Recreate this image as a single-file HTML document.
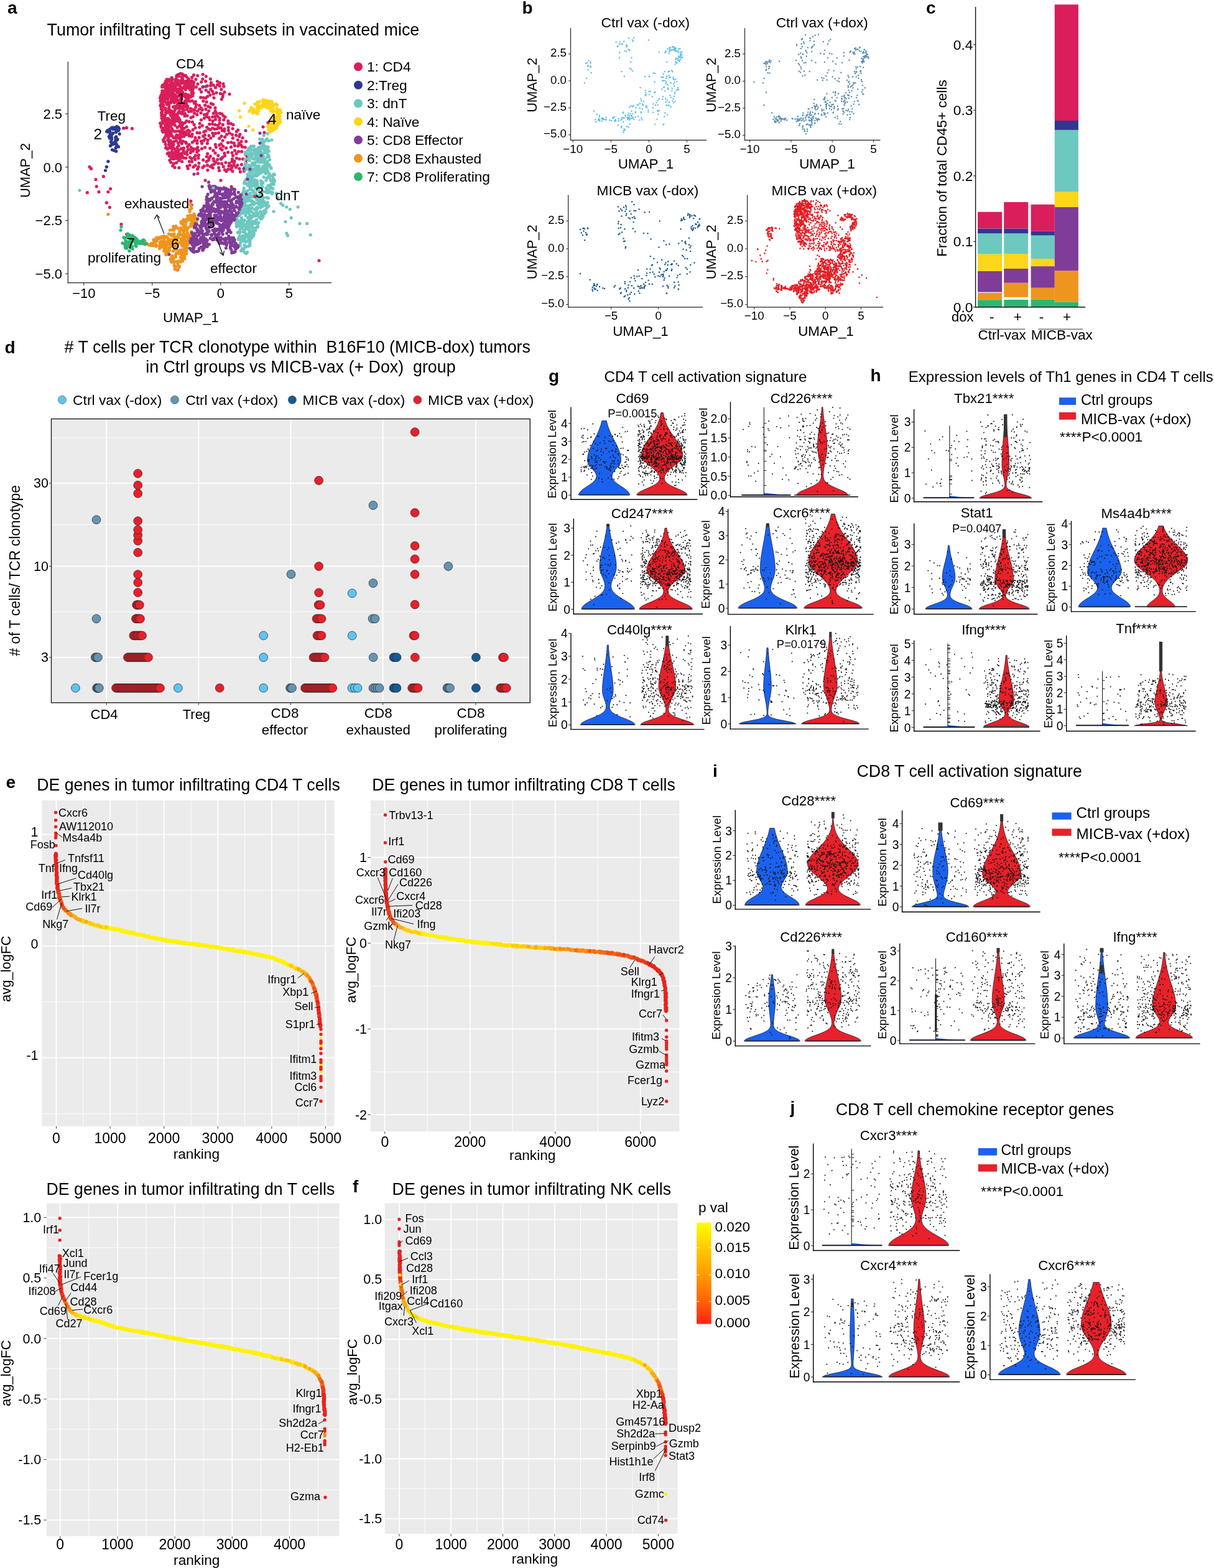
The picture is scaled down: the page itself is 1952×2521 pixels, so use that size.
<!DOCTYPE html><html><head><meta charset="utf-8"><style>html,body{margin:0;padding:0;background:#fff;overflow:hidden;}svg{display:block;}text{font-family:"Liberation Sans",Arial,sans-serif;fill:#000;white-space:pre;}</style></head><body><svg xmlns="http://www.w3.org/2000/svg" width="1952" height="2521" viewBox="0 0 1952 2521"><rect width="100%" height="100%" fill="#fff"/><text x="12" y="22" font-size="28" font-weight="bold">a</text><text x="75.5" y="56.5" font-size="26.9">Tumor infiltrating T cell subsets in vaccinated mice</text><path d="M283.9 121.8h0m1.5-1.1h0m0 1.1h0m1.8-2.2h0m.2 2.9h0m3-4.2h0m2.8.9h0m.4 3.6h0m.9-1h0m2.4-.4h0m1.3-.1h0m13.3-.6h0m6.2.9h0m8.5-2h0m5.1 3.2h0m-63.1 4.9h0m3.8.2h0m.2.1h0m3.9-3.2h0m1.2 2.6h0m4.7 1.4h0m.9-1.7h0m.4-1h0m9-2h0m.2.7h0m.2-1.1h0m.4-.4h0m.7 4h0m6.5-3.5h0m3.1 3.2h0m.1 1.6h0m0-1.4h0m5.2-2.8h0m6.2 3.2h0m10.9-.5h0m12.6-.1h0m-73.3 7h0m1.4-3.4h0m1.6 3.5h0m.7-3.5h0m1.9-1h0m.7 1.1h0m3.1 3.3h0m.6-4.3h0m1.2-.7h0m1 4.5h0m4.2-1.2h0m.1-.5h0m.9.3h0m.1-1.4h0m2 2h0m.2-.8h0m.3 2.2h0m.3-1.2h0m1-3.5h0m3.3 4.7h0m1.4-4.6h0m2 4.5h0m.5-4.9h0m1 3.4h0m.2 1.1h0m2.4-2.3h0m.1 2.7h0m.1.1h0m.5-.4h0m1-3.3h0m3.1 1.3h0m.2-2.6h0m.5 5.5h0m0-4.1h0m.2.1h0m0 1.7h0m1.9 2.7h0m1.7-1.3h0m1.2-2.8h0m.6 1.4h0m0-2.4h0m3.3 2.3h0m12.1-.4h0m6.9-1.3h0m8.9 2.4h0m10.1-2.1h0m3.9 2.4h0m5.4 1.6h0m-98.3 4.5h0m.1.7h0m.6-3h0m.1 2.1h0m1.7 0h0m1-3.5h0m0 2h0m.2.3h0m.1-.3h0m.2-1.7h0m.7 4.6h0m.1-2.4h0m1.6-1.8h0m1.8 2.6h0m.6-3h0m.8 1.7h0m.3.9h0m.4-1.1h0m.1 2.6h0m0-.9h0m.6-2.4h0m.6 1h0m.6-.5h0m1.2-.8h0m.7 3.5h0m.7-4.3h0m.5 4h0m.2-.6h0m2.5-3.4h0m0 2.3h0m.8 1.1h0m.2-2.2h0m.2 3.7h0m.6-2.1h0m1.6.9h0m2.2-2.7h0m.4-1.2h0m.6.9h0m1.1.6h0m3.4 1.9h0m6.7.3h0m1 1.8h0m.4-2.9h0m2.7-2.5h0m.7 3.5h0m1.1-.5h0m.1-2.3h0m0 1.9h0m.1 2.5h0m4.1-.8h0m1.3-1.4h0m1.2.2h0m1.7-.9h0m.2.9h0m0-1.7h0m4.5 3.2h0m2.4-5h0m8.6 4.2h0m6.7-1.2h0m5.3-.6h0m4.7-.7h0m3.3 3.9h0m3.1-4.4h0m3.6 2h0m6.6.6h0m-98.9 7.1h0m2.2.5h0m1.5.3h0m.4-1.3h0m3.1-2.1h0m3.1 2.3h0m0-4.4h0m1.5 4.8h0m1.6.4h0m0-4.6h0m.2.4h0m.4 4.6h0m3-2.4h0m.1.5h0m.7-1h0m.9 1.8h0m2.5-3.8h0m.1-.1h0m.1 3.2h0m1 .3h0m1.8-2h0m.6 1.7h0m2.5.9h0m.5-3.5h0m.4 1.5h0m1.6.1h0m1.1-1.7h0m.5 4.4h0m.5-4.6h0m.6-.3h0m1.1-.8h0m3.7 1.1h0m.1 1.9h0m.8-3h0m4.4.3h0m1-.4h0m1 2h0m.2 1.2h0m1.2-3.1h0m1.6 3.2h0m2.1-1.5h0m10.7.6h0m9.9 1.6h0m7.6-1.5h0m2.8 3.3h0m14.3-3.1h0m-96.5 9.1h0m1.2-3.3h0m1.6.5h0m.7-2.9h0m1.5 5.4h0m1-3h0m.8 3.1h0m1.7-5.5h0m1.4.4h0m0 2.5h0m.3 1.4h0m.6 0h0m1.4.2h0m.1-4.3h0m.9 4h0m3.3.4h0m1-.3h0m.2.9h0m.7-2.8h0m1.1.5h0m5.6-1.4h0m.5-.4h0m.8.5h0m1-1.5h0m1.2 2.4h0m.5-1.8h0m.5 2h0m2.2 2.9h0m.7-3.1h0m.5-1.8h0m1.4.5h0m.9 4h0m.5-.2h0m3.3-1h0m3.8 1.6h0m.2 0h0m5.7-3.6h0m.3-1.3h0m1.3-.6h0m.9 2.5h0m13-1.9h0m11.7.4h0m2.5 4.6h0m5.3-1.8h0m4.8-1.9h0m6.4 1.3h0m4 1.4h0m2.7-3.7h0m7.9 3.2h0m-111.5 6.2h0m.8-2.6h0m.2.2h0m1.5.9h0m.5 2.8h0m1.2-4.7h0m.6-.6h0m.3 4.6h0m.7-.7h0m.7-3.9h0m1.7 3.8h0m.3-3.5h0m.8 2.2h0m.9.1h0m.7 2.5h0m1.7-1.6h0m.1-.8h0m3.2-1.3h0m.5.1h0m2.9-.2h0m.9 3.8h0m1.2.1h0m.3-1.5h0m.1-3.4h0m1.6 3.9h0m1-4.5h0m1 3.7h0m.5 1.5h0m2.3-3.1h0m2.1-2h0m0-.3h0m1.4 1.6h0m1.8 4.1h0m.6-2.5h0m1.2-2.6h0m3.5.3h0m1.3.3h0m.5.1h0m.2 1.1h0m.3 1h0m1.2 2.4h0m2.6.1h0m1.1-2.4h0m1.4-2.5h0m1 2.2h0m.7-.2h0m.9-2.4h0m2.4.3h0m12.8 2.8h0m4.2.3h0m3.7.6h0m3-2.5h0m10.4 2.2h0m14.1-1.5h0m-100.1 6.6h0m.1 0h0m1.1.1h0m.4.8h0m.1-2.5h0m3.4 2.3h0m.5-2.4h0m1.4-.6h0m.1.1h0m2.1 4.7h0m1.7-.1h0m.9-5.2h0m.9 4.7h0m3.8-.7h0m.7-3.9h0m1.4 2.5h0m1 1.4h0m1.4-1.3h0m1.1-2.1h0m.3 4.7h0m1.8-4h0m.3 1.5h0m2.4-1.6h0m.1.3h0m4.5-.5h0m.8 1.7h0m1.3-3.1h0m5.6 3.6h0m.4-.4h0m1.8 1.8h0m1.3-4.1h0m.3 2h0m4.3.6h0m3.7-.5h0m5.2 1.2h0m12.7-.9h0m5.3 1.4h0m24.1-4.3h0m-98.4 10.4h0m.7-2.1h0m2.3-2.3h0m1.3 2.6h0m.4 1.3h0m.4-.3h0m5.3-2.2h0m.7 1.2h0m.6-3.2h0m.9.3h0m.8 1h0m.6 3.5h0m2.7-4.6h0m10.4 3.6h0m.2 1h0m.5-2h0m.4-2.8h0m1.9 3.6h0m2.1-.6h0m5.3 1.1h0m.1-3.2h0m.7 3.4h0m.9.6h0m1.6.1h0m.8-2.3h0m2.3 3h0m10.6-4.7h0m3.1 2.1h0m5.1 1.4h0m9.1-.3h0m9.7-2.9h0m3.2 1.5h0m-83.5 7.5h0m.4-3.4h0m1.1 2.7h0m.7-2.6h0m.7-.7h0m3.8 4.5h0m.5-1.7h0m5.3-.2h0m.1 2h0m6.8-3.9h0m2.2-.8h0m.6 5.3h0m2.1-4.9h0m.2 1.6h0m1.1-.8h0m.8 1.5h0m.5-.8h0m2.7 1.5h0m.8-3h0m1.9.8h0m.3.5h0m.3 1h0m.3.5h0m2-.5h0m.6.1h0m3.7-2.9h0m1.8 4.7h0m.6-1.4h0m5.2.2h0m2.9 1.4h0m5.5-3.4h0m6 2.9h0m2.7-2h0m2 3.1h0m5.7-1h0m3.7-4.5h0m3.3 1.6h0m8 .6h0m-86.5 7.7h0m0 .2h0m1-1.1h0m0 .9h0m.7-3.1h0m5.3 2.5h0m.1 1h0m.5.4h0m1.1-3h0m1.3.7h0m2.1 1.4h0m2.1-3.2h0m1.9 5h0m.2-4.1h0m1.3 1.2h0m3.2-.6h0m6.3 1.8h0m1.2.4h0m.4-2h0m4 3.4h0m.7-3h0m.3 2.9h0m2.4-5.2h0m1.8 5h0m6.2-3.2h0m4.3-.4h0m4.7 3.3h0m0-5.2h0m4.9 1.8h0m5.5 2.7h0m10.2 1.3h0m2.5-4.5h0m7.5 4h0m2.9-4h0m2.2 3.9h0m5.2.1h0m3.3.7h0m-97.1 2.6h0m1.3 2.2h0m.9-.5h0m0-1.3h0m1-.5h0m.2.1h0m2.2-.8h0m9-.8h0m.4 2h0m1.4-.7h0m.8-.9h0m1.9 4.1h0m.7-2h0m.4-2.9h0m.7 1.3h0m0-.6h0m.6 4.2h0m1.9-2.6h0m.3-1.7h0m1.1 1.3h0m.5 0h0m1.2 3.3h0m10.8-2.4h0m4.1-.3h0m9.3 1.4h0m6.4-3.2h0m11.8-.1h0m3.6 3.1h0m3.5 1.6h0m6-.9h0m4.5-.9h0m3.7 0h0m9-1h0m3 2h0m-101.9 1.9h0m1.3 4h0m.3-2.3h0m1.6 1.5h0m1.3-1.5h0m.2 2.1h0m.8-1.4h0m.2-2.9h0m.5 4.3h0m1.3 0h0m1.2-2.5h0m.1 3.3h0m0 .2h0m1.2-4.1h0m.1 1.8h0m.4-1h0m.5-.4h0m2 2.6h0m3.9-.6h0m.1-3.5h0m.8 2.8h0m1 .6h0m.6 1.7h0m.2-5.3h0m.8 2.9h0m.1-.5h0m1.3 1.6h0m2.6.3h0m.5-1.2h0m.6-2h0m2-1h0m1.7 3h0m10.7 2.1h0m7.1-5.6h0m16.4 3.8h0m5-2.9h0m8.9 2.6h0m4.9 2.1h0m4.3-2.7h0m6.4 1.4h0m.2-3.2h0m6.8 2.6h0m7 2h0m-109.2 3.3h0m1.3 2.2h0m2.4-2.5h0m4.3 3.2h0m.9-4.1h0m1.4.7h0m1-.6h0m.4-1.8h0m1.3 1.1h0m.3 3.7h0m.8-4h0m1.7-.8h0m.7.1h0m.3 1.1h0m.7 1.1h0m2.3 2.2h0m.3-4.2h0m1.3 2.8h0m2.3-2.4h0m5.7-.6h0m2.5 2.3h0m2.7-.6h0m1.1 3.3h0m3.8-2.7h0m6.8-1.8h0m5.3.5h0m2.8 4.2h0m9.1-1.8h0m15.6 1.1h0m4.8-.4h0m4.4 1.3h0m7.2-2.3h0m5.1 2.1h0m8.7-2h0m4.3.3h0m3.7 1.8h0m-176.3 5.7h0m4.8-.8h0m8.9 1.3h0m46.5-4.1h0m.4 2.1h0m2.5 1.5h0m4.3-1.4h0m.9-.5h0m1.9-2.6h0m2.5 3.7h0m.3-1.1h0m2.9-1.4h0m2.1 4.1h0m4.6-5.7h0m3.7 3.6h0m3.7-2.6h0m2.9 2.7h0m1.1-3.3h0m3.3 4.6h0m4.1-2.5h0m13.9 1.8h0m6.8-1.1h0m4.5-2.4h0m7.4 2.4h0m9 1.5h0m7.2 1h0m1.5-5.5h0m1.5 3.9h0m3.5.1h0m11.8-.6h0m7 1.9h0m-113.4 2.7h0m.9-1.5h0m.1 4.1h0m3.1-2.6h0m.1 2.8h0m.4-4.1h0m2.5 3.4h0m.5-4.1h0m2.7 1.3h0m3.2 1.5h0m2.2-.3h0m3.3.8h0m1.4.5h0m2.4-.3h0m3.5-.2h0m2.7.2h0m2.7-1.8h0m1.9 2.3h0m4.7.4h0m3.3-2.5h0m2.7 1.9h0m5.1-2.6h0m17.6 3.3h0m3-1.4h0m4.3-3.5h0m3 1.5h0m7-1.1h0m12.1 2.2h0m3.6 1.1h0m0-3.4h0m6.5 2.2h0m13 1.9h0m2.4-2.5h0m-115.9 9.2h0m.1-1h0m.9-1.8h0m2 2.2h0m2.2-4.2h0m.7 4.3h0m1.2.1h0m1.2-3.5h0m2.1 4.5h0m6.2-.3h0m.8-1.4h0m4.3.6h0m1.8-3.6h0m.8.9h0m4.1-.2h0m.7 2.7h0m4-1h0m3.2-1.4h0m1.4 3.3h0m4.5-2.5h0m8.1-2.5h0m4.1.3h0m5.5 5.2h0m2.7-1.7h0m6.5.8h0m5.9-3.8h0m1.4 4.4h0m3.4-4.2h0m4.9-.7h0m4.6 5.2h0m8.5-2.9h0m4.5-2h0m4.4 2.3h0m6.1 1.1h0m6.2-1.3h0m-123.1 8.6h0m2.2-3.3h0m5.9.2h0m8.4 0h0m3.2-.3h0m4.8.5h0m1.4-1.1h0m1 3.2h0m2.3-3.8h0m4-.9h0m12.4 0h0m5.8 2.2h0m6.1-.2h0m9.6 1.9h0m8.9-1h0m14.1.3h0m8.9-2.1h0m12.7 1.6h0m10.2-2.6h0m5.5 2.3h0m-127.1 5.6h0m2 .6h0m4.7-2.7h0m1.9 3.6h0m2.4-2.7h0m4.1 2.5h0m1.8-1h0m3.6-1.4h0m2.9 4h0m2.9-1.6h0m3.2 2.3h0m1.1-3.4h0m.5-.4h0m4.2 1.3h0m1.2 1.9h0m9.7-1.4h0m3.3-2.5h0m4.4-.2h0m.1 4.2h0m6.5-3.2h0m1.1 3.5h0m3-4.6h0m5.8 4.5h0m.7-5.1h0m24 .6h0m8.4 3.3h0m5.2-.5h0m4.5 1.4h0m6.1-5.2h0m2 5.4h0m3.7-3h0m7.7-.1h0m-129.5 4.8h0m1.1 4.7h0m4.3-4h0m1.2 3.9h0m1.5-5.5h0m.1.1h0m.1 2.7h0m2.8-1.5h0m.5 3.5h0m1.2-3.6h0m6 4.5h0m2.3-2.8h0m14.2 1.5h0m2.7-2.9h0m13.6 4.1h0m28.5-4.4h0m1 4.2h0m5.5-3.4h0m2.8-1.7h0m3.1 3.7h0m12.9 1.2h0m5.9-2.1h0m5.3.4h0m4.6-1.6h0m2.2 3.1h0m4.6.6h0m-127.7 1h0m2.8 1.9h0m3.3-2.1h0m3.9 1.6h0m3-.5h0m1.7 1.8h0m5.3.6h0m.5 1.7h0m4.1-3.6h0m3.8-1.2h0m.4 4.5h0m.1-4.5h0m7.2 2h0m4.5 1.6h0m.1-4.6h0m3.3 5.9h0m1.1-3.5h0m4 .2h0m3.6 2.2h0m5.3-2.7h0m5.1-2.1h0m8.2 1.4h0m5.2 3.5h0m11.5-3.1h0m2.6 2.2h0m6.5-3.1h0m14.1 4.3h0m-108.5 4.8h0m1.9-1.5h0m2.8.9h0m.5.3h0m1.9-2.6h0m.2 4.2h0m2.8-2.7h0m3.5-.7h0m1.5-1.5h0m.1 2.7h0m4.1 1.3h0m4-.9h0m4.7.3h0m3.4-3.2h0m.6 5h0m5.1-3.2h0m10.4-.8h0m17 2.4h0m12.4-1h0m14.8.4h0m5.7-1.6h0m6.4.7h0m7.1 1.5h0m3.5-3.5h0m5 .2h0m6.4 4.8h0m-122.8 2.3h0m3.3 2.4h0m.1 1.4h0m3-3.3h0m2.4-.7h0m.7-1.1h0m1.5 4.9h0m1.9-4.2h0m.5 1h0m.2 3.7h0m2.6-3.7h0m.6-1.1h0m1.3 4.5h0m0-.5h0m.6-3.7h0m2.4 1h0m2.2 2.6h0m3.5.1h0m6.5-1.1h0m7.2-.1h0m1.7-2.8h0m4.5 4.1h0m.5-4.8h0m13 2.4h0m4.1 2.1h0m1.8-2.8h0m12.5-.9h0m7 2.7h0m3.8-2.5h0m13-.2h0m5.9 4.1h0m16.9-3h0m-124.5 6.4h0m5.3-2.3h0m1.8-.1h0m7.5 2.8h0m.7-.3h0m4.5 2h0m11.7-.2h0m3.8-4.5h0m.4 4.8h0m5-3.4h0m13.1.7h0m5.5 2.5h0m3.3-2.4h0m7.7-2.1h0m.7 3.3h0m2.9 2.4h0m2.9-4.3h0m6-.6h0m17.2 3.7h0m.6-3.8h0m3.5 3.3h0m8.2-3.6h0m5.5.1h0m5.5 1.3h0m-121.5 4h0m3 5.7h0m1.5-3.5h0m4.4-1.5h0m21.5 3.9h0m8.9.3h0m5.9-3.6h0m8.3 4.7h0m5.3-1.3h0m7.4-.2h0m3.4-1.4h0m6.9-1.3h0m5.4.4h0m6.3-1.9h0m5.1 5.7h0m.6-4.4h0m3.3 3.7h0m4.3-.4h0m.2-3.4h0m5.5 3h0m6.5-.9h0m6.9-2.9h0m-251.3 6.6h0m2.5 2.9h0m134.5-1.9h0m6.8.4h0m13.2-2.4h0m1.2 3.6h0m8.7-2.5h0m6.6 3.4h0m1.7-3.6h0m6.7 1.1h0m12.5-1.4h0m3.9 2.1h0m9.4-.3h0m7.6-1.8h0m7.4 4.4h0m4.2-.2h0m2.1-2.7h0m6.7-.4h0m5.1 2.1h0m-66.8 7.9h0m15.9-5.4h0m18.7.7h0m8.9-1.1h0m2.4 2.3h0m10-.2h0m12.5.9h0m6.1-1.3h0m-226.1 8.8h0m-12.4 4.9h0m176 1.4h0m25 0h0m-199.8 9.8h0m216.8.2h0m-213 8.5h0m14.9 0h0m3.7-5h0m-37.3 6.2h0m31.1 16.2h0m135.4-2.5h0m79.2-1.4h0m-78 7.6h0m-131.6 3.7h0m18.6 27.4h0m8.7 16.1h0m309.3 42.2h0m-227.4 15h0" stroke="#DA1E5C" stroke-width="5.2" stroke-linecap="round" fill="none"/><path d="M179.5 206.4h0m0-1h0m1.7-.2h0m1.9-.2h0m4.5-.8h0m.1-.9h0m2.8 1.6h0m-18.8 6.7h0m1.3-1.7h0m.3 2h0m.1-2.4h0m2.3.3h0m.4 1.8h0m.6-4h0m.2 3.9h0m5.2-3.7h0m4 .3h0m.3 4.3h0m2.1-2.4h0m1.4.1h0m.8-.6h0m.9-2.4h0m-14.6 9.3h0m.8.6h0m.4 1.3h0m1.8-2h0m1.5-2.1h0m10.7 1.1h0m-16.9 4.3h0m1.2.1h0m.1 2.6h0m2.9-1.3h0m.1 3h0m6.1-2.9h0m.3 1.9h0m.8-3.1h0m1.1 4.1h0m1.2-.2h0m-10.7 4.2h0m4.8 1.1h0m1.4.2h0m1.3-3.8h0m.2.7h0m.6 4.7h0m1.3-5.7h0m-10.5 9.2h0m2-2.1h0m2.2-.5h0m3-.7h0m3.3 2.6h0m2.5 2.2h0m-10 4.9h0m2.9 1.1h0m2.8-4.5h0m.6 5.8h0m-12.9 16.4h0m-2.5 8.7h0m-1.9 5.7h0" stroke="#2B3990" stroke-width="5.2" stroke-linecap="round" fill="none"/><path d="M414.1 164h0m.9.8h0m2.4-1.3h0m.4-.3h0m5-2.6h0m.7 2.1h0m.6-2.3h0m2.8 3h0m.7-1.1h0m.9.5h0m.2-1.1h0m1.6 3h0m.3-.7h0m1.6.3h0m1.6-2h0m3.3.8h0m-44.1 2.9h0m16.9 1.1h0m.6.5h0m3.6.6h0m.3-3h0m3.8 5.5h0m4.1-2.2h0m.5.2h0m.4 1.1h0m.2-3.9h0m.5 4.5h0m1.7-2.6h0m.1 2.1h0m1.6.6h0m.5-.6h0m.4-4.6h0m.5-.2h0m.3 1h0m.8 4.4h0m1.6-3.3h0m2.4-1.8h0m.6 3.2h0m3.5-2.1h0m2.1 3.6h0m.4-2.1h0m.3 1h0m3.1-1.6h0m1.8 1.2h0m-41.9 8h0m.1-3.7h0m.3.7h0m.7 2.1h0m2 .7h0m.8-.9h0m5.4 1h0m.6-3.9h0m3.1 1.2h0m4.1-.2h0m5.9-2h0m1.9-.2h0m1.5 1.9h0m.4-2.1h0m1.6 2.8h0m.4-1.8h0m1 .9h0m2.6 2.5h0m1.6.5h0m.4-3.6h0m.8 3.3h0m.3.2h0m5.6-1.8h0m4.9 2.7h0m.7-.4h0m-65.7 1.5h0m16.3 1h0m.5-.7h0m1-1.3h0m3.9 4.7h0m2.5-4.2h0m1.4 2.1h0m1 .5h0m.1.4h0m.5.8h0m1.7-4.1h0m1.6 1.2h0m.9-.4h0m19.3.9h0m3.6.5h0m.1-1.8h0m.5 1.6h0m4.7.2h0m.9-1.7h0m.3 4.4h0m2.1-3.6h0m1.6 4.3h0m2.6-2.1h0m-65.3 7.3h0m27.7-4.9h0m24.5 5.7h0m4.4-1h0m.5.9h0m1.9-2.5h0m.2.2h0m.9.1h0m.5-1.5h0m1.8-1h0m.9 2.7h0m-12 5.3h0m1.5-.3h0m1.4.3h0m1.2 1.9h0m.3 1h0m.2-1.3h0m1.6-.7h0m.8.6h0m.5-2.1h0m.1 2.3h0m.3-2.1h0m1.1 3.2h0m2.4-3.1h0m.9.4h0m-18.1 8.6h0m.4-3.4h0m.2 1.9h0m.4 1.4h0m.8-3h0m.2-1.1h0m3.4-1.2h0m.1 4.1h0m.1-2.9h0m.2 2.1h0m.1-.9h0m.6.6h0m.7-1.2h0m6.4 2.8h0m1-1.4h0m.5.2h0m.4-.3h0m3.4-2h0m-50.9 6.6h0m30.6 0h0m1.5 3.6h0m.6-1.8h0m3.4-1.4h0m.5 3.3h0m1.6-1.4h0m1.3-.8h0m1-2.3h0m3.2 4.2h0m.7-.3h0m.5-3.1h0m1.4-1.2h0m-39.5 7.2h0m25-.4h0m1-1.3h0m1.4 4.8h0m.9-3.1h0m2.9 1.1h0m1-2.9h0m1.2 1.4h0" stroke="#FDD619" stroke-width="5.2" stroke-linecap="round" fill="none"/><path d="M424.1 217.6h0m5.9-2.6h0m-12.4 8.7h0m4.4.1h0m7-.5h0m-10.9 6.7h0m3.8-2.3h0m1.2 2.7h0m.8-.8h0m3.1-3.4h0m5.2.2h0m4.8-1.4h0m-33.9 10.4h0m2.8-.2h0m2.5 0h0m8.5 1.5h0m.5-.2h0m3.4-1.4h0m4.4-.5h0m.7 1.7h0m3.4-.3h0m2 .3h0m-32.9 5.1h0m1.5-3h0m0 3.8h0m1.9-4h0m.1 2.3h0m.7-1.8h0m2.3 2.4h0m3.8-.8h0m.7 1.7h0m1.5-1.7h0m4.2-2.4h0m.6 4.9h0m2.7-2h0m.1.9h0m1.7-3.7h0m4.1 1.7h0m.4-.2h0m.7 3h0m.4.3h0m2.4-5.5h0m1.4.3h0m.1 1.6h0m.1 3.6h0m.8-2.2h0m-36.6 6.8h0m.7-2.6h0m1 1.2h0m.3 1h0m3.5.6h0m3.7-1.4h0m.9 2.6h0m1.9-1.2h0m2.7-2.8h0m2.2.3h0m.1 1.2h0m.5-2.4h0m.5 3.3h0m1.7-3.9h0m.5 1.9h0m1.9 3.6h0m.2-3.4h0m3.4-1.6h0m.6 4.8h0m2.4-1.5h0m3.7-1.6h0m1.2-2h0m3 4.8h0m1.6-5h0m-32.3 5.8h0m.3 4.6h0m1.8-1.5h0m3.7 2.5h0m.1-5.2h0m.4 5.3h0m3.5.2h0m.5-1.4h0m.9-3.6h0m.4 1.4h0m.7-.2h0m2.2 3.1h0m3.3-3.6h0m.2 4.3h0m.5-1.1h0m.5-2.9h0m2 2.3h0m2.7-2h0m5.8 1.6h0m2.4-2.7h0m.8 1.5h0m-38.6 4.2h0m4.9 0h0m2.3 2.2h0m7.4-2.3h0m0-.1h0m4.2 3.9h0m1-2.3h0m.6.2h0m.4 1h0m.2 2h0m1.1 0h0m1.5-3.6h0m2.7 4h0m.7-3.2h0m.2-.4h0m.2 3.2h0m3.2-1.5h0m.5-3.3h0m.3 1.9h0m.4 1.3h0m.1-3h0m1.5 4.6h0m.4-.8h0m2 .2h0m3.9-3.1h0m-40.2 10.2h0m1-2.9h0m.1-1.6h0m.8 1.3h0m4.7 1.7h0m5.3-2.2h0m.2 2.6h0m.6-4.3h0m.7 1h0m2.8 3.3h0m.4-4.1h0m4.2 5h0m2.2.1h0m8.5-5.2h0m.3-.2h0m.8.9h0m.8 1.9h0m1.9 1.6h0m.6-4.5h0m.5.5h0m.3 3.6h0m.1-3.7h0m.2 4.7h0m.7-2.3h0m.5 1.2h0m.5-1.3h0m-37.3 6.8h0m2.2 1.2h0m.6-2.8h0m1.5 2.9h0m.6-3.2h0m2.7.6h0m.4-1.5h0m3.5 3.9h0m3.3-1.2h0m2.7.1h0m.5 0h0m1.8 0h0m3.8.6h0m1.8-.2h0m2.5-3.7h0m1.8 3.7h0m.3-4.1h0m.1 2.1h0m3.8-1.4h0m.6 4h0m4.3-4.8h0m1.1 2.2h0m.8 1.2h0m.5-.3h0m-42 2.8h0m7.2 3.8h0m1.3-2h0m.9 3.2h0m2-.8h0m.6-2h0m4.8-1.7h0m.1 4.8h0m.4-5.1h0m.5 2.4h0m1.5 2.7h0m2.5-2.9h0m1.2-2h0m.4 1h0m.3 4.4h0m.2-2.6h0m.1-.6h0m2.6 1.5h0m.6-4h0m3.1 2.8h0m2.7 3.1h0m.4-2.2h0m.2 1.7h0m.5-4.5h0m.2 2.8h0m.7-.1h0m1.1-2.7h0m.7 2h0m-33 4.3h0m.3 3.6h0m3.1-1.4h0m1.9 0h0m2.4.5h0m3.2-1.7h0m.1.6h0m.4 1h0m.7-.6h0m1.4-2.1h0m1.1.7h0m.4 1.8h0m1.8-2h0m9.5 4.1h0m6.8-.4h0m2-2.7h0m.2-2h0m2.8 3.4h0m2.1-.1h0m1.3-2.2h0m1.1-1h0m1 1.2h0m-46.1 7.4h0m.1.3h0m2.9.2h0m3.2-1h0m.8-2h0m1.8.2h0m1.4-.4h0m0 4.4h0m4-1.1h0m1.5 1.2h0m2 .1h0m6.1.2h0m8.7-.4h0m1-3.5h0m3-1.2h0m3.3 3.3h0m.4 1.7h0m2.3-1h0m1.7-.3h0m0-.3h0m.1-1.4h0m.9 2.2h0m1 1.3h0m-49 3.8h0m1-3.3h0m1.8 3.5h0m1.5.5h0m3-1.2h0m2.2-1.6h0m4-1.4h0m.1 2.1h0m.1-2.2h0m.2 3.4h0m.5 1.7h0m1-.8h0m1.2-4.3h0m.7 3h0m0 1.8h0m1.5-3.7h0m1.9.5h0m.2-.2h0m.1 3h0m.3.5h0m6.1-.5h0m.3-1.9h0m.1-2.3h0m.1 4.9h0m2.1-2.8h0m.3.9h0m12.6 2.2h0m1.9-1.2h0m1.5 1.3h0m1-3.3h0m.4 2.7h0m.1-3.9h0m0-.4h0m-48.1 10.6h0m6-4.1h0m1.7.2h0m.8.1h0m1.2 2.9h0m.3-4h0m.1.5h0m4.1 1.2h0m1.9-1.9h0m2.2 1.5h0m.6 4.2h0m.4-2.9h0m1.2 2.7h0m3.2-2.4h0m5.3 1.2h0m.5-1.6h0m6 2.4h0m3.2-4h0m3.3-.7h0m.2 1.3h0m3.1 3.6h0m-309.7 3.5h0m264.1-.9h0m2.7 3.4h0m2.9-1.5h0m4.1-2.6h0m2.9.3h0m2.3 2.3h0m0 1.3h0m1.2.1h0m5.4-2.6h0m1.8-.8h0m.1-1h0m.3.2h0m7.5 3.3h0m4.2 1.2h0m.4-.7h0m.6-4.9h0m.4 2.8h0m1.9-.5h0m1.7 3.2h0m.8-5.1h0m1-.4h0m1.5 5.6h0m3.2-5.4h0m-50.3 11.7h0m1.5-4.5h0m.1 4h0m.3-4.9h0m5.1 2.4h0m.5 3h0m2.4-1.8h0m3.7-2.6h0m1.5 4.1h0m4.8-1.6h0m.6.5h0m.8-.9h0m1.1 2h0m.1-1.5h0m.5-1.9h0m6.7-1.1h0m.8.8h0m2.2 2.6h0m.4.3h0m7.2-4.2h0m2.7.1h0m5.7-.8h0m.1 2.4h0m.4-1.2h0m.2-.8h0m6.3 1.4h0m-58.6 5.4h0m1.9.6h0m1.2 3.8h0m2.1-2.5h0m3.6-.7h0m3.4 2.1h0m.7-4.2h0m2.2 5.4h0m1.5-4.2h0m3 .5h0m2.1-1.9h0m3.7 1.8h0m1.7 3.9h0m2.1-3.4h0m.8-2.2h0m1.2 1.2h0m1.9 4.5h0m.2 0h0m.7-5.4h0m2.8 5.3h0m.9-3.2h0m5 .2h0m.4-.5h0m2.6 1.2h0m15.6-.5h0m-58.8 4.2h0m1.3 3.6h0m.8-2.2h0m1.2 1.5h0m2.1 1.2h0m0-4.9h0m.4 4.2h0m.5-2.8h0m3.1.4h0m2-.4h0m4.2.9h0m1-.8h0m3 1.7h0m3.6 2h0m3.8-.4h0m1-3.4h0m1.6 4h0m.9-.1h0m.3-3.8h0m1.7 3.2h0m1.2-2.7h0m3 1h0m4.2 2.1h0m1.2-.8h0m-43 4.7h0m2.7-.9h0m1.3 1.6h0m2.6.3h0m.3-2h0m3.5 1.8h0m1.5.1h0m3.3-1.6h0m3.2-1.3h0m1.5-1h0m.7 1.6h0m8 0h0m4.5 2.7h0m2.4-.2h0m.5-1.4h0m1.8-.6h0m2.5-1.5h0m.8 3.2h0m3.6-.1h0m19.7-3.8h0m3.3 2.7h0m5.8 2.8h0m18.4 0h0m-93.9 4.9h0m.4-4h0m2.7 5.1h0m1.5-3.1h0m.7 3.3h0m2.3-.3h0m2.2-2.7h0m3.9-.8h0m.2-1.9h0m2.2 1.5h0m1.8.9h0m2.3-1.4h0m3.8 2.8h0m2.9-2.1h0m.5-1.5h0m1 2.8h0m0-2.1h0m4.9-.5h0m8.6 3.4h0m2.5-3.6h0m.4-.4h0m36.2 3.4h0m-83.8 5.8h0m1.5 1.1h0m1.6 1.5h0m.6-3.9h0m3.2 1.7h0m2-.5h0m4.5-.1h0m2.3-1.9h0m1 2.3h0m1.9-2.8h0m3.6 1.1h0m3.1 2.3h0m4.7-1.7h0m2.6 1.8h0m3.5-3.1h0m3.2 4h0m2-4.4h0m1.4 3.7h0m2.2-2.4h0m12.6-1h0m-60.4 8.3h0m4.6-1.3h0m.3-1.3h0m4.1 4.5h0m6.3-3.6h0m3.5 3.5h0m.3.2h0m1-1h0m2-3.4h0m1 1.9h0m2.2-.5h0m1.4.8h0m4-1.5h0m.1.6h0m3.5-1.1h0m2.3 2.8h0m3.6-2.9h0m.2 4.8h0m.3-2.1h0m.2-3.6h0m.3 1.4h0m2.3 1.6h0m45.1 2.1h0m-88.5 5.3h0m.8-2.1h0m.5-1h0m.2 3.9h0m3.5-1.1h0m3.5 1.4h0m.4-5.2h0m1.7 4.1h0m.3-.6h0m2.2-.7h0m.4-.1h0m4.5 2.3h0m2.9-4h0m1.2 3.3h0m1.1-4.2h0m1.1-.4h0m2.1 5.6h0m1.9-.8h0m.2.5h0m4.2-3.2h0m6.7-1.2h0m2.1-.8h0m37.8 5.4h0m-79.1 1.4h0m.6 2.4h0m3.7-2h0m.7 1h0m.5 2.9h0m.3-2.9h0m3.7 2.6h0m0-2.5h0m1.6-1.8h0m1.6 4.3h0m2.4-.8h0m1.4.8h0m1.1-4.2h0m.2 1.2h0m1.7.6h0m1.2 0h0m.2.9h0m1.6-.7h0m4.4-.1h0m2.5-.3h0m1.3-2.3h0m3.1 2.6h0m1.2-.9h0m.8-1h0m66.2 1.6h0m11.9 0h0m-113.8 4.3h0m.7.7h0m2-1.2h0m.3.4h0m2.8-.3h0m.3 5.2h0m1.8-3.3h0m1.6.7h0m2.5-2.4h0m3 0h0m.6 4.6h0m3.1-3.6h0m1.2 1.7h0m.9-1.1h0m.6-1.2h0m.8 1.3h0m1.3-1.1h0m1.2-.9h0m1.7 3.4h0m.2-1.1h0m3.9 1.1h0m3.1-2.5h0m.3 1.2h0m.8-1.7h0m-32.6 10.2h0m1.7-.8h0m2.3 0h0m4.8-.2h0m.8-3.2h0m1.5 1.2h0m.1-1.1h0m.5.8h0m6.3-1.1h0m.4 4h0m0-4.1h0m1.7 1.2h0m.8 2.9h0m3.5-2.4h0m.4.4h0m3.9-1.2h0m50 4.8h0m-76 5.3h0m.4-5h0m3.6 5.4h0m1-1.7h0m4.5-3.4h0m.3 3.1h0m.2-3.2h0m1 4.7h0m3.8-3.3h0m1.4-1.7h0m1.3 3.1h0m.5 2.1h0m2.4-3.4h0m.2 2.8h0m1.1-1.2h0m.2 0h0m1 .3h0m.3-1.7h0m.6-2.1h0m54 3.6h0m36.7-1h0m-115.9 7.3h0m0-.8h0m.5-1.5h0m1.9-.5h0m.5-.1h0m.7 2.2h0m1.1.9h0m.2 1.5h0m.2-2.8h0m2.7-.4h0m1.3 2.2h0m.2-3.7h0m.4-.9h0m.6 2.6h0m5.7-2.2h0m0 .7h0m2.8 2.4h0m2.7-2.2h0m-18.9 10.3h0m.9-3.3h0m4.9-1.6h0m3.7.6h0m.1.7h0m2.7-2h0m2.7.1h0m.3 5h0m.3-1h0m0 1.4h0m.4-4.2h0m-15.7 6.6h0m6.6-1h0m1.1 2h0m.3 1.1h0m1.8-1h0m.1 0h0m.1.4h0m4.1-.8h0m1.2-1h0m-14.1 8.5h0m1.8-3.4h0m1.1 2h0m.3 1.7h0m.2-.4h0m1.3-3.2h0m1.8 6.4h0m2.1 1.1h0m1.5-1.8h0m101.7 31.7h0" stroke="#6DC8C0" stroke-width="5.2" stroke-linecap="round" fill="none"/><path d="M306 328h0m1 4h0m-1.5 5h0m2.5-2h0m-134.1 9.5h0m131.1-4.5h0m7.1 4.2h0m-10.3 3.2h0m4.1-1.4h0m.9 3.9h0m.6-1.1h0m.2-2.1h0m.2 1h0m.5 1.5h0m.8-2.1h0m.3 2.6h0m.2-2.7h0m2.2 1.7h0m1.7-1.3h0m-22.7 9.4h0m2.1-.4h0m1.5.5h0m.7-1.7h0m0-2h0m4.1.3h0m0 .2h0m.2 3h0m.1-3.5h0m2.3-1.3h0m.3 1.5h0m2.8.3h0m.1-1.7h0m2.5-.7h0m1 5h0m.2.2h0m1-4.3h0m.3-.6h0m2.4 1.1h0m3 0h0m.6 3.6h0m.2-1.5h0m.2-3.3h0m-24.8 7.8h0m.5-1.1h0m.3-.5h0m1.1.6h0m1.9 4.4h0m2.7-1.5h0m.3.1h0m8.8-1.3h0m2.2 3h0m.8-3.7h0m.6-.2h0m.7-1.5h0m1.2 1.2h0m.1 2h0m2.4-3.2h0m-36.4 6.4h0m.4 2.5h0m1.2 1.5h0m2.3-3.6h0m.2-.9h0m2.5 3.2h0m5.1-.1h0m1.3.6h0m3.1-4.1h0m2.4 3.6h0m1 2h0m1.9-2.6h0m1.7 1.5h0m.1-.9h0m3.4-2.5h0m-32.1 5.8h0m.8-.2h0m3.5.1h0m1.6.4h0m9.3.5h0m.5.4h0m4.9-1.8h0m.9 3.4h0m1.6-1.9h0m4.1-1.4h0m.7 4.7h0m.4.2h0m5.6-1.6h0m.3.2h0m.6-.4h0m-47.3 8.1h0m2.7-1.1h0m3.8 1.1h0m4.1-4.5h0m2.8.8h0m1 .6h0m.9 1.4h0m.3-2.4h0m3.1 2.4h0m.7-2.8h0m4.3 4.6h0m1.9.1h0m.3-3.9h0m0 2.8h0m1.6-3.9h0m.3-.7h0m.8-.1h0m2 2.2h0m3.5.9h0m1.2.3h0m.4-2h0m1.1 2.7h0m.1.1h0m1.3-.9h0m.9-1h0m.7 2.2h0m1.9 1h0m2.8-2.3h0m.5 1.9h0m1-3.1h0m-73.8 9.9h0m14-1.3h0m2.9.4h0m1.1-.2h0m.1-3.2h0m3.1-.8h0m1.4 1h0m.3 1h0m2.7-2.9h0m.7 1.4h0m3.2 4.6h0m1.4-4.9h0m.4 1.2h0m1.5-1.3h0m3.3-.3h0m1.2 4.8h0m.8-2.3h0m.7.8h0m.1 1.5h0m4.3-1.3h0m1.7.1h0m2.3.1h0m.6-3.9h0m3.2 4.2h0m1.4-3.1h0m1.6-1.3h0m4 2.7h0m1.5-.6h0m0 2.5h0m1.6-1.2h0m.3-3h0m.1 2.5h0m1.5-1.4h0m.7 2.2h0m.3-1.9h0m.6 3.9h0m3.8 0h0m.4-5.3h0m.9 1.7h0m.7 1.1h0m.8 2.1h0m-74.2 5.4h0m6.9.1h0m6.2-.4h0m3.4-.7h0m.5-.9h0m1.9-1.2h0m1.6-.7h0m.8-.8h0m.3 0h0m.4 0h0m4.9 2.6h0m.7 2.4h0m.5-.1h0m.9-4.1h0m1.7 3.8h0m.1-3.6h0m1.3 3.1h0m.9.3h0m1.9-.1h0m0-2.5h0m.3.7h0m.7-1.3h0m0 0h0m.4 3.4h0m.7.2h0m.3-2.7h0m1.6 3.2h0m.4-3.5h0m2.4.4h0m.1 2.4h0m0-1.3h0m.8 2.2h0m.7-3.6h0m1.7-1.2h0m.2 2.7h0m1.1-1.3h0m.6 1.4h0m6.7-2.6h0m.2 2.3h0m.9.7h0m.5.5h0m4.4-1.5h0m0-1.1h0m2.3 3.6h0m.3-1.6h0m2.5-2.7h0m.4 1.7h0m2-.2h0m.4.1h0m.3-2.1h0m.5 4.1h0m.9.2h0m.3-4.6h0m.4 1.2h0m1.8.1h0m.2 3.7h0m-62.9 1.1h0m2-.6h0m.8.5h0m.8.9h0m3.8.5h0m4.5.8h0m.4-2.4h0m4.8 2.1h0m2.2 0h0m1.1 1.3h0m.8 0h0m3.8-2.6h0m.4.2h0m.9 2.1h0m1.8-1h0m.5.7h0m.2-1.2h0m3.3 3.8h0m2.5-1.2h0m1.5-2.3h0m4 .1h0m.8 2.2h0m.6-.3h0m.8-3.6h0m.1 4.8h0m2.1.1h0m1.4-3.2h0m7.9-1.4h0m.5 1.4h0m1.2-1.5h0m.6 2h0m1 .6h0m.4-2.6h0m.4 4.5h0m.3-4.7h0m3.2-.1h0m0 4.8h0m.2-3.4h0m.6-1.3h0m-44.5 5.9h0m7 3.9h0m.4-4.1h0m.6.9h0m.4-.8h0m3 3h0m.1 1.2h0m1.4-2.5h0m.9 1.7h0m.5 1.3h0m.5-4.9h0m1.2 3.3h0m5.8 1h0m2.4-3.3h0m2.1.8h0m4.6 1.8h0m1.2-.4h0m1.6-.6h0m1.8 1.4h0m.4-1.9h0m4.7-.4h0m.2 1.3h0m2.3 1h0m-33.2 5.3h0m.2-2.9h0m.2-.1h0m.3 3.7h0m3.1-4.1h0m12.1 4.7h0m1-3.1h0m2.1.2h0m2.7.7h0m.6-1.6h0m2.1-.5h0m1.5 5.2h0m.7-2.8h0m.4 2.7h0m1-3h0m.1-1h0m1.5.2h0m2.9-.7h0m.8 1.5h0m-25.7 8.7h0m.3.4h0m1.1-3.1h0m.2.3h0m.1.6h0m1.3-3.6h0m.2 2.2h0m.8 1.4h0m.7 1.3h0m3.7-2.8h0m7.6.3h0m1.8 1.9h0m.2-1.3h0m2.5-.8h0m.3-.9h0m1.1-.8h0m.4.4h0m.2.9h0m.1 3h0m-22.6 2.1h0m1.4 3.3h0m2.1-4.1h0m.4.5h0m1.2 3.7h0m.8.1h0m2.9-1h0m3.3 1h0m.9-1.8h0m1.6.8h0m.8-.3h0m1.4.7h0m2.6-1.5h0m-13.5 7.3h0m.8 1h0m1.6.6h0m3.2-4.9h0m1.2 5h0m1.5-.5h0m-7.3 4.8h0m.6-.7h0m0-.9h0m3 2.9h0m3.4-4.6h0" stroke="#EE951F" stroke-width="5.2" stroke-linecap="round" fill="none"/><path d="M195 364.4h0m-1 5.6h0m11.3 9.2h0m.1-3.3h0m2.6 1.7h0m3.7 1.3h0m1 0h0m.7.1h0m.8 1.7h0m-15.2.8h0m.9 1h0m3.9-.6h0m3.2.1h0m1.6-.1h0m2.1 2.5h0m.1-1.8h0m2.6-1.2h0m3.6.5h0m.9 3.9h0m1.4-2h0m1.4 2.3h0m.7.7h0m9 .2h0m.2-1.3h0m-33.6 5.2h0m3.3 1h0m1.1.1h0m.4-4.9h0m3.2 1.7h0m1.5.4h0m1.5-.9h0m.4 3.2h0m1.5-3.7h0m.3 4.7h0m.6.1h0m.1-1.5h0m.1.7h0m2-3.9h0m4.1 1.3h0m.8 3.5h0m.9-1h0m.5-4.3h0m1 3.8h0m.1-3.9h0m4 4.4h0m1.3-2h0m.3.6h0m.5-2.4h0m.3.8h0m1.7-1.4h0m.6 4.1h0m1.8-4h0m2.3 5.3h0m1.7-1.4h0m-33.7 5.3h0m.2-2.1h0m.3 3.9h0m0-2.4h0m.3-2.7h0m.7 4.7h0m.4.7h0m1.6-1.6h0m.9 0h0m.9-3.1h0m3-.1h0m2.9 2.5h0m5.3-1.9h0m1.3 1.5h0m-15.5 3.2h0m4.4 4.2h0m5.1-3.3h0m0 .1h0" stroke="#2DB573" stroke-width="5.2" stroke-linecap="round" fill="none"/><path d="M355 255h0m37 16h0m10 1h0m-4 16h0m-62.5 4.9h0m-10.5 7.1h0m11.6-1.3h0m.3 3.7h0m4.1-1.7h0m1.5-.9h0m1.7-.1h0m2.1.5h0m1.9 2.6h0m2.1-.4h0m4 .3h0m5.7-.9h0m-21.3 3.7h0m.5 3.3h0m1.4-1.1h0m.9-2.1h0m1.2.7h0m.8 1.3h0m.8-4.3h0m.1 3.8h0m.8 0h0m7.2-.7h0m.8-.7h0m.2 2h0m2.6-4.1h0m2.2.2h0m1.9.1h0m2.3-.4h0m.1 5.2h0m.6-5.4h0m.1.4h0m.4-.5h0m.1 2.5h0m1.5.3h0m1.4-1.1h0m4.2 3.6h0m.2-2.8h0m.9-.9h0m.1-.5h0m1.3-.9h0m3.3 1h0m.2 3.6h0m.6-3.3h0m-43.2 7.7h0m11.8-1.2h0m1.9.4h0m1 .4h0m1.1-1.6h0m2.2.2h0m1.3 1.2h0m3.4.6h0m1.4 1.8h0m.5-2.4h0m3.4 1.2h0m2.2-2.1h0m1.3 4.1h0m1.4-5.4h0m2.2-.1h0m.4 1.7h0m2.6 1h0m0 0h0m4-1.6h0m1.2 1.8h0m5.7-3.1h0m2.9 5.5h0m.9-.2h0m.3-1.2h0m8.7-1.4h0m-63.6 4.6h0m2.3 3.6h0m4.7-.8h0m1.6-.5h0m.2-.6h0m3.8-2.9h0m2.7.4h0m.2 5.1h0m.2-.8h0m.3-2.1h0m1.4-1.3h0m3.9 3.3h0m.2-1.5h0m.7 2.4h0m3.7-2.4h0m3.4-.9h0m.1.3h0m3.5-.6h0m3.1-.3h0m.1-1.9h0m.7.8h0m6.5 3.7h0m3.5-2.4h0m1.4-.6h0m1.2 1.3h0m1.4-1.2h0m1.1 2.9h0m.5.7h0m1.3-3.8h0m2 4h0m-56.3.6h0m.7 5.1h0m1.5-2.4h0m1.8-1h0m1.1-.5h0m1.1-.3h0m5.9 2h0m2.3 1h0m3.2.7h0m.4-3h0m0 .7h0m1.3-.7h0m0 4h0m4.2-1.1h0m2.8-1.3h0m1.8 1.3h0m1.6-1.2h0m3.2.2h0m2.9-2.8h0m3.4 2.7h0m1.6 1.7h0m0-4.8h0m7.2 4.7h0m.3-.8h0m.2-1.8h0m3.1 2.1h0m1.6-4.2h0m.4 3.7h0m1.7-2.2h0m.2-1.7h0m1.7 4.9h0m-60.7 4.9h0m.1.6h0m2.7.3h0m1-1.4h0m1.2-2.4h0m.1 3.2h0m1.7-2.9h0m1 2.3h0m3.7.8h0m1.5-3.8h0m1.1 1.1h0m7.1 1.5h0m1.6 1.3h0m.2-2.9h0m.4 4.2h0m0-4.3h0m.5 4.1h0m1-4.2h0m.8-.4h0m2.7.4h0m1.4-1.4h0m.7 3.5h0m1.2 1.6h0m.5-4.3h0m.3 2.5h0m.7 0h0m.8-.5h0m.5-1h0m.9 2.4h0m.4-2.9h0m.5 4.4h0m.4-5.1h0m.3 1.3h0m4.5.9h0m3.1-2h0m.5 2.5h0m1.6-.8h0m4.6 2.2h0m.6.5h0m5.3-3.5h0m.7 3.5h0m1-.3h0m1.2-3.5h0m-65.5 9.5h0m3.2.5h0m.4-3.3h0m5.3 2.9h0m.2.8h0m.7-2.2h0m2.3-.8h0m.2.3h0m1-2.2h0m2.2 1.6h0m2.4-1.7h0m3 4.7h0m.6-2.8h0m.5 1h0m4.7-.9h0m1.8 1.8h0m3.4-4.3h0m6.7.4h0m0 4.8h0m.5-5.5h0m.6 3.8h0m.9.8h0m.2.3h0m5.4-.3h0m.3-4.7h0m1.4 3.2h0m3.8-2.1h0m1.4.6h0m.2 3.6h0m1.1.5h0m3.3-5.8h0m3.9 3.2h0m.5.5h0m0-2.5h0m-64.7 10.5h0m3.1-2.9h0m4.5-2.2h0m.5 5.1h0m.4.2h0m2-5.1h0m5 1.5h0m.3 1.8h0m1.4 0h0m0-2.9h0m.3-.7h0m.3 3.5h0m.1.8h0m2.5-4.1h0m.8-.3h0m4.6 1h0m3-.7h0m2.8-.1h0m.1 2.8h0m.8-.5h0m1 2.3h0m.2.1h0m.5-4.6h0m.3.9h0m1.5-.6h0m.9 1.5h0m.9.4h0m2.2.1h0m2.4 1.2h0m2.2 1.1h0m.1-3.2h0m1.3 1.8h0m2-2.9h0m4.1 1h0m.3 2.6h0m7.4-.4h0m1 .7h0m.4-1.5h0m1.5-.6h0m-63.5 4.3h0m4 .8h0m1.4-.9h0m1.1-.3h0m.2 4.4h0m1.3-2.7h0m0 2.8h0m.6.6h0m.4-5.7h0m2 1.1h0m.8-.2h0m1.7 4.6h0m1.1-1.7h0m1.3-3.2h0m1 .2h0m1.9.5h0m.2 2.4h0m5.8 2.1h0m.7-4.7h0m2.8-.1h0m.4 0h0m.4 2.2h0m1.4.3h0m2.8 1.6h0m1.9-2.2h0m5.3.9h0m.8-.8h0m.3-2.3h0m.3 2.6h0m1.5 1.6h0m.2.1h0m1.6-1.6h0m.2-.5h0m.3-.3h0m.1-2.2h0m.7 4.4h0m0-.3h0m1.3-1.5h0m1.7-2.4h0m.3 0h0m.3 3.1h0m.5 2.1h0m.7-.3h0m2.4-4h0m.6-1h0m.5-.5h0m1.3 1h0m1 3.7h0m3.7-3.5h0m.3-1.1h0m-62.9 6.9h0m6.1 4.3h0m2.6-4.2h0m.9 3h0m.7-3.3h0m.9 2.3h0m1.3-.6h0m1.1.2h0m5.8 1.2h0m.1-.1h0m1.5-3.6h0m.5 5.4h0m.2-1.1h0m1.1-2h0m.7 2.4h0m2.1-.5h0m.4-3.5h0m.8.7h0m1.6 1.5h0m1 1.8h0m.5-2.5h0m.7 0h0m3.3 0h0m.9-1.5h0m2.3.4h0m1 2.6h0m.4-3h0m1 1.8h0m1 .4h0m2-.7h0m1.6 2.5h0m2.4-4.8h0m1.3 3.2h0m.1-1.1h0m3.2-.5h0m.4 1.1h0m.4-.8h0m.4.3h0m2.2.9h0m1.2-2h0m2.1 1.6h0m1.7-1.2h0m-63.1 7.1h0m1.2 2.1h0m.1-.1h0m1.2-1h0m7.7-.5h0m.6-1h0m1.2-.4h0m.5-1.4h0m.7 4h0m.8 1.2h0m1.3-4.9h0m.5 3.9h0m.6 1h0m.2-1.8h0m.5-.5h0m3-.1h0m1.5-1.9h0m3.7 1.7h0m1.5 1.3h0m6.8-2.8h0m2.2-.1h0m.3.7h0m2.4 1.5h0m3.5 1.4h0m1.8.8h0m1.2-3h0m.8 1.2h0m.2.9h0m3.2 1h0m.8-2.8h0m.2 2.8h0m1.6-4.3h0m.8 3.7h0m.5-5h0m.6 5h0m.9-2h0m.8.1h0m.3-3.1h0m1.7-.1h0m-59.1 8.6h0m.7-2.2h0m2.5 3h0m1.2 1.5h0m4.5-4.9h0m.9 2.8h0m1.1 1.2h0m.9-2.8h0m7.1 2.1h0m.9 1.2h0m4-2.3h0m3.2-2.2h0m6.1 4.8h0m4.1.2h0m3.6 0h0m.4-3.4h0m4.4 2.3h0m0 1.4h0m.9-3.7h0m1.4 1h0m1.4-.6h0m3.8-.3h0m.1 1.6h0m1 2.1h0m.4 0h0m.9-4.6h0m-59.3 10h0m8.1-4h0m1.7 2.9h0m.8-2h0m.7 3.5h0m2 .2h0m1.2-2.3h0m.1.9h0m1.4-.1h0m.9-2.1h0m7.5-1.1h0m.2 3.8h0m1.7-3.2h0m.1 1.4h0m1 .2h0m6-2h0m2.7.3h0m0 3.2h0m3.1-2.9h0m1.4-.7h0m4.7 1h0m3.1 2.4h0m.1-4.4h0m2.1 1h0m7.8.8h0m.1 1.3h0m1.5-2.6h0m.7 1.8h0m1.8 2.3h0m-61.5 2.2h0m.5 1.5h0m.8 2.9h0m.3.4h0m2.2-3.1h0m.5-2.4h0m3.9 3.9h0m2.2-1.2h0m6.3-.6h0m.9 3.2h0m.3-3.9h0m2.8-.7h0m1.3 1.2h0m.5-.3h0m1.8-.1h0m5.7.7h0m.7 1.2h0m3.6-3.1h0m2.6 3.3h0m1.6-1.3h0m1.6 2.9h0m1.9-5.1h0m.6 1.4h0m5.9 0h0m6.5-1.6h0m3.2 4.6h0m-60.6 4h0m3 1.2h0m.4 1.1h0m2.6-2.2h0m.2 2.8h0m.5-3.6h0m1.1-.1h0m1.7 1.7h0m5.2 1.5h0m.4-2.8h0m.1 3.2h0m1.7-4.8h0m.2 1.9h0m1.8 3h0m.1-1.9h0m.1 1.6h0m.5-4.8h0m1.1.3h0m.6 2.6h0m1.9-.3h0m2.8 2.3h0m4.9-3.1h0m3.8 2.1h0m1.6-2.2h0m.1 2h0m4.9-3h0m.5 3.7h0m3.3-1.5h0m2-2.3h0m.3 4.7h0m.8-4.6h0m4 2.5h0m3.5-1.6h0m1 .3h0m.5 1.6h0m.1-1.7h0m3.7-.1h0m1.9.8h0m1.7-1.5h0m1.6.1h0m1.2 2h0m.8-2.3h0m1.7 3.4h0m-71.3 2.5h0m.2 0h0m.5 2.2h0m1.5-3h0m.7 4.8h0m.2-3.1h0m1.9 2.7h0m1.9.8h0m0-3.9h0m1.3.2h0m0 .7h0m.8 2.4h0m1.9-.5h0m.4-.1h0m.3-1.6h0m.1-2.3h0m.4 2.7h0m.5 2.3h0m.3-4.2h0m2.7 2.4h0m.1.1h0m5.1-1.8h0m.3 2.6h0m1.1-4.2h0m1.5 2.4h0m.6 1.8h0m.6-2.2h0m0-1.7h0m.1 2.1h0m1.3.9h0m4.3 2.1h0m15.6-3.3h0m.6.8h0m.7.9h0m3-.3h0m1.3-.4h0m2.4 1.1h0m2.2-3.2h0m2.8 2.4h0m3.9-2.4h0m1.4 2.9h0m2.1.4h0m.5-2.8h0m1.3-1.3h0m2-.4h0m1.8 3.4h0m1.4.9h0m-69.8 2.3h0m1.3 1.5h0m1-1.9h0m.2 4.4h0m3.8-4h0m.2-.2h0m7.2 3.6h0m2.4 1.6h0m1-2.4h0m.1 1.6h0m.4-.1h0m.5-4.2h0m.9 3.9h0m3.1-4.2h0m1.5 3.1h0m2.2-3.2h0m28 5.5h0m.5-5.1h0m.4.3h0m6.1 1.8h0m0 2.8h0m1.8-5.3h0m3.5 2.4h0m2-2.7h0m.1.3h0m.2 4.6h0m.1-1.8h0m.2-1.2h0m2.3 2.5h0m2-2.5h0m.1 2.6h0m-77.6 1.8h0m2.4 2.9h0m.1-.3h0m.8-.1h0m1-2.3h0m.8 5h0m.8-3.2h0m4.4 3h0m2.6-.3h0m1.4-.9h0m.9-3.7h0m5.4 2.8h0m.6-3.1h0m.2 2.8h0m1.4-2.8h0m43.9 1.9h0m1.2 3.6h0m5 0h0m.8-4.6h0m.1.6h0m1.5-1.3h0m-68.6 6h0m61 1.1h0m3.1-.7h0m.9-.3h0" stroke="#7F3C98" stroke-width="5.2" stroke-linecap="round" fill="none"/><path d="M326 140h0" stroke="#7F3C98" stroke-width="5.2" stroke-linecap="round" fill="none"/><path d="M331 139h0" stroke="#7F3C98" stroke-width="5.2" stroke-linecap="round" fill="none"/><path d="M312 280h0" stroke="#7F3C98" stroke-width="5.2" stroke-linecap="round" fill="none"/><path d="M343 302h0" stroke="#6DC8C0" stroke-width="5.2" stroke-linecap="round" fill="none"/><path d="M336 299h0" stroke="#7F3C98" stroke-width="5.2" stroke-linecap="round" fill="none"/><path d="M395 210h0" stroke="#7F3C98" stroke-width="5.2" stroke-linecap="round" fill="none"/><path d="M418 214h0" stroke="#7F3C98" stroke-width="5.2" stroke-linecap="round" fill="none"/><path d="M423 204h0" stroke="#DA1E5C" stroke-width="5.2" stroke-linecap="round" fill="none"/><path d="M431 197h0" stroke="#DA1E5C" stroke-width="5.2" stroke-linecap="round" fill="none"/><path d="M425 213h0" stroke="#DA1E5C" stroke-width="5.2" stroke-linecap="round" fill="none"/><path d="M418 230h0" stroke="#7F3C98" stroke-width="5.2" stroke-linecap="round" fill="none"/><path d="M420 250h0" stroke="#7F3C98" stroke-width="5.2" stroke-linecap="round" fill="none"/><path d="M410 316h0" stroke="#DA1E5C" stroke-width="5.2" stroke-linecap="round" fill="none"/><path d="M318 370h0" stroke="#7F3C98" stroke-width="5.2" stroke-linecap="round" fill="none"/><path d="M272 409h0" stroke="#7F3C98" stroke-width="5.2" stroke-linecap="round" fill="none"/><path d="M109.3 99L109.3 455.2" stroke="#222" stroke-width="1.2" fill="none"/><path d="M108.7 454.6L533 454.6" stroke="#222" stroke-width="1.2" fill="none"/><path d="M105 183L109.3 183" stroke="#222" stroke-width="1" fill="none"/><text x="100" y="190.8" font-size="22" text-anchor="end">2.5</text><path d="M105 268.7L109.3 268.7" stroke="#222" stroke-width="1" fill="none"/><text x="100" y="276.5" font-size="22" text-anchor="end">0.0</text><path d="M105 354.4L109.3 354.4" stroke="#222" stroke-width="1" fill="none"/><text x="100" y="362.2" font-size="22" text-anchor="end">−2.5</text><path d="M105 440.1L109.3 440.1" stroke="#222" stroke-width="1" fill="none"/><text x="100" y="447.9" font-size="22" text-anchor="end">−5.0</text><path d="M134.8 454.6L134.8 459" stroke="#222" stroke-width="1" fill="none"/><text x="134.8" y="479" font-size="22" text-anchor="middle">−10</text><path d="M244.8 454.6L244.8 459" stroke="#222" stroke-width="1" fill="none"/><text x="244.8" y="479" font-size="22" text-anchor="middle">−5</text><path d="M354.8 454.6L354.8 459" stroke="#222" stroke-width="1" fill="none"/><text x="354.8" y="479" font-size="22" text-anchor="middle">0</text><path d="M464.8 454.6L464.8 459" stroke="#222" stroke-width="1" fill="none"/><text x="464.8" y="479" font-size="22" text-anchor="middle">5</text><text x="306.8" y="517.5" font-size="22.4" text-anchor="middle">UMAP_1</text><text x="48" y="274" font-size="22" text-anchor="middle" transform="rotate(-90 48 274)">UMAP_2</text><text x="285" y="167" font-size="24.5">1</text><text x="150.5" y="223.5" font-size="24.5">2</text><text x="410.5" y="317.5" font-size="24.5">3</text><text x="431" y="200" font-size="24.5">4</text><text x="332.5" y="367" font-size="24.5">5</text><text x="275" y="400.5" font-size="24.5">6</text><text x="203.5" y="399.5" font-size="24.5">7</text><text x="283" y="109.5" font-size="22.6">CD4</text><text x="156.5" y="194" font-size="22.6">Treg</text><text x="460" y="191.5" font-size="22.6">naïve</text><text x="442.5" y="321.8" font-size="22.6">dnT</text><text x="200" y="334.5" font-size="22.6">exhausted</text><text x="141" y="422" font-size="22.6">proliferating</text><text x="338" y="438.5" font-size="22.6">effector</text><path d="M263.8 375.6L253 348" stroke="#000" stroke-width="1.2" fill="none"/><path d="M248.2 352.2L252.3 345.6L256.8 350.4" fill="none" stroke="#000" stroke-width="1.2"/><path d="M347.7 381.8L358.3 409" stroke="#000" stroke-width="1.2" fill="none"/><path d="M353.4 405.5L358.9 410.6L360.5 403.2" fill="none" stroke="#000" stroke-width="1.2"/><circle cx="576" cy="107.3" r="7" fill="#DA1E5C"/><text x="590" y="115.3" font-size="22.7">1: CD4</text><circle cx="576" cy="136.8" r="7" fill="#2B3990"/><text x="590" y="144.8" font-size="22.7">2:Treg</text><circle cx="576" cy="166.2" r="7" fill="#6DC8C0"/><text x="590" y="174.2" font-size="22.7">3: dnT</text><circle cx="576" cy="195.6" r="7" fill="#FDD619"/><text x="590" y="203.6" font-size="22.7">4: Naïve</text><circle cx="576" cy="225.1" r="7" fill="#7F3C98"/><text x="590" y="233.1" font-size="22.7">5: CD8 Effector</text><circle cx="576" cy="254.6" r="7" fill="#EE951F"/><text x="590" y="262.6" font-size="22.7">6: CD8 Exhausted</text><circle cx="576" cy="284" r="7" fill="#2DB573"/><text x="590" y="292" font-size="22.7">7: CD8 Proliferating</text><text x="839.5" y="22" font-size="28" font-weight="bold">b</text><path d="M1011.1 61.6h0m8-.8h0m-28.4 6.8h0m5.9.2h0m6.6-1.4h0m13.6-1.9h0m1.2 2.1h0m24.9-2.2h0m-50 10.4h0m.9-.8h0m2.6-3h0m3.2-.6h0m.9.5h0m6.6 1.6h0m1.2 1.2h0m-1.1 1.5h0m3.3 4.5h0m1.2.8h0m.6.4h0m61.3-2.3h0m2.8-1.6h0m.2 2.7h0m1.5-3.2h0m.9 3.7h0m2.4-.1h0m0-5h0m.3 5.4h0m.5-4.8h0m1.4 0h0m.3 4.4h0m.1-2.3h0m.2-1h0m.6 3.8h0m1.3-2.2h0m.7-.9h0m4.3 1.6h0m2.2-.8h0m-97.1 6.4h0m8.1-2.8h0m2.9.8h0m52.7 1.3h0m9.5.7h0m1.1-2.1h0m.5 1h0m4.7 2.7h0m.6-3.3h0m1-1.2h0m8.3.5h0m1.4-.7h0m1 1.2h0m2.3-.2h0m.7 1.6h0m2.8 2.3h0m.7-2.6h0m1.9-.4h0m-100.5 9.2h0m19.6.1h0m75.2-2.2h0m1 2h0m1.6-1.7h0m.6 0h0m.1-2h0m1 3.7h0m.3-5.2h0m.9 1h0m.7 3.3h0m-150.5 5.9h0m140-2.1h0m.3-2h0m2.7 1.4h0m.3-1h0m.8 3.3h0m2.1 1.5h0m.3-2.4h0m.9-.5h0m2.6-2.8h0m-153.9 8.8h0m1.9-1.1h0m5.1.9h0m.2-1.9h0m64.4.1h0m58.1-.1h0m13.2 3.5h0m.9-3.6h0m1.6 2h0m.5-1.1h0m-143 4.6h0m.1 1.8h0m3.5-.5h0m.7 1.5h0m.1-.6h0m62.8 2.6h0m-66.9 2.1h0m53.7 3.1h0m15.6-3.5h0m2 2.3h0m51.6 1.1h0m5.8.3h0m2.1-.7h0m3.7-.9h0m1.2 1.7h0m-130.7 1.7h0m53.1 5.6h0m33.5.3h0m6.2-.4h0m7-5.1h0m2.5.5h0m13.6.7h0m5.2 3.9h0m3.8-1h0m-132.4 4.2h0m101.1-2.5h0m19 .8h0m2.1.1h0m1.2.1h0m5 1.6h0m.7-2.6h0m3.5 1.8h0m2.1-1h0m4.6 2.3h0m.1-1.9h0m1.5 3.7h0m2.4-1h0m-146.6 6h0m112.9-1.2h0m12.4-2.7h0m1.6.5h0m2.8.2h0m.8 4.6h0m1.1-2.6h0m6.8 1h0m.5.2h0m5.9-1h0m3.5-1.3h0m-58.7 10h0m37.7-.2h0m.7-1h0m5.3-3.6h0m.5.3h0m9.7-1.3h0m.8 3.5h0m5.8 2.3h0m-52.3 4.7h0m5.9 1.3h0m2.2 0h0m18.3-3.3h0m5.3 3h0m4.7-2.8h0m0-2.2h0m6.3 4.2h0m.2-3.7h0m6.8 2.9h0m2.3-1.2h0m1.4.4h0m-53.1 5h0m1 2.8h0m5.1.1h0m8.3-3.1h0m.7-1h0m32 .4h0m0 2.2h0m-54.7 8.4h0m7.3-5.5h0m11.2 1.7h0m10.8 3.7h0m6.3-3.7h0m4.1 3.3h0m7.3-4.9h0m1.3 3.1h0m3.7 2h0m1.6-3.6h0m-52.8 6.9h0m4 .9h0m22.2-1.1h0m8-2.6h0m5.2 5h0m2.1-3.1h0m3.4 3h0m5.6-1.9h0m4 .8h0m-71.3 7.5h0m2.5.5h0m1.5-.8h0m6.2-1.8h0m2.2.7h0m2.1-2.9h0m4.1 1.2h0m.7 1.9h0m.1-1.5h0m6 2.3h0m10.4-2.9h0m3.6 1.8h0m1.7-3.9h0m2.2 3.6h0m13.7.6h0m2.8.1h0m1.5-.2h0m7.7-4h0m-71.4 7.3h0m5-1h0m5.4 1.7h0m6.3.5h0m3.9 1.6h0m5.6-3.9h0m1.8 1.7h0m2.5 3.8h0m7.3-3.5h0m28.8-1.6h0m-123.5 6.7h0m46.7 3.4h0m.3-1.3h0m8.7 1.2h0m4.7-3.2h0m1.9 4.4h0m4.3-1.9h0m.3-1.2h0m8.6.3h0m.6 1.1h0m11.1-1.4h0m7.8.9h0m7.2-3.1h0m.6 1.1h0m2.3-.8h0m9.1 3.5h0m-109.3 2.5h0m3.8 3.6h0m.2-2h0m0-.1h0m10.6 3.3h0m13.3-.8h0m17.4-2.8h0m.6 1.3h0m2.6 2h0m1.1-3.4h0m2.3 1.4h0m1.8-3h0m1.6 2h0m.6 1.5h0m2.4 1.9h0m3.5-.7h0m4.3-1h0m32.5-3.5h0m9.6 3.8h0m4.8-3h0m-115.9 7.7h0m4.5.9h0m.8-.7h0m.5.6h0m.4-2.3h0m.1 2.4h0m.1-.6h0m.8 1.9h0m2.9-3.5h0m.5-.3h0m.2 3.9h0m1.3-2.8h0m.3-1.9h0m1.8 1.9h0m2 1h0m1.3-.4h0m5.5 1h0m2.9.6h0m2.2-4.6h0m.6.4h0m.5-.2h0m1.8 5h0m1.4-1.9h0m.7 2h0m4.5-.2h0m0-3.5h0m3.5 2.1h0m1.7-1.6h0m.2-2.2h0m1.3-.1h0m2.2.6h0m5.6 2.2h0m.1-1.9h0m.9 1.1h0m.8-2h0m1.4 3.7h0m.2-2.1h0m.3-.8h0m.4.4h0m2.5 0h0m.9-.3h0m2.6 2h0m9.1.9h0m2.8-3.4h0m1.3 3.1h0m24-.5h0m-98.1 3.7h0m.1.1h0m43.4.3h0m10.8 3.6h0m40.6 0h0m13.2.4h0m.8-.4h0m-73.4 1.2h0m5.2 4.2h0m.2-2.1h0m8.6.3h0m2.8.8h0m-8.1 5.8h0m0 2.9h0m1.1-5.6h0m1.1 1.6h0" stroke="#5FBEEA" stroke-width="2.5" stroke-linecap="round" fill="none"/><text x="966.6" y="44.3" font-size="22.7">Ctrl vax (-dox)</text><path d="M917.5 45.2L917.5 225.8" stroke="#222" stroke-width="1.2" fill="none"/><path d="M917 225.3L1136 225.3" stroke="#222" stroke-width="1.2" fill="none"/><path d="M914 86.7L917.5 86.7" stroke="#222" stroke-width="1" fill="none"/><text x="911" y="91.3" font-size="18.7" text-anchor="end">2.5</text><path d="M914 130.1L917.5 130.1" stroke="#222" stroke-width="1" fill="none"/><text x="911" y="134.7" font-size="18.7" text-anchor="end">0.0</text><path d="M914 173.5L917.5 173.5" stroke="#222" stroke-width="1" fill="none"/><text x="911" y="178.1" font-size="18.7" text-anchor="end">−2.5</text><path d="M914 216.8L917.5 216.8" stroke="#222" stroke-width="1" fill="none"/><text x="911" y="221.4" font-size="18.7" text-anchor="end">−5.0</text><path d="M921.2 225.3L921.2 228.8" stroke="#222" stroke-width="1" fill="none"/><text x="921.2" y="245.8" font-size="18.8" text-anchor="middle">−10</text><path d="M982.3 225.3L982.3 228.8" stroke="#222" stroke-width="1" fill="none"/><text x="982.3" y="245.8" font-size="18.8" text-anchor="middle">−5</text><path d="M1043.4 225.3L1043.4 228.8" stroke="#222" stroke-width="1" fill="none"/><text x="1043.4" y="245.8" font-size="18.8" text-anchor="middle">0</text><path d="M1104.5 225.3L1104.5 228.8" stroke="#222" stroke-width="1" fill="none"/><text x="1104.5" y="245.8" font-size="18.8" text-anchor="middle">5</text><text x="1038.5" y="271.3" font-size="22.4" text-anchor="middle">UMAP_1</text><text x="863" y="136.8" font-size="22" text-anchor="middle" transform="rotate(-90 863 136.8)">UMAP_2</text><path d="M1295.1 55.9h0m15.5.8h0m5.4-1.1h0m-26 6.7h0m.3.1h0m12.1-.9h0m.8.3h0m3.7-2.8h0m-18.1 4.5h0m3.2 3.9h0m10.4-2h0m6.3 1h0m15.1.7h0m8.8-1.2h0m2.6-2.5h0m-54.1 9.8h0m.1-1.8h0m7.5-.9h0m4.2-.6h0m13.9 4.7h0m2.3-2.5h0m21.8-1.3h0m-43.1 7.2h0m2.1-2.9h0m5.7 5.8h0m3.3-4.5h0m5.9.7h0m.7-1.1h0m20.6 4.8h0m48-2.9h0m.4.5h0m1.4-1.2h0m.4 3.1h0m2.2-1h0m1 .3h0m2.5-2.8h0m.7-.6h0m7.1 3.5h0m.2.1h0m-102.7 5.8h0m8.4-3.3h0m1.8 2.4h0m7.7-1.8h0m14.1 3.2h0m14.7 0h0m22.7-1.4h0m9.7-.7h0m.8-.7h0m.5-1.1h0m3.9 2.4h0m.7 1.8h0m.2-.4h0m1.4-2.2h0m.6 2.9h0m7.4-5h0m2.6 1.2h0m2.8 2.3h0m1.1-2.4h0m.8 1.8h0m0 .1h0m2.9-2.8h0m.3 3.6h0m.4-1.6h0m-108.6 3.5h0m3.7 4h0m3.1-4.1h0m0 .3h0m5.8 2.8h0m28.2-3.3h0m12.5 0h0m19.5 2.8h0m31.2 1.2h0m1.5.2h0m.6 1.2h0m.8-2.9h0m.1 3h0m.7-.5h0m.7-1.3h0m.1-2.1h0m1.4-1.3h0m.6 4h0m.3-3.6h0m1.1 3.7h0m-159 6.2h0m.1-1h0m2.6 1.1h0m13.2.6h0m27-1.4h0m8.6-3.5h0m1.5 3.9h0m15 .2h0m25.9-4.5h0m8.1 5.3h0m6.8-5.1h0m19.5 3.5h0m19.7 2.1h0m.4-4.8h0m1.7 3.2h0m.3-1.9h0m1-1.1h0m.7 3.4h0m7.3-3.9h0m-168.1 8.3h0m1.5-.7h0m1.5-.1h0m.1-2h0m.1 4.5h0m1-4.7h0m1.2 3.1h0m.8-2.4h0m2.3-.6h0m1.8 1.3h0m45.2 1.7h0m1.5 2.3h0m7.3-3.4h0m2.9-.4h0m15.8-.1h0m14.5-.9h0m18 3.4h0m10.1-2.3h0m32.4.5h0m.6-1.7h0m2.1-.2h0m-156.9 7.9h0m3.9 2.9h0m.4-3.5h0m.7.8h0m50.3.2h0m.8 2.7h0m88-3h0m.5 3h0m2.2-2.7h0m4.1-.8h0m5.1 1.7h0m-156.5 4.3h0m.6-1.5h0m52.5 3.1h0m2.4 1.8h0m5.7-1.7h0m8.8.3h0m30.8-2.5h0m8.3 1.4h0m11.5 2.9h0m21.9-1.7h0m2.4 1.5h0m0 0h0m.7-1.4h0m6.1-.2h0m.1-.7h0m.5-.3h0m-149.5 3.1h0m2.9.5h0m53.2 4.8h0m3.8-1.3h0m33.9.9h0m2.2-4.8h0m33.1 4.4h0m11.2-3.2h0m5 3.2h0m4.6-3.7h0m-155.7 8.1h0m85.5 2.6h0m7.4-3.4h0m2.9.9h0m5.1 2.5h0m9-4.9h0m4.1 2.8h0m6.3-.6h0m15.7-1.5h0m6.5-.9h0m5.5.2h0m3.7 2.1h0m4.5 2.6h0m-172.5 3.7h0m14.5 1.3h0m95.8-4.1h0m23.7.6h0m2.7 1.5h0m12.8-2.2h0m2.2 3.1h0m1-1.3h0m1 3.9h0m6.2-1.9h0m.4 1.3h0m2.5-1h0m10.7-2.2h0m-22.1 7h0m.1 2.2h0m3.5-.5h0m2-1.5h0m1.9-1.4h0m15.7.5h0m-22.4 8h0m4.9.8h0m2.1-4.9h0m7.5 2.3h0m8 .7h0m3.7-2.9h0m-158.8 7.3h0m97.3 2.2h0m10.7-2.6h0m3.2 1.2h0m.2-1.8h0m4.5 2.9h0m12.2-1.3h0m2.8 3.4h0m3-4.2h0m19.8-.7h0m1.6 3.3h0m1 .5h0m-62.2 6.5h0m.2-1.8h0m11.5.6h0m5.2-3.7h0m2.9 4.1h0m7.6 1h0m.3-3.1h0m3.3-.2h0m.5-1.6h0m.3 4h0m1.7.5h0m.7.7h0m4-4.9h0m.6 4.1h0m.1-4.5h0m3.9 2h0m8.2 1.9h0m1.3-3.8h0m-69.1 6.8h0m15-.6h0m1.4 1h0m.9 3.5h0m1.5-.3h0m3.1-2.3h0m3.7 3.1h0m7.8-3.1h0m1 1.2h0m9.4.4h0m.7-3.6h0m2.6 4h0m.6-.2h0m1.2-2h0m1 3.3h0m3.2-.5h0m11.4-.7h0m5.2-1.6h0m.8.5h0m-151.2 6.9h0m80.1-2.8h0m.6 4.5h0m.6-.3h0m.3.3h0m2.6-2.5h0m.5 1.9h0m6-.7h0m8.5-1.8h0m.3.3h0m.6.8h0m.1 1.4h0m1.2-3.8h0m2.9 2.8h0m1.8 1.8h0m2.7-2.6h0m.6 0h0m2.1-.7h0m6.8 3h0m10.4-1.8h0m1.1-2.5h0m10.3 4h0m4-2.8h0m8.4.4h0m-81.4 7.2h0m.7-.2h0m5.6-1.7h0m4.4 1.2h0m.4-1.6h0m.6-1.3h0m.8 5h0m2.7-1.6h0m.5-2.7h0m6.1 3.5h0m6.9-3.4h0m.4 2.3h0m5.1-.2h0m2.9-3h0m.1 5.1h0m3.6-2.4h0m.8-2.9h0m.6 2.4h0m4.9 3h0m1.1-1.4h0m6.4-.2h0m2.1-.5h0m7.7 1.2h0m6.1-.6h0m-129 6.4h0m50.3.1h0m7.7-1.2h0m3.7 1.5h0m0-2h0m3.7.5h0m4.1 2h0m5.3.3h0m5.7-4.5h0m2.7-1.3h0m.4 4.2h0m.8 1.1h0m.2.5h0m5.1-1h0m8.6-.5h0m.6-.7h0m15.4-2.1h0m0-.3h0m1.9 2.4h0m3.1-3.2h0m2.6.9h0m3.2 1.1h0m3.5.3h0m2.6 2.7h0m-127.6 5.4h0m3.7.5h0m2.9-.6h0m.7-1.1h0m1 .1h0m.3 1.2h0m29.6-.7h0m7.8-1.4h0m.1-.9h0m5.4 2.4h0m.5-1.5h0m1-1.3h0m1.1-.1h0m1 4h0m.9.1h0m1.1-4.9h0m.6 2.1h0m2.4-.7h0m1.4 3.3h0m1.8-1.4h0m2-3.5h0m10.5.3h0m1 1.8h0m3.7-.9h0m1.6-1.4h0m1.3 4.9h0m14.5.6h0m3.8-1.6h0m9-3.9h0m7 1.5h0m4.1-.7h0m-123 8h0m2.2 2.3h0m.6-3.8h0m1.6.9h0m.8.3h0m.6 2.8h0m.4-2h0m1 1.1h0m.4.5h0m1.8-3.1h0m1.7.2h0m.5-1.5h0m.4 5h0m1-2.4h0m.5-1.2h0m1-.2h0m2.3 1.2h0m.5-1.4h0m1.1 1.7h0m.4-1.5h0m.8-.7h0m1.9 3.1h0m8.6-2.9h0m1 .7h0m3.9.6h0m3-.8h0m.8 2.1h0m.8 1.5h0m.6-.6h0m.7-2.9h0m.6.5h0m.1 2h0m1.3-.2h0m1.2-2.8h0m.3-.8h0m1.2 4.1h0m2.1-1.5h0m0-2.2h0m1.7 4.6h0m2.3-5h0m.5 3.4h0m5.3 0h0m.1-3.8h0m.1 4.8h0m2.5-.7h0m.1.8h0m.2-3.9h0m.7 2.3h0m.2-1.3h0m1.2 2.2h0m1.5-3h0m2.7 3.2h0m1.3-3.7h0m1.7 1.8h0m.8 2.3h0m.2-1.7h0m.8-1.1h0m.7.3h0m1.7.6h0m29.1-1.5h0m19.5 1.5h0m.6-3.1h0m-121.3 6.7h0m0-.1h0m.8.2h0m.2-.8h0m.2 1.4h0m.6.3h0m5.4.4h0m.1-.2h0m27.9-1.7h0m5.3 3.7h0m10.8 1.2h0m1.4-.6h0m2.4 1.2h0m4.6-4.4h0m.2 1.9h0m4.6-.7h0m.1.8h0m39.1.6h0m1.8-3.6h0m1.5 4.3h0m-67.7 1.7h0m.1.3h0m5.7 2.7h0m.3-1.7h0m12.1.6h0m.2-2.3h0m.5 3.7h0m1.7-3.6h0m-14.6 6.5h0m2.5 3.1h0m.3-3h0m.6 3.4h0m3.7-3.3h0m.1 3.3h0m-2 3.8h0" stroke="#5B8FAF" stroke-width="2.5" stroke-linecap="round" fill="none"/><text x="1247.7" y="44.3" font-size="22.7">Ctrl vax (+dox)</text><path d="M1197.5 45.2L1197.5 225.8" stroke="#222" stroke-width="1.2" fill="none"/><path d="M1197 225.3L1415.4 225.3" stroke="#222" stroke-width="1.2" fill="none"/><path d="M1194 86.9L1197.5 86.9" stroke="#222" stroke-width="1" fill="none"/><text x="1191" y="91.5" font-size="18.7" text-anchor="end">2.5</text><path d="M1194 130.4L1197.5 130.4" stroke="#222" stroke-width="1" fill="none"/><text x="1191" y="135" font-size="18.7" text-anchor="end">0.0</text><path d="M1194 173.9L1197.5 173.9" stroke="#222" stroke-width="1" fill="none"/><text x="1191" y="178.5" font-size="18.7" text-anchor="end">−2.5</text><path d="M1194 217.4L1197.5 217.4" stroke="#222" stroke-width="1" fill="none"/><text x="1191" y="222" font-size="18.7" text-anchor="end">−5.0</text><path d="M1205.6 225.3L1205.6 228.8" stroke="#222" stroke-width="1" fill="none"/><text x="1205.6" y="245.8" font-size="18.8" text-anchor="middle">−10</text><path d="M1271.9 225.3L1271.9 228.8" stroke="#222" stroke-width="1" fill="none"/><text x="1271.9" y="245.8" font-size="18.8" text-anchor="middle">−5</text><path d="M1338.2 225.3L1338.2 228.8" stroke="#222" stroke-width="1" fill="none"/><text x="1338.2" y="245.8" font-size="18.8" text-anchor="middle">0</text><path d="M1404.5 225.3L1404.5 228.8" stroke="#222" stroke-width="1" fill="none"/><text x="1404.5" y="245.8" font-size="18.8" text-anchor="middle">5</text><text x="1330" y="271.3" font-size="22.4" text-anchor="middle">UMAP_1</text><text x="1151" y="136.8" font-size="22" text-anchor="middle" transform="rotate(-90 1151 136.8)">UMAP_2</text><path d="M1016.1 324.2h0m-22.3 8.2h0m12.3-2.1h0m.8 2.4h0m12.6-3.7h0m-21.4 7h0m2 2.3h0m2.8-5.1h0m4.1 3h0m12.6 2.5h0m2.5.3h0m5.6-2.4h0m-32.2 2.8h0m9.9.3h0m2 3.7h0m5.1-3.8h0m2.1 4.5h0m22-2.7h0m7.5-.7h0m62.3 2.8h0m2.4 1.4h0m-109.4 2.5h0m7.3-1.1h0m3.9 4h0m6.2-.3h0m2.7-1.5h0m79.7 1h0m6.8-3.5h0m2.9 3.8h0m.3-3.3h0m.2 1.8h0m.1-3.1h0m2.8 1.8h0m3.6-.7h0m2.1 1h0m-123.4 9h0m18.2-4.9h0m7.8-.1h0m.4-.2h0m39.7 4.4h0m34.4-.8h0m.5-2.8h0m1.3 2.2h0m2.3-2.4h0m1.8 1.4h0m14.1-1.8h0m9.5.9h0m.5.1h0m-131.2 7.1h0m4.6 1.6h0m20.2-3.8h0m94.7 5.7h0m4.8-2.6h0m1.4.5h0m2.2-3.7h0m.9 5.7h0m1.6-2.3h0m.5 2.3h0m-187.2 4.5h0m1-.3h0m1.1 1.1h0m5.3-1.6h0m.2 1.1h0m49.4-.6h0m3.3-.8h0m6.4 2h0m13.4-.6h0m76.9.7h0m16.7-3h0m.3 2.9h0m.4-.3h0m2.6.9h0m.2-2.4h0m3.1.4h0m3.9-1.3h0m1.1-1.7h0m-189.9 5.3h0m2 5.4h0m3.5-3.1h0m3.4 2.6h0m58.2-.6h0m21.2-.9h0m13.7 2.5h0m78.4-4.6h0m-176.6 7.9h0m6-1.4h0m.4.9h0m.8-1h0m50.7.1h0m1.8-1.6h0m45 .3h0m-101.4 10.7h0m62.5-2.9h0m43.9 1h0m61.4-1.7h0m-104.8 5.4h0m1.6-.4h0m62.6-.5h0m9 5.4h0m15-1.2h0m5.3-4.1h0m4.9 2.7h0m.5-1.8h0m.6 3.9h0m-97 6.7h0m.5-2h0m53.5.7h0m11.7-4.2h0m36.6.3h0m1.6 4.6h0m1.1-2.7h0m-12 5.3h0m5.1 1.1h0m6.5 2.1h0m-13.2 6.7h0m-51.2 1.6h0m5.5 3.7h0m47.7-3.2h0m2.3 3.3h0m3.9-.1h0m-48.2 6.1h0m7.1-4.3h0m6.3 4.6h0m3.8-1.8h0m9.9-1.1h0m32.4 3.1h0m-68.6 4h0m1.1-.8h0m20.3-.6h0m4.4.8h0m5.2-.4h0m1.5-1.5h0m.3.9h0m7.1-.8h0m3.1 2.6h0m19.4-1.1h0m-84.3 8.5h0m14.2-1.7h0m5.3-.1h0m15.2-1.3h0m1 1.6h0m8.7 2h0m1.6-.2h0m1-2.4h0m6.8 2.8h0m.5-1.8h0m22.4-2.8h0m2.1 2.4h0m-171.8 7.2h0m107-.7h0m5.3-1h0m4.3-.8h0m2.1 3.4h0m8.2-3.1h0m6.3 3h0m1.5-3.9h0m25.7 4.1h0m11.4-.3h0m4.7-3.3h0m-94.6 9.2h0m4.8-2.7h0m4.4.8h0m3.5-.7h0m11.9-.9h0m13.8 2.2h0m5-1.6h0m2.8.8h0m2.2-2.6h0m2.2.2h0m.3 3.1h0m.8-2.3h0m9.5 1.1h0m12.4 2.4h0m1.1-3.2h0m-140.9 6.7h0m56 3.1h0m15.3-5.1h0m1.6 3.7h0m10.6-3.5h0m10.4 2.8h0m25.1-.5h0m.8-3h0m-113.5 8.9h0m.8 1.6h0m4.4 0h0m.1-.7h0m.1.1h0m44.6-1.2h0m5.4 2.6h0m2.7-5.6h0m22 3.8h0m2.9-2.9h0m5.8 2.8h0m4.9.3h0m23.8 1.9h0m11.6-5h0m6.6-.7h0m1 5.1h0m-139 3.6h0m1.7-2.3h0m1.1 3.6h0m.8-4.1h0m1.3 5.7h0m1.5-4.5h0m4.9.6h0m5.3 2.3h0m2.8.9h0m15.4-2.5h0m1.6-2.4h0m7.1 5.4h0m.7-.3h0m.7-1.4h0m7.5 1.5h0m4.9-1.6h0m5.8-3.3h0m3.4 3.7h0m6.3-2.9h0m2.2.8h0m1.2 2.7h0m1.4-4.1h0m.5-.2h0m.1 3.2h0m2.2.4h0m2.7-1.2h0m0 1.4h0m.6-3h0m1.2-1.2h0m28.4 1.1h0m8.3.6h0m.2 2.2h0m9.6-.5h0m1.2-2.6h0m5.5 4.9h0m-138.4.7h0m.6 2.2h0m3.5-2.5h0m4.1 1.8h0m38 3.5h0m8.6-3.5h0m.1 1.6h0m7.6 1.3h0m12-1.9h0m64-2.7h0m-92.9 6.5h0m7.2 4h0m4-1.5h0m3.8-1.6h0m7.3 0h0m8.2-1.2h0m43.3.4h0m.2-.6h0m-68.4 5.8h0m7 3.8h0m1.1-2.2h0m.8 5.3h0" stroke="#165A8E" stroke-width="2.5" stroke-linecap="round" fill="none"/><text x="959.5" y="314" font-size="22.7">MICB vax (-dox)</text><path d="M913.7 313.5L913.7 494.4" stroke="#222" stroke-width="1.2" fill="none"/><path d="M913.2 493.9L1130 493.9" stroke="#222" stroke-width="1.2" fill="none"/><path d="M910.2 355.2L913.7 355.2" stroke="#222" stroke-width="1" fill="none"/><text x="907.2" y="359.9" font-size="18.7" text-anchor="end">2.5</text><path d="M910.2 400L913.7 400" stroke="#222" stroke-width="1" fill="none"/><text x="907.2" y="404.6" font-size="18.7" text-anchor="end">0.0</text><path d="M910.2 444.8L913.7 444.8" stroke="#222" stroke-width="1" fill="none"/><text x="907.2" y="449.4" font-size="18.7" text-anchor="end">−2.5</text><path d="M910.2 489.5L913.7 489.5" stroke="#222" stroke-width="1" fill="none"/><text x="907.2" y="494.1" font-size="18.7" text-anchor="end">−5.0</text><path d="M982.6 493.9L982.6 497.4" stroke="#222" stroke-width="1" fill="none"/><text x="982.6" y="514.4" font-size="18.8" text-anchor="middle">−5</text><path d="M1058.8 493.9L1058.8 497.4" stroke="#222" stroke-width="1" fill="none"/><text x="1058.8" y="514.4" font-size="18.8" text-anchor="middle">0</text><text x="1030" y="539.9" font-size="22.4" text-anchor="middle">UMAP_1</text><text x="863" y="405.2" font-size="22" text-anchor="middle" transform="rotate(-90 863 405.2)">UMAP_2</text><path d="M1283.8 326.9h0m1-.7h0m1.1-1.8h0m1 2.6h0m.4-.3h0m2.1-.2h0m.2-1.3h0m.2-2.2h0m1.1-.2h0m.8 1h0m0-.7h0m.6-.9h0m1.5-1.1h0m.4 3h0m.1 2.8h0m.4-4.7h0m.1 2.3h0m.4-.3h0m.2 2h0m.2-1.6h0m.6-1.1h0m1.1-.8h0m1.5 1.7h0m.7 2.3h0m.5-.9h0m.7 1.2h0m3.1-2.5h0m.4-1.5h0m3.4.4h0m4.7 2.8h0m.4-4h0m2.6 1.8h0m2.9 1.7h0m-39.7 5.8h0m.1.7h0m1-1.2h0m.5-1h0m.1 1.4h0m0 .7h0m.5-4.4h0m.4 4.1h0m.1 1h0m.6-1.5h0m.7.5h0m.2-4.1h0m.4 2.8h0m0 2.4h0m0-.9h0m.1-.3h0m.3.1h0m.1-4h0m.1 2.7h0m.2-3.2h0m.7 4.1h0m.1-.4h0m1 .4h0m0-2h0m.3.9h0m.1-2.6h0m.1 5.1h0m1.2-3.5h0m.1 2.5h0m.6-1.3h0m.2 1.2h0m.1.4h0m.4-.1h0m.2-3.1h0m.1-1.5h0m.6 1.2h0m.5 1.5h0m.5-1h0m.5-.7h0m.1 2.1h0m.1.4h0m0-1.7h0m.2-1.9h0m.1 2.3h0m1.2.7h0m.7 2.3h0m1.7-5.5h0m.2 3h0m.1-.8h0m.1.3h0m.7 2.5h0m.4-2.2h0m.1-.2h0m.9-2h0m.1 1.4h0m.1 2.5h0m0-4.4h0m.5 3.1h0m1.3 1h0m0 1h0m.2-4.1h0m0-.3h0m.2 4.7h0m0-2.7h0m.2 2.1h0m.6.8h0m1.5-3.8h0m.2-1h0m.2-.8h0m.3 5.3h0m.2-3.3h0m.4 3.5h0m.1-.3h0m.8-1.2h0m0-2h0m2.1 3.1h0m4.6-3.5h0m1.1 3.4h0m3.3.1h0m3-1h0m.6-1.7h0m1.4 1.1h0m4.2.1h0m1.2-1h0m0 1.8h0m2.9-2h0m.7 2.2h0m-51.9 1.2h0m.3.3h0m0 4.6h0m.8-1.7h0m.6 1.4h0m.1 1.4h0m.1-2.7h0m.4-.6h0m0 2.4h0m1.5.9h0m.5-3.9h0m0 3.5h0m.1-2.2h0m.9-1.2h0m0 1.5h0m.6-2.9h0m.6 3h0m.4 2h0m.6-2.8h0m.3-2.7h0m.1.4h0m.3 3h0m.6.8h0m0 .7h0m.4-2.3h0m0-.9h0m.7.4h0m0-1.8h0m.3 4.2h0m.8-3.6h0m.6 0h0m.4 1.6h0m.2 0h0m.6 0h0m0 1.1h0m.1-2.7h0m.1 3.1h0m.2.2h0m.9-1h0m.7 1.9h0m.3-1.8h0m.2-2.2h0m1.2-.8h0m.1 3.2h0m0-3.4h0m.1 3.1h0m.3-3h0m.1 4.1h0m.8-.6h0m.2-4h0m.2 5.7h0m1.5-4.9h0m.1.1h0m.3 1.5h0m.2-1.5h0m.1 4.9h0m2.2-5.7h0m.4 1.7h0m1 .1h0m.5-1.2h0m.8 1.7h0m.2 1.9h0m.5-.2h0m.1.7h0m.1-4.1h0m5.4.9h0m.9 2.3h0m4-1h0m2.9 1.1h0m1.3-2.2h0m2.2 2.1h0m0 2.1h0m2.3-1.5h0m.2-4.1h0m3.2 5.1h0m4.4-1.8h0m3.4 2.2h0m-57.9 5.1h0m.3-3.6h0m.2 3.7h0m.3-3.3h0m.4-1.3h0m.3 4.4h0m.1-2.4h0m.2-1.6h0m.4 2.8h0m.9-.2h0m.7-1.1h0m1.1-1.4h0m.4 3.1h0m.2-1.6h0m.6-.6h0m.5 2h0m.8 2h0m.3-5.6h0m.9 1.2h0m.3-.1h0m.5-1h0m.2 3.6h0m.3-2.4h0m.2 4.3h0m.4-2.7h0m.9-2.5h0m.1 2.5h0m.1 1.9h0m.5-.4h0m.1-4.4h0m.2 4.3h0m.2-1.3h0m.6-1h0m.8.6h0m.1 2.3h0m.6-.6h0m1.6-3.1h0m.1-.8h0m.6 4.3h0m.1-4h0m.5 4h0m.2-1.4h0m.1.4h0m.3-1.8h0m.3-1.5h0m1.4-.1h0m1.1 4.7h0m.1-2.5h0m0-1.4h0m.1-.1h0m.3.7h0m.1 1.9h0m1 .6h0m.2.5h0m1-4.8h0m.1.6h0m.7.6h0m.4 4.2h0m.6-4.4h0m0 1.5h0m.2-.4h0m1.2-.7h0m.5 4.3h0m2.4-.2h0m3.8-3.5h0m3 .5h0m1.8.4h0m.6-1.3h0m6.2.7h0m6.6 0h0m.1 1.1h0m.2-3.2h0m34.2 3.7h0m2.7 1.1h0m1.5.6h0m1.3.1h0m-91.2 3.1h0m.2-.1h0m.1-2.9h0m.3 1.5h0m.3 2.4h0m.1.9h0m.5-.3h0m.3-1.3h0m.3-.3h0m.1.5h0m.5-3.4h0m1.8.4h0m0 1.6h0m.4.3h0m.7-.9h0m.5-.8h0m.4 2.5h0m.6 2.1h0m.1-3.4h0m.4-1.4h0m1.8.2h0m1.6 0h0m.3 3.3h0m1.2.7h0m0-4.5h0m.3 4.6h0m.5-1.7h0m.1 1.8h0m.5-2.7h0m.9 2.5h0m0-3.4h0m.7 2.6h0m.6 2h0m.4-.7h0m0-2.8h0m1 2.7h0m1.3-4h0m0 1.5h0m1.1.8h0m.4.2h0m.2-3.5h0m.2 2.1h0m.2 1.3h0m.7-2.6h0m.5 4.5h0m.2-1.7h0m2.6 2.1h0m2.5-4.7h0m1.4 4.1h0m.8-3h0m2.5 1.4h0m.6 2.4h0m1.1-.1h0m2.8-2.5h0m1.1-2.4h0m1.4 3.5h0m2.2.5h0m.6-3.1h0m1.5.9h0m2.4 2.1h0m24.4-3.4h0m5.5 3.1h0m.4.8h0m1.9.7h0m2.6-5.8h0m.6.9h0m.2 1.3h0m1.3-2.3h0m.9 3.6h0m1.2 1.6h0m.7-1.4h0m.2-1.2h0m.3-2.7h0m.2 2.5h0m.2 1.2h0m.1.1h0m.7-.3h0m.2.3h0m1.1-3.8h0m0 4.8h0m0-4.2h0m0 3.2h0m.1 1h0m.1-3.8h0m.1.4h0m.3 1.9h0m.6-1.3h0m1 2.5h0m.8-3.7h0m.1 2.4h0m1.8-2.9h0m.5 4.6h0m.3 1.1h0m2.5-4h0m1.1.8h0m-97.3 7h0m.1-.8h0m0-.3h0m0 .8h0m.1 1.6h0m.6-3.4h0m.3 4.1h0m.8-.7h0m.1-.1h0m.7.4h0m.5-4.4h0m.6 2.8h0m.1.2h0m0-2.4h0m.1 1.4h0m1.7-1.1h0m.4-1.5h0m.5 2.5h0m.4-1.2h0m.4 2.6h0m.8-2h0m.2 2.3h0m.4 0h0m.1.3h0m.2-1.8h0m.9 2.1h0m.8-.3h0m.3-2.6h0m.1 2.4h0m.3-4.4h0m1.3 4.2h0m.8 1h0m.7-1.9h0m1.1-1.7h0m1.6 2.2h0m0-3.9h0m.8 2.5h0m.1 1.7h0m.3-2.9h0m.1-1.4h0m.1 0h0m.8 5.6h0m.5-2.2h0m2.5 2.2h0m.4-3.7h0m2.7-.8h0m0 1h0m2.4 1.7h0m2.2.6h0m.7-2h0m2.8.8h0m1.3-2.3h0m1 3.7h0m2-3.9h0m2 .4h0m4.2 2.5h0m.5-1.8h0m6.5 2.2h0m1 1.3h0m21.7-3h0m.2-1.2h0m.1.3h0m1.1-1.3h0m1.1 3.2h0m0-2.4h0m1.5.3h0m1.1.6h0m.1 1.8h0m1.6-1.4h0m1.2-.9h0m9.8.6h0m.3-1.7h0m1.6.3h0m.3.9h0m.2.4h0m1.8 1.1h0m1.1-1.7h0m.3 4.3h0m.9-3.4h0m.4 1.5h0m.4 1.2h0m.5-3.9h0m.5-.5h0m-100.8 11.2h0m1-3.7h0m.4 1.5h0m.6-.8h0m.1-2.1h0m.5 4.9h0m.3-4.7h0m.4 3.3h0m.3-1.5h0m.4.4h0m.3 1.1h0m0 .9h0m.2-3.2h0m.4 1.7h0m1 2.2h0m0-1.5h0m.4-1.5h0m.2 1h0m.2 1.2h0m.1-2.2h0m.2 2.7h0m0-2.4h0m.9 1.3h0m.6.8h0m.3 0h0m.3-4.8h0m.5 5.2h0m0-2.1h0m.1-1.8h0m1 3.4h0m.1-1.6h0m.1 2.4h0m.2-2.9h0m.3-2.9h0m.2 1.3h0m.3 1.8h0m.3.2h0m0 .9h0m.3.2h0m1.1-4.1h0m.5-.3h0m.1 3.9h0m.2-.4h0m0-1h0m.1-1.2h0m.9.3h0m.6 2.2h0m.5 2.1h0m2.1-.5h0m6.1-1h0m1.5-2.9h0m1.1-.3h0m6.7 1.8h0m2.6-1.5h0m1.8-1.5h0m1.8.8h0m.7 2.8h0m2.6.7h0m.4-3h0m2-.8h0m.6 2.9h0m1.8-3h0m1 2.7h0m0 2.7h0m3.5-2.2h0m1.1-2.2h0m3.4 3.3h0m9.7-3.4h0m25.2 4.6h0m1.7-2.6h0m0 2.2h0m.2-3.2h0m.3 3.3h0m.1-4.5h0m1 2h0m.4.2h0m.5 1.4h0m.1-4.2h0m.7 3h0m.1-1.7h0m.2 2.1h0m.1-.9h0m.4-2.7h0m.1-.3h0m1 6h0m.9-.5h0m.1-2.4h0m.2-2.7h0m.2 2.6h0m-142.7 7.9h0m1.2-1.5h0m.6.6h0m.8-.7h0m.5 1.8h0m.4-1.6h0m2.3-.1h0m.5-1h0m1.4 2.4h0m0-1.3h0m4.4.3h0m1.5.2h0m5.3.8h0m24.2-3.5h0m1.6 3.6h0m.1-1.1h0m1.6-2h0m.1 3.4h0m.1-1.3h0m.6 0h0m.6.6h0m.8-2.6h0m.4 1.2h0m.8 1.1h0m1.4-1.4h0m.5 1.8h0m1.1-3.9h0m3.9 3h0m1.9-1.8h0m.9 2.2h0m.7 1.3h0m.3-4.1h0m0 .2h0m1.4 3.5h0m2.3-1.9h0m5.9 2.6h0m1-4.2h0m.7 3h0m3-4.3h0m.2 3h0m2.9-.6h0m3.1.8h0m1.5 1.2h0m.8-4h0m1.1 5.1h0m1.9-5.3h0m.1 3.7h0m1.1 1.5h0m.9-4.3h0m1 2.9h0m.8-2.4h0m1.2 2.2h0m1.3-.2h0m1.6-2.7h0m1.4 4.4h0m3.1-2.1h0m.7-3.1h0m3.8 1.5h0m.2 2.6h0m13.2-2.2h0m3.1 3.4h0m12.5-3.6h0m.4.6h0m.3-1.3h0m.3 4.2h0m.2-1.6h0m.6 2h0m1.5-3.6h0m.6 1.9h0m.1-3.9h0m.3 4.8h0m.1-4.6h0m.4 3.2h0m.1 1.8h0m.2-3.3h0m1.9 0h0m.6 2h0m.1-2.4h0m-142.2 5h0m1.6.4h0m.4 4.7h0m.4-5.8h0m.2 3.8h0m1.3-.7h0m1.1-.3h0m2.9-1.6h0m.8-.5h0m.2-.3h0m.6.1h0m.7 2.2h0m35.9-2.7h0m0 .9h0m1.9-.8h0m.2 1.8h0m.9 1.9h0m.5-2.5h0m.1 1.2h0m0 1.6h0m1.4.3h0m1-4.3h0m.1 2.3h0m.6 1.6h0m.2-1.7h0m.2-2.4h0m1 5.4h0m.4-4.5h0m.8.4h0m1.4-.1h0m.8 3.2h0m.4-2.9h0m.7 3.1h0m1.4-4.2h0m.3 5.6h0m.8-5.4h0m.7 5.3h0m.3-2.8h0m1.6.3h0m.1-2.1h0m.2 4h0m1.7-4.1h0m.5 2.7h0m1.1-3.3h0m.8 2.4h0m.5 2h0m.3-4.1h0m1.9 4.8h0m.8-1.9h0m3.3-1.2h0m6.4.9h0m1.3-2.6h0m2.4 3.7h0m3.2-2.3h0m.2 2.8h0m2.8-2.8h0m2.5-.2h0m2.2-2.1h0m.1 5.4h0m1.5-4.9h0m1.5 5.2h0m1.4-1.7h0m1.2-3.9h0m1.1 2.9h0m1.6.7h0m3.4-3.1h0m.5 3.5h0m1.6.6h0m1.6-1h0m19.8.3h0m4.9-2h0m-134.3 5.3h0m.8 2.7h0m.9-2.2h0m.8-1.2h0m1.2 3.9h0m.4.2h0m1.1-4.1h0m0 .4h0m.4 1.7h0m.2 2h0m0-1.6h0m.1-.5h0m.1-1.3h0m39.4 2.2h0m.6-2.8h0m.1 2.9h0m.9 1.8h0m2-2.6h0m.1-2.4h0m1.2 3.9h0m.4 1.3h0m.2-.3h0m.7-2.8h0m1.8-2h0m.1 3.2h0m1.5-2.9h0m.4 2.4h0m2.4 1.6h0m.6-4.5h0m1.1 4h0m.2-2.5h0m1.3 1.3h0m.5.3h0m2.1.7h0m1.3 1.3h0m1.8.3h0m3.3-1.4h0m1.5-3.8h0m.2 2.1h0m1.4.3h0m1.9-2.6h0m2.6 4.5h0m1.5-2.5h0m.5-1.5h0m2.9 4.3h0m.4-2.4h0m1.6-1.7h0m7.8-.2h0m1.5 4.4h0m.6-2.1h0m9.2-2.8h0m.1 4.6h0m4.1-2.7h0m.3 3.3h0m1.8-1.8h0m1.3-3.2h0m3.1 2.5h0m11.3 2.2h0m.7-4.2h0m1.5.4h0m1.6 3.2h0m2.3-3h0m-129.4 4.4h0m.5.2h0m.1 3.9h0m.9.8h0m2.1-2.8h0m.9-1h0m1.2 1.2h0m39.1-.4h0m.1 1.5h0m.9.1h0m1.4-3.3h0m.2 3.1h0m1.1-1.1h0m0-1.6h0m1.7 2.5h0m.5-2.6h0m.2-.4h0m.1 1.4h0m.8 1.8h0m.8 1.4h0m1.5 1.1h0m.5-3.9h0m.4 4h0m1.1-5.1h0m1.9 3h0m1.7-.4h0m.1 1.5h0m.3-1.5h0m2.1 2.2h0m.9-3.4h0m.1 1.3h0m2.5-.8h0m.2 2.4h0m1.9-.1h0m3.2-.8h0m.7-1.8h0m1 2.1h0m2.4-1.5h0m2.7-.4h0m4 1.1h0m2.9 1.6h0m1.3-5.3h0m1.1 2h0m2.4-1.4h0m.9 3.1h0m4.9-1.3h0m4.8-.5h0m2.8 3.1h0m2.3.5h0m.3-4.3h0m2.8 4.8h0m.2-4.5h0m7 1.3h0m0 1.3h0m1.9.6h0m.2-3.2h0m.6-.2h0m1 3h0m2.8-1.9h0m1.2-.8h0m.3 1.2h0m1.3-.3h0m.2-.7h0m1.6 1.8h0m.3-2h0m.6 3.8h0m.3-.1h0m.5-2.7h0m.1-.3h0m1.2 1.9h0m.2 1.5h0m.1-4h0m.5 3h0m.1-2.9h0m-83.8 6.1h0m1.2-1.1h0m.9 1.1h0m.4-.8h0m.7.6h0m.3 3.8h0m.2-4.9h0m.6.8h0m.1 2.2h0m1.4-.1h0m.4-2.3h0m0 1.4h0m.9-1.3h0m1.3 3h0m1-2.4h0m.3 1h0m1.1 1h0m.2 1.7h0m0-.6h0m1.5-1.3h0m.9 2h0m5.2-1.5h0m.2-3.8h0m.8 5h0m2.7-1h0m2.4-4.2h0m.4 5.1h0m.8-2.3h0m6.2 1.5h0m1.1-3.3h0m.8 3.6h0m1.2-.4h0m6.6-1.4h0m2.5 2.4h0m1.9-1.2h0m.9-2.4h0m.4 1.2h0m5.7-1.8h0m.4 4.7h0m.4-2.5h0m2.9-1.5h0m.6 3.5h0m6.9-3.8h0m.2-.7h0m.9.7h0m.3-.4h0m1 2.6h0m.3-1.5h0m.8-.8h0m.4 4.2h0m.9-4.6h0m.6 1.5h0m.3-1h0m2.1-.9h0m1 3.3h0m.2-.9h0m.8-3h0m.3 3.7h0m.8 1.5h0m.1-5h0m.2.3h0m.7 3.5h0m1 1.6h0m2-4.2h0m2-.8h0m1.9 4h0m-132.7 3.8h0m54-1.9h0m.5-.6h0m1.7 3.5h0m1.7-3.4h0m1 1.3h0m.3.4h0m1.6.9h0m6.5 3.2h0m.1-3.5h0m2.5.6h0m3 2.5h0m2-1.4h0m3.6-2.6h0m3.5 1h0m1 2.4h0m.5-3.4h0m2.6 4.2h0m1.7-3.6h0m1.9 1h0m.9-2.4h0m1.2 3.1h0m2.5-3.3h0m4.1 2.4h0m1.5 2.9h0m1.2-2.2h0m.8 1.8h0m3.1-2.2h0m.2-.9h0m0 3.4h0m2 .1h0m2.1-5.6h0m1.9 5.1h0m3-5h0m.1 3.6h0m1.3-2.4h0m4.5 4.2h0m.7-2.5h0m.7-2.6h0m.3 2.3h0m.6 2.2h0m1.8-3h0m.2-1.4h0m0 1.7h0m.7-1.1h0m3.1 1.4h0m.5-1.5h0m1.1.4h0m.1 2.1h0m.6-1.9h0m.3 2.9h0m0-.9h0m.2 0h0m1-1.2h0m.8 1h0m.2-.3h0m.1 1.9h0m.1-2.4h0m1.1 2.1h0m.1-3.7h0m-149.8 6h0m.3.7h0m12.7 1.3h0m55.3-2.6h0m5.8.7h0m6.8-.8h0m.8 1.3h0m4.7-1h0m2.7 2.2h0m1.9-2.3h0m4.7-.5h0m2.2 3.7h0m2.1-2.8h0m2.8.8h0m4.6-.6h0m.4 2.8h0m3.2-3.5h0m4.1 2.6h0m1.7-.4h0m1.5-1.9h0m3.9.3h0m2.1 1.2h0m1.2 2.3h0m2.4-2.4h0m1.2 2.3h0m.1-.8h0m2.3-.8h0m.4-.5h0m.5-1.8h0m.6 4.4h0m.6-4h0m.3 1.6h0m.1 2.9h0m0-5.3h0m1.2 4.9h0m.7-2h0m1.8-1h0m1.4 3.6h0m.8-3.6h0m1.8 2h0m.2-1.2h0m.1 1.8h0m.1-2.2h0m1 3.3h0m2-3.7h0m0 2.2h0m1.3 1.2h0m.5-.1h0m.4-5h0m0 4.4h0m.1-.7h0m.4-1.1h0m.3 1.9h0m.5-.7h0m2.1-2.7h0m1.1.1h0m-147.6 9.9h0m7-3.2h0m84.9 3.1h0m34.3-.3h0m.8.3h0m.8-2h0m.1 1.8h0m1.3-.6h0m.1-1.3h0m.2-1.6h0m.5 0h0m.4 2.2h0m1 .5h0m1.3.5h0m.4-2.8h0m0 0h0m.4-.2h0m.2-1.4h0m1.2.4h0m.5 1.5h0m.9-1.6h0m1.3-.1h0m5.6 3.2h0m1.5.2h0m.3-2.1h0m.3-.8h0m1.6.8h0m1.6 2.6h0m.2.7h0m.2.1h0m.5.3h0m1-4h0m-149 9.6h0m88.4.4h0m4.9-4.7h0m2.7 4.2h0m1.8-.6h0m1.7.1h0m12.3.9h0m11.5-3.5h0m.1-1h0m1.2 1.4h0m1.4 2.2h0m.8-2.2h0m.8-1.3h0m.7 2.7h0m1.4-2.8h0m.2 1.2h0m.1 2.6h0m.3-2.2h0m.1-2.3h0m1.5.2h0m.4.7h0m1.2 3.7h0m.1-4.4h0m.7 2.6h0m0-2.3h0m.1 2.5h0m.4 2.1h0m2.5-5.2h0m.1 1h0m.2-.8h0m.4 4.8h0m.9-2.6h0m3.1-2.2h0m3.1 4.6h0m.6-1.2h0m2.5-2.7h0m0 .9h0m.3-1.4h0m-163.4 7.3h0m6.5 1.7h0m10.3-.4h0m7.1 0h0m1.8-1.7h0m84.3 1.9h0m.7.3h0m.6-1.6h0m.4.6h0m.7.4h0m.3-2.7h0m.4 2.6h0m.3.3h0m.3 1.3h0m.5.9h0m.4-4.9h0m.1 4.7h0m.9-5.5h0m.3 4.4h0m1 .7h0m.3-2.2h0m.2 2.4h0m.5-2.8h0m.5-.9h0m2.1-.6h0m1 .2h0m.5-.4h0m.3.5h0m0 0h0m.3 3.1h0m.2-3.4h0m1.5 2h0m.2 1.5h0m.5-2.4h0m.7 2.5h0m0 .2h0m1.6-3.5h0m.3.4h0m.5-.3h0m1.1 4h0m.5-1.8h0m.1-1.5h0m.7-.8h0m2.5 2.6h0m4.8-3h0m.1.9h0m1.4 2.3h0m.4 1.5h0m3.1-4.3h0m.3-.9h0m2.1 2.4h0m.5.6h0m1.7-3.1h0m1.6.3h0m1.3 1.5h0m1.8 3h0m3.7-4.2h0m.5 3.3h0m.1-1h0m.8-1.5h0m.1 1.1h0m0 1.5h0m1.4.5h0m1-4h0m1.3 2.7h0m.7-3.1h0m-68.6 10.7h0m12.7-.4h0m1-2.7h0m.4-1.6h0m.6 3.4h0m1 1.7h0m.6-1.1h0m1.3-1h0m.6-.8h0m0 .2h0m1.3 2.7h0m.1-4.5h0m1.5 3.4h0m.4-1.2h0m.1-.1h0m.3-1.7h0m.1 4.1h0m1.7-.7h0m1.1-.7h0m1-3.7h0m.7.5h0m0 2.5h0m2.6-.8h0m.1.5h0m.7 2.8h0m.2-3.1h0m1.6-.3h0m.7-.5h0m0 2.9h0m.4-4h0m1.1-.7h0m2.7-.1h0m1.7 1.7h0m.4 1.5h0m.3-1.4h0m.6-.4h0m1.2 3.6h0m.1 0h0m.2-1h0m0 1.8h0m.3-4.1h0m0 2.5h0m.3-4h0m0 .9h0m.3.8h0m0 3.8h0m0-4.4h0m.4 2.9h0m1-3.7h0m.2 2.7h0m.6 1.9h0m2 0h0m.8-5.1h0m.1 3.9h0m.5-2.8h0m.2-1.1h0m0 5h0m1.1.2h0m.8-.7h0m0-2.8h0m.9 4.1h0m.2-5.4h0m1.6.2h0m.5-.6h0m.9.2h0m1 3.8h0m2.1-3h0m1.1 1.1h0m.2 1.9h0m.8 1.7h0m.7-4.6h0m.4 2.5h0m.1-3.4h0m3.1 2.1h0m.7 0h0m.7.5h0m8.6-.4h0m-141 8.2h0m68.4-.3h0m.5 1.3h0m10.8-2.4h0m.7 1.2h0m.8-3.4h0m.1 2.1h0m0-.1h0m.1 2.8h0m.7-.3h0m.2-3.8h0m.7.5h0m.3 3.2h0m.4-2.4h0m.6 2.8h0m.9-1.8h0m.6 1.3h0m.4-3h0m2.8-2.3h0m.9 2.8h0m.7-2.4h0m.3.4h0m.5 2.9h0m.1-1.8h0m.1.7h0m.3 1.6h0m1.4-.1h0m0-4h0m.7 2.1h0m.5.7h0m1.3 1.6h0m0-4.4h0m.1 4.3h0m.1-2.2h0m.6 2.3h0m0-1h0m0-1.2h0m.2.2h0m.2 1h0m0-1.2h0m.7 2.1h0m.1-2.4h0m.4-.3h0m.6 1.2h0m2 1.9h0m.4-4.6h0m.5 1.9h0m.3-1.1h0m.3 2.1h0m1.5 2h0m.7.7h0m.9-4.4h0m.5 3.3h0m.3-.9h0m.2-3.7h0m.1.8h0m.1 3.5h0m1-3.8h0m1.4 5.2h0m0-.6h0m.2-.9h0m.2-1.5h0m0 1.6h0m.4.3h0m.9-1.5h0m0-1.5h0m.8 3.8h0m.5-2.4h0m1-.4h0m.8.4h0m2.3 2.4h0m2.8-3.5h0m.9 3h0m1-2.2h0m2.4 2.2h0m.2-.3h0m.8-2.4h0m1.3-.7h0m.6.2h0m.7-1.5h0m.4 3.7h0m2.8-3.5h0m1.8 3.5h0m.7-3.9h0m12.2 3.2h0m-146.2 7.1h0m66.7 1.4h0m2.2-3.4h0m.2 3.3h0m1.1 0h0m.1-.2h0m.2-.1h0m5.4-.3h0m1.8-2.1h0m.3-1.9h0m.9 3.6h0m.7-3.9h0m.3-.8h0m.1 4.9h0m.3.6h0m0-.9h0m.6-.2h0m0-2.6h0m0 3.1h0m.7-.1h0m0-2.8h0m.6 2.7h0m.8-2.8h0m1-1.3h0m.2 4.6h0m.1-3h0m0 2.9h0m.8-3.2h0m.1 2.3h0m0 .1h0m.1-.2h0m.6-1h0m0-.8h0m1.5-.3h0m.5-.1h0m.5-.4h0m1 .3h0m.3-.9h0m.9 4.1h0m1.2-2.7h0m.3-1.8h0m.4.6h0m.7.7h0m.3 1.5h0m.1.1h0m.3 1.2h0m.7-2.4h0m.2.4h0m.5-.8h0m.7 1.3h0m.6.3h0m.7 2.2h0m.2-2.4h0m.4 2.6h0m.3-5h0m.1.2h0m.5.4h0m.3-.8h0m.1 2.2h0m.3 1.7h0m0 1.3h0m.8-.8h0m.5-1.7h0m.8 1.3h0m0-2.7h0m.8-1.1h0m.8-.4h0m.3 1.8h0m.4 2h0m.2.4h0m.4 1.2h0m.3-.7h0m1.3-4.4h0m.2.6h0m1.7 3h0m0-1.1h0m.1 1.5h0m.1-.6h0m.1 1h0m1.1-4.4h0m.1 2.8h0m.5.8h0m.1.2h0m.2 1.2h0m.1-4.3h0m.1 1.7h0m.9-1.5h0m1.6.2h0m.4 1.4h0m.2-1.3h0m6.9 3.7h0m.2-3.2h0m2.1 3.3h0m.2-.6h0m.2-3.9h0m1.4 3.8h0m1.2-1.4h0m1.4-1.3h0m1 2.3h0m.1.4h0m.3.6h0m2.3-3.9h0m1.2 1.3h0m.1-2.8h0m6.8 2h0m-77.8 9.7h0m.3-1.6h0m.5.9h0m.5.1h0m.1-.4h0m.7-1.5h0m.4.1h0m1.8-.5h0m.1-.2h0m.5.3h0m.6-.9h0m.1 1.5h0m1.8-.6h0m.3-1.1h0m.3-.5h0m0-.9h0m.9 1.9h0m.5 1.9h0m.2-3.4h0m0 1.3h0m.1-1.1h0m.1 3.1h0m0-1.6h0m.7 2.7h0m.2-3.1h0m1.2-2.3h0m1 5.3h0m.1-2.1h0m.3 1.3h0m0-2.6h0m.1 1.1h0m3.3 1.8h0m.4-4.7h0m1.4 5.5h0m.3-3.5h0m0-.2h0m.3 2h0m.1-1.9h0m.2-.3h0m.2 3.7h0m.1-1.4h0m.6-.9h0m.2.3h0m1.8-2.8h0m.6 4.9h0m1.1-2h0m.3-.1h0m.6-.8h0m0-2.4h0m.7 4h0m0 .1h0m1.3-.6h0m.3-1.5h0m.3-.6h0m.2 1.6h0m1.1.2h0m.4.9h0m0-.8h0m.2-3.6h0m.1 5.8h0m.3-5.2h0m.4 2.4h0m.1 2.9h0m.1-5.2h0m1.1 3.1h0m0-1.7h0m.7-1h0m.9-.3h0m.2 2.3h0m.1-.6h0m.3 1.7h0m1.9-3.1h0m.6 1.8h0m.8 1.7h0m.8-4.5h0m.1 1.6h0m0-.5h0m.5 4.7h0m.1-2.3h0m.2-2.9h0m.3 2.8h0m.3-1.9h0m.4-1.1h0m.7 3.3h0m.1-.6h0m.1-.1h0m.1.2h0m.1-1.4h0m.1 3.8h0m.4-5h0m.6 1.5h0m.3 1.3h0m.4-1.4h0m1.8 1.3h0m.6-2.2h0m.5-.5h0m.2 4.7h0m.7-.3h0m2.6-1.4h0m1.3-1.8h0m.8-.4h0m1.2 4.5h0m.9-2.6h0m.3.3h0m1.5.9h0m1.8-4.1h0m1.3 3.3h0m.5-1h0m.1-.2h0m0-1.7h0m1.2 3.7h0m1.1-.1h0m1.1.7h0m1.5-1.9h0m3.2-2h0m0 .9h0m1.6-1.8h0m18.9 4.4h0m4.5-3.6h0m-142.2 8h0m.2-2.4h0m40.9 5.1h0m2.5-2.6h0m.3.7h0m.2 1.8h0m.8-1.6h0m1-1.4h0m.6-.4h0m.9 1.3h0m1.4 2.2h0m.9-2.3h0m.6.9h0m.7-4.4h0m1.4 2.4h0m.3-.4h0m1.5 3.5h0m.3-3.8h0m.2.1h0m.6 2.4h0m.5 1.4h0m.5-1.2h0m1.7-2h0m.7-1.5h0m1.9-.4h0m0 1.8h0m.6-1.9h0m.8.1h0m0 3h0m.5-.6h0m.1-2.1h0m.2 1h0m.5 2h0m.1-2.5h0m.1 4h0m.1-3.9h0m.7 3.2h0m1.8-2.5h0m.6 1.8h0m.1.8h0m.5-1.9h0m2.2-1.3h0m1.5 0h0m0 2.7h0m.1-3.3h0m.1 1.5h0m0-.9h0m.7 3.7h0m1-4.8h0m.9 5.4h0m.1-2.8h0m1.7-2.5h0m.1 1.4h0m.1-.5h0m2.2 4.4h0m.3-1.3h0m2.7-4.3h0m.3 5.1h0m1.7-4.5h0m.1 3.9h0m1.3-3h0m.7 3.1h0m.2-4.6h0m.2 4.4h0m.3-3.2h0m.1 1.4h0m.1-2.1h0m1.5 2.1h0m.5-.2h0m.6-2h0m.3 2.9h0m.2-.9h0m.6 1.7h0m.1.7h0m.1.4h0m0-3.4h0m.1-.2h0m.4 3.6h0m.1-3.1h0m.3-1.7h0m.3.2h0m6.8 1.2h0m.5.7h0m.8-2.4h0m.2 1.1h0m0-1.1h0m.6 2.2h0m.1 2.9h0m.6-2.6h0m2.1-.3h0m1.7-1.8h0m0 3.5h0m1.2-2.5h0m.7 1h0m.8-1.9h0m.5.5h0m.1 2.3h0m.1-3h0m.2 2.3h0m.6-.7h0m1.6.8h0m.3.6h0m2.2-.1h0m1-.1h0m.5-3h0m35.3-.4h0m-144.2 9.1h0m2.3 2.8h0m1-1.8h0m.7.1h0m3.1 1.7h0m21.6-.7h0m.1.5h0m2.1-.1h0m.3-.9h0m.8 1.1h0m.6-.6h0m.7.3h0m2.1-3h0m0-2.5h0m1 3h0m.9.4h0m0 1.3h0m1.5-1.3h0m.1.8h0m1.4 1.7h0m1.6-.7h0m1.3-.1h0m.1-1.4h0m.3-3.3h0m.5 2.3h0m0 .2h0m1.9-2.9h0m1.1 4.8h0m.3-4.2h0m0 4h0m.4-1.3h0m.7 1.8h0m.5-.5h0m0-.1h0m1.1.8h0m.1-.6h0m.3-3h0m.1 3.4h0m1.5.6h0m.6-1.3h0m.2-3.7h0m.7 2.9h0m.5-2h0m.2 1.8h0m.1-1.9h0m.1.2h0m.2 1.9h0m.3 1.5h0m.2.7h0m1-1.9h0m.3-1.5h0m1.4 3.5h0m.9-1.1h0m.3-3.4h0m.4-.6h0m.1 1.2h0m.2 2h0m.9-1.9h0m1.2-1.6h0m.1 1.3h0m.5-.8h0m.6 2.9h0m.1-3.9h0m0 5.3h0m.1-.6h0m1 1.2h0m2.2-2.5h0m.8-3.2h0m0 1.7h0m.5 1.9h0m.1-2.4h0m.1-.8h0m2.5 3h0m.6 1h0m.4-4.4h0m1.1 2.6h0m1.9-2.5h0m.8-.3h0m.7 4.8h0m.9-1h0m1.2-2.9h0m.7.6h0m1.4-1.2h0m4 .5h0m.3-.6h0m0 4.4h0m1.3-3.7h0m1.2 5h0m.1-4.5h0m7 .6h0m2.1 2.2h0m1.6 1.2h0m.6-5.4h0m1 3.9h0m2.3 1.4h0m.7-3.1h0m0-.1h0m1.1 2.2h0m1.2.6h0m.8-1.7h0m.1.7h0m.4 0h0m27-1.8h0m-137.1 8.1h0m1.6.9h0m1-2.4h0m.3 3h0m.4-.1h0m.6-5.5h0m.3 3h0m.7-3.1h0m.8 4h0m.1.8h0m.7-1h0m.2-.7h0m.3-1.6h0m.2 3.8h0m.1-.3h0m.2-4.2h0m.1 4.9h0m.4-.3h0m3.3-3h0m0 2.2h0m.5.6h0m.5-4.6h0m.4 2.2h0m1.7 1.9h0m1-.5h0m.1 0h0m.2-1h0m1.1-.1h0m0 1.7h0m.6.6h0m.4-3.9h0m.3 1.4h0m0 .5h0m1.4 1.7h0m1.8-.3h0m.7 1h0m2.8-.5h0m1-2.8h0m.1 2h0m.2.8h0m1.2-1.4h0m.7-.3h0m.2-.3h0m0-2.5h0m.4 4.9h0m.2-3.7h0m.1.3h0m.6-2.2h0m1.2.1h0m.2 3.9h0m.4.9h0m0-4.1h0m.7 4.5h0m.5-5h0m.4 2.9h0m.2 0h0m.4 2.1h0m1.2-2.9h0m.4 2.4h0m.1-3.8h0m.4 2.4h0m.2 1.7h0m.5-1.2h0m0-.1h0m.2-.2h0m.4 1.2h0m.8-1.5h0m.5-1.5h0m.7-.4h0m.4.3h0m0 2.7h0m.2 1.1h0m.2-3.8h0m.1 2.2h0m1.7.5h0m.1-3.4h0m.5 1.1h0m1.5-.3h0m1.3 2.2h0m.4-2.1h0m.3 3.2h0m.1-.5h0m.1-4.1h0m1-.6h0m1.1 4.3h0m.4-.4h0m.4-3.1h0m1 3.5h0m.1 1.2h0m.4-4.6h0m.1-.8h0m.1 1.4h0m.4 2.7h0m.1-3h0m0 .5h0m0 1.7h0m.6-2.7h0m.2 1.2h0m.3 2h0m.3-1.7h0m.6 3.5h0m.2-2.4h0m0 1.5h0m.3-.8h0m.2.9h0m.4-2.2h0m.2 2.9h0m.6-3.3h0m.2-1.3h0m1 .9h0m.4.1h0m.3 1.7h0m.3-.7h0m.3-2h0m.9 1.5h0m.6 1.6h0m.2.6h0m.1-2.8h0m.4 0h0m.4 2h0m.7-.1h0m.1-1.6h0m0-.8h0m.2-.4h0m.6 4.5h0m.6-.4h0m0 .4h0m.3.3h0m.1-1.5h0m.1-.3h0m.7-1.1h0m0 0h0m.5 2.3h0m1.1-1.1h0m0-1.6h0m.5-1.4h0m.4 1.7h0m.1-2.3h0m.9 1.4h0m1 0h0m.1 2.6h0m.3-.5h0m.1-1.7h0m.2-1.2h0m.6 3.2h0m.1-3.2h0m.5 3.3h0m.1 0h0m.3-1.1h0m.5-1.2h0m1.7 3.6h0m1.9-4.4h0m1.2.2h0m1.5-.3h0m1.6-1.1h0m.4 1.5h0m1.5 2h0m.9-2.3h0m.3 2.9h0m.6-4h0m.1 0h0m.4 2.9h0m1.3.9h0m1.1.5h0m0-3.1h0m.5 1.8h0m1.3-2.9h0m.3.8h0m.2.2h0m.4 3h0m1.6-1h0m1.1 2h0m.3-4.2h0m.2 4.2h0m.3-1.3h0m.7-3.7h0m.5.5h0m.6.4h0m.1 1.6h0m.5-1.1h0m.1 4h0m.2-.3h0m.6-1.2h0m3.8 1h0m.2-3.7h0m0 2.9h0m.3-3.9h0m.4.2h0m.3 1.4h0m.4-.7h0m1.5-1.1h0m.5 1.2h0m1.1 0h0m.6 1.5h0m0 .2h0m1.6-.7h0m.5-2.3h0m.3 5.3h0m-102.9 3.5h0m.9.3h0m1.6-2.7h0m.3 4.7h0m4.7-4.2h0m.3-1h0m1.1 1.4h0m11.9-1.3h0m.5.6h0m1 .6h0m2.4-.6h0m3.3 2.9h0m.3-2.8h0m0 .3h0m1 1.1h0m.2-.1h0m2.2-1.7h0m.3 1.5h0m.1 1.2h0m.2-3.1h0m.3 3.3h0m.1-.1h0m.6-1.8h0m.3 2.8h0m.5-4.1h0m.5 4.8h0m1-2.6h0m.2-2.5h0m.2 4.5h0m.1 1.2h0m.8-3.8h0m.3-.7h0m1.8 4.2h0m.3-4.6h0m.9 1.8h0m.1 1.7h0m.1-1.8h0m.3.5h0m.7-2.5h0m.1 2.6h0m.6.6h0m.6-2.5h0m2.3 3.8h0m.4-.8h0m1-3.5h0m.5 4h0m.2.4h0m.4-3.2h0m.8-.9h0m.5.9h0m0-1.6h0m.1 4h0m.3 1.1h0m1 .4h0m.1-2.5h0m.7-1.7h0m.1-1.3h0m2.5 2.4h0m.4 1.8h0m.6.1h0m0 0h0m.4-4.6h0m.4 3.6h0m.6.3h0m.1-3.7h0m.4.7h0m.4-.8h0m.1 2.7h0m1.1 2.7h0m1.3-4.6h0m0 4.4h0m1.6-.6h0m.4-1.6h0m2.9-.5h0m.1-.9h0m.2 2.7h0m.1-2.5h0m.4.4h0m.1.2h0m.4-.6h0m1-1.8h0m1.8 1h0m1-.7h0m14.5.4h0m.2 2.3h0m3.5-.8h0m.2-.3h0m.5 2.4h0m.2-3.8h0m.2 5.4h0m1.1-4.5h0m1-.3h0m.4 1.9h0m0 .3h0m.5-.5h0m.2-1.9h0m.5 1.1h0m.6.8h0m.4-.2h0m.3-1.4h0m1.6-.5h0m1.3 3.8h0m.7.3h0m.1-1.3h0m.6 0h0m1.7-1.1h0m.4-1.7h0m.2.4h0m.3.1h0m-67.7 6.8h0m.3-1h0m.4 1.3h0m.2-1.5h0m1-.6h0m2.7 4.8h0m.7 0h0m.3-.7h0m.3-1.5h0m.3 1.2h0m.3.9h0m2.1-.8h0m.4-2.8h0m1.2-.4h0m.9.7h0m1-.6h0m.6 2.9h0m.1-3.6h0m.6 5h0m.2-2h0m1-2h0m.1.6h0m.2.8h0m.1 1.6h0m.5-2.9h0m0 3h0m.3-.9h0m0-.1h0m.3 1.8h0m.1-3.5h0m.2 2.8h0m.7-4.2h0m.9.8h0m5.5-.9h0m.6.1h0m31.2.9h0m1.9-.5h0m.4-.4h0m.7-.2h0m10.3.2h0m-64.7 6.2h0m.1-.1h0m.8 2.3h0m.1-1.9h0m1.1-.2h0m.2 0h0m.7 4.7h0m.4-2.7h0m1.4-.2h0m1.1 1.4h0m.4-1.1h0m.7 3.2h0m.9-3.6h0m.3 3.3h0m.3-4.2h0m.8-1.5h0m.8 2.1h0m115-1.1h0m-121.2 5.5h0m.4 2.2h0m0-2.6h0m.3 2.7h0m1.4.9h0m.5-1h0m1-1.4h0" stroke="#E31E25" stroke-width="2.6" stroke-linecap="round" fill="none"/><text x="1240.6" y="314" font-size="22.7">MICB vax (+dox)</text><path d="M1201.6 313.5L1201.6 494.4" stroke="#222" stroke-width="1.2" fill="none"/><path d="M1201.1 493.9L1420 493.9" stroke="#222" stroke-width="1.2" fill="none"/><path d="M1198.1 355.2L1201.6 355.2" stroke="#222" stroke-width="1" fill="none"/><text x="1195.1" y="359.9" font-size="18.7" text-anchor="end">2.5</text><path d="M1198.1 400L1201.6 400" stroke="#222" stroke-width="1" fill="none"/><text x="1195.1" y="404.6" font-size="18.7" text-anchor="end">0.0</text><path d="M1198.1 444.8L1201.6 444.8" stroke="#222" stroke-width="1" fill="none"/><text x="1195.1" y="449.4" font-size="18.7" text-anchor="end">−2.5</text><path d="M1198.1 489.5L1201.6 489.5" stroke="#222" stroke-width="1" fill="none"/><text x="1195.1" y="494.1" font-size="18.7" text-anchor="end">−5.0</text><path d="M1212.8 493.9L1212.8 497.4" stroke="#222" stroke-width="1" fill="none"/><text x="1212.8" y="514.4" font-size="18.8" text-anchor="middle">−10</text><path d="M1270 493.9L1270 497.4" stroke="#222" stroke-width="1" fill="none"/><text x="1270" y="514.4" font-size="18.8" text-anchor="middle">−5</text><path d="M1327.2 493.9L1327.2 497.4" stroke="#222" stroke-width="1" fill="none"/><text x="1327.2" y="514.4" font-size="18.8" text-anchor="middle">0</text><path d="M1384.4 493.9L1384.4 497.4" stroke="#222" stroke-width="1" fill="none"/><text x="1384.4" y="514.4" font-size="18.8" text-anchor="middle">5</text><text x="1328" y="539.9" font-size="22.4" text-anchor="middle">UMAP_1</text><text x="1151" y="405.2" font-size="22" text-anchor="middle" transform="rotate(-90 1151 405.2)">UMAP_2</text><text x="1489" y="22" font-size="28" font-weight="bold">c</text><rect x="1572.1" y="482.2" width="39.1" height="11.6" fill="#2DB573"/><rect x="1572.1" y="470.7" width="39.1" height="11.5" fill="#EE951F"/><rect x="1572.1" y="435.8" width="39.1" height="34.9" fill="#7F3C98"/><rect x="1572.1" y="408.6" width="39.1" height="27.2" fill="#FDD619"/><rect x="1572.1" y="375.3" width="39.1" height="33.3" fill="#6DC8C0"/><rect x="1572.1" y="367.5" width="39.1" height="7.8" fill="#2B3990"/><rect x="1572.1" y="340.7" width="39.1" height="26.8" fill="#DA1E5C"/><rect x="1614.2" y="481.9" width="39" height="11.9" fill="#2DB573"/><rect x="1614.2" y="454.7" width="39" height="23.1" fill="#EE951F"/><rect x="1614.2" y="432" width="39" height="22.7" fill="#7F3C98"/><rect x="1614.2" y="408" width="39" height="24" fill="#FDD619"/><rect x="1614.2" y="375.3" width="39" height="32.7" fill="#6DC8C0"/><rect x="1614.2" y="367.5" width="39" height="7.8" fill="#2B3990"/><rect x="1614.2" y="324.9" width="39" height="42.6" fill="#DA1E5C"/><rect x="1657.6" y="481.9" width="38.2" height="11.9" fill="#2DB573"/><rect x="1657.6" y="462.7" width="38.2" height="19.2" fill="#EE951F"/><rect x="1657.6" y="428.1" width="38.2" height="34.6" fill="#7F3C98"/><rect x="1657.6" y="416" width="38.2" height="12.1" fill="#FDD619"/><rect x="1657.6" y="378.5" width="38.2" height="37.5" fill="#6DC8C0"/><rect x="1657.6" y="371.4" width="38.2" height="7.1" fill="#2B3990"/><rect x="1657.6" y="328.8" width="38.2" height="42.6" fill="#DA1E5C"/><rect x="1695.8" y="485.4" width="38.1" height="8.4" fill="#2DB573"/><rect x="1695.8" y="435.2" width="38.1" height="50.2" fill="#EE951F"/><rect x="1695.8" y="332.9" width="38.1" height="102.3" fill="#7F3C98"/><rect x="1695.8" y="308.4" width="38.1" height="24.5" fill="#FDD619"/><rect x="1695.8" y="208.9" width="38.1" height="99.5" fill="#6DC8C0"/><rect x="1695.8" y="194" width="38.1" height="14.9" fill="#2B3990"/><rect x="1695.8" y="7.3" width="38.1" height="186.7" fill="#DA1E5C"/><rect x="1572.1" y="469.6" width="39.1" height="1.2" fill="#fff"/><path d="M1568.6 11L1568.6 494.5" stroke="#111" stroke-width="1.4" fill="none"/><path d="M1568 493.8L1745.1 493.8" stroke="#111" stroke-width="1.4" fill="none"/><path d="M1565 493.8L1568.6 493.8" stroke="#111" stroke-width="1" fill="none"/><text x="1564.5" y="501.8" font-size="22.8" text-anchor="end">0.0</text><path d="M1565 388.3L1568.6 388.3" stroke="#111" stroke-width="1" fill="none"/><text x="1564.5" y="396.3" font-size="22.8" text-anchor="end">0.1</text><path d="M1565 282.8L1568.6 282.8" stroke="#111" stroke-width="1" fill="none"/><text x="1564.5" y="290.8" font-size="22.8" text-anchor="end">0.2</text><path d="M1565 177.3L1568.6 177.3" stroke="#111" stroke-width="1" fill="none"/><text x="1564.5" y="185.3" font-size="22.8" text-anchor="end">0.3</text><path d="M1565 71.8L1568.6 71.8" stroke="#111" stroke-width="1" fill="none"/><text x="1564.5" y="79.8" font-size="22.8" text-anchor="end">0.4</text><text x="1521.5" y="270.5" font-size="22.6" text-anchor="middle" transform="rotate(-90 1521.5 270.5)">Fraction of total CD45+ cells</text><text x="1530" y="516.8" font-size="22">dox</text><text x="1594.7" y="516.8" font-size="22.5" text-anchor="middle">-</text><text x="1636.4" y="516.8" font-size="22.5" text-anchor="middle">+</text><text x="1674.5" y="516.8" font-size="22.5" text-anchor="middle">-</text><text x="1715.6" y="516.8" font-size="22.5" text-anchor="middle">+</text><path d="M1576.4 529.2L1648.4 529.2" stroke="#333" stroke-width="1" fill="none"/><path d="M1669.2 529.2L1741 529.2" stroke="#333" stroke-width="1" fill="none"/><text x="1611.1" y="546.1" font-size="22.4" text-anchor="middle">Ctrl-vax</text><text x="1707.3" y="546.1" font-size="22.6" text-anchor="middle">MICB-vax</text><text x="7.5" y="567.5" font-size="28" font-weight="bold">d</text><text x="103.6" y="566.8" font-size="26.87"># T cells per TCR clonotype within  B16F10 (MICB-dox) tumors</text><text x="234.2" y="599.3" font-size="26.82">in Ctrl groups vs MICB-vax (+ Dox)  group</text><circle cx="99.9" cy="642.8" r="6.6" fill="#5EC4F0" stroke="#333" stroke-width="0.5"/><text x="117.1" y="650.5" font-size="22.8">Ctrl vax (-dox)</text><circle cx="281" cy="642.8" r="6.6" fill="#6594B2" stroke="#333" stroke-width="0.5"/><text x="298.2" y="650.5" font-size="22.8">Ctrl vax (+dox)</text><circle cx="469.9" cy="642.8" r="6.6" fill="#165B94" stroke="#333" stroke-width="0.5"/><text x="486.6" y="650.5" font-size="22.8">MICB vax (-dox)</text><circle cx="671.3" cy="642.8" r="6.6" fill="#E8202A" stroke="#333" stroke-width="0.5"/><text x="688" y="650.5" font-size="22.8">MICB vax (+dox)</text><rect x="82.5" y="673.5" width="769.8" height="456.3" fill="#EBEBEB"/><path d="M82.5 703.7L852.3 703.7" stroke="#fff" stroke-width="0.9" fill="none"/><path d="M82.5 843.7L852.3 843.7" stroke="#fff" stroke-width="0.9" fill="none"/><path d="M82.5 983.7L852.3 983.7" stroke="#fff" stroke-width="0.9" fill="none"/><path d="M82.5 776.9L852.3 776.9" stroke="#fff" stroke-width="1.8" fill="none"/><path d="M82.5 910.5L852.3 910.5" stroke="#fff" stroke-width="1.8" fill="none"/><path d="M82.5 1056.9L852.3 1056.9" stroke="#fff" stroke-width="1.8" fill="none"/><path d="M171.2 673.5L171.2 1129.8" stroke="#fff" stroke-width="1.8" fill="none"/><path d="M319.3 673.5L319.3 1129.8" stroke="#fff" stroke-width="1.8" fill="none"/><path d="M467.4 673.5L467.4 1129.8" stroke="#fff" stroke-width="1.8" fill="none"/><path d="M615.6 673.5L615.6 1129.8" stroke="#fff" stroke-width="1.8" fill="none"/><path d="M764.9 673.5L764.9 1129.8" stroke="#fff" stroke-width="1.8" fill="none"/><circle cx="121.4" cy="1106.2" r="6.9" fill="#5EC4F0" stroke="#222" stroke-width="0.7"/><circle cx="155.6" cy="1106.2" r="6.9" fill="#6594B2" stroke="#222" stroke-width="0.7"/><circle cx="156.5" cy="1106.2" r="6.9" fill="#6594B2" stroke="#222" stroke-width="0.7"/><circle cx="157.4" cy="1106.2" r="6.9" fill="#6594B2" stroke="#222" stroke-width="0.7"/><circle cx="158.4" cy="1106.2" r="6.9" fill="#6594B2" stroke="#222" stroke-width="0.7"/><circle cx="159.3" cy="1106.2" r="6.9" fill="#6594B2" stroke="#222" stroke-width="0.7"/><circle cx="153.3" cy="1056.9" r="6.9" fill="#6594B2" stroke="#222" stroke-width="0.7"/><circle cx="154.7" cy="1056.9" r="6.9" fill="#6594B2" stroke="#222" stroke-width="0.7"/><circle cx="156.1" cy="1056.9" r="6.9" fill="#6594B2" stroke="#222" stroke-width="0.7"/><circle cx="157.5" cy="1056.9" r="6.9" fill="#6594B2" stroke="#222" stroke-width="0.7"/><circle cx="155" cy="994.8" r="6.9" fill="#6594B2" stroke="#222" stroke-width="0.7"/><circle cx="155" cy="835.7" r="6.9" fill="#6594B2" stroke="#222" stroke-width="0.7"/><circle cx="186.5" cy="1106.2" r="6.9" fill="#E8202A" stroke="#222" stroke-width="0.7"/><circle cx="188.3" cy="1106.2" r="6.9" fill="#E8202A" stroke="#222" stroke-width="0.7"/><circle cx="190.1" cy="1106.2" r="6.9" fill="#E8202A" stroke="#222" stroke-width="0.7"/><circle cx="192" cy="1106.2" r="6.9" fill="#E8202A" stroke="#222" stroke-width="0.7"/><circle cx="193.8" cy="1106.2" r="6.9" fill="#E8202A" stroke="#222" stroke-width="0.7"/><circle cx="195.6" cy="1106.2" r="6.9" fill="#E8202A" stroke="#222" stroke-width="0.7"/><circle cx="197.4" cy="1106.2" r="6.9" fill="#E8202A" stroke="#222" stroke-width="0.7"/><circle cx="199.2" cy="1106.2" r="6.9" fill="#E8202A" stroke="#222" stroke-width="0.7"/><circle cx="201.1" cy="1106.2" r="6.9" fill="#E8202A" stroke="#222" stroke-width="0.7"/><circle cx="202.9" cy="1106.2" r="6.9" fill="#E8202A" stroke="#222" stroke-width="0.7"/><circle cx="204.7" cy="1106.2" r="6.9" fill="#E8202A" stroke="#222" stroke-width="0.7"/><circle cx="206.5" cy="1106.2" r="6.9" fill="#E8202A" stroke="#222" stroke-width="0.7"/><circle cx="208.3" cy="1106.2" r="6.9" fill="#E8202A" stroke="#222" stroke-width="0.7"/><circle cx="210.2" cy="1106.2" r="6.9" fill="#E8202A" stroke="#222" stroke-width="0.7"/><circle cx="212" cy="1106.2" r="6.9" fill="#E8202A" stroke="#222" stroke-width="0.7"/><circle cx="213.8" cy="1106.2" r="6.9" fill="#E8202A" stroke="#222" stroke-width="0.7"/><circle cx="215.6" cy="1106.2" r="6.9" fill="#E8202A" stroke="#222" stroke-width="0.7"/><circle cx="217.4" cy="1106.2" r="6.9" fill="#E8202A" stroke="#222" stroke-width="0.7"/><circle cx="219.3" cy="1106.2" r="6.9" fill="#E8202A" stroke="#222" stroke-width="0.7"/><circle cx="221.1" cy="1106.2" r="6.9" fill="#E8202A" stroke="#222" stroke-width="0.7"/><circle cx="222.9" cy="1106.2" r="6.9" fill="#E8202A" stroke="#222" stroke-width="0.7"/><circle cx="224.7" cy="1106.2" r="6.9" fill="#E8202A" stroke="#222" stroke-width="0.7"/><circle cx="226.6" cy="1106.2" r="6.9" fill="#E8202A" stroke="#222" stroke-width="0.7"/><circle cx="228.4" cy="1106.2" r="6.9" fill="#E8202A" stroke="#222" stroke-width="0.7"/><circle cx="230.2" cy="1106.2" r="6.9" fill="#E8202A" stroke="#222" stroke-width="0.7"/><circle cx="232" cy="1106.2" r="6.9" fill="#E8202A" stroke="#222" stroke-width="0.7"/><circle cx="233.8" cy="1106.2" r="6.9" fill="#E8202A" stroke="#222" stroke-width="0.7"/><circle cx="235.7" cy="1106.2" r="6.9" fill="#E8202A" stroke="#222" stroke-width="0.7"/><circle cx="237.5" cy="1106.2" r="6.9" fill="#E8202A" stroke="#222" stroke-width="0.7"/><circle cx="239.3" cy="1106.2" r="6.9" fill="#E8202A" stroke="#222" stroke-width="0.7"/><circle cx="241.1" cy="1106.2" r="6.9" fill="#E8202A" stroke="#222" stroke-width="0.7"/><circle cx="242.9" cy="1106.2" r="6.9" fill="#E8202A" stroke="#222" stroke-width="0.7"/><circle cx="244.8" cy="1106.2" r="6.9" fill="#E8202A" stroke="#222" stroke-width="0.7"/><circle cx="246.6" cy="1106.2" r="6.9" fill="#E8202A" stroke="#222" stroke-width="0.7"/><circle cx="248.4" cy="1106.2" r="6.9" fill="#E8202A" stroke="#222" stroke-width="0.7"/><circle cx="250.2" cy="1106.2" r="6.9" fill="#E8202A" stroke="#222" stroke-width="0.7"/><circle cx="252" cy="1106.2" r="6.9" fill="#E8202A" stroke="#222" stroke-width="0.7"/><circle cx="253.9" cy="1106.2" r="6.9" fill="#E8202A" stroke="#222" stroke-width="0.7"/><circle cx="255.7" cy="1106.2" r="6.9" fill="#E8202A" stroke="#222" stroke-width="0.7"/><circle cx="257.5" cy="1106.2" r="6.9" fill="#E8202A" stroke="#222" stroke-width="0.7"/><circle cx="205.4" cy="1056.9" r="6.9" fill="#E8202A" stroke="#222" stroke-width="0.7"/><circle cx="207.1" cy="1056.9" r="6.9" fill="#E8202A" stroke="#222" stroke-width="0.7"/><circle cx="208.9" cy="1056.9" r="6.9" fill="#E8202A" stroke="#222" stroke-width="0.7"/><circle cx="210.6" cy="1056.9" r="6.9" fill="#E8202A" stroke="#222" stroke-width="0.7"/><circle cx="212.4" cy="1056.9" r="6.9" fill="#E8202A" stroke="#222" stroke-width="0.7"/><circle cx="214.1" cy="1056.9" r="6.9" fill="#E8202A" stroke="#222" stroke-width="0.7"/><circle cx="215.9" cy="1056.9" r="6.9" fill="#E8202A" stroke="#222" stroke-width="0.7"/><circle cx="217.6" cy="1056.9" r="6.9" fill="#E8202A" stroke="#222" stroke-width="0.7"/><circle cx="219.3" cy="1056.9" r="6.9" fill="#E8202A" stroke="#222" stroke-width="0.7"/><circle cx="221.1" cy="1056.9" r="6.9" fill="#E8202A" stroke="#222" stroke-width="0.7"/><circle cx="222.8" cy="1056.9" r="6.9" fill="#E8202A" stroke="#222" stroke-width="0.7"/><circle cx="224.6" cy="1056.9" r="6.9" fill="#E8202A" stroke="#222" stroke-width="0.7"/><circle cx="226.3" cy="1056.9" r="6.9" fill="#E8202A" stroke="#222" stroke-width="0.7"/><circle cx="228" cy="1056.9" r="6.9" fill="#E8202A" stroke="#222" stroke-width="0.7"/><circle cx="229.8" cy="1056.9" r="6.9" fill="#E8202A" stroke="#222" stroke-width="0.7"/><circle cx="231.5" cy="1056.9" r="6.9" fill="#E8202A" stroke="#222" stroke-width="0.7"/><circle cx="233.3" cy="1056.9" r="6.9" fill="#E8202A" stroke="#222" stroke-width="0.7"/><circle cx="235" cy="1056.9" r="6.9" fill="#E8202A" stroke="#222" stroke-width="0.7"/><circle cx="236.8" cy="1056.9" r="6.9" fill="#E8202A" stroke="#222" stroke-width="0.7"/><circle cx="238.5" cy="1056.9" r="6.9" fill="#E8202A" stroke="#222" stroke-width="0.7"/><circle cx="214.8" cy="1021.9" r="6.9" fill="#E8202A" stroke="#222" stroke-width="0.7"/><circle cx="216.8" cy="1021.9" r="6.9" fill="#E8202A" stroke="#222" stroke-width="0.7"/><circle cx="218.7" cy="1021.9" r="6.9" fill="#E8202A" stroke="#222" stroke-width="0.7"/><circle cx="220.7" cy="1021.9" r="6.9" fill="#E8202A" stroke="#222" stroke-width="0.7"/><circle cx="222.6" cy="1021.9" r="6.9" fill="#E8202A" stroke="#222" stroke-width="0.7"/><circle cx="224.6" cy="1021.9" r="6.9" fill="#E8202A" stroke="#222" stroke-width="0.7"/><circle cx="226.5" cy="1021.9" r="6.9" fill="#E8202A" stroke="#222" stroke-width="0.7"/><circle cx="228.5" cy="1021.9" r="6.9" fill="#E8202A" stroke="#222" stroke-width="0.7"/><circle cx="218.4" cy="994.8" r="6.9" fill="#E8202A" stroke="#222" stroke-width="0.7"/><circle cx="220.2" cy="994.8" r="6.9" fill="#E8202A" stroke="#222" stroke-width="0.7"/><circle cx="221.9" cy="994.8" r="6.9" fill="#E8202A" stroke="#222" stroke-width="0.7"/><circle cx="223.7" cy="994.8" r="6.9" fill="#E8202A" stroke="#222" stroke-width="0.7"/><circle cx="225.5" cy="994.8" r="6.9" fill="#E8202A" stroke="#222" stroke-width="0.7"/><circle cx="219.6" cy="972.6" r="6.9" fill="#E8202A" stroke="#222" stroke-width="0.7"/><circle cx="221.2" cy="972.6" r="6.9" fill="#E8202A" stroke="#222" stroke-width="0.7"/><circle cx="222.8" cy="972.6" r="6.9" fill="#E8202A" stroke="#222" stroke-width="0.7"/><circle cx="224.4" cy="972.6" r="6.9" fill="#E8202A" stroke="#222" stroke-width="0.7"/><circle cx="286.3" cy="1106.2" r="6.9" fill="#5EC4F0" stroke="#222" stroke-width="0.7"/><circle cx="353.2" cy="1106.2" r="6.9" fill="#E8202A" stroke="#222" stroke-width="0.7"/><circle cx="423.7" cy="1106.2" r="6.9" fill="#5EC4F0" stroke="#222" stroke-width="0.7"/><circle cx="423.7" cy="1056.9" r="6.9" fill="#5EC4F0" stroke="#222" stroke-width="0.7"/><circle cx="423.7" cy="1021.9" r="6.9" fill="#5EC4F0" stroke="#222" stroke-width="0.7"/><circle cx="466.5" cy="1106.2" r="6.9" fill="#6594B2" stroke="#222" stroke-width="0.7"/><circle cx="468" cy="1106.2" r="6.9" fill="#6594B2" stroke="#222" stroke-width="0.7"/><circle cx="469.5" cy="1106.2" r="6.9" fill="#6594B2" stroke="#222" stroke-width="0.7"/><circle cx="468" cy="923.3" r="6.9" fill="#6594B2" stroke="#222" stroke-width="0.7"/><circle cx="490.5" cy="1106.2" r="6.9" fill="#E8202A" stroke="#222" stroke-width="0.7"/><circle cx="492.3" cy="1106.2" r="6.9" fill="#E8202A" stroke="#222" stroke-width="0.7"/><circle cx="494.2" cy="1106.2" r="6.9" fill="#E8202A" stroke="#222" stroke-width="0.7"/><circle cx="496" cy="1106.2" r="6.9" fill="#E8202A" stroke="#222" stroke-width="0.7"/><circle cx="497.9" cy="1106.2" r="6.9" fill="#E8202A" stroke="#222" stroke-width="0.7"/><circle cx="499.7" cy="1106.2" r="6.9" fill="#E8202A" stroke="#222" stroke-width="0.7"/><circle cx="501.6" cy="1106.2" r="6.9" fill="#E8202A" stroke="#222" stroke-width="0.7"/><circle cx="503.4" cy="1106.2" r="6.9" fill="#E8202A" stroke="#222" stroke-width="0.7"/><circle cx="505.3" cy="1106.2" r="6.9" fill="#E8202A" stroke="#222" stroke-width="0.7"/><circle cx="507.1" cy="1106.2" r="6.9" fill="#E8202A" stroke="#222" stroke-width="0.7"/><circle cx="509" cy="1106.2" r="6.9" fill="#E8202A" stroke="#222" stroke-width="0.7"/><circle cx="510.8" cy="1106.2" r="6.9" fill="#E8202A" stroke="#222" stroke-width="0.7"/><circle cx="512.6" cy="1106.2" r="6.9" fill="#E8202A" stroke="#222" stroke-width="0.7"/><circle cx="514.5" cy="1106.2" r="6.9" fill="#E8202A" stroke="#222" stroke-width="0.7"/><circle cx="516.3" cy="1106.2" r="6.9" fill="#E8202A" stroke="#222" stroke-width="0.7"/><circle cx="518.2" cy="1106.2" r="6.9" fill="#E8202A" stroke="#222" stroke-width="0.7"/><circle cx="520" cy="1106.2" r="6.9" fill="#E8202A" stroke="#222" stroke-width="0.7"/><circle cx="521.9" cy="1106.2" r="6.9" fill="#E8202A" stroke="#222" stroke-width="0.7"/><circle cx="523.7" cy="1106.2" r="6.9" fill="#E8202A" stroke="#222" stroke-width="0.7"/><circle cx="525.6" cy="1106.2" r="6.9" fill="#E8202A" stroke="#222" stroke-width="0.7"/><circle cx="527.4" cy="1106.2" r="6.9" fill="#E8202A" stroke="#222" stroke-width="0.7"/><circle cx="529.3" cy="1106.2" r="6.9" fill="#E8202A" stroke="#222" stroke-width="0.7"/><circle cx="531.1" cy="1106.2" r="6.9" fill="#E8202A" stroke="#222" stroke-width="0.7"/><circle cx="533" cy="1106.2" r="6.9" fill="#E8202A" stroke="#222" stroke-width="0.7"/><circle cx="534.8" cy="1106.2" r="6.9" fill="#E8202A" stroke="#222" stroke-width="0.7"/><circle cx="504" cy="1056.9" r="6.9" fill="#E8202A" stroke="#222" stroke-width="0.7"/><circle cx="506" cy="1056.9" r="6.9" fill="#E8202A" stroke="#222" stroke-width="0.7"/><circle cx="508" cy="1056.9" r="6.9" fill="#E8202A" stroke="#222" stroke-width="0.7"/><circle cx="510" cy="1056.9" r="6.9" fill="#E8202A" stroke="#222" stroke-width="0.7"/><circle cx="512" cy="1056.9" r="6.9" fill="#E8202A" stroke="#222" stroke-width="0.7"/><circle cx="514" cy="1056.9" r="6.9" fill="#E8202A" stroke="#222" stroke-width="0.7"/><circle cx="516" cy="1056.9" r="6.9" fill="#E8202A" stroke="#222" stroke-width="0.7"/><circle cx="518" cy="1056.9" r="6.9" fill="#E8202A" stroke="#222" stroke-width="0.7"/><circle cx="520" cy="1056.9" r="6.9" fill="#E8202A" stroke="#222" stroke-width="0.7"/><circle cx="522" cy="1056.9" r="6.9" fill="#E8202A" stroke="#222" stroke-width="0.7"/><circle cx="510" cy="1021.9" r="6.9" fill="#E8202A" stroke="#222" stroke-width="0.7"/><circle cx="512.3" cy="1021.9" r="6.9" fill="#E8202A" stroke="#222" stroke-width="0.7"/><circle cx="514.7" cy="1021.9" r="6.9" fill="#E8202A" stroke="#222" stroke-width="0.7"/><circle cx="517" cy="1021.9" r="6.9" fill="#E8202A" stroke="#222" stroke-width="0.7"/><circle cx="509" cy="994.8" r="6.9" fill="#E8202A" stroke="#222" stroke-width="0.7"/><circle cx="511.7" cy="994.8" r="6.9" fill="#E8202A" stroke="#222" stroke-width="0.7"/><circle cx="514.3" cy="994.8" r="6.9" fill="#E8202A" stroke="#222" stroke-width="0.7"/><circle cx="517" cy="994.8" r="6.9" fill="#E8202A" stroke="#222" stroke-width="0.7"/><circle cx="512" cy="972.6" r="6.9" fill="#E8202A" stroke="#222" stroke-width="0.7"/><circle cx="515" cy="972.6" r="6.9" fill="#E8202A" stroke="#222" stroke-width="0.7"/><circle cx="566" cy="1106.2" r="6.9" fill="#5EC4F0" stroke="#222" stroke-width="0.7"/><circle cx="570.5" cy="1106.2" r="6.9" fill="#5EC4F0" stroke="#222" stroke-width="0.7"/><circle cx="575" cy="1106.2" r="6.9" fill="#5EC4F0" stroke="#222" stroke-width="0.7"/><circle cx="566.2" cy="1021.9" r="6.9" fill="#5EC4F0" stroke="#222" stroke-width="0.7"/><circle cx="566.2" cy="953.9" r="6.9" fill="#5EC4F0" stroke="#222" stroke-width="0.7"/><circle cx="600" cy="1106.2" r="6.9" fill="#6594B2" stroke="#222" stroke-width="0.7"/><circle cx="603.3" cy="1106.2" r="6.9" fill="#6594B2" stroke="#222" stroke-width="0.7"/><circle cx="606.7" cy="1106.2" r="6.9" fill="#6594B2" stroke="#222" stroke-width="0.7"/><circle cx="610" cy="1106.2" r="6.9" fill="#6594B2" stroke="#222" stroke-width="0.7"/><circle cx="600.2" cy="1056.9" r="6.9" fill="#6594B2" stroke="#222" stroke-width="0.7"/><circle cx="599" cy="994.8" r="6.9" fill="#6594B2" stroke="#222" stroke-width="0.7"/><circle cx="603" cy="994.8" r="6.9" fill="#6594B2" stroke="#222" stroke-width="0.7"/><circle cx="600" cy="937.6" r="6.9" fill="#6594B2" stroke="#222" stroke-width="0.7"/><circle cx="600" cy="812.4" r="6.9" fill="#6594B2" stroke="#222" stroke-width="0.7"/><circle cx="633" cy="1106.2" r="6.9" fill="#165B94" stroke="#222" stroke-width="0.7"/><circle cx="635.5" cy="1106.2" r="6.9" fill="#165B94" stroke="#222" stroke-width="0.7"/><circle cx="638" cy="1106.2" r="6.9" fill="#165B94" stroke="#222" stroke-width="0.7"/><circle cx="633" cy="1056.9" r="6.9" fill="#165B94" stroke="#222" stroke-width="0.7"/><circle cx="635.5" cy="1056.9" r="6.9" fill="#165B94" stroke="#222" stroke-width="0.7"/><circle cx="638" cy="1056.9" r="6.9" fill="#165B94" stroke="#222" stroke-width="0.7"/><circle cx="662.6" cy="1106.2" r="6.9" fill="#E8202A" stroke="#222" stroke-width="0.7"/><circle cx="664.5" cy="1106.2" r="6.9" fill="#E8202A" stroke="#222" stroke-width="0.7"/><circle cx="666.4" cy="1106.2" r="6.9" fill="#E8202A" stroke="#222" stroke-width="0.7"/><circle cx="668.2" cy="1106.2" r="6.9" fill="#E8202A" stroke="#222" stroke-width="0.7"/><circle cx="670.1" cy="1106.2" r="6.9" fill="#E8202A" stroke="#222" stroke-width="0.7"/><circle cx="672" cy="1106.2" r="6.9" fill="#E8202A" stroke="#222" stroke-width="0.7"/><circle cx="667.3" cy="1056.9" r="6.9" fill="#E8202A" stroke="#222" stroke-width="0.7"/><circle cx="665" cy="1021.9" r="6.9" fill="#E8202A" stroke="#222" stroke-width="0.7"/><circle cx="667" cy="1021.9" r="6.9" fill="#E8202A" stroke="#222" stroke-width="0.7"/><circle cx="719" cy="1106.2" r="6.9" fill="#6594B2" stroke="#222" stroke-width="0.7"/><circle cx="720.5" cy="1106.2" r="6.9" fill="#6594B2" stroke="#222" stroke-width="0.7"/><circle cx="722" cy="1106.2" r="6.9" fill="#6594B2" stroke="#222" stroke-width="0.7"/><circle cx="723.5" cy="1106.2" r="6.9" fill="#6594B2" stroke="#222" stroke-width="0.7"/><circle cx="720.8" cy="910.5" r="6.9" fill="#6594B2" stroke="#222" stroke-width="0.7"/><circle cx="765.4" cy="1106.2" r="6.9" fill="#165B94" stroke="#222" stroke-width="0.7"/><circle cx="765.4" cy="1056.9" r="6.9" fill="#165B94" stroke="#222" stroke-width="0.7"/><circle cx="804.7" cy="1106.2" r="6.9" fill="#E8202A" stroke="#222" stroke-width="0.7"/><circle cx="806.6" cy="1106.2" r="6.9" fill="#E8202A" stroke="#222" stroke-width="0.7"/><circle cx="808.5" cy="1106.2" r="6.9" fill="#E8202A" stroke="#222" stroke-width="0.7"/><circle cx="810.5" cy="1106.2" r="6.9" fill="#E8202A" stroke="#222" stroke-width="0.7"/><circle cx="812.4" cy="1106.2" r="6.9" fill="#E8202A" stroke="#222" stroke-width="0.7"/><circle cx="814.3" cy="1106.2" r="6.9" fill="#E8202A" stroke="#222" stroke-width="0.7"/><circle cx="808.4" cy="1056.9" r="6.9" fill="#E8202A" stroke="#222" stroke-width="0.7"/><circle cx="810.5" cy="1056.9" r="6.9" fill="#E8202A" stroke="#222" stroke-width="0.7"/><circle cx="221.7" cy="952.7" r="6.9" fill="#E8202A" stroke="#222" stroke-width="0.7"/><circle cx="221.7" cy="936.6" r="6.9" fill="#E8202A" stroke="#222" stroke-width="0.7"/><circle cx="221.7" cy="923.6" r="6.9" fill="#E8202A" stroke="#222" stroke-width="0.7"/><circle cx="221.7" cy="888.3" r="6.9" fill="#E8202A" stroke="#222" stroke-width="0.7"/><circle cx="221.7" cy="869.6" r="6.9" fill="#E8202A" stroke="#222" stroke-width="0.7"/><circle cx="221.7" cy="860.4" r="6.9" fill="#E8202A" stroke="#222" stroke-width="0.7"/><circle cx="221.7" cy="851.8" r="6.9" fill="#E8202A" stroke="#222" stroke-width="0.7"/><circle cx="221.7" cy="837.7" r="6.9" fill="#E8202A" stroke="#222" stroke-width="0.7"/><circle cx="221.7" cy="793.4" r="6.9" fill="#E8202A" stroke="#222" stroke-width="0.7"/><circle cx="221.7" cy="780.2" r="6.9" fill="#E8202A" stroke="#222" stroke-width="0.7"/><circle cx="221.7" cy="761.3" r="6.9" fill="#E8202A" stroke="#222" stroke-width="0.7"/><circle cx="512.6" cy="952.8" r="6.9" fill="#E8202A" stroke="#222" stroke-width="0.7"/><circle cx="512.6" cy="910.5" r="6.9" fill="#E8202A" stroke="#222" stroke-width="0.7"/><circle cx="512.6" cy="772.5" r="6.9" fill="#E8202A" stroke="#222" stroke-width="0.7"/><circle cx="667.1" cy="972" r="6.9" fill="#E8202A" stroke="#222" stroke-width="0.7"/><circle cx="667.1" cy="923.4" r="6.9" fill="#E8202A" stroke="#222" stroke-width="0.7"/><circle cx="667.1" cy="898.9" r="6.9" fill="#E8202A" stroke="#222" stroke-width="0.7"/><circle cx="667.1" cy="877.7" r="6.9" fill="#E8202A" stroke="#222" stroke-width="0.7"/><circle cx="667.1" cy="824.4" r="6.9" fill="#E8202A" stroke="#222" stroke-width="0.7"/><circle cx="667.1" cy="694.7" r="6.9" fill="#E8202A" stroke="#222" stroke-width="0.7"/><rect x="82.5" y="673.5" width="769.8" height="456.3" fill="none" stroke="#111" stroke-width="1.3"/><path d="M79 776.9L82.5 776.9" stroke="#333" stroke-width="1" fill="none"/><text x="78" y="784.4" font-size="21.5" text-anchor="end">30</text><path d="M79 910.5L82.5 910.5" stroke="#333" stroke-width="1" fill="none"/><text x="78" y="918" font-size="21.5" text-anchor="end">10</text><path d="M79 1056.9L82.5 1056.9" stroke="#333" stroke-width="1" fill="none"/><text x="78" y="1064.4" font-size="21.5" text-anchor="end">3</text><path d="M171.2 1129.8L171.2 1133.8" stroke="#333" stroke-width="1" fill="none"/><path d="M319.3 1129.8L319.3 1133.8" stroke="#333" stroke-width="1" fill="none"/><path d="M467.4 1129.8L467.4 1133.8" stroke="#333" stroke-width="1" fill="none"/><path d="M615.6 1129.8L615.6 1133.8" stroke="#333" stroke-width="1" fill="none"/><path d="M764.9 1129.8L764.9 1133.8" stroke="#333" stroke-width="1" fill="none"/><text x="167.6" y="1156.4" font-size="22" text-anchor="middle">CD4</text><text x="315.9" y="1156.4" font-size="22" text-anchor="middle">Treg</text><text x="458" y="1153.5" font-size="22.4" text-anchor="middle">CD8</text><text x="458" y="1180.8" font-size="22.4" text-anchor="middle">effector</text><text x="608.2" y="1153.5" font-size="22.4" text-anchor="middle">CD8</text><text x="608.2" y="1180.8" font-size="22.4" text-anchor="middle">exhausted</text><text x="757" y="1153.5" font-size="22.4" text-anchor="middle">CD8</text><text x="757" y="1180.8" font-size="22.4" text-anchor="middle">proliferating</text><text x="32.5" y="917.3" font-size="23" text-anchor="middle" transform="rotate(-90 32.5 917.3)"># of T cells/ TCR clonotype</text><text x="882" y="613.8" font-size="28" font-weight="bold">g</text><text x="971.5" y="614.1" font-size="24.1">CD4 T cell activation signature</text><path d="M914 796L918 796" stroke="#222" stroke-width="1" fill="none"/><text x="912.8" y="802.9" font-size="19.3" text-anchor="end">0</text><path d="M914 767.2L918 767.2" stroke="#222" stroke-width="1" fill="none"/><text x="912.8" y="774.1" font-size="19.3" text-anchor="end">1</text><path d="M914 738.4L918 738.4" stroke="#222" stroke-width="1" fill="none"/><text x="912.8" y="745.3" font-size="19.3" text-anchor="end">2</text><path d="M914 709.6L918 709.6" stroke="#222" stroke-width="1" fill="none"/><text x="912.8" y="716.5" font-size="19.3" text-anchor="end">3</text><path d="M914 680.8L918 680.8" stroke="#222" stroke-width="1" fill="none"/><text x="912.8" y="687.7" font-size="19.3" text-anchor="end">4</text><text x="1016.9" y="648.4" font-size="22.2" text-anchor="middle">Cd69</text><text x="1016.9" y="670.7" font-size="18.4" text-anchor="middle">P=0.0015</text><text x="894.5" y="730.2" font-size="18.7" text-anchor="middle" transform="rotate(-90 894.5 730.2)">Expression Level</text><path d="M1012.6 796l-.6-2.5-1.6-2.6-2.6-2.5-3.3-2.6-3.7-2.5-3.9-2.6-3.7-2.5-3.2-2.5-2.7-2.6-1.9-2.5-1.1-2.6-.3-2.5.5-2.6 1.1-2.5 1.7-2.5 2-2.6 2.2-2.5 2.2-2.6 1.9-2.5 1.6-2.6 1-2.5.3-2.5-.1-2.6-.2-2.5-.4-2.6-.6-2.5-.7-2.6-.9-2.5-1-2.5-1-2.6-1.2-2.5-1.2-2.6-1.3-2.5-1.3-2.6-1.3-2.5-1.3-2.5-1.3-2.6-1.3-2.5-1.2-2.6-1.1-2.5-1.1-2.6-1-2.5-.9-2.5-.9-2.6-.7-2.5-.7-2.6-.6-2.5-7.4 0-.6 2.5-.7 2.6-.7 2.5-.9 2.6-.9 2.5-1 2.5-1.1 2.6-1.1 2.5-1.2 2.6-1.3 2.5-1.3 2.6-1.3 2.5-1.3 2.5-1.3 2.6-1.3 2.5-1.2 2.6-1.2 2.5-1 2.6-1 2.5-.9 2.5-.7 2.6-.6 2.5-.4 2.6-.2 2.5-.1 2.6.3 2.5 1 2.5 1.6 2.6 1.9 2.5 2.2 2.6 2.2 2.5 2 2.6 1.7 2.5 1.1 2.5.5 2.6-.3 2.5-1.1 2.6-1.9 2.5-2.7 2.6-3.2 2.5-3.7 2.5-3.9 2.6-3.7 2.5-3.3 2.6-2.6 2.5-1.6 2.6-.6 2.5z" fill="#1A62EE" stroke="#1d1d2b" stroke-width="0.8"/><path d="M953.2 681.5h0m-18.4 7.8h0m4.4-.4h0m5.8 2.1h0m56.3-3.7h0m-45.8 10.1h0m33.3.9h0m7.5-1.3h0m9.2-2.8h0m3.3-.7h0m-73.2 9.2h0m1.8-2.2h0m.1 4h0m0-4.8h0m7.6 5.1h0m4.9-1.6h0m.6-.7h0m10.3-1.2h0m1.7.5h0m10 1.5h0m7.2-2.9h0m5.4.8h0m4-2.1h0m3.6 2.3h0m.3-.8h0m5.6 1.9h0m-62.2 8.2h0m2.3-.8h0m3.3-.1h0m12.3-.2h0m16.6-1h0m7.9.6h0m3.2.8h0m3.7-1.2h0m14.8 1.7h0m-51.2 5.4h0m7.9-2.9h0m3.7 2.1h0m3.8-3.2h0m7.7.8h0m13 3.1h0m-39.8 6.2h0m8.3-.9h0m13 .7h0m6.8-.7h0m1.6 0h0m15.1.8h0m.6-4.3h0m7.4 3.3h0m3.4-.5h0m-62 6.3h0m3.6-.9h0m3.6-1.6h0m12.2.7h0m1.5-1.1h0m5.3 1.9h0m3.8 2h0m9.5-1.5h0m4.2-1.7h0m.7.5h0m.9-.7h0m4.3 2.5h0m.7-1.6h0m18.6-.9h0m1.5-.3h0m-73.2 6.6h0m1.2-.6h0m12.7 4.1h0m4.5-2.8h0m2.7 2.3h0m2-.3h0m7.3-1.3h0m18.1-.5h0m.8 2.9h0m7.2-5.2h0m.9 2.4h0m4.1-1.5h0m3.4 1.1h0m3.8 3.3h0m-65.8 6.3h0m5.2-.4h0m1.9.5h0m.1-2.1h0m4.1-3.4h0m.5 2h0m4.8 2h0m1-2.6h0m.5.4h0m1.6 3.7h0m3.1-4.7h0m2.9 2.7h0m15.7-3.7h0m2.9 5.7h0m3.7-.2h0m1.4-4.2h0m4.3 4.1h0m13.5-2.2h0m.7-3.2h0m2.4 4.9h0m0-2h0m-64.7 8.4h0m1.3-4.8h0m10.2 1.4h0m1.7 3.8h0m.7-3.5h0m10.7-.7h0m1.1-.7h0m1 2.9h0m2.2-2.2h0m8.2 2.2h0m2.9-.8h0m1.5-2.6h0m.9 4.2h0m6.2 0h0m2.7-2.1h0m7.9-.4h0m1.9-.6h0m-72.2 8.9h0m3.3-1h0m1.8 1.2h0m1-.8h0m.1.6h0m.2-1.9h0m2.2 2.2h0m.1-2.1h0m.4-.2h0m3.6-.2h0m2.9-1.4h0m2.1 4.2h0m1-2.4h0m.2-1h0m3.4.5h0m2.9 3.4h0m4.4-5.1h0m2.8-.1h0m6 3h0m2.7.2h0m.3 1.7h0m3.9.6h0m1.6-5h0m.1 3.6h0m.4-1.8h0m.6 1.8h0m3.5-1.1h0m.4.5h0m8.4-.2h0m.2 1.5h0m.7-4h0m2 4.7h0m2.4-4.8h0m.6 3.5h0m1.9 1.3h0m2-3.2h0m1.5.5h0m1.9-3h0m2 3.2h0m-75.6 5h0m.2 2.9h0m4.7-.5h0m.6-1.8h0m6.5-2.1h0m3.7-.6h0m2.3-.1h0m2.7 1.3h0m3.2-1.2h0m17.1.5h0m2.7 1.3h0m2.5 0h0m.5.4h0m.7 1.6h0m6.6 1h0m8.6-5.1h0m1.7 4.9h0m-54.8 5.7h0m7.4-3.7h0m12.6 1.5h0m18.6 3.3h0m14.5-4h0m6.4 3h0m2.1-1.1h0m4.4-1.8h0m-59.1 9.9h0m2.1-5.2h0m10 3.2h0m5 1.9h0m10-1.9h0m.3-.1h0m5 2.3h0m4.2-.3h0m6.1-1.1h0m1.4-2.9h0m-26.4 7.8h0" stroke="#141414" stroke-width="2.0" stroke-linecap="round" fill="none"/><path d="M932.5 795.5L1010.5 795.5" stroke="#222" stroke-width="1.6" fill="none"/><path d="M1105.2 796l-1.2-2.5-3.4-2.6-5-2.5-5.9-2.6-5.8-2.5-5.3-2.6-4.3-2.5-3.1-2.6-1.9-2.5-.9-2.6-.1-2.5.6-2.6 1.2-2.5 1.8-2.6 2.1-2.5 2.6-2.6 2.9-2.5 3.1-2.6 3.3-2.5 3.2-2.6 2.9-2.5 2.5-2.5 1.9-2.6 1.2-2.5.3-2.6-.2-2.5-.4-2.6-.7-2.5-.9-2.6-1.1-2.5-1.3-2.6-1.4-2.5-1.6-2.6-1.7-2.5-1.7-2.6-1.8-2.5-1.8-2.6-1.8-2.5-1.7-2.6-1.7-2.5-1.5-2.6-1.5-2.5-1.4-2.6-1.2-2.5-1.2-2.5-1-2.6-.9-2.5-.8-2.6-.7-2.5-.6-2.6-.5-2.5-.4-2.6-3.8 0-.4 2.6-.5 2.5-.6 2.6-.7 2.5-.8 2.6-.9 2.5-1 2.6-1.2 2.5-1.2 2.5-1.4 2.6-1.5 2.5-1.5 2.6-1.7 2.5-1.7 2.6-1.8 2.5-1.8 2.6-1.8 2.5-1.7 2.6-1.7 2.5-1.6 2.6-1.4 2.5-1.3 2.6-1.1 2.5-.9 2.6-.7 2.5-.4 2.6-.2 2.5.3 2.6 1.2 2.5 1.9 2.6 2.5 2.5 2.9 2.5 3.2 2.6 3.3 2.5 3.1 2.6 2.9 2.5 2.6 2.6 2.1 2.5 1.8 2.6 1.2 2.5.6 2.6-.1 2.5-.9 2.6-1.9 2.5-3.1 2.6-4.3 2.5-5.3 2.6-5.8 2.5-5.9 2.6-5 2.5-3.4 2.6-1.2 2.5z" fill="#E8212A" stroke="#1d1d2b" stroke-width="0.8"/><path d="M1035.9 667.1h0m22 1.7h0m43.1-.2h0m0-3.7h0m-52.6 9.5h0m3.6-3.7h0m7 .3h0m8.8 1.2h0m2.7 1.3h0m1.1 1.2h0m12.6-.5h0m7.2-3.8h0m5-1.1h0m2.7 4.7h0m-56.5 2.8h0m2.1 2.4h0m0-2h0m.4 3.6h0m8.5-1.3h0m1-3.3h0m7.9 3.2h0m.4-2.5h0m16.4-.6h0m2.3 4.2h0m.1-.5h0m.8.6h0m3.2-5.4h0m14.6 4.2h0m2.3-3.7h0m-76.5 8.1h0m1 2.2h0m2.8-4.1h0m1.7 2.8h0m3.9-2.2h0m.3 2.6h0m.2.3h0m.4 1.3h0m9.3-1.8h0m1.5.1h0m13.2 2h0m2.1-2.9h0m1.3-1.6h0m.7-.5h0m3.1 3.9h0m11.7-2.1h0m4.1 3.1h0m4.9-3.7h0m9.6 1.1h0m.8-1.1h0m2.6-.3h0m-74.5 9.9h0m1.1-.2h0m4.9-1.4h0m2.1 1.5h0m4.8-1.5h0m2.1-1h0m2.2-.5h0m.3-.7h0m.5-1.7h0m.1 2.2h0m5.8 3.2h0m1.7.1h0m5-2.5h0m4.6.2h0m5.2-1.3h0m.2 1.5h0m5.4-.8h0m10.1.5h0m3.5 1.7h0m1.8-1.6h0m.3-2.2h0m6.5-.3h0m2.9 4.4h0m1.1-1.6h0m3.3.3h0m-76.3 7.1h0m2 .6h0m.2-3.2h0m.5-2.4h0m1.3 4.3h0m4.3-1.9h0m.7-1.1h0m7.8 1.5h0m1-2h0m2.9 1.6h0m.3 1.5h0m3.5-3.9h0m4.1 1.6h0m3.5.8h0m.1 1.2h0m10.8 1.9h0m.9-.3h0m.3-.2h0m0-2.4h0m2 1.6h0m.1-1.3h0m5 .1h0m12.6 1.5h0m.2 1.3h0m.7-2.4h0m1.7-3.6h0m1.5 2.9h0m2.7-.4h0m.5-1.8h0m1.2 1.2h0m-72.1 5.8h0m3.9 2.4h0m1.2-1.6h0m.7 1.9h0m2.1-3.3h0m.2 2.8h0m.3-1.9h0m1.2 1.2h0m6.8-2.2h0m2.5 3.7h0m2.1-.7h0m.8-1.3h0m1.7 2.8h0m5.4-1h0m1.6-3.4h0m.7 2.6h0m3.3-2.4h0m.3 2h0m0-2.8h0m.5 2.4h0m1.4-2.2h0m4.1 3.2h0m2.4-2.4h0m8.2-.3h0m.8 1.2h0m.9-1.7h0m1.3 4.1h0m3.1-1.7h0m1.6.8h0m2-2h0m3.6-1.2h0m3 4.2h0m4-2h0m-72.1 6.3h0m2.2-2h0m.3 4h0m.1-2.5h0m3.9-.6h0m.5-1.5h0m3.2.3h0m.9 4.6h0m4.3-.1h0m3.4-4.1h0m1.6 4.5h0m1.3-4h0m.3 3.8h0m2.8-.9h0m.1-1.4h0m.6 2.1h0m1.3-1.6h0m2.8-2.7h0m.1 3.7h0m1.9-2.9h0m.4 1.4h0m.6-.9h0m1.1 2.1h0m.3-.5h0m2.4-3.6h0m2.1 3h0m.4-2.8h0m2-.1h0m2.9.3h0m1.7 4h0m3.7-1.1h0m.6-2.2h0m14.3 2.3h0m.2 1.1h0m.3-3.4h0m2.3 3.2h0m5.1-4.3h0m.9 2.6h0m1-1.5h0m1.4 2.8h0m1.5-2.4h0m-76.6 9.3h0m.8-3.5h0m.9 2.1h0m.8-1.8h0m.5 1.4h0m2.6-2.3h0m3.6 4.1h0m1.4-.5h0m1.7-1.6h0m2.3-.9h0m1-.7h0m1.4 2.6h0m.2 1.7h0m1.2-2.2h0m.9-1.8h0m1.2 0h0m5 1.2h0m.3 1.6h0m0-3.5h0m.4.8h0m.9 1.4h0m.3 2.6h0m2.2-2.6h0m.9-.4h0m0 2.6h0m.1-3.6h0m1.1 1.6h0m1.7-1.8h0m6.8 3.2h0m4.2-1.4h0m1.6 1.1h0m2.7-3.1h0m2.4.7h0m.6-.8h0m.3 1.5h0m1.5 1.2h0m.2.8h0m.2-.4h0m.5-3.8h0m3.9.6h0m2.9 3.6h0m.2.4h0m.6-2.3h0m.8-2.4h0m2.9.5h0m1.1 2.1h0m1.9 2.4h0m.4-4.2h0m.7 1.7h0m.9 1.5h0m.7.2h0m2.2-4h0m2.4.3h0m-75.1 8.1h0m.3-2.6h0m1.7 1.2h0m.4 4.2h0m1.5-4.1h0m2.6 4.1h0m.3-1.9h0m1.4 0h0m1.4 1.5h0m2.3.4h0m.8-1.4h0m1.7-4.4h0m.5 5.8h0m2.6-.2h0m1.4-.1h0m.2-1.8h0m.4 1.4h0m1.2-.2h0m0 .7h0m.4-4.9h0m.4 4.9h0m1.7-1.6h0m.3-2h0m1.4-1.1h0m1.4 3.6h0m.1-1h0m.4-3.5h0m1.2 3.3h0m.3-1.3h0m1.6 0h0m1 .3h0m1.5-1.3h0m1.5.5h0m1.2 1.6h0m.8-.5h0m.4-2h0m.1 4.3h0m.2-3.7h0m.6 3h0m0-2.6h0m2.1-1.8h0m1 2.7h0m1.5-.4h0m.1-1.9h0m1.6 3.1h0m.5.6h0m.4 1.3h0m.8-5.3h0m1.4 5.4h0m.8.4h0m1.1-5.8h0m3.9 5.4h0m1.4.1h0m.3-5.2h0m1.1 3.6h0m2.5-.4h0m2.2-2.5h0m.3 2.8h0m.2-.4h0m.3-3.2h0m.6.3h0m1.3.4h0m.7 3.3h0m2.3-3.1h0m1.1-.9h0m1.2 3.8h0m.9 1.7h0m0-2.6h0m.2.2h0m0-2.2h0m.3 3.2h0m.9-4.3h0m2.2 3.3h0m.5-2h0m1.2.8h0m-74.6 6.8h0m.7-2.4h0m.6.8h0m1.9 3.2h0m1.3-.3h0m1.7-3.6h0m1.9 2.6h0m4.2-.2h0m.3-1h0m.5 3.2h0m.4-2.4h0m.8-2.7h0m.6 5.2h0m.2-.3h0m2.4-1.6h0m2.2 2.3h0m.4-3.1h0m1.3 2.3h0m2.3-3.2h0m.8 1.8h0m.5.4h0m1.7-3.5h0m.7 1.2h0m1.1-.3h0m2.3 2.9h0m1.3.7h0m.9-4.1h0m.7 1.2h0m1.3 3.5h0m.2-2.8h0m1.4-1.6h0m.2 1.8h0m2.6 1.9h0m.7-1.7h0m1.8-1.9h0m1.1 0h0m.9 1.5h0m.2 2.9h0m1.1-.1h0m3-2.7h0m.5.7h0m.7-2.8h0m.5 4.3h0m.7-1.2h0m.5-1.7h0m.8.5h0m.9 2.9h0m1.4-3.1h0m.2-1.5h0m.7 1.5h0m.1.8h0m4.8.9h0m.7 1.7h0m1.7-1.4h0m.9-4.2h0m2 1.2h0m1.7 2.3h0m.3-2.6h0m2.4 4.2h0m3.9-2.7h0m.7 1.9h0m-73.9 6.3h0m1.7-.6h0m.6-2.2h0m1 3h0m1-.4h0m.1.8h0m.8-.3h0m.2-1.2h0m1.1-2.2h0m.3-.4h0m0 3.8h0m0-2.6h0m1.2 2.7h0m1.4.1h0m.3.4h0m2.3-2.5h0m.2 1.6h0m.1-.3h0m.2-.7h0m.8-2.9h0m.1 2.5h0m0 2h0m.2.4h0m2.1-5.9h0m.2 5.9h0m0-2.3h0m.3.6h0m1.8-1.7h0m3.1 1.9h0m.6-1.2h0m.7.6h0m.7.5h0m.1.1h0m.1-1.6h0m.3 2.2h0m.5-3.7h0m2.4 4.2h0m1.1-.9h0m.2-.9h0m.9-3h0m.3.4h0m2.8.8h0m.1.8h0m.4-1.7h0m.1 4.5h0m3.6-.7h0m.1-1.7h0m.6-1.4h0m.6 3h0m3.4-1.4h0m2.4 2.2h0m1-.7h0m.3-3.3h0m.7-.3h0m.1-.7h0m.7 1.6h0m.8 3.8h0m.8-1.3h0m1.2-4.1h0m.6 5.3h0m2.2-2.9h0m.2 1.7h0m1-3.1h0m.8 3.9h0m.3-1.8h0m.3 2h0m.5-.2h0m.7-3.4h0m.7 3.9h0m.7-1.8h0m.3 1.8h0m.1-.2h0m1.6-2.9h0m.2-2h0m.5.3h0m.3 3.3h0m1.2.8h0m1.1-1.2h0m.8-.2h0m2.5 1.8h0m2.2-.9h0m.2.3h0m.3.6h0m.8-1h0m4.9-.6h0m1.1 1.1h0m1-4.3h0m-74.5 6.9h0m.6 2.6h0m.3.9h0m.5.5h0m0-4.7h0m1.8 1.8h0m.6-1.3h0m.2.2h0m.4 3.9h0m.3-2.2h0m.6 1.4h0m1.1-3.6h0m.1.7h0m.9-1.5h0m.9 2.2h0m.2-.7h0m1.5-.9h0m.9.7h0m.2 1.1h0m.6-1h0m1.2-.8h0m.4 2.6h0m2.7-3.4h0m2.1 2.6h0m.2 1.9h0m.6-4.3h0m.7 1.3h0m.1 1.4h0m.7.6h0m2.4-3.1h0m.8.5h0m0 .3h0m.1-1.3h0m1.5 4.3h0m.8-2.3h0m.3 2.6h0m0-.9h0m.8-2.1h0m1.1 3.1h0m.1-.6h0m.1-3.5h0m0 1.5h0m.5-1.8h0m.7.6h0m.1 1.8h0m1-1.7h0m.3-.8h0m.2 4.1h0m1.2-4.2h0m.1 1.6h0m.5-1.2h0m0 .3h0m1.2 3.6h0m.2.4h0m.9-.9h0m1.2-1.2h0m.9-1.5h0m.7.1h0m1.1 1.9h0m.2-.8h0m5 2.8h0m.1-3.4h0m1.1-.3h0m.1 2.1h0m.6-1.2h0m1.3.7h0m0 1.6h0m1-1.8h0m1.2-1.5h0m.6 1.7h0m.9-2.6h0m.8 3.1h0m.6.4h0m.3-3.3h0m.1.3h0m.3 3.1h0m.2-.8h0m.5-3.1h0m.1 3.6h0m0-2.2h0m2.1 1.2h0m.7-2.5h0m1 1.9h0m1 1.1h0m.4-3.1h0m.2.9h0m.3 1.6h0m1-.2h0m1 .4h0m.3.4h0m.9-2.4h0m0 1.1h0m.7 1h0m1.7-1.6h0m1.5 1.2h0m0-1.1h0m1.7 4.2h0m.4-1.6h0m2.8-3.2h0m.6 1.9h0m1 2h0m.1.9h0m0 0h0m.5-3.8h0m-75.8 4.9h0m2.6 4.4h0m.2-4.9h0m.5-.3h0m0 4.5h0m.7-2.9h0m0 .8h0m.2.4h0m2.6.7h0m1 .2h0m1.4-2.4h0m2.5-.9h0m2.9 4.5h0m1.2-3h0m.7-.7h0m.3.6h0m.1 4.1h0m1.3-3.1h0m2.1-1.5h0m1-.8h0m.1.2h0m.5 1.8h0m.2.1h0m2.8 2.3h0m.6-3.6h0m.2-.2h0m.3 3.6h0m0-.8h0m.3-1h0m.4-2.1h0m.1 4h0m.7-2.7h0m.7.2h0m.4 1.1h0m.5-.4h0m.1 1.4h0m.1-.8h0m.2-1.3h0m.4 1.9h0m2.7 1.4h0m.4-1.5h0m0 1.2h0m4.6-3.7h0m.1-.1h0m3.1-1.4h0m.8 1.4h0m.5.5h0m.5 2.9h0m2.3-.7h0m.5-1.6h0m.9-2.5h0m.8 1.4h0m.1 2.9h0m1.1-2.2h0m3 2.4h0m.4-2.2h0m.9.2h0m.4.4h0m2.4-1.4h0m.1-.4h0m.1-.3h0m1.8-.8h0m0 .2h0m.4 2.2h0m.3.2h0m1-.7h0m1 2.4h0m1.4.5h0m.3-4h0m.4 2.2h0m3.7-2.6h0m1.2-.3h0m.2 4h0m0-.5h0m.8-.7h0m.6 1.5h0m.5 1.1h0m.2-.9h0m3-2.3h0m.3 2.7h0m1.3-1.1h0m.1 1h0m0-1.5h0m.3-3h0m.7 1.6h0m.1-1.7h0m.5 2h0m-74.1 7.6h0m.8-1.1h0m1.9-.9h0m1.1.2h0m.2 2.1h0m4.2-1.9h0m.7 2.4h0m.7.3h0m1.5-2.2h0m1.5-2.3h0m1.8 4.6h0m1-3.9h0m4.9-.9h0m3.5 3h0m.2-.5h0m.8-.1h0m1.1-.7h0m.9 1.1h0m.3-2h0m1.3 1.5h0m1.5-2.1h0m1.1 4.4h0m2.2-2.5h0m2 1.8h0m1.6-3.5h0m.8.3h0m1.9-.5h0m1.2-.3h0m2.4 1.2h0m.1-.3h0m.1 4h0m.2-3.4h0m2 4h0m5.2-4.8h0m1.1 3.6h0m6.4-1.2h0m.8 1.1h0m.5-2.1h0m.8.2h0m0-1.9h0m1.8 4.9h0m6.6-3.1h0m.1-2.4h0m1.6.4h0m.4 4.1h0m1.2.3h0m1.2-4.2h0m-74.5 5.2h0m.3 3.2h0m.5 1.7h0m5.8 1h0m1.7-5.7h0m3.4 4.3h0m7.2 1.4h0m1.4-5.5h0m.6 5.4h0m.3-2h0m.3 1.4h0m3.2.6h0m.8-.9h0m1.8-1.4h0m.7-.3h0m4.7 2.1h0m2.5-1.7h0m.5.4h0m1-3.6h0m1.4 2.3h0m.7 0h0m.8-2.1h0m.3 2.7h0m4.2 0h0m1 .7h0m1.6-2.2h0m1.3-1.5h0m.5 5.2h0m5.5-5.2h0m.7 1.5h0m.3.6h0m1.1 3.6h0m1.9-2.1h0m1.3 1.4h0m.5-3.5h0m.3.7h0m.1.8h0m.8.4h0m3.9-1.7h0m.9 2.2h0m1.5.3h0m3.2-.2h0m.1-.9h0m.5-.1h0m1.8-2.9h0m-72 9.4h0m1.9 1.8h0m4.7-5.1h0m1.9 2.3h0m.5-2h0m.6 1.5h0m.6 3.5h0m.3-3.1h0m1.2-.1h0m1.1-.7h0m.9.8h0m0 2.3h0m2.3-3.1h0m2.8 2.6h0m6.1-3.7h0m4.6 3.5h0m5.9-3.4h0m4.4-.7h0m5.9 4.8h0m4.6-1.3h0m1-3.4h0m8.1.5h0m5.9-.1h0m.6-.4h0m2.7.6h0m2.9.6h0m3.8-.8h0m-73.2 6.3h0m3.6.8h0m18.5-1.6h0m.4.9h0m.5 3h0m3.3-1.3h0m5.8.6h0m3.4 1h0m20.9-4h0m4.8 5.6h0m11.4-5.5h0m-69.8 9.6h0m3.1-3.4h0m10.6.5h0m4.6 1.3h0m13.8 3.4h0m16.1-2.2h0m5.9.4h0m4.7 1h0m5.7-4.4h0m-70.1 6.2h0m7.7 1.9h0m13.7-2.8h0m36.1 3.5h0m2.2-.3h0" stroke="#141414" stroke-width="2.0" stroke-linecap="round" fill="none"/><path d="M1025.8 795.5L1103.2 795.5" stroke="#222" stroke-width="1.6" fill="none"/><path d="M918 654.6L918 803.7" stroke="#000" stroke-width="1.4" fill="none"/><path d="M917.3 803L1121.4 803" stroke="#000" stroke-width="1.4" fill="none"/><path d="M1170.5 796.5L1174.5 796.5" stroke="#222" stroke-width="1" fill="none"/><text x="1169.3" y="803.4" font-size="19.3" text-anchor="end">0.0</text><path d="M1170.5 765.7L1174.5 765.7" stroke="#222" stroke-width="1" fill="none"/><text x="1169.3" y="772.6" font-size="19.3" text-anchor="end">0.5</text><path d="M1170.5 734.9L1174.5 734.9" stroke="#222" stroke-width="1" fill="none"/><text x="1169.3" y="741.8" font-size="19.3" text-anchor="end">1.0</text><path d="M1170.5 704.1L1174.5 704.1" stroke="#222" stroke-width="1" fill="none"/><text x="1169.3" y="711" font-size="19.3" text-anchor="end">1.5</text><path d="M1170.5 673.3L1174.5 673.3" stroke="#222" stroke-width="1" fill="none"/><text x="1169.3" y="680.2" font-size="19.3" text-anchor="end">2.0</text><text x="1288.7" y="647.7" font-size="22.2" text-anchor="middle">Cd226****</text><text x="1137.5" y="726.8" font-size="18.7" text-anchor="middle" transform="rotate(-90 1137.5 726.8)">Expression Level</text><path d="M1228.4 796.2L1228.4 792.5L1255.6 795.3L1271.4 796.2Z" fill="#1A62EE"/><path d="M1192.4 795.9L1271.4 795.9" stroke="#1b1b2a" stroke-width="2.0" fill="none"/><path d="M1228.4 796.5L1228.4 654.8" stroke="#1b1b2a" stroke-width="1.1" fill="none"/><path d="M1268 668.8h0m-13.7 3.7h0m-48.9 6.8h0m30.7-2.2h0m-32.1 8.4h0m1.6-3.7h0m43.3 4.3h0m19.5-1.7h0m-73.4 6.1h0m31.8-3.3h0m8.4 2.2h0m1.3 2.8h0m18.9-4.1h0m-27.6 10h0m41.5 5.7h0m-35.5 11.1h0m-31.8 8.1h0m6.9-5h0m5.4.8h0m36.3-.8h0m-48.6 8h0m2.9.5h0m33.2 7.6h0m2.9-3.9h0m13.9 4.3h0m-54 9.2h0m0-1.9h0m18.7 3.2h0m25.5-.3h0m-42.2 3h0m56 4.8h0m-40.3 5.1h0m-5.5 3h0m28.9 1.5h0m21.8 1.6h0m-60 1.6h0m3.7 0h0m50.5 5.4h0m-42.9 3.1h0m53.2-2.4h0" stroke="#141414" stroke-width="2.0" stroke-linecap="round" fill="none"/><path d="M1227.9 680.7L1232.4 680.7" stroke="#222" stroke-width="1.0" fill="none"/><path d="M1227.9 703.1L1232.4 703.1" stroke="#222" stroke-width="1.0" fill="none"/><path d="M1227.9 756.6L1232.4 756.6" stroke="#222" stroke-width="1.0" fill="none"/><path d="M1227.9 725.2L1232.4 725.2" stroke="#222" stroke-width="1.0" fill="none"/><path d="M1227.9 712L1232.4 712" stroke="#222" stroke-width="1.0" fill="none"/><path d="M1227.9 741.7L1232.4 741.7" stroke="#222" stroke-width="1.0" fill="none"/><path d="M1227.9 724L1232.4 724" stroke="#222" stroke-width="1.0" fill="none"/><path d="M1227.9 780.4L1232.4 780.4" stroke="#222" stroke-width="1.0" fill="none"/><path d="M1363.7 796.5l-1.2-2.5-3.3-2.6-5.1-2.5-5.9-2.5-6-2.6-5.4-2.5-4.5-2.5-3.4-2.5-2.4-2.6-1.5-2.5-.8-2.5-.4-2.6-.1-2.5.1-2.5.2-2.5.3-2.6.4-2.5.4-2.5.4-2.6.5-2.5.4-2.5.5-2.6.5-2.5.4-2.5.5-2.6.4-2.5.4-2.5.3-2.5.2-2.6.2-2.5.1-2.5 0-2.6-.1-2.5-.1-2.5-.1-2.5-.2-2.6-.3-2.5-.3-2.5-.3-2.6-.4-2.5-.4-2.5-.4-2.6-.4-2.5-.4-2.5-.4-2.6-.4-2.5-.4-2.5-.3-2.5-.4-2.6-.3-2.5-.3-2.5-.2-2.6-.2-2.5-.3-2.5-.1-2.5-.2-2.6-1.6 0-.2 2.6-.1 2.5-.3 2.5-.2 2.5-.2 2.6-.3 2.5-.3 2.5-.4 2.6-.3 2.5-.4 2.5-.4 2.5-.4 2.6-.4 2.5-.4 2.5-.4 2.6-.4 2.5-.4 2.5-.3 2.6-.3 2.5-.3 2.5-.2 2.6-.1 2.5-.1 2.5-.1 2.5 0 2.6.1 2.5.2 2.5.2 2.6.3 2.5.4 2.5.4 2.5.5 2.6.4 2.5.5 2.5.5 2.6.4 2.5.5 2.5.4 2.6.4 2.5.4 2.5.3 2.6.2 2.5.1 2.5-.1 2.5-.4 2.6-.8 2.5-1.5 2.5-2.4 2.6-3.4 2.5-4.5 2.5-5.4 2.5-6 2.6-5.9 2.5-5.1 2.5-3.3 2.6-1.2 2.5z" fill="#E8212A" stroke="#1d1d2b" stroke-width="0.8"/><path d="M1338.8 655.1h0m11.8 1h0m-36.4 2.8h0m19.5 3h0m-45.4 4h0m14.3-.9h0m8.4 2.4h0m9.2-1.4h0m21.2 2.2h0m9.4-.9h0m12.5 0h0m-81.6 4h0m9 3.1h0m0-1.7h0m4.8 0h0m17.6-.2h0m6.7-2.2h0m20.6 2.2h0m6.8-2.3h0m12.3 4.5h0m1.6-2.7h0m-76 7.1h0m6.2-2.2h0m1.6.7h0m14.8 2.8h0m3.5-5.2h0m10.8 5.1h0m5.2-2.6h0m22.9-2.1h0m1.8 4.5h0m-61.3 6.1h0m.5-1.6h0m.9 1.5h0m5.3-1.5h0m5.1-.5h0m15.5 2.9h0m.9-2.2h0m4.9 1.9h0m4-2.1h0m16.8-3.2h0m3.2 4.4h0m6.8-4.4h0m-72.1 10.6h0m4.7-1h0m.4 1h0m25.6-4.9h0m2.1 1.6h0m1 .3h0m.8 3h0m4.7-.2h0m.1-.9h0m22.2-3.3h0m4.6 1.7h0m5.6 1.2h0m9-2.9h0m3.5 2.5h0m-74.2 5.4h0m10.1 2.5h0m2.4-3h0m4.5 3.6h0m6.7-.1h0m2.5-4.2h0m.9 1.4h0m10.5 1.3h0m2.1-1h0m5.7 2.2h0m1.5-.4h0m18.5.7h0m3.4 0h0m-79.1 2.6h0m3.5 1.3h0m8.7-1h0m6.3 3h0m2.2 0h0m1.7.5h0m4.1-.9h0m17.1-3.5h0m10 3.3h0m9.2-3h0m2.5 2.2h0m4.2 1.5h0m3.2-5.2h0m9.4 1.5h0m-78.1 5.7h0m.5.4h0m1.2-.2h0m6.3-.9h0m1 1.8h0m4.9 2.2h0m2.2-4.4h0m7.1 1.2h0m8.2.3h0m.3 1.1h0m1.5 2.6h0m5.6-.5h0m5.3-1.2h0m4.4-.3h0m4.6.1h0m1.8-2.3h0m2.6-.4h0m2.9 1.9h0m16.2-.6h0m1.5 0h0m.8 0h0m-84.6 5h0m12.2-.6h0m9.3.7h0m.1-1.3h0m5.8 5.4h0m.1-2.2h0m.2.7h0m4.1-1.4h0m2.1.6h0m5.4-2.1h0m2.4.4h0m9.9 3.8h0m8.3-3.4h0m1.6-.4h0m7.1 1.6h0m1.6-2.8h0m1 5.6h0m.5-1.5h0m2.2-1.6h0m-73.9 6.6h0m2.4 1.3h0m3.6-4.1h0m3.2.5h0m9.1-.4h0m1.3 2.7h0m2.4-.1h0m2.1 0h0m4.1-1.5h0m.3-.8h0m3.1 2.6h0m1.5-1.8h0m12.2 3.8h0m3.2-1.5h0m4-2.4h0m2.2 1.4h0m1-2.4h0m4.8 4.1h0m13.3-2.8h0m2.3 1.1h0m-77.9 4.4h0m8.5-1.3h0m8.4.1h0m1.1 3.7h0m.1-1.1h0m2-2.4h0m7.1 2.1h0m1.7 1.4h0m2.6-.3h0m2.2 1.3h0m3.6-4.6h0m15.6 5h0m3.3-3.3h0m1.6 1.4h0m10.2 0h0m3.3 2.4h0m7.2-5.4h0m.4 3.8h0m6.4-2.2h0m1.1-2h0m-85.6 7h0m3.7-.8h0m5.9 3.2h0m.4 1.8h0m.4-.9h0m1.7-2.5h0m2.4 4.1h0m.9-3.2h0m7.2.2h0m15 1h0m4.2-2.6h0m1 .2h0m5.4 1.3h0m3.7 3.1h0m1.2-5.9h0m11.6 4h0m9.1-4.1h0m10.6.3h0m-83.3 6.8h0m10 2h0m8.2-.2h0m10 .5h0m.5-2.7h0m1.9 4.4h0m8-4.5h0m.8 4.4h0m3.2.3h0m.1-4.2h0m6.9-.4h0m7.1 4.3h0m5.6-3.1h0m2.2 3.8h0m2.4-.2h0m-64.1 2h0m0-1h0m3.5 4.4h0m1.1-.9h0m2.4-3.9h0m2.4.4h0m1.9 1.2h0m1.3 1.1h0m3.3-2.6h0m1.7 2.2h0m3.8.9h0m11.9-1.6h0m6.5 3.9h0m4.6-1.6h0m28.3.5h0m3.5-4h0m-80.9 11.4h0m.2-1.9h0m1.8-.2h0m3.8-3.6h0m4.8 1.9h0m10.5-.2h0m2.7-1.4h0m.5 2.1h0m13.7 2.7h0m.9-1.1h0m2.7.2h0m14.5-2.3h0m7 .1h0m17.2 1.2h0m-81.5 3.7h0m5.5 1h0m3.7-1.4h0m9.2-.2h0m44.7 2.9h0m2.7-3.3h0m2.3 5h0m2.8.3h0m-49.6 1.1h0m8.8 2.3h0m9 .9h0m4.2.4h0m11.2-3.3h0m17.6 4.3h0m3.8-.9h0m-17.4 7.5h0m3.3-3.3h0m24 .3h0m3.4 2.7h0m-53.3 1.8h0m14.8 3.6h0m2.7.5h0m-47.7 1h0m13.5 4.9h0m7.5-4.6h0m10.1 12.3h0m25.8-.9h0" stroke="#141414" stroke-width="2.0" stroke-linecap="round" fill="none"/><path d="M1277.2 796L1367.2 796" stroke="#222" stroke-width="1.6" fill="none"/><path d="M1174.5 646.2L1174.5 799.5" stroke="#000" stroke-width="1.4" fill="none"/><path d="M1173.8 798.8L1380 798.8" stroke="#000" stroke-width="1.4" fill="none"/><path d="M918.3 979.6L922.3 979.6" stroke="#222" stroke-width="1" fill="none"/><text x="917.1" y="986.5" font-size="19.3" text-anchor="end">0</text><path d="M918.3 936.1L922.3 936.1" stroke="#222" stroke-width="1" fill="none"/><text x="917.1" y="943" font-size="19.3" text-anchor="end">1</text><path d="M918.3 892.6L922.3 892.6" stroke="#222" stroke-width="1" fill="none"/><text x="917.1" y="899.5" font-size="19.3" text-anchor="end">2</text><path d="M918.3 849.1L922.3 849.1" stroke="#222" stroke-width="1" fill="none"/><text x="917.1" y="856" font-size="19.3" text-anchor="end">3</text><text x="1032.6" y="832.8" font-size="22.2" text-anchor="middle">Cd247****</text><text x="894.5" y="912" font-size="18.7" text-anchor="middle" transform="rotate(-90 894.5 912)">Expression Level</text><path d="M1020.3 979.6l-.6-2.5-1.8-2.6-2.8-2.5-3.5-2.6-4.1-2.5-4.3-2.5-4.3-2.6-4-2.5-3.5-2.5-2.9-2.6-2.4-2.5-1.7-2.5-1.1-2.6-.6-2.5-.2-2.6.3-2.5.6-2.5.8-2.6.9-2.5 1.1-2.6 1.1-2.5 1.1-2.5.9-2.6.8-2.5.6-2.5.3-2.6.1-2.5-.1-2.5-.1-2.6-.2-2.5-.3-2.6-.4-2.5-.4-2.5-.4-2.6-.6-2.5-.5-2.6-.6-2.5-.6-2.5-.6-2.6-.7-2.5-.6-2.5-.6-2.6-.6-2.5-.6-2.5-.6-2.6-.5-2.5-.5-2.6-.5-2.5-.4-2.5-.4-2.6-.3-2.5-.4-2.6-.2-2.5-.3-2.5-3 0-.3 2.5-.2 2.5-.4 2.6-.3 2.5-.4 2.6-.4 2.5-.5 2.5-.5 2.6-.5 2.5-.6 2.6-.6 2.5-.6 2.5-.6 2.6-.6 2.5-.7 2.5-.6 2.6-.6 2.5-.6 2.5-.5 2.6-.6 2.5-.4 2.6-.4 2.5-.4 2.5-.3 2.6-.2 2.5-.1 2.6-.1 2.5.1 2.5.3 2.6.6 2.5.8 2.5.9 2.6 1.1 2.5 1.1 2.5 1.1 2.6.9 2.5.8 2.6.6 2.5.3 2.5-.2 2.6-.6 2.5-1.1 2.6-1.7 2.5-2.4 2.5-2.9 2.6-3.5 2.5-4 2.5-4.3 2.6-4.3 2.5-4.1 2.5-3.5 2.6-2.8 2.5-1.8 2.6-.6 2.5z" fill="#1A62EE" stroke="#1d1d2b" stroke-width="0.8"/><path d="M1014.3 845.5h0m-54.5 8.4h0m21.1-1h0m21.1 1.4h0m-44 8.4h0m16.3-.9h0m40.5.7h0m3 2.8h0m-68.3 4.8h0m34.9-2.2h0m10.6 3.5h0m10.9-3.8h0m.6 1.2h0m1.5 3.8h0m5.2-4.2h0m-63.3 8.1h0m3-.2h0m38.2-3h0m-44.8 9.1h0m14.4-.4h0m5-2.6h0m5.7.7h0m5.3 3.9h0m1.8-3.3h0m14.9 2.8h0m3.7-2.1h0m-43.2 9.2h0m1.3-.7h0m2.9-4.3h0m3.8-.2h0m-20.5 11.4h0m1.3-5h0m21.9 2.5h0m5.1 1.5h0m10.1-2.8h0m7.9-.1h0m9.5.2h0m18.5-.8h0m-77.9 9.4h0m22 .6h0m2-2.7h0m3.7 1.1h0m6.3-2.8h0m8 2h0m20.1-.4h0m1.1 2.5h0m5-.1h0m.1-1h0m-61.6 7.1h0m23.5.4h0m5.6-.9h0m4.1 1h0m.1-.8h0m4.2-.9h0m7.5 1.4h0m22.5-4.3h0m-58 8h0m12 .2h0m.1-3.1h0m14.3.6h0m28.6 4.3h0m-66.5 5.5h0m11.7-2.5h0m13.1.1h0m2.1-.4h0m6.7 1.4h0m.1-1.3h0m18.1-.3h0m1.1 4.1h0m1.5-2.7h0m3.8 1.1h0m1.3.8h0m6.8-1.5h0m1.5 1.7h0m2.3-1.3h0m2.8-3.3h0m-65.9 6.9h0m2.5 4.6h0m14.1-5.6h0m3.7 2h0m3.6 2h0m5.3-3h0m8.3 2h0m4.6.6h0m9.4 2.1h0m-58.4 5.1h0m19.9.1h0m.3-.7h0m12.3-3.4h0m13.4 1.4h0m18 2.1h0m2.3-1h0m-55.8 2.6h0m.5 2.1h0m9.6 2.3h0m16-.5h0m17.4 1.4h0m4.4-3.6h0m14.1-.6h0m-56.1 9.7h0m8.5-2.2h0m25.7.7h0m.2-1.6h0m-28.2 4.6h0m14.6 3h0m16.1-2.8h0m.7.9h0m-29.4 10.2h0m1.5.2h0m6.8-1.1h0m25.9-1.5h0m-44.5 4.4h0m41.5 3.2h0m-48.3 1.7h0m4.8 8.5h0" stroke="#141414" stroke-width="2.0" stroke-linecap="round" fill="none"/><path d="M937 979.1L1018.2 979.1" stroke="#222" stroke-width="1.6" fill="none"/><rect x="975.1" y="842.6" width="5" height="4.4" fill="#333"/><path d="M1113.3 979.6l-1.1-2.5-3.1-2.5-4.7-2.5-5.7-2.5-5.8-2.5-5.5-2.6-4.7-2.5-3.7-2.5-2.5-2.5-1.6-2.5-.7-2.5.1-2.5.7-2.5 1.3-2.5 1.8-2.5 2.3-2.6 2.7-2.5 3-2.5 3.2-2.5 3.1-2.5 3-2.5 2.6-2.5 1.9-2.5 1.1-2.5.3-2.5-.2-2.5-.4-2.6-.7-2.5-.8-2.5-1.1-2.5-1.3-2.5-1.4-2.5-1.5-2.5-1.6-2.5-1.6-2.5-1.7-2.5-1.7-2.6-1.6-2.5-1.6-2.5-1.5-2.5-1.5-2.5-1.3-2.5-1.3-2.5-1.1-2.5-1-2.5-.9-2.5-.8-2.6-.7-2.5-.6-2.5-.5-2.5-.4-2.5-.4-2.5-3 0-.4 2.5-.4 2.5-.5 2.5-.6 2.5-.7 2.5-.8 2.6-.9 2.5-1 2.5-1.1 2.5-1.3 2.5-1.3 2.5-1.5 2.5-1.5 2.5-1.6 2.5-1.6 2.5-1.7 2.6-1.7 2.5-1.6 2.5-1.6 2.5-1.5 2.5-1.4 2.5-1.3 2.5-1.1 2.5-.8 2.5-.7 2.5-.4 2.6-.2 2.5.3 2.5 1.1 2.5 1.9 2.5 2.6 2.5 3 2.5 3.1 2.5 3.2 2.5 3 2.5 2.7 2.5 2.3 2.6 1.8 2.5 1.3 2.5.7 2.5.1 2.5-.7 2.5-1.6 2.5-2.5 2.5-3.7 2.5-4.7 2.5-5.5 2.6-5.8 2.5-5.7 2.5-4.7 2.5-3.1 2.5-1.1 2.5z" fill="#E8212A" stroke="#1d1d2b" stroke-width="0.8"/><path d="M1038.7 852.7h0m14.2-.4h0m48.3.9h0m-67.9 4.3h0m6.2-2h0m1.8 3.2h0m.6 2.2h0m1.5-.1h0m9.1-5.3h0m14.9 2.6h0m7.2-1.8h0m15.8 3.9h0m0-.3h0m3.7-3.9h0m8.1 4.9h0m2.1-.9h0m-73.2 4.4h0m8.1-1.2h0m.1 3.3h0m1.5-4.1h0m2.6 3.4h0m5.3-1h0m1.2.1h0m1.6-2.5h0m4.7 4.6h0m2-.4h0m4.6-4.5h0m14.7 4.6h0m9.3-4.7h0m9 1.9h0m3.2-1.5h0m-65 8.1h0m.4 1.9h0m3.7-1.4h0m1.4-3.8h0m.8 3.2h0m1.5.3h0m2.6 1.9h0m1-4.5h0m3.9-.1h0m1.5 4.5h0m4-.1h0m1.5-4h0m0 2.4h0m3.5-2.6h0m0 2.8h0m3.9-1.8h0m1.6 1.1h0m3 2.5h0m1.6-1.4h0m9.9-4h0m1.1 4.5h0m1.3.8h0m16.4-.6h0m3.1-3.2h0m4.3 3.9h0m1.9-5h0m.8 1.3h0m.9 0h0m-60.6 8.5h0m.3.9h0m4-1h0m1.4-1.3h0m1.9.1h0m.3-2.7h0m.5 3.7h0m5.5.1h0m5.5 1.1h0m0-3.4h0m.9 3.8h0m3.3-2.6h0m14.2.4h0m1.3-.1h0m1.7-1.4h0m2.3 1.9h0m1.3-1.7h0m1.9 3.1h0m8.5-.1h0m.5-4.6h0m.1 3h0m2.3.7h0m2.1-4.1h0m1.3 4.4h0m-76.7 3.2h0m.1.7h0m6.6 3.2h0m7.4-3.7h0m2-.7h0m4.3-.6h0m7.8 4.2h0m3.8.7h0m2.5-.4h0m1.7.3h0m9-4.3h0m.7-1.3h0m1.5 2.1h0m.2.5h0m1.7-2.2h0m2.2 4.2h0m3.5.1h0m1.7-.4h0m4.9-.9h0m1.3.4h0m1.8-2.4h0m1.1-1.1h0m2.1 2.8h0m.4-2.1h0m1 2.4h0m3.9-1.1h0m1.8 3h0m-77.5 6.4h0m2.3-5.4h0m0 3.8h0m3.9-1.1h0m5.9-2.2h0m0 2.9h0m5.8 2h0m.8-.2h0m1.3-4.7h0m.6 3.7h0m2.5 1.3h0m.1-3.6h0m.9.5h0m4.5-.5h0m10.2.3h0m3.1-1.4h0m.2 3h0m1.7-2.8h0m1 2.4h0m.6.1h0m3.9.4h0m.2.6h0m1.6-1.3h0m0-2.7h0m2 1.5h0m1.3 2.3h0m.3-3.1h0m4.2 1.8h0m.8-2h0m1.3 2.3h0m4.6.6h0m5.3 0h0m6.8-3.2h0m-76.1 9.2h0m.9-1.9h0m1-1.5h0m1.4 4.1h0m6.9-2.5h0m1.6-2.2h0m2 1.4h0m7.4.8h0m1.9 2.9h0m3.2-1.1h0m.5-.7h0m.4 0h0m5.2-.7h0m2.2 2.6h0m3.9-1.9h0m1.1.1h0m.3-2.9h0m2.7 2.5h0m1.1 1.5h0m.8-.4h0m1.8-3.7h0m2.1 2h0m2.5.5h0m.9-2.3h0m3.1.9h0m3.2 2.8h0m.2-1.4h0m0-1.8h0m1.4 1.5h0m1.3 0h0m10.8-2h0m.6.6h0m.1.7h0m2.2 3.5h0m1-4.3h0m2.5 2.4h0m-78.3 2.6h0m.7 2.9h0m.3-1.1h0m2.5 3.4h0m1.7-2.9h0m1.1 2.8h0m.5-1.2h0m.7 1.7h0m9.5-4.8h0m1.6 2.9h0m0-1.3h0m2.3-.4h0m.5-1.7h0m2.5 5.3h0m.7-5h0m.5 1.8h0m.8.1h0m3 2.3h0m.7-4.1h0m3.6 2.2h0m4.4.9h0m.5-3.6h0m.1 4.5h0m6-1.3h0m2.1 2.1h0m3.7-4.1h0m5-.3h0m1.4 3.9h0m.4-2.5h0m2.2 1.6h0m4.1-2.3h0m1.3 2.3h0m.1-.9h0m13.8-2.9h0m-78 11.2h0m2-5h0m2 4.8h0m.2-2.6h0m.1-1.7h0m.9 1.6h0m1.2 0h0m5-2.9h0m.2 4.5h0m2 .2h0m3.1-1.2h0m1.6-3.2h0m1.8-.2h0m1 .2h0m.7 4h0m5.6-.6h0m2.4 1.8h0m2.6-4.5h0m0-.3h0m6.2 4.5h0m8.9-.8h0m2.7-2h0m.9 2.2h0m.4.7h0m5.9-4.7h0m.9-.4h0m1.1.5h0m.3 3h0m.6-2.2h0m5.2 3.2h0m1.1-1.4h0m2.7 1.8h0m1.2-4.8h0m3.8 2.9h0m2.6-3.2h0m.4 3.3h0m.6 2.2h0m.3-5.3h0m-80.3 6.1h0m1.7 2.4h0m1.7-.6h0m2.2-2.2h0m2.2 2.8h0m4.9 2.6h0m.3-5.2h0m2.5 1.5h0m2.9 3.3h0m.3.2h0m.2-1.1h0m1 1.9h0m2.7-1.1h0m3-2.7h0m.4 3.5h0m2-2.6h0m.6-1.9h0m.9 1.1h0m2.2-1.4h0m.4 4.9h0m.7-.1h0m2.8-3.3h0m.6-1.3h0m.2 4h0m.6-2h0m.6-2.6h0m.2.1h0m.2.3h0m2.4 3.9h0m1.1-.5h0m7.8-2.2h0m.3 2.8h0m.7.3h0m2.9-4.3h0m.3.7h0m1.6.3h0m1.2 2.9h0m.8 1.2h0m1.6-3.1h0m.9-2.8h0m.5 3h0m.8 1.1h0m9.4 1.8h0m.4-.5h0m.4-4.2h0m3.3 3.7h0m3.1-.8h0m-75.4 4.5h0m.4 2.8h0m2.1-1.6h0m.5.8h0m1.1-1.8h0m3.5-.9h0m2.2 2.8h0m3.3-2.9h0m.2 1.5h0m.5 0h0m.2 1.5h0m1.3-1.1h0m1.6.5h0m.3-3.5h0m.2 3.8h0m0-4.1h0m.1 3h0m.5.3h0m1.5-3.5h0m.2 2.4h0m.6.8h0m.4 1.9h0m1.3.3h0m.6-.1h0m4.5-3h0m4.3 1.7h0m.1-1.7h0m.7.8h0m1.1-.3h0m2.8-.1h0m.1-.2h0m3.1 3.1h0m1.9-1.2h0m1.5-3.4h0m.6 2h0m.3 2.1h0m1-4.3h0m.5-.6h0m.7 4.7h0m.8-4.4h0m.3-.2h0m.4 4.5h0m.3.8h0m1.7-2.7h0m.7-.7h0m1.1 1.2h0m1.2-.9h0m.3 1.3h0m1.3-1.8h0m2.2-1.1h0m.4 4.4h0m2.8-2.6h0m2.3 2.2h0m.5-3.5h0m1 .2h0m0 1.5h0m0-.3h0m.6 2.3h0m.6-.3h0m1.3-3h0m.7 0h0m1.5-.2h0m.6 3.8h0m.6-2.5h0m1.7.6h0m2.4-2.7h0m.9-.6h0m.7 1.1h0m1.3-1.3h0m.2 1.1h0m.5.2h0m.4 2.7h0m-79.7 5.3h0m3.6.4h0m1.2-.2h0m1-2.2h0m.4 3h0m1.9-4.2h0m1.1 0h0m1.9.3h0m.7 4.7h0m3.9-1.7h0m.3 2.2h0m.7-4.6h0m.9.4h0m1.2-.6h0m.7 1.7h0m.1-1.2h0m3.3.8h0m.8 1.5h0m4.5-2.3h0m.2 1.1h0m1.9-.8h0m1.1-1.4h0m.3 4.5h0m2 .2h0m3.1-3.1h0m.4-1.1h0m1.7 0h0m2.6 2.3h0m1.3-1.3h0m.1 1.2h0m1.3-1.7h0m.1 2h0m1.9-1.3h0m.1-1h0m.2 0h0m.9 1.7h0m1.2 2.1h0m.5.7h0m1.9-4.6h0m.6.7h0m.3 1.1h0m1.7-1.5h0m.7-.8h0m.8 1h0m1.8.7h0m.3 0h0m.6-.2h0m.6-1.7h0m1.4 4.5h0m1.7-2.9h0m.6-.5h0m.5 2.1h0m.4.3h0m.4-.5h0m1.2-.6h0m1.5 2.4h0m1.8-4.7h0m0 .9h0m.7-.8h0m.4.6h0m1.1-.8h0m4.2-.2h0m.5 5.3h0m.7-2.2h0m.7-1.9h0m2.3 3.4h0m.1-2.8h0m.5 1.2h0m-78.8 5.4h0m1.2-.3h0m1.4-1.7h0m.2 3.8h0m1.1-3h0m.5 2.6h0m.3-3.1h0m.5 4.1h0m1.6 0h0m2.1-.5h0m.7-.5h0m.8-.5h0m2.8-1.4h0m1.4.6h0m.1 2.4h0m0-4.7h0m3.5 1.9h0m3.3-1.7h0m.5 3.8h0m.1-3.1h0m1.2-.8h0m1.2 3.7h0m.7-.1h0m.9-3.7h0m.5 4.5h0m2.2-3.4h0m.4 1.4h0m.4 1.5h0m.1-1.3h0m.7 1.1h0m.4-.9h0m3.1 1.4h0m.6 0h0m.7-3.8h0m1.4 4.7h0m.1-2.5h0m.3-3h0m.1.6h0m.4 4.6h0m3-3.7h0m.7.3h0m2.9-1.4h0m.1 3.4h0m.8-1.6h0m.5 2.9h0m1.7-1.1h0m6.6-1.2h0m2.5-2.2h0m1.1 1.5h0m0-.5h0m.1-1.4h0m1.9 2.8h0m1.7 1.7h0m1.1-2.5h0m.5 2.3h0m.1-4.4h0m.1 5.2h0m.1-5h0m2.7 5.3h0m1.5-.5h0m.3-1.4h0m.9 1.5h0m.7-5.2h0m.1 1.9h0m.4 2.9h0m.9-4.4h0m1.4 4.6h0m1.4-2.4h0m.3.1h0m.4-.2h0m1.1-1.3h0m1.2.4h0m1.2 2.4h0m.4 1.6h0m1.1-2.7h0m.4 0h0m0 2.6h0m.1 0h0m-79.8 5.8h0m.8-3h0m2.5.3h0m.1-1.3h0m.5.7h0m1.2-.2h0m2 1.1h0m1.2 2.1h0m4-1.5h0m3.1 1.9h0m1.3-4.9h0m2.6 2h0m.2 2.9h0m2.2-2.1h0m.2 2.2h0m1.5-2.8h0m.5-.3h0m.3-1.8h0m0 4.6h0m.4-4.7h0m1.8 4.7h0m0-.6h0m2.2-2h0m1.9.6h0m.5-2.2h0m.8 2.8h0m1.8-1.4h0m3.5 2.1h0m2.5-4h0m2.2-.3h0m1.5 4.7h0m1.8.3h0m1.3-4.8h0m.2 5.5h0m2-3.9h0m2.6 3h0m1.8-4h0m2.9-.3h0m1.2-.3h0m1 3.3h0m.2 2.1h0m1.3-4.9h0m.1 3.7h0m1.4.8h0m4.3-4h0m3.9 1.3h0m3.1-.6h0m.4.6h0m.2-.6h0m1.7-1.8h0m.5 5.2h0m1.5-2.9h0m.8 2.5h0m1.9-3.2h0m1.1-.1h0m-80.5 9.9h0m2.9-4.9h0m4.3-.4h0m2.5.6h0m.7 2.4h0m1.6-2.1h0m.4 3.1h0m1.1-3.7h0m.5.8h0m5.5 1.1h0m4.5-.3h0m8.2.2h0m2.1-2.5h0m5.2.3h0m1 .2h0m1.9 1.3h0m1.7 0h0m0 1h0m.9-1.9h0m.5.9h0m1.6.5h0m5.8.9h0m1.2-.9h0m3.9-.8h0m7.3 0h0m1.7 2.7h0m4.8-1.8h0m2.3 1.2h0m2 .6h0m3-3h0m-67.7 5.8h0m7.9 3.7h0m1.1.3h0m4.8-.2h0m3.6-4.3h0m1.4 0h0m.7-.3h0m5.5 1.2h0m5.7 1h0m6.6.4h0m2.3.7h0m5 1.1h0m3.2-2.4h0m.3-.6h0m11-1.4h0m.7-.2h0m3.5-.1h0m3.5 2.7h0m2.5 3.2h0m-79.9 1.7h0m1.2 4.1h0m3.3-2h0m34.7.1h0m4.3-2.9h0m15.5 3.9h0m4.7-4.6h0m12.9 1.1h0m-71 9.1h0m5.6 1.1h0m6.2-4.8h0m20.6 1.4h0m28.4 1.4h0m8.5-1h0m4.8.7h0m-71.6 4.2h0m21.1-.2h0m4.5-.8h0m6.4-.1h0m-14.6 13.1h0" stroke="#141414" stroke-width="2.0" stroke-linecap="round" fill="none"/><path d="M1030 979.1L1111.2 979.1" stroke="#222" stroke-width="1.6" fill="none"/><path d="M922.3 833.8L922.3 988" stroke="#000" stroke-width="1.4" fill="none"/><path d="M921.6 987.3L1130 987.3" stroke="#000" stroke-width="1.4" fill="none"/><path d="M1166.6 978L1170.6 978" stroke="#222" stroke-width="1" fill="none"/><text x="1165.4" y="984.9" font-size="19.3" text-anchor="end">0</text><path d="M1166.6 939.1L1170.6 939.1" stroke="#222" stroke-width="1" fill="none"/><text x="1165.4" y="946" font-size="19.3" text-anchor="end">1</text><path d="M1166.6 900.2L1170.6 900.2" stroke="#222" stroke-width="1" fill="none"/><text x="1165.4" y="907.1" font-size="19.3" text-anchor="end">2</text><path d="M1166.6 861.3L1170.6 861.3" stroke="#222" stroke-width="1" fill="none"/><text x="1165.4" y="868.2" font-size="19.3" text-anchor="end">3</text><path d="M1166.6 822.4L1170.6 822.4" stroke="#222" stroke-width="1" fill="none"/><text x="1165.4" y="829.3" font-size="19.3" text-anchor="end">4</text><text x="1289" y="832.3" font-size="22.2" text-anchor="middle">Cxcr6****</text><text x="1141.5" y="907.6" font-size="18.7" text-anchor="middle" transform="rotate(-90 1141.5 907.6)">Expression Level</text><path d="M1281.6 978l-1-2.5-3-2.5-4.5-2.6-5.5-2.5-5.9-2.5-5.7-2.5-5.1-2.5-4.2-2.6-3.2-2.5-2.2-2.5-1.4-2.5-.7-2.6-.1-2.5.3-2.5.6-2.5.8-2.5.8-2.6.9-2.5.9-2.5.9-2.5.7-2.5.6-2.6.4-2.5.3-2.5 0-2.5 0-2.6-.1-2.5-.2-2.5-.2-2.5-.2-2.5-.3-2.6-.3-2.5-.3-2.5-.4-2.5-.4-2.5-.4-2.6-.5-2.5-.4-2.5-.5-2.5-.4-2.6-.5-2.5-.5-2.5-.4-2.5-.5-2.5-.4-2.6-.4-2.5-.5-2.5-.3-2.5-.4-2.5-.3-2.6-.4-2.5-.3-2.5-.2-2.5-.3-2.6-4 0-.3 2.6-.2 2.5-.3 2.5-.4 2.5-.3 2.6-.4 2.5-.3 2.5-.5 2.5-.4 2.5-.4 2.6-.5 2.5-.4 2.5-.5 2.5-.5 2.5-.4 2.6-.5 2.5-.4 2.5-.5 2.5-.4 2.6-.4 2.5-.4 2.5-.3 2.5-.3 2.5-.3 2.6-.2 2.5-.2 2.5-.2 2.5-.1 2.5 0 2.6 0 2.5.3 2.5.4 2.5.6 2.6.7 2.5.9 2.5.9 2.5.9 2.5.8 2.6.8 2.5.6 2.5.3 2.5-.1 2.5-.7 2.6-1.4 2.5-2.2 2.5-3.2 2.5-4.2 2.6-5.1 2.5-5.7 2.5-5.9 2.5-5.5 2.5-4.5 2.6-3 2.5-1 2.5z" fill="#1A62EE" stroke="#1d1d2b" stroke-width="0.8"/><path d="M1251.2 847.5h0m-52.2 2.4h0m48.1 2.9h0m1.4 1h0m22.2-2.9h0m-71 7.5h0m1.6-1.4h0m14.8-.8h0m19.2 4h0m7.8-2h0m16.2-.3h0m2.4 2.8h0m-60.2 3.8h0m4.5 2.3h0m1.7-5h0m41.7 2.4h0m20.9 1.4h0m-77.3 10.7h0m17.2-1.5h0m63.4-1h0m-65.2 9.9h0m7-.5h0m.8-.1h0m48.8-.7h0m-74.4 5.8h0m27.2 1.8h0m30.2-2.6h0m2.8.9h0m24.5-.8h0m3.3-2.3h0m-62.6 7.9h0m40.4-1.8h0m9 1.5h0m-72.4 9.9h0m3.1-2.5h0m25-2.7h0m32.2 4.5h0m-58.4 5.6h0m54-1.9h0m1.7 2.1h0m17.3-3.5h0m.5-.1h0m5 2.6h0m-81.8 7.5h0m5.6-.1h0m1.7-1.5h0m12.3-1.9h0m4.1 2.8h0m3.6-3.1h0m12.6 2.5h0m-34.7 2.6h0m3 2h0m7.6-.5h0m0 3.3h0m2-4h0m2.2-.5h0m1 2.7h0m2-3.2h0m2.6.6h0m1.3 1.3h0m7.8-.6h0m2.8-.3h0m19.7-.3h0m9.3-1h0m5.7 2.6h0m6.8-.3h0m3.1 3.1h0m.8 0h0m.2-2.7h0m.7-.1h0m-73.5 6.5h0m2.1-.6h0m3.2-1.6h0m.3-.6h0m31.1 0h0m10.3 3.9h0m2.6-3.6h0m10.8 2.9h0m-39.6 5.9h0m4.9-1.3h0m.6 1.2h0m6.8-1.8h0m.6 2.9h0m4.7-1.2h0m14.3-2.2h0m9.6 2h0m2.4-.7h0m3.5 1.9h0m-67.5 5.4h0m5-1.8h0m22.2-.7h0m21.5 3.2h0m4.6-.9h0m22.8-1.7h0m-73.6 9.7h0m15.4-4.1h0m13.3 3.6h0m-37.5 1.4h0m13.1 5.5h0m9.7-5.1h0m24.2.8h0m31.8 1.4h0m.8.8h0m-62.5 2.5h0m.2-.1h0m7.7 2h0m15.4-.7h0m36.6 3.5h0m3.5-1.3h0m-44.6 8.2h0m46.7-2.7h0m-24.5 10.5h0" stroke="#141414" stroke-width="2.0" stroke-linecap="round" fill="none"/><path d="M1189.5 977.5L1279.1 977.5" stroke="#222" stroke-width="1.6" fill="none"/><rect x="1232.3" y="841.9" width="4" height="5.8" fill="#333"/><path d="M1386.4 978l-1.3-2.5-3.7-2.6-5.5-2.5-6.4-2.5-6.6-2.5-6-2.6-4.9-2.5-3.6-2.5-2.5-2.6-1.3-2.5-.5-2.5.3-2.5.7-2.6 1.1-2.5 1.5-2.5 1.8-2.6 2.1-2.5 2.3-2.5 2.5-2.5 2.6-2.6 2.8-2.5 2.8-2.5 2.8-2.6 2.7-2.5 2.4-2.5 2.1-2.5 1.8-2.6 1.3-2.5.8-2.5.3-2.6-.1-2.5-.4-2.5-.5-2.5-.8-2.6-1-2.5-1.1-2.5-1.3-2.6-1.5-2.5-1.6-2.5-1.7-2.5-1.7-2.6-1.8-2.5-1.8-2.5-1.8-2.6-1.8-2.5-1.8-2.5-1.7-2.5-1.7-2.6-1.5-2.5-1.5-2.5-1.4-2.6-1.3-2.5-1.1-2.5-1.1-2.5-1-2.6-.9-2.5-.7-2.5-.7-2.6-.6-2.5-.6-2.5-5.6 0-.6 2.5-.6 2.5-.7 2.6-.7 2.5-.9 2.5-1 2.6-1.1 2.5-1.1 2.5-1.3 2.5-1.4 2.6-1.5 2.5-1.5 2.5-1.7 2.6-1.7 2.5-1.8 2.5-1.8 2.5-1.8 2.6-1.8 2.5-1.8 2.5-1.7 2.6-1.7 2.5-1.6 2.5-1.5 2.5-1.3 2.6-1.1 2.5-1 2.5-.8 2.6-.5 2.5-.4 2.5-.1 2.5.3 2.6.8 2.5 1.3 2.5 1.8 2.6 2.1 2.5 2.4 2.5 2.7 2.5 2.8 2.6 2.8 2.5 2.8 2.5 2.6 2.6 2.5 2.5 2.3 2.5 2.1 2.5 1.8 2.6 1.5 2.5 1.1 2.5.7 2.6.3 2.5-.5 2.5-1.3 2.5-2.5 2.6-3.6 2.5-4.9 2.5-6 2.6-6.6 2.5-6.4 2.5-5.5 2.5-3.7 2.6-1.3 2.5z" fill="#E8212A" stroke="#1d1d2b" stroke-width="0.8"/><path d="M1302.8 827.6h0m2.9 1.8h0m-10.5 5.2h0m24.3-1.2h0m18.5 1.4h0m14.1 1.9h0m2.6-5.2h0m6.4.6h0m-65.5 9.1h0m11.6-3.2h0m3.4 3.4h0m34.6-1.3h0m11.9 1.1h0m12.4.9h0m-68.7 4.2h0m2.6-2.1h0m22.5 3.7h0m21.4-4.4h0m.6 4.8h0m1.3.6h0m5.9-3h0m1.7-2.8h0m1.7.2h0m.9 5.3h0m4.7-3.9h0m.5.2h0m.3-.2h0m2.9 3.2h0m.4-1.1h0m2.7-2.4h0m1.4 3h0m4-3.6h0m3.7 2.4h0m.9 1.1h0m-83.6 5.7h0m2.8-1.2h0m1.5 3h0m.6-4.4h0m.4-.1h0m1.2 1.4h0m2 2.2h0m.9.2h0m1.6-3.8h0m3.6.8h0m2.8 0h0m1.1.9h0m6.1 2.4h0m5.9.6h0m9.6-4h0m20.5-.7h0m3.9-.4h0m.5 1h0m6.3.8h0m.9 1.9h0m7.7-1.7h0m1-2.5h0m3.3 4h0m1.6.6h0m.2-1h0m-85.9 4.1h0m.9 1.3h0m9.5 2.4h0m4.9-2.9h0m9 .7h0m1.6-2.7h0m9.7 1.8h0m10 2.6h0m.4.1h0m1.9-1.8h0m2.2.6h0m1.1.5h0m8.5-.4h0m1.3-1.6h0m1.2-.3h0m7.9 2.6h0m2.8.8h0m2.8-4.3h0m7 .8h0m2.8-2.1h0m-86.3 6.9h0m5.5.3h0m4.1 2.3h0m1.7-3.6h0m.7 2.5h0m6.3 2.3h0m2.7-3h0m1.8 1.2h0m1-2.3h0m1.7 4.7h0m4.6-4.8h0m.4 1.5h0m.1 2.1h0m3.1.2h0m5.2-1.1h0m6 .1h0m.7-1.1h0m1.5.5h0m.6-1.3h0m.1-1.5h0m1.8 5.9h0m1.8-.2h0m2.7-5h0m1.5-.7h0m1.4 5.1h0m1-4.6h0m.4 5.4h0m.5-3.9h0m2.8 1.6h0m3.5-.7h0m.1-2.5h0m1.6.5h0m.7 0h0m4.7 3.4h0m8.6-2.8h0m3.2 4.2h0m1.7-1h0m0-.7h0m.3-1.4h0m-86.2 3.5h0m2.8 3.3h0m1.1-.1h0m1.2-3h0m.2 3.2h0m1.6 2.1h0m.8-1h0m2.4-3.2h0m1.3 3.9h0m1-.7h0m6.1-2.3h0m.7 2.2h0m11.4-3.2h0m2.5 1.5h0m1.8-1.7h0m.8-.2h0m1.3 1.8h0m2.9 2.3h0m5.5-.7h0m.3-3.1h0m1.8.7h0m2.4 2.6h0m3.2-3.5h0m3.8 1.2h0m11.2 3.1h0m.3-1.8h0m1.6.5h0m.6 1.1h0m.9-4.7h0m1 .9h0m4.8 3.3h0m3.9-4.6h0m2.7 2.1h0m.3.2h0m.5.2h0m1.3-.4h0m0 2.8h0m-83.3 1.3h0m3.3 5.4h0m1.6-2h0m3.9-.8h0m4.6.6h0m1.7 2.5h0m1-1.2h0m1.6-1.1h0m1.1 1.5h0m.1-4.7h0m.6 3.1h0m6.9 2.1h0m3.4-2.6h0m1.4.3h0m1.8-.6h0m1.8-2.4h0m.3 5.1h0m0-1.7h0m5.2.1h0m.4.7h0m3-1h0m2.8-.6h0m1-.2h0m.7.5h0m.4 1.8h0m5.3-4.2h0m7.6 3.1h0m1.6-1.7h0m1.3-.9h0m6.6 1h0m.2 1h0m3.5-1.3h0m2.9 3.5h0m.6-.8h0m1.3.8h0m-83.1 4h0m.8-2.1h0m5.7 1.2h0m2.3-1.2h0m5.9-.4h0m.7-.8h0m.3 4.1h0m2.3 1.2h0m1.2-.2h0m12.3-3.7h0m.6-.4h0m5.2 2.9h0m4.4-.2h0m3.1-2.6h0m1.4 3.6h0m3-2.6h0m3.5-.6h0m3.4.1h0m3.8 3.1h0m0-.3h0m.7-4.3h0m8.3 3h0m.1-1h0m.4-.4h0m.5 2.4h0m2-2.1h0m2.9-.6h0m.3.7h0m5-1.2h0m1-.3h0m3.4 4.9h0m1.4-1.2h0m1.2-3.9h0m1-.4h0m.1 1.8h0m-87.4 5.7h0m.4-.2h0m3 0h0m3 0h0m3-1.5h0m2.6 4.4h0m.1.5h0m1.4.5h0m2.6-1.4h0m1.5-.8h0m2.7-.2h0m4.3 2.8h0m1.7-1.1h0m1.2-.4h0m.3 1.4h0m4.6-.2h0m1.9-5.5h0m3.1 1.8h0m.7-.2h0m.2 3h0m.6-.7h0m1.1-3.8h0m2.2 4.1h0m.6.1h0m.9-1.6h0m.8 2.1h0m2.1-3.6h0m.6-1.1h0m.7 3.2h0m.9-1h0m1 2.2h0m0-1h0m.8-2.3h0m.7-.7h0m.3 2.4h0m.5 1.9h0m.7-.6h0m.6.1h0m2.9 1h0m.7-4.2h0m.2 3.1h0m2.2-3.3h0m.5 3.9h0m4.1-2.1h0m2.4-.4h0m.5-1.7h0m2 1.4h0m5.5.5h0m.4.6h0m3.6 2.5h0m1.3-1.7h0m.7-.6h0m1.2-1.1h0m1.3-1.2h0m3 .3h0m-82.9 9.9h0m.7-3.8h0m1.3 1.4h0m.1 1.8h0m.8-1.9h0m3 2.8h0m.1-1.7h0m1.2-.3h0m2.2-1.1h0m.9 2.8h0m8.8-1.1h0m.9-1.3h0m.4-1.3h0m.5.5h0m1.7-.1h0m2.2 1.2h0m1.6-2.8h0m1.1.9h0m1 3.5h0m1.7-.3h0m.1.6h0m.1-4.7h0m.4.3h0m1.8-.6h0m.1 5.4h0m.4-1.8h0m1.2-.4h0m.7.4h0m1.2 1h0m.9-2.4h0m1 1.6h0m1.1-1.9h0m3.6 3.7h0m3.4-1.6h0m5.4.2h0m4.2.9h0m.8-3.8h0m.2-.1h0m.2 3.9h0m.2-3.2h0m.8 3h0m2.8-4.9h0m5.5 1h0m1.9 1.2h0m1.1-.8h0m.2 2h0m1.9 0h0m.2 1.7h0m.1-1.5h0m.2 1h0m4.3-2.4h0m2.6 0h0m4.9 2.9h0m.3-.8h0m-85.3 5.3h0m4.5 2h0m1.9-.2h0m.1.3h0m.2-5.7h0m1.8.6h0m1.3 4.6h0m.7 0h0m.5-4.5h0m1.8 4.2h0m2.2 0h0m1.7-3.4h0m0-.2h0m2.4 4.5h0m4.8 0h0m1.2-4.8h0m.2-.4h0m.7.2h0m2.4 2.7h0m.5-1.6h0m1.8.7h0m1.1.2h0m3 1.4h0m1.1.4h0m.3.1h0m.2-3.8h0m1.4 2.1h0m.7-1.2h0m.4 2.6h0m.3 1.5h0m.7 0h0m.1-1.4h0m2.6-2.3h0m.4-.9h0m2.2 2.9h0m1.2-3.8h0m1.2 1.2h0m2.1 4h0m.3-1.8h0m.5-2.9h0m1.8 3.4h0m.1-4.1h0m.4 2.8h0m1.3 1.2h0m.1-.3h0m.1-1.9h0m.7 1.6h0m.9 1.5h0m.3.1h0m0-1.1h0m.2-3.1h0m.9.8h0m.1 3.6h0m.6.2h0m1.9-5h0m.5 1.7h0m0-2.3h0m1.2 4.6h0m1.6.8h0m5.8-2.8h0m1.9-.4h0m.1 3.6h0m2.3-5.4h0m.6 5.1h0m2.1-4.1h0m.3-1.2h0m.1 2.3h0m1.5 1.3h0m0 .6h0m2.2-3.8h0m.6 5.2h0m.8-.2h0m2-3.1h0m1.1 1.5h0m.2-.3h0m-85.9 4.9h0m.4 3.1h0m1.9-4.1h0m.8 3.5h0m.8-4.1h0m1 2.5h0m.9 2.2h0m1.3.1h0m1.4-3.9h0m2.7 3h0m.4-.5h0m.9.5h0m.6-4h0m1 .2h0m2.3 2.8h0m1.3.8h0m2.2-3.1h0m3-1.2h0m0-.2h0m.4 4.6h0m1.9-1h0m1.3-1.8h0m.5 3.2h0m.8-1.7h0m1.1-3h0m.4 1.4h0m1.8 1.8h0m4.3-.3h0m.8-2.5h0m1.8-.8h0m.3 2.1h0m.3 3.3h0m.7.3h0m1.7-5h0m.3 4.5h0m0-2h0m1.4 1.4h0m.3-1.2h0m2.1-1.2h0m.6 3.3h0m.2-3.8h0m.7-1.1h0m.3 5.1h0m.3-4.4h0m.3.8h0m1.5-.1h0m.3 2.7h0m.8-1.6h0m1.9-2.5h0m1 1.4h0m1-2h0m.6 4.2h0m.6-3.6h0m2 4.1h0m.1-1.2h0m1.2-2.7h0m.2 2.3h0m1 1.1h0m3.3-1.4h0m.2-1.6h0m.4-.6h0m2 2h0m.3-1.2h0m.6-.6h0m.1 2.9h0m.4-1.9h0m1.7.9h0m2.4-1h0m.3 1h0m.6-1.1h0m.2 1.1h0m0 2.4h0m.2.4h0m1.5-5.2h0m.5 1.4h0m.2-.7h0m.3 2.1h0m.7-1.2h0m.1.9h0m1.6-2.3h0m.6 3.6h0m2.4-4.1h0m.6 5.6h0m.1-4.8h0m2.3 1.2h0m.1 1.5h0m1-.9h0m0-1.6h0m.1.6h0m.4-.6h0m.5 4.4h0m.3.3h0m.9-4.4h0m-88.5 5h0m4.4 1.5h0m1 2.1h0m1.6 1.2h0m.2-3.8h0m1.2 1.5h0m1.8 2.4h0m1.4-2.2h0m.3-2.2h0m.4.2h0m.4.8h0m1.4 3.6h0m.9-4.2h0m.2.2h0m.3-1.1h0m5.9 1.3h0m.1 1.1h0m0-1.6h0m.5 2.2h0m.6-2.6h0m0 3.3h0m2.2-2.7h0m.2 1.7h0m3.4 0h0m1.3.8h0m.9-1.5h0m.1 1.9h0m.9-2.4h0m.9-1.7h0m.7.1h0m2.2 3.3h0m.2-.5h0m.1 1.9h0m1.7-4h0m4.4 3.3h0m.8-3.3h0m0 2.2h0m.2 1.8h0m1.2.9h0m.5-3.1h0m2.8-2.8h0m.9 5.5h0m0-2.1h0m3.2 1.9h0m.9-2.5h0m.1-1.6h0m.7-1.3h0m.1 3.6h0m1.1-.7h0m2.9 1h0m.6-2.6h0m0 2.5h0m.4-3.2h0m.1 5.3h0m3.2-.7h0m.3-3h0m1.7-2.2h0m1.6 1h0m.7.7h0m.2 3.4h0m.7.2h0m1.3-2.6h0m.4-2.3h0m.2.8h0m0 4.8h0m.2-2.8h0m.1 1.8h0m.8-.5h0m1.2-2.3h0m1.6-2.2h0m1.5.6h0m.2 5.1h0m1.6-4h0m0-.4h0m.2-1h0m.7 1.5h0m1.2-1.7h0m.1.3h0m1.8 4.6h0m.9.1h0m.3-1.2h0m.1 1.3h0m2.1-5.2h0m0 2.1h0m1.6-.3h0m0 1.4h0m1.2-2.1h0m1.2 4.5h0m.4-3.6h0m1-1.9h0m.1-.1h0m-88.1 11.9h0m.4-5h0m.1 4.2h0m1.6.4h0m2.7-1.1h0m.5-3.3h0m1 .9h0m.4.8h0m.2.4h0m.9-3h0m.9 1.2h0m.7 3.1h0m.5-1.1h0m1.3-2.3h0m.1 0h0m.8 4.1h0m.6-4.9h0m1 4.8h0m5.1-.9h0m1-2.8h0m1.8 1.6h0m1.6-1.4h0m.6-.1h0m1.4 2.1h0m.7-.8h0m.5-2.4h0m.1.9h0m2.7 2.2h0m.7-1h0m0 .9h0m.8 2.2h0m1-2.2h0m.4-2.1h0m5.9 4.4h0m2-.9h0m2.4-3.9h0m1.8 1.5h0m.1-1.1h0m.8 2h0m1.3 2.4h0m1-1.3h0m2.4-2.8h0m.3 2.7h0m4.6-4h0m.6.3h0m1.4.5h0m1.2 3.2h0m2.8 1.5h0m2.8-4.9h0m10.7 1.7h0m1.6-.8h0m.5 3.3h0m.3-.5h0m1.3-2h0m.1-1.7h0m.6.4h0m1.1 2.3h0m2.4-1.8h0m1.2-.3h0m.7 3.3h0m.9-3.8h0m.3.2h0m-84.9 10.5h0m3.1-4.1h0m.3 1.3h0m3.9-1.7h0m.2 1.4h0m4 .8h0m.5-3.1h0m.2 2.4h0m3.5-2.4h0m.2 4.4h0m1.2-3.5h0m.6-1.2h0m.2.8h0m.3 1.6h0m1.4.2h0m4.3-1.1h0m.5 1.1h0m1.8 1.3h0m1.6-1.5h0m1.1-1.6h0m3.6 1.7h0m.3.1h0m3.3-2.1h0m2.3.9h0m1-.7h0m.2 2.7h0m2.4 0h0m.7-2.1h0m5.9 3.9h0m.4-1.2h0m.7-1.7h0m.6.7h0m.7-2.5h0m.5.2h0m.4 2.6h0m1.1-2.3h0m.9.3h0m2.6 3.2h0m1.2-1.2h0m.4-.4h0m1.3-.8h0m2.6.6h0m4.4 3.2h0m1.1-2.3h0m5.3-.8h0m.3 1.3h0m.7-2.2h0m.2-.4h0m.5 1.5h0m2.5-.4h0m3.2-.6h0m.9-1.2h0m.6-.3h0m.1-.3h0m1.5 1.6h0m.4.7h0m.2 1h0m1.4 1.7h0m.1-.7h0m.6 1.5h0m-84.8 1.5h0m2.1-.2h0m.6 2.1h0m1.2-2.1h0m2.6 4.2h0m.9-2.3h0m.2.6h0m.8-3h0m4.5 3.5h0m4.2-.9h0m.4.7h0m6.4-4h0m.3 4.2h0m.9-4h0m2.5 2.5h0m9.4 2.2h0m.9-2.9h0m1.5-.1h0m1.8-1.9h0m1 2.3h0m3.1 3.2h0m1.2-5.5h0m1.4 1.2h0m.1.2h0m.1 4.4h0m1.9-.6h0m1-3.9h0m1 .2h0m2.5 1.7h0m.9-1.9h0m.8 4h0m3.1-2.6h0m.9-1h0m2.5.2h0m0-1.2h0m5.4 4.8h0m2.9-1.1h0m.3-2h0m1.3 2.9h0m6.2-5h0m2.3 1.7h0m2.5-.2h0m.3 3.7h0m-82.1.8h0m.6 2.6h0m1.1-1h0m2.6.1h0m2.3 3h0m3.5-1.5h0m1.8-2.3h0m1-1.3h0m.1 2.9h0m3.6-2.4h0m3-.5h0m.1 5h0m6.2.8h0m2.2-5.1h0m6.5 2.8h0m1.7-3.1h0m9.2.7h0m7.1 4h0m3-1.2h0m.8-.7h0m1.3.4h0m2.3-.4h0m.1-3.2h0m1.5 3.8h0m4.9 1.5h0m.7-4.9h0m2.8 4.5h0m7.3-2.5h0m.1 1.6h0m.4-1.7h0m4.9.5h0m-86.3 3.7h0m5.8 2.6h0m.6-1.3h0m4.3.4h0m6.7 3h0m13.3-.8h0m.4-1.8h0m0 1.9h0m.6-3.5h0m6.5 0h0m1.7.1h0m4.1 4.5h0m1.1-4.9h0m4.3 2.9h0m2.2-.2h0m2.7-1.9h0m1.5-1.3h0m4.3 1.1h0m4.9-1.2h0m4.5 2.2h0m-67.9 8.1h0m.1.4h0m1.2-.7h0m2.5-.6h0m2.6-.6h0m35-1.7h0m3 2.3h0m21.1 1.4h0m1.9-3.5h0m4.8 3.2h0m5.5-4.1h0m-59.9 10.1h0m55-3.5h0m10.8 2.4h0m1.4-1.5h0m-79 8.7h0m18.1-3.5h0m14.6 3.2h0m28.7-.2h0m13.3.8h0m-39.6 4.2h0m.1 2.6h0m23.8-3.1h0m14.9-2.6h0m-37.6 7.3h0" stroke="#141414" stroke-width="2.0" stroke-linecap="round" fill="none"/><path d="M1295 977.5L1384 977.5" stroke="#222" stroke-width="1.6" fill="none"/><path d="M1170.6 818.2L1170.6 988.3" stroke="#000" stroke-width="1.4" fill="none"/><path d="M1169.9 987.6L1404.9 987.6" stroke="#000" stroke-width="1.4" fill="none"/><path d="M914 1165.5L918 1165.5" stroke="#222" stroke-width="1" fill="none"/><text x="912.8" y="1172.4" font-size="19.3" text-anchor="end">0</text><path d="M914 1128.7L918 1128.7" stroke="#222" stroke-width="1" fill="none"/><text x="912.8" y="1135.6" font-size="19.3" text-anchor="end">1</text><path d="M914 1091.9L918 1091.9" stroke="#222" stroke-width="1" fill="none"/><text x="912.8" y="1098.8" font-size="19.3" text-anchor="end">2</text><path d="M914 1055.1L918 1055.1" stroke="#222" stroke-width="1" fill="none"/><text x="912.8" y="1062" font-size="19.3" text-anchor="end">3</text><path d="M914 1018.3L918 1018.3" stroke="#222" stroke-width="1" fill="none"/><text x="912.8" y="1025.2" font-size="19.3" text-anchor="end">4</text><text x="1028.5" y="1019.8" font-size="22.2" text-anchor="middle">Cd40lg****</text><text x="894.5" y="1098" font-size="18.7" text-anchor="middle" transform="rotate(-90 894.5 1098)">Expression Level</text><path d="M1021.2 1165.5l-1.2-2.5-3.6-2.5-5.2-2.6-6.2-2.5-6.3-2.5-5.7-2.5-4.7-2.5-3.6-2.5-2.5-2.6-1.5-2.5-.6-2.5-.1-2.5.3-2.5.6-2.6.8-2.5.9-2.5.9-2.5.8-2.5.8-2.5.5-2.6.3-2.5.1-2.5 0-2.5-.1-2.5-.1-2.6-.2-2.5-.2-2.5-.2-2.5-.3-2.5-.3-2.5-.3-2.6-.4-2.5-.3-2.5-.4-2.5-.3-2.5-.4-2.6-.4-2.5-.4-2.5-.3-2.5-.4-2.5-.3-2.5-.3-2.6-.3-2.5-.3-2.5-.3-2.5-.2-2.5-.3-2.6-.2-2.5-.2-2.5-.1-2.5-.2-2.5-2 0-.2 2.5-.1 2.5-.2 2.5-.2 2.5-.3 2.6-.2 2.5-.3 2.5-.3 2.5-.3 2.5-.3 2.6-.3 2.5-.4 2.5-.3 2.5-.4 2.5-.4 2.5-.4 2.6-.3 2.5-.4 2.5-.3 2.5-.4 2.5-.3 2.6-.3 2.5-.3 2.5-.2 2.5-.2 2.5-.2 2.5-.1 2.6-.1 2.5 0 2.5.1 2.5.3 2.5.5 2.6.8 2.5.8 2.5.9 2.5.9 2.5.8 2.5.6 2.6.3 2.5-.1 2.5-.6 2.5-1.5 2.5-2.5 2.6-3.6 2.5-4.7 2.5-5.7 2.5-6.3 2.5-6.2 2.5-5.2 2.6-3.6 2.5-1.2 2.5z" fill="#1A62EE" stroke="#1d1d2b" stroke-width="0.8"/><path d="M976.4 1052.6h0m-39.5 2.7h0m19.2 3h0m29.6-2h0m18.2-2.4h0m5.7 4.5h0m-53.3 2.5h0m48.7 3.3h0m.5.3h0m-35 3.5h0m-32.8 7.3h0m22.5-.9h0m5.2.9h0m3.4.7h0m15.1-4.3h0m24.8 4.5h0m-68.2 1.5h0m20-.2h0m34.9 4.2h0m-28.1 3.6h0m41.3 1.4h0m-50.5 5.7h0m36.4.4h0m2.7 1.2h0m-43.9 5h0m35.3-.7h0m8.2 2.2h0m4.3-4.1h0m-18.9 9.1h0m-40.8 1.9h0m1.2 4.6h0m33.5-3.7h0m4.4-.9h0m1.9 5.3h0m-32.4 5.5h0m2.6-2.9h0m10.8.1h0m.4.2h0m25.6 1.2h0m17 1.1h0m-59.5 4.2h0m2.9 1.4h0m13.7-2.5h0m21.1 2h0m2.6-2.5h0m2.8-1.4h0m-51.9 6.4h0m5.9 4.4h0m32.5-3.4h0m19.9.9h0m7 2.2h0m9.7.4h0m-72.3 2.6h0m0 .9h0m14.8-1.5h0m12.8 3.7h0m18-2.7h0m5.8-.1h0m-26.4 5.2h0m18.5-1h0m22.3 5h0m-46.9 8.4h0m32.6-1.4h0m21 3.5h0" stroke="#141414" stroke-width="2.0" stroke-linecap="round" fill="none"/><path d="M935.6 1165L1019 1165" stroke="#222" stroke-width="1.6" fill="none"/><path d="M1115.8 1165.5l-1.9-2.5-5.3-2.5-7.4-2.5-7.8-2.5-6.9-2.6-5.2-2.5-3.5-2.5-2-2.5-.8-2.5-.2-2.5.3-2.5.6-2.5.7-2.5.9-2.6 1-2.5 1.1-2.5 1.2-2.5 1.2-2.5 1.2-2.5 1.1-2.5.9-2.5.7-2.6.6-2.5.2-2.5 0-2.5-.1-2.5-.1-2.5-.2-2.5-.3-2.5-.3-2.5-.4-2.6-.4-2.5-.5-2.5-.5-2.5-.5-2.5-.6-2.5-.6-2.5-.5-2.5-.6-2.5-.6-2.6-.6-2.5-.5-2.5-.6-2.5-.5-2.5-.5-2.5-.5-2.5-.4-2.5-.4-2.5-.4-2.6-.4-2.5-.3-2.5-.3-2.5-.3-2.5-.2-2.5-.2-2.5-.2-2.5-.2-2.6-2 0-.2 2.6-.2 2.5-.2 2.5-.2 2.5-.3 2.5-.3 2.5-.3 2.5-.4 2.5-.4 2.6-.4 2.5-.4 2.5-.5 2.5-.5 2.5-.5 2.5-.6 2.5-.5 2.5-.6 2.5-.6 2.6-.6 2.5-.5 2.5-.6 2.5-.6 2.5-.5 2.5-.5 2.5-.5 2.5-.4 2.5-.4 2.6-.3 2.5-.3 2.5-.2 2.5-.1 2.5-.1 2.5 0 2.5.2 2.5.6 2.5.7 2.6.9 2.5 1.1 2.5 1.2 2.5 1.2 2.5 1.2 2.5 1.1 2.5 1 2.5.9 2.6.7 2.5.6 2.5.3 2.5-.2 2.5-.8 2.5-2 2.5-3.5 2.5-5.2 2.5-6.9 2.6-7.8 2.5-7.4 2.5-5.3 2.5-1.9 2.5z" fill="#E8212A" stroke="#1d1d2b" stroke-width="0.8"/><path d="M1036.2 1023h0m70.6-.5h0m-73 6h0m3.7-4.7h0m2.5 2.4h0m.9 2.7h0m23.8-4.3h0m24.5 3h0m-50.4 5.4h0m35.4-.3h0m2-.5h0m5.9 2.3h0m24.7-.8h0m3.8 1.3h0m-69.5.7h0m8.7.6h0m4.4 3.9h0m23.4-3.7h0m24.6 1.8h0m-50.2 4.2h0m4.7 1.8h0m10.3-1.6h0m32.8 1.9h0m.3 1.2h0m9.7-.1h0m1.4-.1h0m-76.6 1.5h0m1.4 4.8h0m4.6-3.4h0m5 4h0m.9-5.3h0m24 5.3h0m4.9-.1h0m31.4-1.3h0m2.5.3h0m1.5-2.6h0m-64.5 7.9h0m25.5.4h0m9.6-3.7h0m6.3 3.9h0m-44.5 7.3h0m1.9-1.6h0m.4.7h0m11.4-1.2h0m1.1 2.4h0m1.7-3.4h0m6 1.4h0m1.3-3.6h0m.5 4.7h0m4.4-3.3h0m4.1 2.6h0m1-.7h0m6.5.5h0m15.2-2.9h0m2.7 2.1h0m11.1-3.1h0m-77.8 9.5h0m5.4-3h0m2.2 3.2h0m5.5-.2h0m2-.2h0m4.9.4h0m.5-2.8h0m13.1 3.8h0m1 .8h0m4-2.7h0m1.1-2.9h0m2.3 4h0m5.1-2.9h0m24.9.2h0m1.2 2.5h0m3.4-3.6h0m-74.7 7.2h0m4 .4h0m1.5.1h0m2.8 3h0m1.6-4.1h0m1.4 3.7h0m5.5-2.2h0m14.4-1.2h0m1.5 3.5h0m2.4-1.2h0m1.4-2.3h0m.5-.1h0m1.2 3.1h0m1.6 1.6h0m2.7-1.5h0m6.8.8h0m25.5-.1h0m1-4.2h0m-80.2 10.4h0m.9-4.4h0m5.9-.5h0m2.2 5.2h0m8-1.9h0m.2-3.3h0m4.5 1.3h0m.6-1h0m.2 2h0m1.7.6h0m15.2-2.3h0m1.8 3h0m6.1-.3h0m7.7-.8h0m7.3 2.7h0m-48.2 2.6h0m1.2-.3h0m12.5.4h0m.7 2.9h0m12.5.1h0m12.6-4.4h0m1.9 1.9h0m.1 2.6h0m2.3-4.8h0m6 .7h0m3.5 1.1h0m8.7-.9h0m2.8 2.4h0m-77.1 2.4h0m.2 3.8h0m.7.2h0m.5 1.3h0m.9.4h0m5.3-5h0m1.4 2.6h0m2.6-1.2h0m3.9 1.1h0m.4-2.2h0m.3 1.1h0m3.2-1.3h0m3.8 1.4h0m2.5.7h0m8.3.7h0m1.4 0h0m16.1-3.2h0m5.7 3.1h0m.6 2.2h0m6-1.5h0m.4 1.6h0m8.8-5.7h0m0 3.4h0m.1-2.9h0m4.2 4h0m-77.7 3.7h0m12.6-2.1h0m.1 3.2h0m.9 1.4h0m1.7-.3h0m1.4 1.2h0m2.2-2.9h0m1.7.2h0m.4-2.8h0m7.5 2.4h0m.6-2.3h0m4.9 2h0m4.4 1h0m.8 2.2h0m1-3.7h0m7 1.3h0m3-1.7h0m1.6 3.7h0m1.1-4.4h0m5.2.8h0m.5 4.2h0m5.2-4.7h0m.7 0h0m8.7.2h0m2.6-.5h0m-76.8 9.4h0m1.7 1.7h0m.7-3.7h0m.7 3.7h0m4.1-6h0m.8 2.2h0m1.6 3.7h0m4.3-1.7h0m1.2-2h0m1.9 2.5h0m15 .3h0m2.2-2.2h0m2.2-2.5h0m.5.9h0m1.1 3.2h0m2 .5h0m.2-1.4h0m1.5.5h0m.5-.7h0m.4-.9h0m1.4 2.7h0m2.6.5h0m.5-1.7h0m2.7 1.1h0m6.6-1.5h0m.5.8h0m7.9-3.1h0m.9.7h0m2.6.2h0m.2 2h0m1.8 1.6h0m.1-5.7h0m2.4 1.9h0m.2-.3h0m.7 2h0m1.1-1.2h0m.5-.2h0m3-.2h0m.9 4h0m1-2.5h0m-80.6 8.2h0m.6-2.3h0m.4.4h0m1.1 1h0m.1-3.8h0m3.8 4.8h0m4.8-5.7h0m.4 2.9h0m3.2.7h0m3.8-3.6h0m3.5 2.6h0m.6 1.4h0m2.2-3.7h0m6.2 1.4h0m0 1.3h0m7.2-2.1h0m1.4 4.4h0m.2-3.3h0m3.2.1h0m.7 3.5h0m2-3.2h0m1.1-.6h0m0-.9h0m1.6 1.6h0m4.2-.1h0m2.1.9h0m.8-2h0m2.2-1.2h0m.9 5.1h0m1.8-3.7h0m2-.9h0m2.9 1.4h0m1.1 2.2h0m2.4-2.8h0m.9.1h0m2.6 1.6h0m3.9-.3h0m-72.1 6.5h0m.4 2.1h0m2.6-2.5h0m6.7 2.7h0m1.8-3.5h0m3.1-1.3h0m.7-.2h0m1.1 4.7h0m2.9-1.9h0m2.6.9h0m.7 1.3h0m4.2-4.8h0m.9 4.1h0m4.2-.7h0m5-3.3h0m2.1 2.6h0m.3.9h0m0-.5h0m5.6-2.4h0m1 2.8h0m1-.3h0m.2-3.3h0m5.7 1.5h0m3.5.1h0m3.3.8h0m.6 1.9h0m.3-4h0m4.2.4h0m1 .5h0m1.5-.4h0m6.9-1.5h0m-75.3 8.8h0m.4-1.6h0m1.7 1.1h0m5.9-2.2h0m.9 1.4h0m5.5-.7h0m1.2 4.3h0m1.2-3.6h0m9.9-.2h0m.4.8h0m4.2 2.9h0m.6-3.6h0m1.8-1.2h0m.6.2h0m1.1 3.2h0m.8 1.4h0m2.4-1.1h0m.7-.6h0m5.2-2.4h0m2.7 4.9h0m3.3-2.4h0m3.4-2.9h0m1.9-.3h0m4.1.6h0m0 3.3h0m2.3-2.4h0m1.4-.3h0m5.1 1.5h0m2.8-.2h0m7.2-2.5h0m.1 1.3h0m-80.5 5.5h0m7 1.2h0m1.4-2.2h0m3 4.3h0m2.9-1.2h0m1.5 2.5h0m6.6-4.4h0m.2 1.1h0m2-2.3h0m4 2.8h0m2.7 2.8h0m4-1.7h0m6.4.9h0m2-3.2h0m1-1.7h0m.5 3.4h0m2 2.3h0m6.4-.2h0m4.7.2h0m8.2-4.9h0m2.1.2h0m1.1 1.8h0m1.6.6h0m4-2.2h0m2 1h0m-76.3 8.4h0m4.2 1h0m10.9-4.6h0m3.7 2.6h0m4.4-3.2h0m3.4 3.4h0m8.4.6h0m3.4-1.8h0m5.1 2.8h0m7.7-2.8h0m4.6-.4h0m4.6 2.1h0m10.6 1.4h0m-70.3 1.3h0m13.7.4h0m2.4.1h0m1.8 4.5h0m32.4-3.2h0m11.7 2h0m4.9-3.6h0m5.1 1h0m4.1-1.6h0m-68 7.6h0m7.5 1.8h0m17.1-.1h0m15-.9h0m2.3.6h0m18.5.3h0m-57.6 5.2h0m.5-1.2h0m3.5 3.5h0m25.2-2.8h0m10.2-2.2h0m.1.7h0m19.4 3.8h0m4.4-.7h0m-11.3 5.9h0" stroke="#141414" stroke-width="2.0" stroke-linecap="round" fill="none"/><path d="M1032 1165L1113.6 1165" stroke="#222" stroke-width="1.6" fill="none"/><rect x="1070.3" y="1022.3" width="5" height="16.2" fill="#333"/><path d="M918 1018.2L918 1173.3" stroke="#000" stroke-width="1.4" fill="none"/><path d="M917.3 1172.6L1132.5 1172.6" stroke="#000" stroke-width="1.4" fill="none"/><path d="M1170.4 1163.9L1174.4 1163.9" stroke="#222" stroke-width="1" fill="none"/><text x="1169.2" y="1170.8" font-size="19.3" text-anchor="end">0</text><path d="M1170.4 1121.7L1174.4 1121.7" stroke="#222" stroke-width="1" fill="none"/><text x="1169.2" y="1128.6" font-size="19.3" text-anchor="end">1</text><path d="M1170.4 1079.5L1174.4 1079.5" stroke="#222" stroke-width="1" fill="none"/><text x="1169.2" y="1086.4" font-size="19.3" text-anchor="end">2</text><path d="M1170.4 1037.3L1174.4 1037.3" stroke="#222" stroke-width="1" fill="none"/><text x="1169.2" y="1044.2" font-size="19.3" text-anchor="end">3</text><text x="1287.7" y="1019.8" font-size="22.2" text-anchor="middle">Klrk1</text><text x="1288.5" y="1042.2" font-size="18.4" text-anchor="middle">P=0.0179</text><text x="1141.5" y="1094" font-size="18.7" text-anchor="middle" transform="rotate(-90 1141.5 1094)">Expression Level</text><path d="M1280 1163.9l-5.5-2.5-13-2.6-13-2.5-8.5-2.6-3.9-2.5-1.2-2.6-.2-2.5.1-2.6.2-2.5.3-2.6.3-2.5.4-2.6.4-2.5.4-2.6.5-2.5.5-2.6.5-2.5.5-2.6.4-2.5.4-2.6.3-2.5.2-2.6.1-2.5 0-2.6 0-2.5-.1-2.6-.1-2.5-.2-2.6-.1-2.5-.2-2.6-.3-2.5-.2-2.6-.3-2.5-.3-2.6-.3-2.5-.2-2.6-.3-2.5-.3-2.6-.3-2.5-.3-2.6-.3-2.5-.2-2.6-.2-2.5-.3-2.6-.2-2.5-.2-2.6-.1-2.5-.2-2.6-2 0-.2 2.6-.1 2.5-.2 2.6-.2 2.5-.3 2.6-.2 2.5-.2 2.6-.3 2.5-.3 2.6-.3 2.5-.3 2.6-.3 2.5-.2 2.6-.3 2.5-.3 2.6-.3 2.5-.2 2.6-.3 2.5-.2 2.6-.1 2.5-.2 2.6-.1 2.5-.1 2.6 0 2.5 0 2.6.1 2.5.2 2.6.3 2.5.4 2.6.4 2.5.5 2.6.5 2.5.5 2.6.5 2.5.4 2.6.4 2.5.4 2.6.3 2.5.3 2.6.2 2.5.1 2.6-.2 2.5-1.2 2.6-3.9 2.5-8.5 2.6-13 2.5-13 2.6-5.5 2.5z" fill="#1A62EE" stroke="#1d1d2b" stroke-width="0.8"/><path d="M1204.7 1045.1h0m37.7-.9h0m-51.5 5.1h0m44 1.3h0m37.9-.4h0m-69.7 5.7h0m24.6 7.9h0m46.1-.4h0m-62.6 12.2h0m.4.7h0m25 2.9h0m-31 6.4h0m4.1 2.4h0m16.6-4.9h0m.9 1.8h0m21.1-.2h0m5.3 1h0m-59.3 9.2h0m66.3-1.1h0m-62.6 3.4h0m4.7.5h0m17.2 2.8h0m16.7 0h0m25-3.2h0m-65.5 8.9h0m7.9.8h0m4.6-2.2h0m33.9-2.4h0m1.6.3h0m4.7.1h0m-45 8.4h0m17.7-2.4h0m5.7 1h0m2 2.8h0m34.2-2.9h0m.9 1.5h0m-61.6 5.3h0m50 .4h0m9 1.3h0m-59.7 3.3h0m65-1.8h0m.8 1h0m8.6 1.9h0m-56 2.6h0m18.9 1.4h0m0 2.1h0m1.5.5h0m.2-1.2h0m16.4.3h0m2.7 13h0m9.3-1.8h0m-61.9 9.2h0m5.8-.4h0m51.8.2h0m-37 1.7h0m11.8-.7h0m30.3 1h0" stroke="#141414" stroke-width="2.0" stroke-linecap="round" fill="none"/><path d="M1190.3 1163.4L1277.7 1163.4" stroke="#222" stroke-width="1.6" fill="none"/><path d="M1382.1 1163.9l-2.6-2.5-7.1-2.5-9.3-2.5-9.2-2.5-7.4-2.5-5.1-2.5-2.8-2.5-1.4-2.5-.4-2.5.1-2.5.4-2.5.5-2.5.6-2.5.7-2.5.8-2.6.9-2.5.9-2.5.9-2.5.8-2.5.8-2.5.7-2.5.6-2.5.4-2.5.2-2.5 0-2.5-.1-2.5 0-2.5-.2-2.5-.1-2.5-.2-2.5-.3-2.5-.3-2.5-.3-2.5-.3-2.5-.4-2.5-.3-2.5-.4-2.5-.4-2.5-.4-2.5-.4-2.5-.4-2.5-.5-2.5-.4-2.5-.4-2.5-.3-2.6-.4-2.5-.4-2.5-.3-2.5-.4-2.5-.3-2.5-.3-2.5-.2-2.5-.3-2.5-.2-2.5-.2-2.5-.2-2.5-.2-2.5-.2-2.5-.1-2.5-2 0-.1 2.5-.2 2.5-.2 2.5-.2 2.5-.2 2.5-.2 2.5-.3 2.5-.2 2.5-.3 2.5-.3 2.5-.4 2.5-.3 2.5-.4 2.5-.4 2.5-.3 2.6-.4 2.5-.4 2.5-.5 2.5-.4 2.5-.4 2.5-.4 2.5-.4 2.5-.4 2.5-.3 2.5-.4 2.5-.3 2.5-.3 2.5-.3 2.5-.3 2.5-.2 2.5-.1 2.5-.2 2.5 0 2.5-.1 2.5 0 2.5.2 2.5.4 2.5.6 2.5.7 2.5.8 2.5.8 2.5.9 2.5.9 2.5.9 2.5.8 2.6.7 2.5.6 2.5.5 2.5.4 2.5.1 2.5-.4 2.5-1.4 2.5-2.8 2.5-5.1 2.5-7.4 2.5-9.2 2.5-9.3 2.5-7.1 2.5-2.6 2.5z" fill="#E8212A" stroke="#1d1d2b" stroke-width="0.8"/><path d="M1305.9 1022.2h0m37.9-3.7h0m1.5 7.9h0m4.6 0h0m8.2 2.2h0m6.3-1.8h0m2.7-3h0m-48 10.4h0m2.3-1.4h0m1.8 1.7h0m1.2-5.5h0m16 3.8h0m2.8-2.1h0m1.4-.6h0m7.9 2.1h0m8.6-.4h0m3.5-1.2h0m-54.4 7.6h0m15.8 2.5h0m3.1 0h0m17.4-5.6h0m4.2 3.5h0m8.2.8h0m6.8-2.4h0m5.1-.6h0m.5-1.2h0m-47 5.9h0m2.2 4.8h0m2.9-2h0m6.6 2.1h0m10.7.9h0m1.5-1.7h0m.6-3.2h0m30 0h0m-74.8 10h0m4 .8h0m6.5-.4h0m2.6-1.2h0m1-1.2h0m7.7-2.7h0m8.2 3.3h0m12.6 1.7h0m14.9-1.8h0m9.5-3.3h0m.6 3.7h0m-67.7 6.7h0m.9-1.9h0m.9-1.6h0m3.7.5h0m7 2.1h0m10.2 1.8h0m4.7-2.8h0m4.3-1.4h0m30.1 1.2h0m1.6 1.8h0m-68.8 3.7h0m1.3 3.1h0m3.8-2.6h0m25.1 1.1h0m2.1-1.2h0m10.2-2h0m15.1 2.3h0m6.8 2.6h0m2.8-.2h0m1.8-3.5h0m7.4-.8h0m-82 5.4h0m.5.2h0m13.4 3.8h0m.2-1.6h0m12.6 1.4h0m2.7-2h0m7.9-1.8h0m21 2h0m3 3.5h0m11.4-2.4h0m1-2.3h0m4.9 2.8h0m-71.3 7.6h0m10.9-4.3h0m10.8 1.4h0m16.4 1.2h0m4.3-2h0m2.1 1.7h0m7.3-1.6h0m.3 1.5h0m7.3 2.1h0m1.1-1.5h0m.2 1.5h0m-60 2.2h0m3 3.7h0m2.9-4.6h0m16.8 1.7h0m20.3-.1h0m4.8-1.1h0m4.2 2.3h0m.2.6h0m7.9.2h0m9.3 1.2h0m1.1-5.1h0m-80.1 11.4h0m1.8-5.3h0m32.2 5h0m11.3-2.1h0m3.4 1.4h0m.2-1.9h0m10.4 1.5h0m3.6.3h0m4.9-3h0m-59 7.4h0m.1-.5h0m.5-.6h0m24.2 1h0m6.1-1.3h0m.4 3.5h0m4.4 0h0m7-3.4h0m4.2.6h0m2.5-1.9h0m14.4 4.6h0m1.4-3.2h0m.3-1.9h0m3.9 2.6h0m.3.4h0m3.6 1.8h0m-82.3 3.9h0m9 1h0m6.7-3.3h0m5.5 3.5h0m11.5-3.3h0m6.8 1.4h0m4.7-.8h0m9 1.2h0m8.4.6h0m5.3-2.9h0m0 3.8h0m5.8-.2h0m3.6-3.2h0m2.4-.1h0m3.2 2.2h0m-75.4 5.5h0m5.9 2.7h0m.5-.8h0m.5-2.2h0m.5-.3h0m2.9 4.1h0m.2-1.9h0m0 .1h0m4.7 2h0m.2-5.7h0m3.1-.1h0m2.6 3.1h0m.7.4h0m5.3-1.5h0m3.6 2.6h0m2.3-.2h0m1.9 1.5h0m6.6-.2h0m8.1-.6h0m1.9-2.1h0m3.3 2.3h0m.7-4.5h0m11.5 5h0m3-5.7h0m.9 4.7h0m1.7-3.3h0m.6-.7h0m.1 3.3h0m1.3.1h0m.7.7h0m.2-4.6h0m6.1 4h0m.2-2.8h0m-88.4 4.6h0m4.6 3.7h0m2.8-.8h0m2.2-1.3h0m1.2-1h0m.3 2.3h0m3.9-.4h0m2.2-2.2h0m.3 2.2h0m.2 1.7h0m3.2-3.1h0m11.3 2.2h0m.4 1h0m6.5-.7h0m2.2-.8h0m1 1.2h0m1.5-.4h0m4.9.8h0m3 .5h0m.6-.2h0m1.2-.4h0m9.1-2.9h0m3.3 1.3h0m7.9.7h0m5.4 1h0m2 1h0m5.1-5.3h0m-84.9 6.3h0m2.3 3h0m7.2-2.1h0m5.1.1h0m3.7 1.9h0m1.5-1.2h0m.8 2.3h0m.5-2.6h0m1.8-.1h0m.1.3h0m.4 3.6h0m4.9-5.3h0m5 .6h0m2.4 3.5h0m2.8-4.4h0m2.9.4h0m.1 4h0m1.8 0h0m6-1.9h0m11-.8h0m.3 0h0m.5 4.2h0m5.6-5.3h0m3.2 4.6h0m6.1-3.6h0m8.7-.7h0m1.4 3.5h0m.7-4.2h0m-80.7 8.3h0m.1 1.1h0m1 .9h0m2.7-1.7h0m2 1.1h0m2 .6h0m11.1-2.8h0m3.4 1.8h0m9 1h0m2.7-.8h0m6.2-3.1h0m1.5 2.9h0m5.9-1.7h0m4.7 2.6h0m.3.6h0m1.7-.8h0m1.6-1.6h0m1.2-2.6h0m.1.5h0m.2 4h0m2.2-1.8h0m.3 0h0m.2 2.4h0m1.2-.2h0m1.7-4.2h0m10.6-.3h0m1.1 3h0m1.3-2.4h0m-75.2 5.9h0m7.3 1.2h0m1.8-.7h0m.3 3.9h0m4.9-3.4h0m1.2 2.7h0m1.9-1.6h0m.4-1.7h0m6.8 2.3h0m4.1 1.8h0m1.4-.3h0m4.6-.1h0m.5-.1h0m5.6.6h0m2.9-.5h0m2-4.7h0m2.9.2h0m6.3-.1h0m6.4.5h0m2.7.1h0m4-.7h0m3.1.2h0m-71.8 10.6h0m1.3-2.7h0m14.7.5h0m.4 2.3h0m26.7-1.7h0m2.6-2.9h0m20.1 1.8h0m8.7.6h0m4.4.5h0m-61.2 5.7h0m26.5-1.3h0m21.8-1.1h0m8.3.3h0m2.2 1.7h0m3.8-2h0m-80.5 8.6h0m28.5.7h0m15.2-2.7h0m2.8 1.2h0m1.5-.4h0m1.3 2.5h0m4.5-2.7h0m-34.9 5.9h0m8.9-1.8h0m30.4 10.8h0" stroke="#141414" stroke-width="2.0" stroke-linecap="round" fill="none"/><path d="M1290.8 1163.4L1379.8 1163.4" stroke="#222" stroke-width="1.6" fill="none"/><rect x="1333.3" y="1016.2" width="4" height="8.4" fill="#333"/><path d="M1174.4 1006.6L1174.4 1172.8" stroke="#000" stroke-width="1.4" fill="none"/><path d="M1173.7 1172.1L1396.6 1172.1" stroke="#000" stroke-width="1.4" fill="none"/><text x="1399.5" y="612.8" font-size="28" font-weight="bold">h</text><text x="1460.7" y="614.1" font-size="24.1">Expression levels of Th1 genes in CD4 T cells</text><rect x="1703" y="639.2" width="27.1" height="11.8" fill="#1A62EE"/><rect x="1703" y="662.9" width="27.1" height="11.8" fill="#E8212A"/><text x="1737.9" y="651" font-size="23.6">Ctrl groups</text><text x="1737.9" y="681.5" font-size="23.6">MICB-vax (+dox)</text><text x="1704.1" y="710.2" font-size="22.7">****P&lt;0.0001</text><path d="M1465.6 800.9L1469.6 800.9" stroke="#222" stroke-width="1" fill="none"/><text x="1464.4" y="807.8" font-size="19.3" text-anchor="end">0</text><path d="M1465.6 760.1L1469.6 760.1" stroke="#222" stroke-width="1" fill="none"/><text x="1464.4" y="767" font-size="19.3" text-anchor="end">1</text><path d="M1465.6 719.3L1469.6 719.3" stroke="#222" stroke-width="1" fill="none"/><text x="1464.4" y="726.2" font-size="19.3" text-anchor="end">2</text><path d="M1465.6 678.5L1469.6 678.5" stroke="#222" stroke-width="1" fill="none"/><text x="1464.4" y="685.4" font-size="19.3" text-anchor="end">3</text><text x="1582.2" y="648.3" font-size="22.2" text-anchor="middle">Tbx21****</text><text x="1444" y="737.4" font-size="18.7" text-anchor="middle" transform="rotate(-90 1444 737.4)">Expression Level</text><path d="M1526.9 800.6L1526.9 796.9L1550 799.7L1566.3 800.6Z" fill="#1A62EE"/><path d="M1484.7 800.3L1566.3 800.3" stroke="#1b1b2a" stroke-width="2.0" fill="none"/><path d="M1526.9 800.9L1526.9 684.6" stroke="#1b1b2a" stroke-width="1.1" fill="none"/><path d="M1487.3 693h0m67.2.5h0m-38.9 8.7h0m22.6-2.3h0m-27.5 7h0m23.8 2.2h0m7.3.8h0m14.2-2.8h0m-59.6 6.6h0m33.7 2.6h0m6.1 5.4h0m18.8-3.8h0m-56.8 6.7h0m4.4 3.5h0m18.9-3.8h0m3.6.6h0m32.2 3.1h0m-27.1 2.8h0m24.8 3.7h0m-62.1 3.3h0m46.5-1.7h0m11-.6h0m12.1 2.4h0m-25.2 6.9h0m3.5 4.3h0m-42.9 6.7h0m64.6 1.5h0m-48.9 13.1h0m-7.1 6.3h0m6 0h0m50.5-4.3h0m-74 6.2h0m11.2 4.4h0m11.4-5.5h0m1.2 4.1h0" stroke="#141414" stroke-width="2.0" stroke-linecap="round" fill="none"/><path d="M1526.4 778.1L1530.9 778.1" stroke="#222" stroke-width="1.0" fill="none"/><path d="M1526.4 764.8L1530.9 764.8" stroke="#222" stroke-width="1.0" fill="none"/><path d="M1526.4 771.7L1530.9 771.7" stroke="#222" stroke-width="1.0" fill="none"/><path d="M1526.4 771.3L1530.9 771.3" stroke="#222" stroke-width="1.0" fill="none"/><path d="M1526.4 766.9L1530.9 766.9" stroke="#222" stroke-width="1.0" fill="none"/><path d="M1526.4 738.5L1530.9 738.5" stroke="#222" stroke-width="1.0" fill="none"/><path d="M1526.4 740.8L1530.9 740.8" stroke="#222" stroke-width="1.0" fill="none"/><path d="M1526.4 770.7L1530.9 770.7" stroke="#222" stroke-width="1.0" fill="none"/><path d="M1526.4 794.4L1530.9 794.4" stroke="#222" stroke-width="1.0" fill="none"/><path d="M1526.4 719.9L1530.9 719.9" stroke="#222" stroke-width="1.0" fill="none"/><path d="M1658.9 800.9l-2.9-2.5-7.8-2.6-9.6-2.5-8.7-2.6-6.1-2.5-3.6-2.5-1.7-2.6-.6-2.5 0-2.6.3-2.5.4-2.5.4-2.6.5-2.5.6-2.6.5-2.5.5-2.5.5-2.6.4-2.5.4-2.6.1-2.5.1-2.5 0-2.6 0-2.5-.1-2.6-.1-2.5-.1-2.5-.1-2.6-.1-2.5-.1-2.6-.2-2.5-.1-2.6-.2-2.5-.2-2.5-.2-2.6-.2-2.5-.2-2.6-.2-2.5-.2-2.5-.2-2.6-.2-2.5-.2-2.6-.2-2.5-.2-2.5-.2-2.6-.1-2.5-.2-2.6-.2-2.5-.1-2.5-.2-2.6-.1-2.5-.2-2.6-.1-2.5-.1-2.5-2 0-.1 2.5-.1 2.5-.2 2.6-.1 2.5-.2 2.6-.1 2.5-.2 2.5-.2 2.6-.1 2.5-.2 2.6-.2 2.5-.2 2.5-.2 2.6-.2 2.5-.2 2.6-.2 2.5-.2 2.5-.2 2.6-.2 2.5-.2 2.6-.2 2.5-.2 2.5-.1 2.6-.2 2.5-.1 2.6-.1 2.5-.1 2.6-.1 2.5-.1 2.5-.1 2.6 0 2.5 0 2.6.1 2.5.1 2.5.4 2.6.4 2.5.5 2.6.5 2.5.5 2.5.6 2.6.5 2.5.4 2.6.4 2.5.3 2.5 0 2.6-.6 2.5-1.7 2.6-3.6 2.5-6.1 2.5-8.7 2.6-9.6 2.5-7.8 2.6-2.9 2.5z" fill="#E8212A" stroke="#1d1d2b" stroke-width="0.8"/><path d="M1588.4 667.2h0m39.5-.1h0m-16.7 7.5h0m33.9-.6h0m-68.3 4.8h0m21.2-1.4h0m37.9 1.2h0m-57 7.2h0m9.3-1.1h0m1.1 0h0m4.1-3.4h0m1.4-.3h0m5.8 4.3h0m11.6-2.3h0m22.7 3.2h0m5.8-3.9h0m.7 2.4h0m.1.5h0m2.3-2.6h0m-58.3 4.7h0m12.5 3.8h0m7-.7h0m1-3h0m.2 3.6h0m22.8-1h0m5.7-2.9h0m13.5 5.8h0m-66.3 2.6h0m16.3-2.5h0m28.4.1h0m4.3 1.3h0m20.5.2h0m-25 9.4h0m3.7.3h0m4.2-3.4h0m.4-1.6h0m-56.3 6h0m4.5.4h0m2.2-.2h0m.6 3.8h0m11.2-1.4h0m2.4-1.4h0m2.1 3.8h0m2.6-.3h0m1.1 0h0m27.3-.2h0m1.4.1h0m5.5-2.2h0m5.6-.3h0m-65.2 9.5h0m5.7-2.4h0m0 1.5h0m7.4.2h0m12.9-4.4h0m20.5 3.2h0m8.7-3.4h0m6.8 2.9h0m2.5 2.2h0m11.9-5.3h0m-76.7 8.7h0m.1-1.7h0m17.1-1.3h0m9.9 4.9h0m3.6.4h0m.4-3.1h0m1.8-2.1h0m6.4.9h0m2.3.8h0m10.5.7h0m1 1.7h0m10.9-.4h0m8.3.3h0m-74 3.2h0m6.2.6h0m10.5-.8h0m2.8 2.8h0m3.2.3h0m17.9.8h0m1.3 0h0m19.8-1.7h0m3.7-1.7h0m1.5-1.4h0m.9 1.3h0m-67.6 6.9h0m3.4 3.1h0m2.5-5.2h0m25.9.7h0m1 3.1h0m1.4.2h0m8.5.3h0m3-.2h0m9.6-.2h0m7.6 1.6h0m6.9-1.9h0m7.5-.4h0m-76.8 4.1h0m3.9 0h0m4.4 2.3h0m10.7.5h0m3.3-2.8h0m.7 3.3h0m2.1-2.1h0m1.6-.8h0m9 1.5h0m3.4-2.2h0m4.3 2.3h0m3.4.5h0m1.8-2.3h0m8.5 1h0m4.5-1.9h0m16.7 2.8h0m-72.1 8.2h0m.7-5.2h0m6 .2h0m3.2 4.3h0m7.4-1.1h0m4.4 1.1h0m13.1.3h0m6.2-5.4h0m7.1 4.1h0m4-.8h0m4.4-.8h0m7.8-2.7h0m4.6 5.3h0m1.5-1.9h0m-76.6 7.5h0m1.4-2.6h0m6.5 2.1h0m6 .4h0m3.9-2h0m.2-1.3h0m1.2 1.5h0m5.1-1.1h0m2.6.2h0m1.1 1.5h0m.4 1.3h0m8.1-1.6h0m10.2 2.1h0m.4-3.3h0m1.2 1.3h0m3.1-1.6h0m1 2.3h0m1-2.5h0m3.6 2.2h0m4.9.9h0m2.5-1.5h0m1.8 1.2h0m4.2-.2h0m5.4 1.4h0m1.3-.9h0m-74.1 2.3h0m11.1 3.9h0m.7-1h0m.3-1.2h0m9.2-1.1h0m2.4-1.2h0m.5 3.6h0m4.3.6h0m4.6 1.3h0m1.9-3.7h0m1.7 2h0m2.7-.6h0m.2-3.2h0m2.5.7h0m0 4.2h0m1.4-2.8h0m7.8.2h0m1.7-1h0m9.5 1.2h0m1-.9h0m1.4-1h0m.4 3.9h0m.9-1.3h0m1.4 0h0m2.4 1.3h0m1.9-1.4h0m1.5 1h0m.3-2.8h0m.3-1.3h0m-76.7 10.1h0m2.4 1.3h0m5.4-4.4h0m10.3 1h0m9.2-1.6h0m4-.4h0m.5 2.4h0m2.9 2.1h0m8.8-.1h0m.9-2.3h0m5.3-1.1h0m4.3-.2h0m1.2-.1h0m2.6 3.8h0m4.5-2.1h0m3 .3h0m2.6.1h0m3.7-3.1h0m1.7 2.2h0m3.6.7h0m-77.3 7.4h0m0-1h0m6.8-.9h0m.6 1.1h0m7.7 1h0m8.6-.8h0m1.3-3.3h0m16.1 4.9h0m3.7-1.8h0m10.4-2.4h0m8.1 1.4h0m1.8 1h0m-66 3h0m.1.1h0m3.5 2.7h0m4.3-.6h0m0-1.5h0m19.4-.3h0m1 1.7h0m1.5 2.9h0m15.8-1.8h0m4.7 1.4h0m.5-2.5h0m11.6-2.6h0m.7 1.1h0m1.8 3.1h0m1.7-1.6h0m-62.6 6h0m4.7-.3h0m10.1-2.4h0m15.8 3.8h0m14.1-2.8h0m3 .9h0m7.7 1.2h0m2.1 2.8h0m5.3-1h0m-24.5 6.7h0m3.6-.9h0m32-3.7h0m-77.8 5.7h0m7.1 3.5h0m1.6-1.7h0m41.6 0h0" stroke="#141414" stroke-width="2.0" stroke-linecap="round" fill="none"/><path d="M1576.8 800.4L1656.8 800.4" stroke="#222" stroke-width="1.6" fill="none"/><rect x="1614" y="666.3" width="5.5" height="36.7" fill="#333"/><path d="M1469.6 658L1469.6 807.4" stroke="#000" stroke-width="1.4" fill="none"/><path d="M1468.9 806.7L1676.3 806.7" stroke="#000" stroke-width="1.4" fill="none"/><path d="M1465.7 979.2L1469.7 979.2" stroke="#222" stroke-width="1" fill="none"/><text x="1464.5" y="986.1" font-size="19.3" text-anchor="end">0</text><path d="M1465.7 944.6L1469.7 944.6" stroke="#222" stroke-width="1" fill="none"/><text x="1464.5" y="951.5" font-size="19.3" text-anchor="end">1</text><path d="M1465.7 910L1469.7 910" stroke="#222" stroke-width="1" fill="none"/><text x="1464.5" y="916.9" font-size="19.3" text-anchor="end">2</text><path d="M1465.7 875.4L1469.7 875.4" stroke="#222" stroke-width="1" fill="none"/><text x="1464.5" y="882.3" font-size="19.3" text-anchor="end">3</text><text x="1570.7" y="832.4" font-size="22.2" text-anchor="middle">Stat1</text><text x="1570.7" y="855.5" font-size="18.4" text-anchor="middle">P=0.0407</text><text x="1444" y="916.8" font-size="18.7" text-anchor="middle" transform="rotate(-90 1444 916.8)">Expression Level</text><path d="M1563.2 979.2l-1.9-2.6-5.1-2.5-7-2.6-7.2-2.5-6-2.6-4.3-2.5-2.6-2.6-1.2-2.5-.3-2.6.3-2.5.6-2.6.9-2.5 1-2.6 1.1-2.5 1.2-2.6 1-2.5.9-2.6.7-2.5.4-2.6.1-2.5-.1-2.6-.2-2.5-.3-2.6-.4-2.5-.5-2.6-.6-2.5-.6-2.6-.6-2.5-.7-2.6-.7-2.6-.6-2.5-.6-2.6-.6-2.5-.6-2.6-.5-2.5-.4-2.6-.4-2.5-.4-2.6-.2-2.5-.3-2.6-2 0-.3 2.6-.2 2.5-.4 2.6-.4 2.5-.4 2.6-.5 2.5-.6 2.6-.6 2.5-.6 2.6-.6 2.5-.7 2.6-.7 2.6-.6 2.5-.6 2.6-.6 2.5-.5 2.6-.4 2.5-.3 2.6-.2 2.5-.1 2.6.1 2.5.4 2.6.7 2.5.9 2.6 1 2.5 1.2 2.6 1.1 2.5 1 2.6.9 2.5.6 2.6.3 2.5-.3 2.6-1.2 2.5-2.6 2.6-4.3 2.5-6 2.6-7.2 2.5-7 2.6-5.1 2.5-1.9 2.6z" fill="#1A62EE" stroke="#1d1d2b" stroke-width="0.8"/><path d="M1523.6 887.2h0m17.1 1.2h0m13.5 8.2h0m-59 5h0m34.6-2.8h0m-28 6.3h0m58.1 1.4h0m-52.3 2.9h0m3.4.1h0m23.5.3h0m4.8 1.8h0m3.7 1.7h0m12.9.4h0m4.3.7h0m-67.9 3h0m35.3.1h0m28.4-1.5h0m1 3.5h0m-58.9 2.2h0m23.8-.6h0m5.2 4.1h0m18.5-3.8h0m6.4 1.7h0m-53.7 7.8h0m12.2-1.2h0m.4-.3h0m6.9 2.4h0m12.6-4.2h0m11.5.2h0m1.8 4.6h0m1.1-5.1h0m2.1 2.4h0m.2 1.6h0m2.1-1.1h0m.8 1.4h0m.3 0h0m6-2h0m2.5 1.3h0m1.3.4h0m.1 1.4h0m-44.9 4.7h0m1.3-1.7h0m.6-1.3h0m3.6 1.7h0m10.4-2.6h0m6.7 1h0m5 1.2h0m10.3-1.2h0m.6.3h0m2.1 3.9h0m-60.7 3.5h0m21-2.4h0m2.9 1.1h0m6.6 2.6h0m.9-.8h0m2.3-2.5h0m17.5-.2h0m4.1 3h0m8-3.8h0m-60.1 7.9h0m13.7.1h0m9.6 1.7h0m25.9.1h0m5.5-3.2h0m-53.8 7.2h0m15.6 1h0m1.7 2.4h0m2.9-4.9h0m32.9 9.6h0m6.3 4.1h0" stroke="#141414" stroke-width="2.0" stroke-linecap="round" fill="none"/><path d="M1489.7 978.7L1561.3 978.7" stroke="#222" stroke-width="1.6" fill="none"/><path d="M1655.2 979.2l-2-2.5-5.6-2.5-7.4-2.5-7.7-2.5-6.5-2.6-4.7-2.5-2.9-2.5-1.3-2.5-.3-2.5.6-2.5 1-2.5 1.5-2.5 1.7-2.5 2-2.5 1.9-2.6 1.8-2.5 1.3-2.5.8-2.5.1-2.5-.1-2.5-.1-2.5-.2-2.5-.3-2.5-.4-2.5-.4-2.6-.5-2.5-.5-2.5-.5-2.5-.6-2.5-.6-2.5-.7-2.5-.6-2.5-.7-2.5-.6-2.5-.6-2.6-.7-2.5-.6-2.5-.5-2.5-.6-2.5-.5-2.5-.5-2.5-.5-2.5-.4-2.5-.4-2.5-.3-2.6-.3-2.5-.3-2.5-.3-2.5-.2-2.5-.2-2.5-.2-2.5-2 0-.2 2.5-.2 2.5-.2 2.5-.3 2.5-.3 2.5-.3 2.5-.3 2.6-.4 2.5-.4 2.5-.5 2.5-.5 2.5-.5 2.5-.6 2.5-.5 2.5-.6 2.5-.7 2.5-.6 2.6-.6 2.5-.7 2.5-.6 2.5-.7 2.5-.6 2.5-.6 2.5-.5 2.5-.5 2.5-.5 2.5-.4 2.6-.4 2.5-.3 2.5-.2 2.5-.1 2.5-.1 2.5.1 2.5.8 2.5 1.3 2.5 1.8 2.5 1.9 2.6 2 2.5 1.7 2.5 1.5 2.5 1 2.5.6 2.5-.3 2.5-1.3 2.5-2.9 2.5-4.7 2.5-6.5 2.6-7.7 2.5-7.4 2.5-5.6 2.5-2 2.5z" fill="#E8212A" stroke="#1d1d2b" stroke-width="0.8"/><path d="M1599.1 852h0m33.9-.3h0m-33.4 4.5h0m31-.6h0m2.1-.2h0m19.9 4.2h0m-69.4 6.9h0m1.7-1.7h0m7.3-2.9h0m2.4-.9h0m.6 3.5h0m3 1.7h0m5.1-2.6h0m4.1-1.7h0m1.1 4.8h0m18.2-.5h0m7.7-3.9h0m10.6 3.1h0m.1-.1h0m4.1-.6h0m1-.8h0m-72.1 6.4h0m22.4-3h0m19.5 2.5h0m.1 2.7h0m26.5-4.3h0m-61.5 10.5h0m2.2-.4h0m25.7-4.4h0m5.8-.3h0m.9 5.2h0m3.3-.2h0m1.2.3h0m6.3-2.9h0m4.6 1.4h0m2.8-2.8h0m.2 2.4h0m.5 0h0m8.6-.3h0m3.6.8h0m-72.6 2.8h0m0-.8h0m1.4 3.3h0m.8-1.5h0m.2.7h0m.6-1h0m11.5 3.8h0m3.8-3.7h0m4.1-.2h0m1.9-1.4h0m8.3 4.1h0m1.5-.6h0m2.8-.4h0m3.5-3h0m5 4.7h0m11.1-1.8h0m5.1-1.4h0m2.8 3.7h0m.2-1.5h0m1.9.7h0m.4-2.1h0m4.6-.8h0m-70.2 7.5h0m14.9-3h0m.8 5.3h0m.9-5.6h0m4.7 2.4h0m7.5 2.1h0m5.4-3.5h0m.2 2h0m23.4 1h0m1.6.3h0m6.8-1.7h0m-68.5 3.3h0m6.2 2.5h0m6.6 2.1h0m6.7-4.5h0m.1 2.5h0m1.3 1h0m1.3-.8h0m0 2.7h0m.5-4.9h0m7.6 4.3h0m1.9-3.6h0m1.2-1.3h0m8.3 4.7h0m.4-2.9h0m7.1 3.8h0m10.9-.4h0m1-.8h0m7.7-.3h0m6.8 1.1h0m-76.3 3.3h0m7.7 1.7h0m.4-1.8h0m9.1 3.2h0m6.4.1h0m1.3-2.3h0m5.4 1.7h0m.3-.4h0m5.5-1.6h0m.6-2.3h0m2.5-.2h0m.8.8h0m4.4.6h0m2.3-1.2h0m4.2 3.4h0m2.6 1.2h0m2.7-.6h0m14.7-.5h0m.8.8h0m3.2-.4h0m-74.5 5.9h0m3.9-.1h0m.2-1.4h0m1.8-3.1h0m2.3 3.9h0m.1-2.9h0m.8 1.6h0m.1 2.2h0m3.2-.6h0m.6-2.3h0m12.6 1.7h0m3 .1h0m3.3-.8h0m.1-.9h0m.7-1h0m6.5 4.5h0m5-3.2h0m9.7 1.2h0m18.6 1.8h0m.3-3.6h0m.7-1.2h0m-71.6 6.5h0m1.5 3.5h0m1.3-1.4h0m3.8-1.3h0m4.4-1.7h0m.9 5.7h0m3.4-4.3h0m11.4-.9h0m1.5 1.8h0m2.1 2.6h0m.8-3.8h0m1.9 4.4h0m4.9-2.4h0m3.7.6h0m3 1.4h0m6.1-2.1h0m4.3-3.1h0m.2.9h0m3.3 0h0m1.2 3.4h0m1.1.6h0m.5-1.9h0m2.8-2.5h0m4.1 2.3h0m.9-2.8h0m.6 3.6h0m2.9 1.6h0m.8-.5h0m-64.2 2.1h0m9.8.4h0m2.2 2.3h0m5.3 2.1h0m.5-2.9h0m.5-2.6h0m3.6 1.2h0m.3 0h0m.1-.6h0m1.7 2.4h0m.4-3.1h0m4.4.5h0m10-.6h0m2.2 1.4h0m1.1-.2h0m.6 2.5h0m1.5 2h0m.9-2.1h0m1.7 1.4h0m1.4-2.7h0m2.9 1h0m5.3.4h0m3.7-3.6h0m1.5 1.4h0m2.3-1.5h0m.5 1.4h0m-74.6 9.2h0m5.4.6h0m1.6-4h0m2.9 3h0m.6.2h0m2.8 1h0m3.1.5h0m3-6h0m1.5.5h0m3.8 2.4h0m.9 2.9h0m1.7-5.1h0m3.2.6h0m12.4-1.1h0m4.1 5.5h0m5.6-1h0m7.1-.1h0m.4-.2h0m4.5-2.5h0m3 3.2h0m.8-1.4h0m3.2-.6h0m-62.7 5.4h0m.4 2h0m1.7-4.3h0m.1 4.6h0m1.1-2h0m1 1.2h0m.1 1.7h0m1.1-5.3h0m.3 3.7h0m3.1-2h0m6.4.6h0m.3 1.4h0m1 1.8h0m4-2.3h0m6.1 2.1h0m10.6-.1h0m7 .3h0m12.8-5.2h0m3.8 4.9h0m3.5-5.2h0m.4 5.1h0m-73.7 5.5h0m1-1.7h0m1.2 2.6h0m.7-3.3h0m0 2.3h0m.9-4.3h0m.4 3.6h0m.4-2.1h0m1.5 3.9h0m3.8-3.5h0m.3-2.4h0m1.3.1h0m1 2.8h0m2.4 2.9h0m.2-2.1h0m.2-1.4h0m.2 2.3h0m.8-1.8h0m0 .9h0m3.4-.5h0m2.3-1.9h0m0 3.3h0m.3-1.5h0m.9-.4h0m.4 2.9h0m1.7-5.5h0m2.4.1h0m.5-.2h0m2.6 2.6h0m0-2.4h0m1.9 4.7h0m1.5.2h0m.1-.6h0m1.6-2.4h0m.9 1.7h0m.7 1.2h0m2-4.5h0m1.9 1.3h0m.1 3.1h0m0-3.8h0m.3 4.2h0m.1.6h0m.3-5.7h0m.1 1.9h0m2.7 3.5h0m.8.2h0m1.8-5.1h0m.8.5h0m.8 1.2h0m.6.7h0m1.2-2.6h0m.5 1.2h0m1.8 1.9h0m1.5-3.3h0m2.9 1.4h0m.7 1.7h0m.3-1.1h0m.1-2h0m1.4 5.1h0m.8-1.9h0m.5-3.5h0m1 2.7h0m.3-2.5h0m1.1.4h0m1.5 4.9h0m.2-.3h0m.6-2.7h0m.2-1.3h0m1.8.5h0m.8.7h0m.7 2.2h0m.4.1h0m.8-.5h0m2.1-3.7h0m.4 2.1h0m0-1.7h0m.4-.5h0m-75 6h0m.9 1.6h0m.4.1h0m2.4.1h0m1.5 2.7h0m.9-.5h0m2.6-3.7h0m.7 1.7h0m1.9.1h0m1.5-1.7h0m2.4-.8h0m2.9.3h0m3.1 3.6h0m.1-.6h0m2-2.6h0m5 3.2h0m1.8 1.8h0m.2-5.7h0m1.9 1.6h0m1.4 2.5h0m3.8 1.6h0m1.5-.3h0m1.5-4h0m.5 2.7h0m.8-.1h0m.3-2.4h0m1 2.8h0m1.3-3h0m.2-.6h0m.8.1h0m1.3 1.2h0m3-1.5h0m.9 5.2h0m0-2.2h0m.8-2.2h0m.2 3.1h0m1.3-2.1h0m.1-2.3h0m.9 2.7h0m3.4 2.6h0m.1-.8h0m.7.1h0m.5-2.6h0m.7.8h0m1 1.7h0m.5-3.8h0m.8.4h0m4.8 1.8h0m.1-2.6h0m.6 4.4h0m.7-3.9h0m3.6 2.7h0m1 1.6h0m.8-2.2h0m1.7-.5h0m.1 2.5h0m.1-1.1h0m.5.8h0m.4.4h0m0-1.7h0m.4-.3h0m-72.2 3.5h0m.6 3h0m1.3.2h0m.5-2.1h0m.9 1h0m4.3.3h0m.4-1h0m.2-.1h0m1-1.4h0m5.3.6h0m.1 1.1h0m2.1 2h0m2.7-3.9h0m.9-.3h0m0 .2h0m5.8.7h0m3.3 4.1h0m2.6-1.2h0m.9 2.1h0m6.1-1h0m7.8-1.9h0m1.7 2.5h0m3.7-.6h0m2.2-1h0m.5.4h0m1.6-.4h0m.4-3.9h0m.1 4.6h0m1.9-4.6h0m.1 1.3h0m2.6-.4h0m.1 2.7h0m1.4-.1h0m.4 2.4h0m.6-5.4h0m2.7 4.4h0m4-1.4h0m.3.7h0m-75.5 6.1h0m8.5-3.6h0m4.3 4.6h0m5.2.3h0m1.2-1.1h0m1.1.8h0m3.9 0h0m.4.3h0m5.3-2.1h0m1.4 1h0m.5-1.8h0m5-1.8h0m1 4.1h0m4.8-3.8h0m.4 2h0m2.7-1.4h0m.5 2.9h0m.1-.8h0m.4-2.7h0m4 1.8h0m1.3-1.7h0m.9 4.3h0m7.5-3.8h0m.2-.7h0m9.2 4.5h0m1.1-3.4h0m3.6 3.2h0m1.4.1h0m-69.2 4.2h0m5.5 1.5h0m1.3-5.2h0m7.1 5.4h0m1.8-.4h0m4.8-.9h0m2.3-2.7h0m.9 1.4h0m2.9-1.7h0m1.4-.6h0m1 .6h0m4.1-1h0m0-.1h0m15.8 5.1h0m1.8.3h0m6.3-4.2h0m6.7 1h0m1.9-.3h0m-68 5.8h0m1 2h0m13.5-3.2h0m4.9 1.6h0m12.7-1.6h0m16 .3h0m8.3 0h0m5.2-.5h0m-45 10.1h0" stroke="#141414" stroke-width="2.0" stroke-linecap="round" fill="none"/><path d="M1576 978.7L1653.2 978.7" stroke="#222" stroke-width="1.6" fill="none"/><rect x="1611.8" y="851.2" width="5.5" height="13.8" fill="#333"/><path d="M1469.7 841.5L1469.7 988.2" stroke="#000" stroke-width="1.4" fill="none"/><path d="M1469 987.5L1668.4 987.5" stroke="#000" stroke-width="1.4" fill="none"/><path d="M1718.5 975.9L1722.5 975.9" stroke="#222" stroke-width="1" fill="none"/><text x="1717.3" y="982.8" font-size="19.3" text-anchor="end">0</text><path d="M1718.5 942.5L1722.5 942.5" stroke="#222" stroke-width="1" fill="none"/><text x="1717.3" y="949.4" font-size="19.3" text-anchor="end">1</text><path d="M1718.5 909.1L1722.5 909.1" stroke="#222" stroke-width="1" fill="none"/><text x="1717.3" y="916" font-size="19.3" text-anchor="end">2</text><path d="M1718.5 875.7L1722.5 875.7" stroke="#222" stroke-width="1" fill="none"/><text x="1717.3" y="882.6" font-size="19.3" text-anchor="end">3</text><path d="M1718.5 842.3L1722.5 842.3" stroke="#222" stroke-width="1" fill="none"/><text x="1717.3" y="849.2" font-size="19.3" text-anchor="end">4</text><text x="1827.2" y="832.5" font-size="22.2" text-anchor="middle">Ms4a4b****</text><text x="1696" y="912.6" font-size="18.7" text-anchor="middle" transform="rotate(-90 1696 912.6)">Expression Level</text><path d="M1817.6 975.9l-.6-2.5-1.7-2.6-2.6-2.5-3.4-2.6-3.9-2.5-4-2.5-3.9-2.6-3.5-2.5-2.9-2.5-2.2-2.6-1.3-2.5-.6-2.6.4-2.5 1-2.5 1.7-2.6 2.1-2.5 2.3-2.6 2.4-2.5 2.3-2.5 1.9-2.6 1.3-2.5.6-2.5 0-2.6-.2-2.5-.3-2.6-.5-2.5-.6-2.5-.8-2.6-.8-2.5-1-2.6-1-2.5-1.2-2.5-1.1-2.6-1.3-2.5-1.2-2.5-1.3-2.6-1.2-2.5-1.2-2.6-1.2-2.5-1.2-2.5-1.1-2.6-1-2.5-1-2.6-.9-2.5-.8-2.5-.8-2.6-.7-2.5-.6-2.5-.6-2.6-.5-2.5-6 0-.5 2.5-.6 2.6-.6 2.5-.7 2.5-.8 2.6-.8 2.5-.9 2.5-1 2.6-1 2.5-1.1 2.6-1.2 2.5-1.2 2.5-1.2 2.6-1.2 2.5-1.3 2.6-1.2 2.5-1.3 2.5-1.1 2.6-1.2 2.5-1 2.5-1 2.6-.8 2.5-.8 2.6-.6 2.5-.5 2.5-.3 2.6-.2 2.5 0 2.6.6 2.5 1.3 2.5 1.9 2.6 2.3 2.5 2.4 2.5 2.3 2.6 2.1 2.5 1.7 2.6 1 2.5.4 2.5-.6 2.6-1.3 2.5-2.2 2.6-2.9 2.5-3.5 2.5-3.9 2.6-4 2.5-3.9 2.5-3.4 2.6-2.6 2.5-1.7 2.6-.6 2.5z" fill="#1A62EE" stroke="#1d1d2b" stroke-width="0.8"/><path d="M1761.3 854.9h0m11.7-.2h0m22.4-2.6h0m-28 3.3h0m30.6-.1h0m-27.5 7.4h0m29.1 3.4h0m7.9-2.3h0m3.2 1.9h0m-70.5 5.4h0m1.3 1.7h0m5.4-2.4h0m3.1 1.3h0m9.7-3.5h0m.5-.6h0m32.2 3h0m18-.4h0m.9-3h0m-73.6 7.1h0m32.4 3.1h0m12.3-1.1h0m10.7.9h0m-26 7.5h0m19.6-5.3h0m2.8 2h0m13-2h0m7.1 4h0m2.7-.8h0m-60.1 7.9h0m13.3-5h0m6 .4h0m11.3-.6h0m8.4 4.3h0m7 .4h0m5.9-.3h0m2.1 1.3h0m1.3-3.9h0m5.7 1.3h0m-70.1 3.8h0m7.5 3.2h0m17.4-.4h0m3.7-.8h0m6.3-2h0m.2.1h0m2.9.5h0m5.8.4h0m7-.7h0m4.3 1.5h0m10.4.5h0m5.5-.3h0m-69.3 2.8h0m3.5 1.2h0m.7 4.3h0m5.1-1h0m3.6 1.5h0m2-.2h0m4.9-5h0m11.3-.3h0m22 4h0m11.2.9h0m5.2-.9h0m-70.9 4.4h0m7.3.4h0m2.3 1h0m2.3-2.9h0m.5-.9h0m3.2 5.3h0m.5-4.6h0m1.4 2.6h0m8.7-3.1h0m14.8-.1h0m5.5 4.2h0m5.3-1.4h0m2.5-.8h0m-60.7 6.5h0m6.2-1.3h0m5.1.7h0m38.1 3.2h0m7.1-4.3h0m.6 3.6h0m-54.5 1.9h0m1.6 4.7h0m10-3.9h0m4.1 4h0m2.1-1.3h0m5.7 0h0m6.9-4.1h0m1.2 2.5h0m1.1 1.6h0m6.9-3.1h0m1.4 3.1h0m4.2-2.6h0m4.4 1.3h0m2.2.2h0m3 1.8h0m5.7-1.4h0m2.8-3.3h0m.2.7h0m4.3 4.7h0m-69.8 4.4h0m4.2-1.9h0m2.7-1.7h0m.9 3h0m3.8-3.2h0m.3 3.7h0m.4-3.7h0m4.9 5.1h0m5.4-5.3h0m3 3.4h0m.9 1.4h0m1.2-1.2h0m3.3-.2h0m.5.1h0m4.7 2.3h0m3-4.6h0m2.8 4.3h0m.8.1h0m.3-5.1h0m7.4 4.4h0m3.1-4.4h0m3.7 3.9h0m12.6-1.6h0m1.5 1.7h0m2.6-2.2h0m1.1 3.2h0m-71.7 3.1h0m8.4.6h0m2.4 2.3h0m3-2.4h0m6.8-.9h0m.9 1.7h0m1.1-3.3h0m7.1 2.5h0m3.7 2.2h0m0-4.8h0m.3 2h0m.2 1.9h0m.9-3.8h0m.8-.4h0m4.5.1h0m3.2.2h0m1.1 1.8h0m1.4 2.1h0m7.6-2.1h0m0 2h0m0-2h0m.7-1.6h0m3.2 1.3h0m1.1.7h0m4.5 2.8h0m.3-4.6h0m.1.9h0m7-.6h0m.9 3.5h0m-63.5 5.4h0m11.7.8h0m3.9.8h0m2.1-.1h0m3.7-5.3h0m3.5 3.1h0m.9-1.3h0m1.9 2.1h0m3-2.6h0m1 1h0m.2.7h0m.2-3.2h0m9.5 2.5h0m2.8-2.7h0m8 1.2h0m1.5 1h0m3.2 1.4h0m7.6-2.9h0m.9-.4h0m-64.5 10h0m6.4-1.4h0m6.9-2.5h0m1.1 2.6h0m1.3 2.7h0m.3-2.7h0m16-2.4h0m.8 3.9h0m13.1-3.9h0m2.3.8h0m2 1.1h0m.6-.2h0m-58 4h0m.2 4.4h0m3.3-3.3h0m.3.5h0m9.2-1h0m17.3 2.6h0m41.1-3.4h0m-63.5 7.7h0m16 2.8h0m10.2-.6h0m8.6-.9h0m16.8 3.5h0" stroke="#141414" stroke-width="2.0" stroke-linecap="round" fill="none"/><path d="M1736.3 975.4L1815.5 975.4" stroke="#222" stroke-width="1.6" fill="none"/><path d="M1889.3 975.9l-.7-2.5-1.9-2.5-2.9-2.5-3.3-2.5-3.3-2.5-2.9-2.5-2.3-2.5-1.6-2.5-1-2.5-.5-2.6.1-2.5.4-2.5.7-2.5 1-2.5 1.4-2.5 1.7-2.5 2.1-2.5 2.4-2.5 2.8-2.5 3.1-2.5 3.3-2.5 3.5-2.5 3.5-2.5 3.5-2.5 3.2-2.5 2.9-2.5 2.3-2.5 1.7-2.5 1-2.5.2-2.5-.3-2.6-.8-2.5-1.1-2.5-1.5-2.5-1.9-2.5-2-2.5-2.4-2.5-2.4-2.5-2.6-2.5-2.6-2.5-2.6-2.5-2.5-2.5-2.4-2.5-2.3-2.5-2.1-2.5-2-2.5-1.7-2.5-1.6-2.5-1.4-2.5-1.2-2.6-1-2.5-.9-2.5-7.2 0-.9 2.5-1 2.5-1.2 2.6-1.4 2.5-1.6 2.5-1.7 2.5-2 2.5-2.1 2.5-2.3 2.5-2.4 2.5-2.5 2.5-2.6 2.5-2.6 2.5-2.6 2.5-2.4 2.5-2.4 2.5-2 2.5-1.9 2.5-1.5 2.5-1.1 2.5-.8 2.5-.3 2.6.2 2.5 1 2.5 1.7 2.5 2.3 2.5 2.9 2.5 3.2 2.5 3.5 2.5 3.5 2.5 3.5 2.5 3.3 2.5 3.1 2.5 2.8 2.5 2.4 2.5 2.1 2.5 1.7 2.5 1.4 2.5 1 2.5.7 2.5.4 2.5.1 2.5-.5 2.6-1 2.5-1.6 2.5-2.3 2.5-2.9 2.5-3.3 2.5-3.3 2.5-2.9 2.5-1.9 2.5-.7 2.5z" fill="#E8212A" stroke="#1d1d2b" stroke-width="0.8"/><path d="M1838 846.2h0m32.2 1.5h0m38 .4h0m-80.2 5.1h0m6.9-3.9h0m8.4 1.1h0m14.7 2.7h0m11.8-.4h0m.1-2.9h0m.5 2.5h0m13.4-2.8h0m4.4 2.9h0m19.3 1h0m-82 7.4h0m11.2-2.5h0m3-1.7h0m4.8.9h0m.6.5h0m14.8-2.9h0m9.5.1h0m2.6 4.8h0m3.9-.7h0m4.4-4.1h0m6 .6h0m1.1 4.3h0m.5-.4h0m.9-4.2h0m4.6 3.4h0m1.8-1.9h0m.5-.3h0m1.1 1.5h0m3.4 1.8h0m1.9.7h0m-75.7 5.9h0m9.6-2.8h0m.2 1.2h0m.7 1.8h0m3.3-4.9h0m3.5 2.1h0m3.1-1.5h0m7.7 1.8h0m2.9-.7h0m5.2.7h0m3.8-1.2h0m.7 2.6h0m2.1.1h0m.2-.1h0m1.8-3.5h0m2.5 1.4h0m.8-.3h0m3.3-.1h0m.8.6h0m5 2.7h0m7.5-5.2h0m4.7.3h0m.5 0h0m.1 5.1h0m10.9-4.6h0m-81.5 8.6h0m11.4-2.5h0m.7-1h0m1.8 4.6h0m5.7-4.3h0m3.6.6h0m1.3 1h0m1 0h0m1.8 1.2h0m.8 1h0m.7 1.5h0m.9-2.1h0m.6-1.8h0m.4 1.7h0m1.9 2.3h0m6.5-5.2h0m1.4.5h0m5.5.2h0m4.2.9h0m.5 1.6h0m1.7-1.9h0m1.5 1.3h0m.5-3h0m4.3 1.3h0m4.1 1.7h0m3.1-1.4h0m3.6 2.9h0m3.8-.6h0m4.6 1.4h0m-78.6 2.2h0m.2-.8h0m.5 2.5h0m.6.1h0m5.2-.9h0m.6-1.3h0m5.2-.4h0m1.1 3.7h0m3.9-2.6h0m.7.4h0m1.6-1h0m.8.7h0m1.7 3.4h0m1.2-4.5h0m.3-.9h0m5.8 3h0m1.9-2.3h0m.7.2h0m2.6-.1h0m.4.1h0m5.9 2.2h0m1.1 1.8h0m1.3-3.7h0m1.2.5h0m.7 3.9h0m1.8-3.6h0m7 2.9h0m.4-1.7h0m1.2 1.4h0m3.2-2.7h0m.3 1.2h0m.3-2.2h0m4 1.2h0m3.4-.1h0m2.9-.6h0m3.7.8h0m.2.5h0m4.8-.8h0m2.8-1.6h0m1.1 3.5h0m1.1-.3h0m-81.9 7h0m7.5-.7h0m4.6-3h0m1.9 3.8h0m.2-3.3h0m2.1 4.2h0m6.2-.7h0m.3-3.8h0m2.1.2h0m2.1 4.2h0m1.9-.2h0m1.8-1.3h0m1.1-1.9h0m6-1.6h0m.1.3h0m1.1 0h0m4.1 2.7h0m.9 1.9h0m2.8-2.2h0m0-2.9h0m3.9 1.4h0m.3 3.2h0m3.3-4.9h0m.3.8h0m2.3 3.6h0m1.1-.9h0m3.1-2.4h0m.7 2.7h0m.9 2h0m.9-5.5h0m1.7 1.2h0m.5 2h0m1.8 2h0m3.2-4.9h0m2 3.3h0m3.3-.3h0m1-2.6h0m.1 1.2h0m1.9 2.3h0m1.4-3.6h0m-81.4 5.6h0m1.2 5.2h0m2.2-3.1h0m1.1 2.6h0m1-4h0m.8 4.7h0m.6-4.6h0m.3 3.1h0m.2-2.7h0m1.5 0h0m1.4 2h0m7.8-3h0m.1.8h0m.3.8h0m2.4-1h0m2.9 1.6h0m.6 1.3h0m.4 1.3h0m1.2-1.4h0m1.6-3.7h0m.1 2.5h0m1.6 2.9h0m2.3-2.9h0m.9-2.8h0m.1.2h0m.4 3.7h0m5.4-2.9h0m1.4 1.6h0m.4.6h0m3-2.2h0m.3 2.9h0m.2.1h0m.6-3.6h0m.5 2h0m.5-2.5h0m.4 1.7h0m.9 3.1h0m.2.2h0m3.3-4.9h0m.6 3.2h0m2.3 1.6h0m.4-.1h0m.2-1.9h0m3.9.3h0m.2 1.5h0m.4.4h0m1.7-2.8h0m1.4-1.5h0m2.4-.3h0m.2-.1h0m2.7 3.1h0m1.8-1h0m3.9-.3h0m1.5 2.5h0m.6-2.3h0m4.1 2.2h0m-78.8 5.1h0m4.4 2.1h0m.6-.1h0m1-5.3h0m3.2 1.5h0m.6-.5h0m4.7 3h0m.9-2.6h0m3.6 2.8h0m1.6 1.2h0m.6-.2h0m.5-4.4h0m1.4-1h0m.7 2.4h0m4.7-2.6h0m.7 5.1h0m1-3.3h0m.7 1.3h0m2.2-1.9h0m6.4 2.1h0m1.7 2.4h0m.6-1.4h0m1.3-1h0m.6-2.9h0m.2 2.5h0m1.3 1.2h0m2.7-2.6h0m1 4h0m5.5.3h0m.1-3.7h0m1.6-.3h0m0 2.4h0m.8-1.8h0m1.2 3.1h0m4.6-1.3h0m.6-.3h0m1.8 1h0m.3-4.5h0m1.2 3.3h0m1.5.1h0m.6-2h0m1 1.4h0m3.5-1.3h0m.1-.1h0m2.6-.2h0m3.1 2.2h0m2.2-2.7h0m.8-.2h0m1.4 4.8h0m.1-.2h0m0-4.6h0m-81.2 8.5h0m1.5-1.5h0m.6.6h0m2.7-.6h0m3.2 3.5h0m.1-3.6h0m.7.5h0m.7 2.1h0m.5-3.6h0m2.1 2.5h0m3.1 1h0m0-2.6h0m.2-.3h0m2-.8h0m.8 2.3h0m1.1 1h0m2.4-3.8h0m.6 5.4h0m1.3-.7h0m.5 0h0m.9-1h0m2.7.5h0m.8-4.2h0m0 5.3h0m.4-3.9h0m2.2.2h0m.2-1.3h0m.1 3.6h0m.2-.9h0m1.6-.3h0m2.2 1.5h0m.6 1.3h0m.5-3.2h0m.8 2.1h0m1.4-2.4h0m.6 1.4h0m1.3 1.5h0m.1.3h0m1.1-1.9h0m1.9-3.3h0m1.2-.2h0m.4 5.6h0m3.3-.2h0m1.7-5h0m.7 2.9h0m1.2 1.6h0m.4-1.2h0m2.4-1.8h0m.9 2.6h0m.9-.2h0m1.8-3.5h0m.9-.4h0m1 4.8h0m.2.7h0m.8-2.1h0m1.4-2.6h0m1.5 4.1h0m0-2.8h0m2.2 2.3h0m1.7.5h0m3.3-.2h0m.2 0h0m.1-2.8h0m.5 1.7h0m1.5-.8h0m3.3.2h0m1.9 2.3h0m.4-1.4h0m1.3-3h0m-82.5 5.6h0m1.9.5h0m2.1 3.6h0m4.2-3.5h0m.7.6h0m.8-1.3h0m1.6 1.7h0m.2-1.1h0m1.9 4.3h0m1.8-4.7h0m.9 4.5h0m2.1.1h0m.2-4.2h0m.6 2.4h0m1.2-.5h0m.1 1.7h0m1.2-1.8h0m.1-1.8h0m2.7 3.6h0m2.7-2.2h0m3.6 1.5h0m0-3h0m2.2-.8h0m.8 4.5h0m.2-2.7h0m2 .8h0m.6-.3h0m0-1.6h0m1.2 4h0m1-1h0m.5.1h0m.2-2.8h0m1 3h0m2.1-1.8h0m.8 2.4h0m1.2-4.1h0m.1 3h0m3.6-.6h0m.2-1.2h0m1.6-.6h0m.6 1.3h0m4.2 1h0m1.5-2.1h0m2.1 2.3h0m.1-3.7h0m.2 4h0m.3 1.1h0m.6-.8h0m2.2-3h0m5.5-.2h0m.5 3h0m1.2-.6h0m.6-.8h0m0 0h0m1.5-2h0m.5 4.6h0m.9-2h0m.6.4h0m.5-2.8h0m.8.9h0m.4-.8h0m1.2 4.1h0m2.3-3.3h0m2.3-.2h0m.5-.2h0m.5 3.7h0m-82 3.6h0m0-.2h0m.1-.4h0m5.4-.8h0m1-.1h0m3.7.6h0m.4-.6h0m1-.3h0m1.5 4.6h0m.9-5.6h0m.7 1.9h0m.5-.9h0m1.4-1.1h0m.1 1.7h0m.8 3.6h0m1.4-1.6h0m.4.4h0m1.2-3.9h0m2.2 4.9h0m.2-1.3h0m2.9 1.6h0m3.9.1h0m3.9-.2h0m.6-2.3h0m2.9-2.8h0m.4 1.7h0m.4 3.5h0m.5-1.1h0m.9.3h0m.1-1.4h0m2.6-1.3h0m1.9 3.7h0m.3-1.5h0m.9-1h0m.8 2.4h0m.1-3.2h0m.5.3h0m.1 3.2h0m0-.9h0m.2-.7h0m2.1-1.2h0m2.6-1.8h0m.3 3.4h0m3-4.5h0m.1.7h0m.8 3.6h0m4.3-2.7h0m.4-1h0m.8 2.2h0m2.4-2.7h0m.8 2h0m.9-1.5h0m.8 2.1h0m.4 2.5h0m6.6.2h0m.8-3.9h0m4.1-1.2h0m.2 1.3h0m.5.8h0m.1-.4h0m0 .6h0m3.2 2h0m.3-2.2h0m-81.5 5.5h0m.3-1.8h0m.5 4h0m1.3 1h0m1.7-5h0m.1 2.7h0m.4 2.4h0m.1-.4h0m1.5-3.1h0m1.2 1.7h0m2.4.5h0m2.6.1h0m.1-3.6h0m2.8 0h0m2 .7h0m.2 4.4h0m.9-3.3h0m.1 2.5h0m.1-.7h0m.9-3.4h0m2.6 2h0m.6.2h0m1.1 1.9h0m1.7-4.3h0m2.3 3.8h0m1.9.9h0m.3-.8h0m1.9-.6h0m.5.2h0m.1-3.9h0m0 1.7h0m1.3-.2h0m1 1.3h0m3.1-1.4h0m.7 1.5h0m2.3-3.1h0m2.9 4.1h0m.7-3.7h0m.7-.2h0m.9.9h0m.8-.1h0m.7 3h0m.5 1.5h0m.4.2h0m.2-3.6h0m.2.8h0m.6 2.9h0m.4-3.1h0m.1-2.4h0m7.5-.3h0m.1 4.7h0m3.2-2.4h0m1.3 2.6h0m1.7.7h0m1.6-2.9h0m1-2.6h0m0 3.3h0m.2-.9h0m3.3 2.8h0m3.9-3.1h0m1.5-2h0m.2-.2h0m.7 1.2h0m1 2.3h0m-77.4 2.4h0m2.9 2h0m.1 1.5h0m1.8 0h0m1.1-3h0m1.8 2.9h0m.4 1.4h0m1.9-.1h0m6-2.7h0m2.3-.3h0m1.4 1.1h0m.3 2.8h0m3.5-4.2h0m.6.6h0m5.5-.9h0m8.7.2h0m4.4-.9h0m3.7.3h0m.7 3.8h0m1.7-.7h0m4.8-2.7h0m.1.5h0m1.7-.8h0m2.2 4.9h0m.7-4.2h0m.1-.4h0m.3-.5h0m2.2 2h0m6.9-2h0m6.6 2.4h0m0 .7h0m4.9.3h0m2.9 1.3h0m-81.2 2.1h0m.1-.6h0m3.1 1.3h0m8.2 3.6h0m.5-3.6h0m2.2-1.3h0m5 5h0m1.1-3.3h0m2.8-1h0m1.7-.4h0m6.8-.4h0m14.4 4.7h0m3.3-4.7h0m5.5 4.6h0m2-5h0m14.1 2h0m2.2 2.3h0m3.3-.4h0m.2-2.2h0m-75.9 4.9h0m6.8 2.8h0m1.2.6h0m5.1-1.4h0m4-.6h0m5.1 1.8h0m1.3-2.5h0m10.3 3.5h0m4.3-2.1h0m2.2-2.6h0m.9-.4h0m13.4 3.5h0m.9-.5h0m2.7 2.6h0m15.6-.5h0m1.7.3h0m4.6-5.1h0m-77.6 9.2h0m9.8.6h0m4.1-.2h0m2.9-3h0m8.2 4.1h0m1.1-2.2h0m2.6-.8h0m4-1.3h0m1.6.2h0m4.7 1.5h0m10.4.3h0m15.7 1.8h0m13.7-1h0m-80.1 5.4h0m1.3-1.6h0m.3-.9h0m16.2.6h0m20.2.1h0m10.7.8h0m.6 2.2h0m3.6-1.1h0m5.6 2.6h0m6-5.5h0m.2 4.1h0m3.5-3.4h0m1.8 1.7h0m8.6-2.2h0m.9 4h0m-52.1 7.1h0m18-2.4h0m4.7.2h0m6.1 1.8h0m3.8-.6h0m7.2-3.5h0m-21.3 5.6h0" stroke="#141414" stroke-width="2.0" stroke-linecap="round" fill="none"/><path d="M1824.8 975.4L1908.8 975.4" stroke="#222" stroke-width="1.6" fill="none"/><path d="M1722.5 837.5L1722.5 984.1" stroke="#000" stroke-width="1.4" fill="none"/><path d="M1721.8 983.4L1922.7 983.4" stroke="#000" stroke-width="1.4" fill="none"/><path d="M1465.7 1169.7L1469.7 1169.7" stroke="#222" stroke-width="1" fill="none"/><text x="1464.5" y="1176.6" font-size="19.3" text-anchor="end">0</text><path d="M1465.7 1142.7L1469.7 1142.7" stroke="#222" stroke-width="1" fill="none"/><text x="1464.5" y="1149.6" font-size="19.3" text-anchor="end">1</text><path d="M1465.7 1115.7L1469.7 1115.7" stroke="#222" stroke-width="1" fill="none"/><text x="1464.5" y="1122.6" font-size="19.3" text-anchor="end">2</text><path d="M1465.7 1088.7L1469.7 1088.7" stroke="#222" stroke-width="1" fill="none"/><text x="1464.5" y="1095.6" font-size="19.3" text-anchor="end">3</text><path d="M1465.7 1061.7L1469.7 1061.7" stroke="#222" stroke-width="1" fill="none"/><text x="1464.5" y="1068.6" font-size="19.3" text-anchor="end">4</text><path d="M1465.7 1034.7L1469.7 1034.7" stroke="#222" stroke-width="1" fill="none"/><text x="1464.5" y="1041.6" font-size="19.3" text-anchor="end">5</text><text x="1581.9" y="1019.9" font-size="22.2" text-anchor="middle">Ifng****</text><text x="1444" y="1106.4" font-size="18.7" text-anchor="middle" transform="rotate(-90 1444 1106.4)">Expression Level</text><path d="M1524 1169.4L1524 1165.7L1550.8 1168.5L1567.4 1169.4Z" fill="#1A62EE"/><path d="M1484.6 1169.1L1567.4 1169.1" stroke="#1b1b2a" stroke-width="2.0" fill="none"/><path d="M1524 1169.7L1524 1034.7" stroke="#1b1b2a" stroke-width="1.1" fill="none"/><path d="M1496.4 1044.2h0m38.5 8h0m27.3-2.8h0m-15.9 9.1h0m17.2-2h0m-54.1 8.2h0m-20.7 4h0m22-1.8h0m11.8 2.2h0m-29.1 7.8h0m16.7-4.9h0m40.9-.3h0m13.1 2.1h0m-67.6 7.9h0m63.5.4h0m-56 4.8h0m9.1-3.2h0m3.6 7.1h0m7.4-.3h0m19.3 1.3h0m-13.2 4.5h0m-6.4 9.4h0m1.4 1.3h0m-29.5.6h0m58 1.2h0m-24.9 7.1h0m28.7.4h0m1.4 1.8h0m-50.7 9.8h0m.9-1.2h0m-21.2 5.4h0m22.7 2.2h0m7.1 7.7h0m-11.7 5.1h0m6 1.8h0m27.8-4.4h0m10.8 3.4h0m-55.1 8.8h0m45.9 2.1h0m9.5.9h0" stroke="#141414" stroke-width="2.0" stroke-linecap="round" fill="none"/><path d="M1523.5 1079.1L1528 1079.1" stroke="#222" stroke-width="1.0" fill="none"/><path d="M1523.5 1043.7L1528 1043.7" stroke="#222" stroke-width="1.0" fill="none"/><path d="M1523.5 1041.8L1528 1041.8" stroke="#222" stroke-width="1.0" fill="none"/><path d="M1523.5 1121.7L1528 1121.7" stroke="#222" stroke-width="1.0" fill="none"/><path d="M1523.5 1132L1528 1132" stroke="#222" stroke-width="1.0" fill="none"/><path d="M1523.5 1062.3L1528 1062.3" stroke="#222" stroke-width="1.0" fill="none"/><path d="M1523.5 1150.1L1528 1150.1" stroke="#222" stroke-width="1.0" fill="none"/><path d="M1523.5 1138.1L1528 1138.1" stroke="#222" stroke-width="1.0" fill="none"/><path d="M1523.5 1098.1L1528 1098.1" stroke="#222" stroke-width="1.0" fill="none"/><path d="M1523.5 1118.1L1528 1118.1" stroke="#222" stroke-width="1.0" fill="none"/><path d="M1523.5 1161.8L1528 1161.8" stroke="#222" stroke-width="1.0" fill="none"/><path d="M1523.5 1043.2L1528 1043.2" stroke="#222" stroke-width="1.0" fill="none"/><path d="M1523.5 1037.5L1528 1037.5" stroke="#222" stroke-width="1.0" fill="none"/><path d="M1523.5 1154L1528 1154" stroke="#222" stroke-width="1.0" fill="none"/><path d="M1523.5 1155.6L1528 1155.6" stroke="#222" stroke-width="1.0" fill="none"/><path d="M1523.5 1160.7L1528 1160.7" stroke="#222" stroke-width="1.0" fill="none"/><path d="M1523.5 1037.6L1528 1037.6" stroke="#222" stroke-width="1.0" fill="none"/><path d="M1523.5 1124.4L1528 1124.4" stroke="#222" stroke-width="1.0" fill="none"/><path d="M1523.5 1062.5L1528 1062.5" stroke="#222" stroke-width="1.0" fill="none"/><path d="M1523.5 1082.2L1528 1082.2" stroke="#222" stroke-width="1.0" fill="none"/><path d="M1523.5 1059.2L1528 1059.2" stroke="#222" stroke-width="1.0" fill="none"/><path d="M1523.5 1072.3L1528 1072.3" stroke="#222" stroke-width="1.0" fill="none"/><path d="M1523.5 1049.1L1528 1049.1" stroke="#222" stroke-width="1.0" fill="none"/><path d="M1523.5 1138.1L1528 1138.1" stroke="#222" stroke-width="1.0" fill="none"/><path d="M1523.5 1140.9L1528 1140.9" stroke="#222" stroke-width="1.0" fill="none"/><path d="M1523.5 1112.1L1528 1112.1" stroke="#222" stroke-width="1.0" fill="none"/><path d="M1523.5 1078L1528 1078" stroke="#222" stroke-width="1.0" fill="none"/><path d="M1523.5 1083.2L1528 1083.2" stroke="#222" stroke-width="1.0" fill="none"/><path d="M1523.5 1095.4L1528 1095.4" stroke="#222" stroke-width="1.0" fill="none"/><path d="M1523.5 1067.2L1528 1067.2" stroke="#222" stroke-width="1.0" fill="none"/><path d="M1654.5 1167.5l-4.6-2.5-6.7-2.5-7.1-2.6-6.3-2.5-4.6-2.5-3-2.6-1.4-2.5-.3-2.5.5-2.5 1-2.6 1.5-2.5 1.7-2.5 1.8-2.6 1.6-2.5 1.1-2.5.5-2.6 0-2.5-.1-2.5-.2-2.6-.2-2.5-.3-2.5-.3-2.6-.4-2.5-.5-2.5-.5-2.6-.5-2.5-.5-2.5-.6-2.6-.6-2.5-.5-2.5-.6-2.6-.5-2.5-.5-2.5-.6-2.5-.4-2.6-.5-2.5-.4-2.5-.4-2.6-.4-2.5-.3-2.5-.3-2.6-.3-2.5-.2-2.5-.2-2.6-.2-2.5-2 0-.2 2.5-.2 2.6-.2 2.5-.3 2.5-.3 2.6-.3 2.5-.4 2.5-.4 2.6-.4 2.5-.5 2.5-.4 2.6-.6 2.5-.5 2.5-.5 2.5-.6 2.6-.5 2.5-.6 2.5-.6 2.6-.5 2.5-.5 2.5-.5 2.6-.5 2.5-.4 2.5-.3 2.6-.3 2.5-.2 2.5-.2 2.6-.1 2.5 0 2.5.5 2.6 1.1 2.5 1.6 2.5 1.8 2.6 1.7 2.5 1.5 2.5 1 2.6.5 2.5-.3 2.5-1.4 2.5-3 2.6-4.6 2.5-6.3 2.5-7.1 2.6-6.7 2.5-4.6 2.5z" fill="#E8212A" stroke="#1d1d2b" stroke-width="0.8"/><path d="M1621.7 1058.5h0m-32.2 3h0m15.9-2.4h0m.4 4.1h0m25.5-1.7h0m3.2.4h0m13-2.5h0m1.4 4.8h0m-45 4.6h0m1.5 1.4h0m.7 0h0m17.5-5.2h0m3.1 5.8h0m13.9-2.6h0m1.8-2h0m5.3-.9h0m.1.8h0m4.8-.9h0m-61.4 11.2h0m4-1.3h0m1.6 0h0m30.8-3h0m3-1h0m.4 1.6h0m1 4h0m5.4.1h0m3.6-1.2h0m11.7-1.4h0m-69.5 4.5h0m8.9 2.9h0m2.6-3.5h0m1.6-.8h0m1.6-.2h0m20 4.8h0m2 .8h0m2.1-.4h0m15.1-3.7h0m2.4 1.3h0m7.3-.6h0m1.7 1.2h0m-63.2 6h0m5.3-3.4h0m3.1.8h0m4.5 3.3h0m5-4h0m3.7 2.5h0m.2.7h0m7.9-1.8h0m1.7 4.1h0m5.7-2.9h0m1.6 1.3h0m4.4-3h0m1.9 4h0m.6-2.4h0m15.3-2.1h0m-61.4 6.3h0m2.4 3.5h0m5.8-3.6h0m1.4 4.3h0m.1-1h0m4.9-.3h0m3.8.9h0m.9 1h0m13.2-3.3h0m.1 2.5h0m7.3-1.2h0m1-.4h0m11-3h0m9.3 2.3h0m6.1 2.7h0m.5-3.4h0m-70.1 7.3h0m2.3-1.7h0m3 1.1h0m.2-.4h0m6.7 0h0m.2 2.8h0m1.7-2.6h0m1.2.9h0m11.7.2h0m4.8-1.1h0m.1-2.1h0m14.1 3.2h0m6.6-2.4h0m4.4 1.6h0m3.5 2.7h0m2.1-2.6h0m.3-1.5h0m5.7-.6h0m1.9 2.1h0m-64.7 3.2h0m.2 3.7h0m3.4-3.5h0m1.9.9h0m2.7 3.9h0m4.2-5h0m.9.7h0m.8 2.8h0m5.3 2.3h0m.1-3.8h0m1.2-1.3h0m.6 4.8h0m7.5.2h0m.9-.6h0m8.8-3.6h0m4.3 2.3h0m.2-2.5h0m1.6.1h0m2.5-.3h0m3.8 3.1h0m.1.2h0m.7.8h0m.1-5.1h0m-53.7 6.4h0m4.9 4.9h0m2.4 0h0m1.6-.5h0m.4-2.3h0m1.6 1.6h0m2.2-.7h0m.7 0h0m2.8-3.3h0m5.6 4.7h0m1.3-.7h0m4.3 1.7h0m8-4.6h0m1.8 0h0m1.5-.8h0m2.2 5.2h0m3.8-.3h0m3.1-4.9h0m3.7 4.8h0m1-.8h0m1.9-2.9h0m.2 3.3h0m1.2-.9h0m1.6.3h0m1.8-1.7h0m2.1.8h0m2 1.2h0m1.7-2.3h0m1.6.5h0m.1 2.4h0m-65.6 3.7h0m.8-.4h0m3.5 1.6h0m3-3.3h0m2.6 1h0m6.5 2.4h0m7.4-3.4h0m4.7 3.6h0m.7-3.5h0m4.6 2h0m2.7 2.8h0m1.7.1h0m5.9-.3h0m.3-2.2h0m1.9-2.8h0m.4 2.9h0m1 1.6h0m10.5-2h0m2.2 1.3h0m1.4-1.8h0m4.1 1.5h0m-65.7 2.6h0m4.8 2h0m7.7-2.3h0m2.1-.2h0m0 1.3h0m.2-1h0m.1 4.5h0m2-1.7h0m21.1-.6h0m1.3-2.3h0m.9 2.6h0m.1 3h0m2.9-.3h0m5.4-1.4h0m1.1-2h0m.9.2h0m1.2 1.3h0m.3-2.2h0m2.5-.6h0m3.7 3.8h0m4.8-4.5h0m.9 1.6h0m-67.5 10.2h0m1.2-3.1h0m.2 3.1h0m.3-3.5h0m3.6-.3h0m3.6 1.5h0m1 1.8h0m.5-.9h0m.3-2.8h0m1.6.8h0m1.9.1h0m.6-1.7h0m.1.8h0m.5 3.7h0m1.6-2.4h0m.7-.8h0m1.4 1.5h0m1.7 1.4h0m.6-.3h0m.3-2.2h0m.1 2.8h0m1.8-2.1h0m2.4-1h0m2 3.3h0m1.1-1.1h0m.2-.8h0m.5-1.9h0m.2-.1h0m3.1 2.9h0m.8.5h0m.5.1h0m.9.4h0m2.9-.9h0m.1-.8h0m1.7-2.4h0m1.1 3.5h0m1 .6h0m.5-3.3h0m.1.3h0m.5 2.1h0m1 .9h0m4.3-1.4h0m.1-.9h0m.5 2.6h0m.2-.2h0m1.2-2.7h0m2 .9h0m.1-2.1h0m1.5 2.3h0m1.3-1.2h0m.8 1h0m3.4.2h0m1.1-.4h0m.4-1.3h0m1.4.4h0m.3.9h0m.5.1h0m.7 1.3h0m0-2.7h0m.4 1.4h0m2-3.5h0m1.8 5.5h0m.1-.4h0m-68.9.6h0m1.6 4.5h0m.4-4h0m.6 2.1h0m.1-.9h0m.7 4h0m.9-5.5h0m.1 1.1h0m.2.6h0m0 2h0m.6-.2h0m.6 1.8h0m.3-4.1h0m.1.4h0m1.3-.9h0m.4 3.8h0m0 .1h0m1.2-3.2h0m.4 1.7h0m3.2 1.9h0m0-2.5h0m.7.7h0m.3 2.3h0m.7-4.2h0m.4 2.2h0m1-1.4h0m.3.7h0m.2-.2h0m.9-.5h0m.4 2.2h0m.7-1.7h0m.2-.5h0m.3 3.1h0m1.9-4.3h0m1.9 3.9h0m.5.8h0m1.3-.3h0m.9-2.9h0m.7-1.8h0m.1 3.3h0m1.8-4h0m1.2 0h0m.3 2.1h0m.5-.7h0m5.4 1.2h0m4.9.9h0m.7.5h0m.6-3.2h0m.6-.4h0m.1 3.2h0m.2-2.1h0m2 1.6h0m1.1-.8h0m.2 3.4h0m2.5-4.8h0m.2-.6h0m.4.1h0m1.2 4.8h0m.4-1.8h0m2.5-3.1h0m6 1.6h0m.2-1.1h0m2.1 2.3h0m3.7 1.6h0m2.6 0h0m.3.4h0m.8-2.9h0m.1 1.5h0m.7.1h0m.2.1h0m-68.3 2.2h0m3.5-.2h0m1.8-.1h0m2.6.3h0m1.8.8h0m.4 4.1h0m1.9.5h0m3.6-2h0m.1-3.6h0m1.6 2.6h0m.3-.3h0m1.2-1.2h0m5.3 1.2h0m.2 2.3h0m1.7-3.1h0m.7-.4h0m2.6-.8h0m1 3h0m.1-3.3h0m3.7 1.9h0m.9.9h0m1.2-1.9h0m4 1.5h0m.5 2.9h0m1.4-3.9h0m1.1-.2h0m.1-.5h0m.2.9h0m.1 0h0m.1 0h0m.9-1.5h0m2.5 1.6h0m1.6 4.2h0m.4-2.2h0m.9 1.4h0m.1-1.5h0m.1-.4h0m3.4 2.3h0m.6-1.6h0m1.1-2.5h0m.8-.3h0m1-.2h0m2.4 4.2h0m1.6-3.8h0m3.1-1.3h0m.4 2.6h0m1.1-1.1h0m.5-.5h0m1.2 4.4h0m-66.4 5.9h0m2.1-4.7h0m1.4 2.4h0m8.9-1.7h0m2.3 1.4h0m.7 2.4h0m.5-4.8h0m1.3 1.1h0m.5.3h0m1.1 1.7h0m.8-.3h0m.4 1.6h0m2.7-4h0m1.8.8h0m1-1.2h0m4.3 2.1h0m4.1-2.4h0m1.1 5.3h0m1.7-4h0m6.6 1.9h0m4.6-3.2h0m1.8 1h0m2.4 1.6h0m5-2h0m3 3h0m-56.4 8.3h0m11.8-.7h0m.3-5.3h0m6.1 0h0m3.9 5h0m11.9-.7h0m4.1-2.7h0m4.4 3.1h0m2.6-4.7h0m7 2.5h0m-57.8 8.1h0m8.6-1h0m15.1-2.3h0m31.7.6h0m-54.6 5.2h0" stroke="#141414" stroke-width="2.0" stroke-linecap="round" fill="none"/><path d="M1581 1169.2L1655 1169.2" stroke="#222" stroke-width="1.8" fill="none"/><path d="M1469.7 1029.8L1469.7 1176.2" stroke="#000" stroke-width="1.4" fill="none"/><path d="M1469 1175.5L1672.5 1175.5" stroke="#000" stroke-width="1.4" fill="none"/><path d="M1710.7 1166.8L1714.7 1166.8" stroke="#222" stroke-width="1" fill="none"/><text x="1709.5" y="1173.7" font-size="19.3" text-anchor="end">0</text><path d="M1710.7 1140.3L1714.7 1140.3" stroke="#222" stroke-width="1" fill="none"/><text x="1709.5" y="1147.2" font-size="19.3" text-anchor="end">1</text><path d="M1710.7 1113.8L1714.7 1113.8" stroke="#222" stroke-width="1" fill="none"/><text x="1709.5" y="1120.7" font-size="19.3" text-anchor="end">2</text><path d="M1710.7 1087.3L1714.7 1087.3" stroke="#222" stroke-width="1" fill="none"/><text x="1709.5" y="1094.2" font-size="19.3" text-anchor="end">3</text><path d="M1710.7 1060.8L1714.7 1060.8" stroke="#222" stroke-width="1" fill="none"/><text x="1709.5" y="1067.7" font-size="19.3" text-anchor="end">4</text><path d="M1710.7 1034.3L1714.7 1034.3" stroke="#222" stroke-width="1" fill="none"/><text x="1709.5" y="1041.2" font-size="19.3" text-anchor="end">5</text><text x="1827.6" y="1018.3" font-size="22.2" text-anchor="middle">Tnf****</text><text x="1692.3" y="1099.7" font-size="18.7" text-anchor="middle" transform="rotate(-90 1692.3 1099.7)">Expression Level</text><path d="M1772.6 1166.5L1772.6 1162.8L1798 1165.6L1815 1166.5Z" fill="#1A62EE"/><path d="M1730 1166.2L1815 1166.2" stroke="#1b1b2a" stroke-width="2.0" fill="none"/><path d="M1772.6 1166.8L1772.6 1079.3" stroke="#1b1b2a" stroke-width="1.1" fill="none"/><path d="M1733.6 1084.7h0m52 3.8h0m13.5-.5h0m-64.7 1.3h0m31.1 2.5h0m13.7-2.5h0m-40.1 15.3h0m16.6-1.1h0m.8.9h0m7.3 1.9h0m22-2.4h0m-37.9 8.2h0m52.6-3.7h0m.4 1.2h0m1.7-.8h0m5.2-1h0m-74 6.1h0m1.4 3.7h0m62.2-1.5h0m3.9 2.8h0m-54.3 3.9h0m17.3-3.2h0m-26.8 9.2h0m15.5 1.6h0m.7-.5h0m27.8-3.9h0m9.9 3.1h0m7.6 1.2h0m-66.7 3h0m.8 2.4h0m26.6-2.4h0m2.6-1.2h0m17.2-.7h0m.9 10.2h0m21.7-1.4h0m-52.9 6.7h0m24.7.7h0m36.1-3.9h0m-74.5 9h0m7.7-1.2h0m46.3.5h0m-52.6 3.3h0m46.3 0h0m10.9 1.7h0m17.4.8h0" stroke="#141414" stroke-width="2.0" stroke-linecap="round" fill="none"/><path d="M1772.1 1157.6L1776.6 1157.6" stroke="#222" stroke-width="1.0" fill="none"/><path d="M1772.1 1157.2L1776.6 1157.2" stroke="#222" stroke-width="1.0" fill="none"/><path d="M1772.1 1107.4L1776.6 1107.4" stroke="#222" stroke-width="1.0" fill="none"/><path d="M1772.1 1128.1L1776.6 1128.1" stroke="#222" stroke-width="1.0" fill="none"/><path d="M1772.1 1094.1L1776.6 1094.1" stroke="#222" stroke-width="1.0" fill="none"/><path d="M1772.1 1146.7L1776.6 1146.7" stroke="#222" stroke-width="1.0" fill="none"/><path d="M1909.2 1166.8l-13.1-2.6-19.6-2.5-7.8-2.6-.9-2.6.4-2.6.7-2.5.9-2.6 1-2.6 1.1-2.5 1.2-2.6 1.1-2.6.9-2.6.6-2.5.4-2.6 0-2.6-.1-2.6-.3-2.5-.3-2.6-.4-2.6-.5-2.5-.6-2.6-.6-2.6-.6-2.6-.6-2.5-.6-2.6-.6-2.6-.6-2.5-.6-2.6-.5-2.6-.4-2.6-.4-2.5-.3-2.6-.3-2.6-.3-2.5-2 0-.3 2.5-.3 2.6-.3 2.6-.4 2.5-.4 2.6-.5 2.6-.6 2.6-.6 2.5-.6 2.6-.6 2.6-.6 2.5-.6 2.6-.6 2.6-.6 2.6-.5 2.5-.4 2.6-.3 2.6-.3 2.5-.1 2.6 0 2.6.4 2.6.6 2.5.9 2.6 1.1 2.6 1.2 2.6 1.1 2.5 1 2.6.9 2.6.7 2.5.4 2.6-.9 2.6-7.8 2.6-19.6 2.5-13.1 2.6z" fill="#E8212A" stroke="#1d1d2b" stroke-width="0.8"/><path d="M1834.6 1084.7h0m45.3-1h0m6 1.2h0m18.4 2.3h0m2.5.4h0m-65.1 6.4h0m6.5-.8h0m5.4.5h0m.6.9h0m3.1-.3h0m4-3.1h0m3.9 3.4h0m.8-1.4h0m8.1-1.2h0m4.9 1.8h0m.1.3h0m14.4-2.7h0m3.5 3.2h0m2.5-.6h0m1.1-2.6h0m3.6 1.3h0m1.9-.2h0m-72.8 6.7h0m1.3-.9h0m2.9-1.8h0m9.4.5h0m4.7 3.2h0m1.8-.5h0m0-3.4h0m2.1-1.1h0m2.5 1.7h0m.3.6h0m26.9 2.3h0m9.1-2.5h0m-63.7 5h0m3.8-.9h0m25.8 2.9h0m.8-2.7h0m12.5-.1h0m6.9 4.2h0m11.6-2.8h0m7-.2h0m-67.6 8.9h0m.1-1.1h0m.5 2.1h0m.5-2.3h0m4.6-2.7h0m1 3.8h0m1.2-4.2h0m.3 1.1h0m2.2 3.7h0m7.4-2.1h0m1.3.5h0m0-3.2h0m9.8 3.8h0m4.5-.7h0m1 1.3h0m.5-2.3h0m5.7 2.2h0m3.3-1.6h0m9.6-1.1h0m1.9 0h0m3 .9h0m16.4 0h0m-76.3 6.9h0m1.5 2.1h0m10.7-.8h0m2.4-2.4h0m.4 1.2h0m.3.4h0m10.6-2.7h0m1.6 2.5h0m2.7-1h0m5.4-1.3h0m4.7 3h0m5.5-3.5h0m.1 4.4h0m3.3-1.2h0m1.9-3.6h0m4.9 2.1h0m9.1 2.2h0m.8-2.3h0m7.3-2.1h0m.1 1.3h0m-72.3 9.5h0m9.1-2.4h0m1.2-1.4h0m4 4.2h0m1-5.5h0m.8 3.8h0m5.4.5h0m1.2.1h0m1.6.5h0m15.3-4.9h0m.3.3h0m.4 2.6h0m5 1.4h0m.9 1.3h0m3.5-5.6h0m2.2 5.1h0m4.4-1h0m.8-2.4h0m.3 2.4h0m3.9-1.2h0m1.5-.5h0m0-2.1h0m3.4 2.6h0m.8-2.6h0m1.5.8h0m2.2-.9h0m-72 7.4h0m1.2.1h0m2.2 2.2h0m1.8-.5h0m.2.9h0m7.2 0h0m1.3-2.7h0m3.1-.6h0m2.3.5h0m1.1.3h0m2.7-.6h0m.1 1.9h0m.1 1.3h0m0-.5h0m3.5-1.5h0m10.5-.1h0m1.7 1.3h0m4.4 1.9h0m.6-5.3h0m.9.4h0m.2 2.7h0m.6-1.1h0m1.6 2.3h0m.6-2.1h0m6.4.9h0m.1 2.4h0m5.6-3.2h0m7.3-1.9h0m.4 2.4h0m1.8 2h0m1.1.3h0m2.2-.3h0m.7-4.6h0m.8 1.1h0m1.5 1.7h0m.9 1.8h0m-78.3 2.8h0m.1 3.1h0m.5-2.5h0m.5-2h0m.5-.4h0m1 2.8h0m3-2.3h0m.7 2.6h0m.2.9h0m1.9.9h0m1.8-3.7h0m3.2 1h0m4.4-1.3h0m2.6 2.8h0m1.1 1.5h0m1.7-1.4h0m2.9 1.5h0m.6-4.5h0m6.8 1.1h0m5.2-.9h0m.5 3.6h0m.5-3.5h0m.1 2.3h0m3.2-1.6h0m.1.8h0m1.8-.9h0m1 1.5h0m2.3-.2h0m.8 1.2h0m.2-3.3h0m2.4 2.6h0m1.4-2.9h0m.2-.6h0m1.4 4.3h0m.2.1h0m1-4.6h0m1.7 4.8h0m3.3-.1h0m.8-2.7h0m.3 2.7h0m1.7-1.5h0m1.5 1.6h0m3.5-2.9h0m.5-.6h0m.7 2.3h0m3.2-.8h0m1.6 2.4h0m1.1-1.2h0m2.9 1h0m-80.3 1h0m7 0h0m.3 4.3h0m1.6 0h0m1.1-2.2h0m3.7 3.4h0m2-1h0m1.3-3h0m1.3 2.3h0m2-.2h0m1.5-3.3h0m1.3 3.6h0m.3 1.4h0m1.1 0h0m.1-.8h0m.5.2h0m5.4-1.7h0m1 1.3h0m2.2-.3h0m3.9-1.4h0m11.4 1.1h0m4-2.2h0m.7 1.4h0m2.4.8h0m3.8 1.1h0m1.1.9h0m.3-.8h0m4.5-2h0m3.7-.8h0m4.9 2.8h0m2.4-3.2h0m1.9-1.4h0m.1 2.5h0m-78.7 8.1h0m6-.9h0m2.4.7h0m.1-3.5h0m7.1.3h0m1.5-.4h0m.1.1h0m.3-.7h0m1.5 1h0m5.6-1.1h0m10.1 4.3h0m3.7-1.5h0m2.7-1.6h0m2 .8h0m11.3-1.4h0m0 1.2h0m2.1 1.8h0m9-1.2h0m3.7-.2h0m1.2-2.6h0m4.2 0h0m2.3 3h0m-76.8 6.5h0m5.2-2.7h0m.4 3.1h0m6.5.5h0m.5-1.3h0m7.6.3h0m2 1.5h0m8-4.7h0m2.4 2.9h0m2.6-1.2h0m8.3 1.1h0m.5 2.3h0m6.8-2.1h0m5.8-1.6h0m1.9-.2h0m.1-1.3h0m13-.2h0m2.3 6h0m.3-5.7h0m-71.3 6.1h0m7.8-.1h0m12.1 3.9h0m11.5.2h0m4.9-4.3h0m1.8.4h0m3.5 5.4h0m13.6-2.2h0m3.1.1h0m6.2-2.1h0m7.5-1.6h0m4.1 2.6h0m-71.6 6.9h0m2.5-.9h0m34.8.9h0m12.5-1.4h0m4.4-1.1h0m18.2-1.1h0" stroke="#141414" stroke-width="2.0" stroke-linecap="round" fill="none"/><path d="M1826.1 1166.3L1906.9 1166.3" stroke="#222" stroke-width="1.6" fill="none"/><rect x="1863.8" y="1031.7" width="5.3" height="47.7" fill="#333"/><path d="M1714.7 1021.7L1714.7 1176.2" stroke="#000" stroke-width="1.4" fill="none"/><path d="M1714 1175.5L1922.7 1175.5" stroke="#000" stroke-width="1.4" fill="none"/><text x="1146" y="1249" font-size="28" font-weight="bold">i</text><text x="1377.5" y="1249" font-size="26.8">CD8 T cell activation signature</text><rect x="1691.5" y="1306.3" width="31.1" height="11.4" fill="#1A62EE"/><rect x="1691.5" y="1332.4" width="31.1" height="11.4" fill="#E8212A"/><text x="1730.4" y="1315.1" font-size="24.3">Ctrl groups</text><text x="1730.4" y="1348.8" font-size="24.3">MICB-vax (+dox)</text><text x="1702" y="1386.3" font-size="22.7">****P&lt;0.0001</text><path d="M1178.3 1455.3L1182.3 1455.3" stroke="#222" stroke-width="1" fill="none"/><text x="1177.1" y="1462.2" font-size="19.3" text-anchor="end">0</text><path d="M1178.3 1415.4L1182.3 1415.4" stroke="#222" stroke-width="1" fill="none"/><text x="1177.1" y="1422.3" font-size="19.3" text-anchor="end">1</text><path d="M1178.3 1375.5L1182.3 1375.5" stroke="#222" stroke-width="1" fill="none"/><text x="1177.1" y="1382.4" font-size="19.3" text-anchor="end">2</text><path d="M1178.3 1335.6L1182.3 1335.6" stroke="#222" stroke-width="1" fill="none"/><text x="1177.1" y="1342.5" font-size="19.3" text-anchor="end">3</text><text x="1300.3" y="1295.2" font-size="22.2" text-anchor="middle">Cd28****</text><text x="1158.5" y="1382" font-size="18.7" text-anchor="middle" transform="rotate(-90 1158.5 1382)">Expression Level</text><path d="M1285.2 1455.3l-.6-2.5-1.8-2.5-2.9-2.6-3.6-2.5-4.1-2.5-4.1-2.5-3.8-2.6-3.2-2.5-2.5-2.5-1.6-2.5-.8-2.6-.1-2.5.6-2.5 1.1-2.5 1.4-2.6 1.6-2.5 1.6-2.5 1.4-2.5 1.2-2.6.8-2.5.4-2.5 0-2.5-.2-2.6-.2-2.5-.4-2.5-.5-2.5-.6-2.6-.7-2.5-.7-2.5-.9-2.5-.9-2.6-1-2.5-1-2.5-1-2.5-1.1-2.5-1-2.6-1.1-2.5-1-2.5-1-2.5-1-2.6-1-2.5-.9-2.5-.8-2.5-.8-2.6-.8-2.5-.7-2.5-.6-2.5-.6-2.6-.6-2.5-7.4 0-.6 2.5-.6 2.6-.6 2.5-.7 2.5-.8 2.5-.8 2.6-.8 2.5-.9 2.5-1 2.5-1 2.6-1 2.5-1 2.5-1.1 2.5-1 2.6-1.1 2.5-1 2.5-1 2.5-1 2.5-.9 2.6-.9 2.5-.7 2.5-.7 2.5-.6 2.6-.5 2.5-.4 2.5-.2 2.5-.2 2.6 0 2.5.4 2.5.8 2.5 1.2 2.6 1.4 2.5 1.6 2.5 1.6 2.5 1.4 2.6 1.1 2.5.6 2.5-.1 2.5-.8 2.6-1.6 2.5-2.5 2.5-3.2 2.5-3.8 2.6-4.1 2.5-4.1 2.5-3.6 2.5-2.9 2.6-1.8 2.5-.6 2.5z" fill="#1A62EE" stroke="#1d1d2b" stroke-width="0.8"/><path d="M1202.5 1339.7h0m11.9-2.1h0m.2 2.9h0m40-3.9h0m11.3 2.9h0m-40.2 7h0m16.3-4.9h0m1 1.4h0m4.5 3h0m29.8-2.2h0m-53.4 6.4h0m2.9 2.6h0m5.8-4.2h0m10.9-.9h0m1.6 5.2h0m.4-1.6h0m2.8 1h0m5.8.2h0m5.6-4.4h0m17.9 1.1h0m-76.4 7.7h0m8.2-1.6h0m21.5-2h0m6.9 5.7h0m6-3.6h0m23.7 2.8h0m-57.3 6.6h0m7.6-5.7h0m9 2.9h0m.5 2.4h0m6.8.2h0m14.2-3.9h0m.8-1.6h0m17.3 5.5h0m6.5-1.8h0m.8-3.5h0m5.8.6h0m-77.6 8h0m1.3 1.3h0m5.8-1.5h0m.9-.8h0m36.1.6h0m5.8 2.6h0m6-.8h0m.8-1.6h0m8.6 2h0m7.2-2.7h0m5.2 1.7h0m1.5.5h0m-70.8 5.9h0m4.4-.1h0m19.2-.5h0m.1-.7h0m2.1 1.1h0m12.3-3.7h0m29.7 3.3h0m.4 1.8h0m-76.7 4.1h0m6.5-.9h0m3 1h0m3.6.5h0m4.8-.8h0m0-1.7h0m5.8.5h0m2.2-.4h0m7.6-.4h0m3.7 1.9h0m2.9-1.7h0m12.3 1.4h0m4.6-.1h0m1.1-1.9h0m3.1 0h0m6.7 2.8h0m2.1.1h0m10.7-3.5h0m-79.6 7.4h0m11 2.6h0m4 1.6h0m2.3-1.1h0m7.4-4h0m21.1 3.9h0m7.6-1.7h0m.4.4h0m.4.5h0m10.6-1.1h0m8.6.8h0m-60.6 5.7h0m14.7 1.4h0m8.5-4.4h0m8.2 5h0m2.8-.3h0m2.5-.2h0m.1-1.1h0m3.4-.5h0m6 .3h0m.5-2.7h0m10.3 4.2h0m2.9.3h0m-71.5 2h0m4 2.9h0m12.4-.9h0m2.9-2.2h0m2.2 2.2h0m.2 1.4h0m3.5-1.2h0m1.8-3.1h0m.3 2.7h0m1.3 1.9h0m5.7-4.8h0m16.4 4.4h0m1.8 1.4h0m2-2.1h0m3.2-1.1h0m11-1.7h0m-69.2 8.9h0m2.6-1.3h0m.1-.3h0m3.5 3.7h0m.3-5.5h0m2.3 4.2h0m3.6-3.4h0m3.1 3.8h0m.2-3.6h0m1.1 4.2h0m11-3.9h0m2.3 3.9h0m5.1-4.5h0m4.2-.1h0m1.4 2.2h0m.8.2h0m.3.1h0m.9-2h0m.2 3.3h0m4.1-1.9h0m.1-1.8h0m4.8 2.1h0m.6-1.1h0m1.4 0h0m1.2 2.7h0m1.9-1.6h0m5.8-.1h0m0-2.5h0m3.3.3h0m1.1-.3h0m.9 3.2h0m.3-2h0m.3 1.3h0m5.1.9h0m.9-3.8h0m-75.7 6.1h0m1.9 1.5h0m2.4-1h0m2.4-.3h0m1.4.2h0m4.2 2.6h0m2.7-.2h0m3.4-.8h0m.6 1.1h0m.1-1h0m1-1.7h0m1.1 4.3h0m2.8.6h0m2-5.1h0m6.9 5.2h0m.7-.2h0m.3-.2h0m1.2-3.4h0m4.7 1.7h0m.5 1.7h0m2.2-1.1h0m2.7-1.1h0m2.4 2.1h0m3.9.4h0m0-2.4h0m.7.8h0m.4 0h0m4.9-1.3h0m1.2-1.1h0m.3-.4h0m3.2-.3h0m4.1.7h0m1.8-.9h0m.5 3h0m3-.5h0m.5 1.9h0m4.2-3.1h0m.7-.9h0m1.1-1.1h0m-74.9 6.7h0m2.2 2.3h0m.7-.2h0m7.2-1.6h0m7.2-1h0m.2 1.7h0m13.1 1.9h0m.3 0h0m.6.5h0m.6-1h0m5.2-3.1h0m1.7 4.5h0m2.4-4.1h0m.1.8h0m3.1 1.6h0m1 2.4h0m5.5-1h0m2.4.1h0m3.5-.5h0m7.1-1.7h0m4.6-2.1h0m8.1 1h0m-66.9 10.5h0m2.2-4h0m2.2.6h0m5.2.4h0m5.1 0h0m3.1-1.4h0m3.2 1.3h0m2.7.3h0m5.3 1h0m1.5 1.8h0m.2-2.9h0m.7 2.1h0m5.5-3.4h0m3.9 2.2h0m4.5-.9h0m7.4.2h0m7.9 1.5h0m2.1.2h0m1.2.6h0m-67.7 6.3h0m.7-3.4h0m4.8 3.5h0m4.8.1h0m2.7-2.9h0m20.3 1h0m4.3 1.6h0m9.6-3.9h0m14.3 2.2h0m7.6-3.4h0m1.6 5.4h0m-82.1 4.4h0m4.9-1h0m5.2.7h0m10.3.1h0m18.8 1.2h0m2.9-1.5h0m.7.7h0m16.3-1.6h0m16.4-1.4h0m-69.3 5.3h0m40.1 2.3h0m16.5 1.6h0m9.8-2h0m-26.2 7.6h0" stroke="#141414" stroke-width="2.0" stroke-linecap="round" fill="none"/><path d="M1200.1 1454.8L1282.7 1454.8" stroke="#222" stroke-width="1.6" fill="none"/><path d="M1383.4 1455.3l-1-2.5-3-2.6-4.4-2.5-5.4-2.5-5.5-2.6-5.2-2.5-4.4-2.6-3.2-2.5-2.1-2.5-1-2.6 0-2.5.8-2.5 1.5-2.6 2-2.5 2.4-2.5 2.8-2.6 3-2.5 3.1-2.5 3.1-2.6 3-2.5 2.8-2.6 2.5-2.5 2.1-2.5 1.6-2.6.9-2.5.3-2.5-.2-2.6-.7-2.5-1-2.5-1.5-2.6-1.7-2.5-2-2.6-2.3-2.5-2.4-2.5-2.4-2.6-2.6-2.5-2.5-2.5-2.5-2.6-2.3-2.5-2.2-2.5-2.1-2.6-1.8-2.5-1.7-2.5-1.5-2.6-1.3-2.5-1.2-2.6-.9-2.5-.8-2.5-.7-2.6-.5-2.5-.5-2.5-.3-2.6-.3-2.5-.2-2.5-.2-2.6 0-2.5 0-2.6 0-2.5 0-2.5-1 0 0 2.5 0 2.5 0 2.6 0 2.5-.2 2.6-.2 2.5-.3 2.5-.3 2.6-.5 2.5-.5 2.5-.7 2.6-.8 2.5-.9 2.5-1.2 2.6-1.3 2.5-1.5 2.6-1.7 2.5-1.8 2.5-2.1 2.6-2.2 2.5-2.3 2.5-2.5 2.6-2.5 2.5-2.6 2.5-2.4 2.6-2.4 2.5-2.3 2.5-2 2.6-1.7 2.5-1.5 2.6-1 2.5-.7 2.5-.2 2.6.3 2.5.9 2.5 1.6 2.6 2.1 2.5 2.5 2.5 2.8 2.6 3 2.5 3.1 2.6 3.1 2.5 3 2.5 2.8 2.6 2.4 2.5 2 2.5 1.5 2.6.8 2.5 0 2.5-1 2.6-2.1 2.5-3.2 2.5-4.4 2.6-5.2 2.5-5.5 2.6-5.4 2.5-4.4 2.5-3 2.6-1 2.5z" fill="#E8212A" stroke="#1d1d2b" stroke-width="0.8"/><path d="M1355.8 1310.2h0m.9 5.3h0m-51.9 5.9h0m12.8.8h0m7.6-1.8h0m42.5-.9h0m-57.4 7h0m6.9 1.7h0m.9-2.4h0m7.4-.8h0m11 3.3h0m9.4-1.8h0m7.5-1.1h0m-37.9 5.7h0m11.9 1.7h0m.5-1.6h0m22.3-.1h0m3.2.9h0m2.3 2.5h0m3.4.5h0m8.5-.4h0m10.6-.3h0m-71.3 6h0m9.1-3.9h0m40.6 2.5h0m5.4-3.8h0m-59.3 8.3h0m1.9-.8h0m5.1-1.1h0m5.3 3.7h0m2.4-1.3h0m11.2 2.8h0m1.4-2.7h0m8.5-.6h0m6.9 3.4h0m9.7-3.4h0m21.5-.9h0m-77.5 10.3h0m4.9-.4h0m4.4 0h0m1.7-2.3h0m8.1-.3h0m12.8.5h0m12.7 2h0m10.8-1.8h0m.2 1.2h0m3.3-4h0m2.3.9h0m10.7 2.8h0m.7-.4h0m2.1-2.6h0m1.8 1.3h0m-76.7 7.5h0m7.3-4h0m10.5.7h0m3.8 4.8h0m4.1.1h0m5.8-.2h0m10.1-.5h0m3.7-4.3h0m5.1 4.8h0m3.2.4h0m7.9-5.3h0m.5.5h0m1.1 2h0m4-.5h0m8.9 1.7h0m.8-2.3h0m.8.3h0m3.1-.1h0m-80 7.4h0m.1-1.4h0m1.5 1.7h0m12.4.2h0m4-.1h0m.5 1.6h0m5.9-1.3h0m6.4-2.8h0m5.3-.5h0m1.6 3.2h0m2.4.1h0m2.3-1.7h0m8.6-.7h0m4 .9h0m.1.5h0m1.4-.2h0m.8-2.4h0m1.2 1.6h0m2-2.3h0m.8 5.4h0m5.7-1.4h0m4.1-3.8h0m.6 2.4h0m3.9.9h0m-69.8 2.4h0m.1 3.4h0m1 1.6h0m1.1-.9h0m1.6-3.2h0m.3.1h0m2 4.2h0m0-1.1h0m1.5-1.7h0m.6 1.2h0m1.2 1.5h0m6.4.4h0m3.5-.1h0m2.9-5.2h0m2.6 4.6h0m1.1.4h0m1.7-.8h0m1.6-.4h0m1.4-.5h0m11.8 2.5h0m.4-6h0m1.3 4.4h0m1-4h0m.1 5.4h0m.1-2.6h0m4.1 2.1h0m3.8-.4h0m1.3-4.9h0m2.9.3h0m.1-.2h0m4.5 4.7h0m4 .9h0m3.4-4h0m1.2 1h0m-78.4 8.1h0m.9-4.1h0m.8 4.5h0m11.7-2.7h0m.6-.5h0m5.1 1.6h0m3.1 1.1h0m.2.1h0m1.3-1.1h0m.5-1.8h0m.3-1.8h0m.9 2.7h0m1.2-.2h0m1.2-1.1h0m3.3 1.2h0m.2 2.9h0m2.4-1.9h0m1-2.3h0m1.2.8h0m.2 1.2h0m.2 0h0m.1-2.1h0m1.3-1.1h0m.1 1.3h0m.7 3.8h0m.9-3.7h0m.9 1.2h0m1 .1h0m1.3-.4h0m.8-1.4h0m.8 3.7h0m1.9-4.2h0m2.9 3.5h0m1.5 0h0m6.5.5h0m.1-2h0m3.6 2.3h0m1.5-.4h0m6.1-3.4h0m4.9-.1h0m.1 2.2h0m1.9.5h0m.7-1.8h0m4.5 3.2h0m.7-3.5h0m-80.3 5.2h0m.3 0h0m.2.7h0m1-.6h0m6.2 3.4h0m3.2 1.5h0m3.3-3.2h0m1.7 3h0m1.6-2.2h0m.7 1.4h0m.6-1h0m1.1 2h0m.1-4.8h0m0-.4h0m8.6 4h0m1.8-2.7h0m1.8-1.5h0m4.3 3h0m2.6 2.2h0m.4-.5h0m2.8-3.9h0m1.8-.6h0m1.7 4.2h0m.4-4.3h0m5.1 1.6h0m2.5-1h0m2.7 2.5h0m2.3 1.3h0m6.3-3.9h0m1.9 1h0m4.5.9h0m.4 0h0m1.4-1.3h0m.9.5h0m7.3-1.8h0m.1 5.2h0m-82 4.5h0m0-2.2h0m1.4-1.7h0m.4 1h0m1.8-.9h0m.8.1h0m2 .7h0m8.5.9h0m.1-1.3h0m.3 4.7h0m.3 0h0m.2-4.4h0m2.3 2.7h0m2.5 1.9h0m1-4.2h0m.2-.5h0m1.5.3h0m1.7 2.6h0m.1-2.3h0m1.4.8h0m4.7-.5h0m.4 1.3h0m1.3.4h0m.5 2.2h0m1.7-1.2h0m1.6-.9h0m.3-2.5h0m1-.6h0m1.3 5.3h0m2-1.1h0m3 1.3h0m1.7-3h0m2.4-.2h0m.5 1.5h0m2.4-.3h0m.4 1.6h0m1.3 0h0m.1-.6h0m1.3-.7h0m1.4-2h0m1 1.5h0m1.6-1.8h0m1 2.2h0m.3-2.9h0m1.1 1.6h0m1.3 3h0m0-1.2h0m2.6.7h0m.6-2.1h0m3.1-1.9h0m.4 1.1h0m2.6-1.7h0m.3 4.5h0m2.1-1.1h0m1.1.9h0m2.1-2.3h0m.7-2.6h0m2.9 5.4h0m-76.9 5.8h0m1.7-3.3h0m1.8 2.3h0m0 1h0m1.1-2.6h0m2.8 1.7h0m4.7 1.5h0m.5-2.9h0m5.8-.7h0m.1 0h0m2.6-.6h0m0 2.1h0m1.3-.4h0m1.9 1.7h0m.1-2.4h0m1 1.9h0m.2-1.3h0m1.4-.2h0m1.9 1.8h0m0-2h0m3-2.6h0m.1 2.6h0m.6 2.6h0m1.8-.3h0m.1-.3h0m.3.6h0m.5-3.8h0m2.8.3h0m.6-.9h0m.6 1.8h0m.8 1.7h0m.7-4.2h0m.9 4.5h0m0 0h0m.7.4h0m.2-1.1h0m.4-2.8h0m3.2.5h0m2.6.3h0m.1-1h0m1 3.4h0m.3-2.2h0m8.3 1.7h0m.1.7h0m1-3.5h0m1.1 1.9h0m5.8 0h0m.2-.7h0m5.6.2h0m.6.5h0m1.9.4h0m1.9-.7h0m1.2 0h0m-80.7 7h0m1-1.5h0m.9-1h0m1 3.8h0m.2-2.4h0m2.7.2h0m.3-1.8h0m1 1.1h0m3.8-1h0m.7 1.6h0m2.6.8h0m1.5.3h0m4.3-3.2h0m1.7 4.8h0m4.2-2.4h0m1-.9h0m.6-1.1h0m3.8 4.6h0m.8-.7h0m.1.8h0m2.2-4.4h0m3.8 3h0m2.1-2.9h0m1.9.6h0m.5 3.4h0m1.3-1.6h0m.6.9h0m4.1-.4h0m.4-1.4h0m1.6 2.7h0m2-2h0m2-3.3h0m.8 1.2h0m.6 1.3h0m1.6 2.7h0m0-1.7h0m.2 1.7h0m.4-5.4h0m2.8 1.6h0m.9-.1h0m6.4-.2h0m1.8.6h0m.4 1.1h0m1.5 1.9h0m3.4-2.7h0m.6 3.3h0m4-3.4h0m1 2.1h0m.1-.8h0m.7-1.9h0m0 .8h0m-82.8 4.2h0m2.4 4.6h0m1.7-4.8h0m2.9 3.2h0m1.2-.3h0m.2 2.5h0m4.2-5.4h0m2.4 4.7h0m7.8-1.8h0m1.4-.3h0m.5-1.3h0m2.1-.8h0m.5.2h0m13.7 3.4h0m.3-4.3h0m1.5 3.5h0m5.3-2.7h0m.2 4.3h0m1.4-4.8h0m.4 4.9h0m2.2-.2h0m1.4-1.2h0m1.2 1.8h0m.6-1.9h0m0-.4h0m1.7-1.5h0m2.7-.4h0m.6.8h0m.5-.4h0m1.7 1h0m4.3 2.6h0m2.9 0h0m1.8-3.1h0m.6-2.7h0m2.4 3h0m2.4 1.2h0m5.3 1.1h0m.2-2.4h0m-82.8 7.5h0m1.7-2.6h0m1.3.1h0m1.1-.9h0m.8-.1h0m.7 2.9h0m6.9.8h0m.3.2h0m1-2.1h0m2.3 1h0m4-2.1h0m1.4-.8h0m5.5 1.3h0m1.1-1.9h0m.8 1.8h0m.2-1.7h0m.6 1.2h0m6.4-.4h0m.1 1.4h0m5.3 2.8h0m.5-.3h0m.5-4.9h0m.1 4.6h0m4.3-3.9h0m.3.9h0m3 1.2h0m.6-1.1h0m.9 1.2h0m3.9 1.2h0m2.9-3.2h0m5.3 3.6h0m.2.4h0m.2-4.3h0m3.5 5.1h0m2.6-5.7h0m7.6.4h0m1.4.9h0m3.6 2.2h0m-80.7 6h0m.4 1.6h0m.6.3h0m3.6-1h0m.5-3.1h0m.8 1.3h0m1 2h0m4.5 0h0m1.1-.8h0m3.4-1.3h0m4.4-.7h0m.6.4h0m2.9-.4h0m4.7-1.3h0m1 4.6h0m.7-4h0m1.3 1.2h0m10.1-.5h0m3.1 1.7h0m1.4.3h0m5.3 1.9h0m.6-1.5h0m6.4 1.7h0m3-.9h0m.4-.8h0m2.4-4.1h0m4.1 4.1h0m.7-1.3h0m4.8-1.1h0m-71.6 5.1h0m6.2 3.2h0m16.1.1h0m1.6-3.1h0m.6 3.7h0m2.3-.5h0m9.5-.2h0m.1-1.9h0m2.1.8h0m.9 1.5h0m1.6-3.7h0m9.6 2.8h0m.7-2.3h0m.8.1h0m8.3 1.1h0m2.1-1.8h0m1.5.3h0m.6 3h0m6-1.6h0m.8-2h0m4.2 3.6h0m1.5-2.9h0m1.3 3.6h0m-78.8 4.1h0m12.3 2.4h0m1-.3h0m28.1-1.6h0m1.2 1.7h0m9.5-4.5h0m10.1 4.8h0m-61 1.9h0m22 2.9h0m5-.6h0m1.6 1.4h0m5.7-3.2h0m7.7.7h0m30.3 3.1h0m.4-3.4h0m2.1 2.3h0m-68.3 3.2h0m2.8-.8h0m9.2-.2h0m15.3-.1h0m35.2.4h0" stroke="#141414" stroke-width="2.0" stroke-linecap="round" fill="none"/><path d="M1297.6 1454.8L1381 1454.8" stroke="#222" stroke-width="1.6" fill="none"/><rect x="1336.8" y="1305.7" width="5" height="10" fill="#333"/><path d="M1182.3 1302.2L1182.3 1462.6" stroke="#000" stroke-width="1.4" fill="none"/><path d="M1181.6 1461.9L1400.5 1461.9" stroke="#000" stroke-width="1.4" fill="none"/><path d="M1446.6 1458.1L1450.6 1458.1" stroke="#222" stroke-width="1" fill="none"/><text x="1445.4" y="1465" font-size="19.3" text-anchor="end">0</text><path d="M1446.6 1424.6L1450.6 1424.6" stroke="#222" stroke-width="1" fill="none"/><text x="1445.4" y="1431.5" font-size="19.3" text-anchor="end">1</text><path d="M1446.6 1391.1L1450.6 1391.1" stroke="#222" stroke-width="1" fill="none"/><text x="1445.4" y="1398" font-size="19.3" text-anchor="end">2</text><path d="M1446.6 1357.6L1450.6 1357.6" stroke="#222" stroke-width="1" fill="none"/><text x="1445.4" y="1364.5" font-size="19.3" text-anchor="end">3</text><path d="M1446.6 1324.1L1450.6 1324.1" stroke="#222" stroke-width="1" fill="none"/><text x="1445.4" y="1331" font-size="19.3" text-anchor="end">4</text><text x="1571.4" y="1298.2" font-size="22.2" text-anchor="middle">Cd69****</text><text x="1425.5" y="1386.3" font-size="18.7" text-anchor="middle" transform="rotate(-90 1425.5 1386.3)">Expression Level</text><path d="M1558.1 1458.1l-3.1-2.5-8.4-2.5-10.3-2.5-8.9-2.6-6.1-2.5-3.1-2.5-1.2-2.5 0-2.5.4-2.5.6-2.5.7-2.5.7-2.6.6-2.5.7-2.5.7-2.5.6-2.5.6-2.5.5-2.5.4-2.5.3-2.6.2-2.5.2-2.5 0-2.5-.1-2.5-.1-2.5-.2-2.5-.2-2.5-.4-2.5-.3-2.6-.5-2.5-.4-2.5-.5-2.5-.6-2.5-.5-2.5-.6-2.5-.5-2.6-.6-2.5-.5-2.5-.6-2.5-.5-2.5-.5-2.5-.5-2.5-.4-2.5-.5-2.5-.3-2.6-.4-2.5-.3-2.5-.3-2.5-.3-2.5-.2-2.5-.2-2.5-.2-2.6-2 0-.2 2.6-.2 2.5-.2 2.5-.3 2.5-.3 2.5-.3 2.5-.4 2.5-.3 2.6-.5 2.5-.4 2.5-.5 2.5-.5 2.5-.5 2.5-.6 2.5-.5 2.5-.6 2.5-.5 2.6-.6 2.5-.5 2.5-.6 2.5-.5 2.5-.4 2.5-.5 2.5-.3 2.6-.4 2.5-.2 2.5-.2 2.5-.1 2.5-.1 2.5 0 2.5.2 2.5.2 2.5.3 2.6.4 2.5.5 2.5.6 2.5.6 2.5.7 2.5.7 2.5.6 2.5.7 2.6.7 2.5.6 2.5.4 2.5 0 2.5-1.2 2.5-3.1 2.5-6.1 2.5-8.9 2.6-10.3 2.5-8.4 2.5-3.1 2.5z" fill="#1A62EE" stroke="#1d1d2b" stroke-width="0.8"/><path d="M1482.7 1332.3h0m15.7 3.4h0m25.3 3.2h0m1.2 1.6h0m11.2-4.2h0m17.6 3.6h0m-45.5 1.2h0m26.9 4.8h0m-57.2 1.6h0m2.9 4.1h0m7.7-1.7h0m8.3 1.5h0m7.4.5h0m14.3.8h0m-42 3h0m23.7-2.4h0m1.8 4.7h0m5.5-.6h0m32.6-.6h0m9.6-1.8h0m-76.3 4.7h0m2.1 1.3h0m22.6-1.6h0m9.1 1.5h0m6.7-1.5h0m6.3 3.9h0m-36.1 6.7h0m.9-4.4h0m1.7 4.7h0m19.7-5.2h0m1.6 0h0m11.4 1.4h0m6.5-1.2h0m18 .2h0m3.3 2.4h0m3.8 1.9h0m-81.2 5.7h0m.5-2.4h0m18.3 3.7h0m.9-1.3h0m.4-1.1h0m36.1-1.4h0m-55.3 6.1h0m4.1-.6h0m2.3-1.2h0m4.1.1h0m32.3.2h0m2.6.9h0m.5-.9h0m1.8 5.3h0m3.2-5.8h0m3.9 4.4h0m9.7-1h0m.7.4h0m2.6.8h0m-62.2 2.7h0m.3.5h0m3.6 1.6h0m8 1.1h0m1.6-1.8h0m2.1.2h0m4.1 1.3h0m.7.2h0m16.6-2.3h0m12.4 3.3h0m18.4-3.1h0m5.2 1.6h0m-72.6 2.6h0m3.5 4h0m5.7-4.3h0m6.3.2h0m7.4 4h0m1.3.1h0m9.7-4.2h0m4.3 4.1h0m2.1-1.5h0m13.1 2.2h0m5.7-.5h0m8.8 0h0m-69.7 1.5h0m3.2 3.7h0m6.5-2.9h0m10.4 2.8h0m11.5 1.4h0m1.1-4.9h0m10.2 4.1h0m22.7-.3h0m-70.9 6.6h0m3.7-3.2h0m2.4-1.1h0m10.2-.4h0m20.6 3.7h0m2.7-2.5h0m1.9 3.1h0m26-3.9h0m5 1.9h0m3.7 3.4h0m4.9-4.4h0m-76.2 7.1h0m5.4.9h0m8-3h0m8 1.2h0m3.1 1h0m14.4 1.2h0m.4-1.2h0m1.5 3.3h0m4.1-1.3h0m1.8 0h0m13.8-3.3h0m.2 1.4h0m18.5 2.5h0m-81.1 4.8h0m10.9-2.6h0m7.4 4h0m.1-2.5h0m14.2-.9h0m1.8 1.2h0m15.9.2h0m5.5 1.4h0m2.4-2h0m.4-1h0m13.8.1h0m2.6-.9h0m4.7.6h0m-76.3 8.6h0m6.5-3.7h0m.2 5.5h0m5.5-3.5h0m.2 1.9h0m8.4-1.2h0m9.6 2.1h0m2.5-1.8h0m17-2.2h0m-40.4 8h0m2.4-2.2h0m1 4.1h0m2.4-3.6h0m.7-1.2h0m1.3 2.2h0m6.8-1.2h0m.9 4.7h0m6.6-4.9h0m7.3.8h0m1.8-1.7h0m12 4.8h0m4.1-4.7h0m3.4 3.2h0m2.7 1.4h0m9.1-1.9h0m5.6 2.4h0m-82.7 5.4h0m2.1-3.2h0m11 1.6h0m3.9 1.4h0m23.4.9h0m42.3-2.5h0m-69.7 4.4h0m31.4.9h0m9.7.8h0m9.3.9h0m11.4-.7h0m-70.6 8.3h0m20.6-2.8h0m11.4-1.3h0m6.7.2h0m16.4.3h0m-57.5 8.6h0m14.4 1.3h0m28.9-2.8h0m-26.3 4.1h0m.3-.5h0" stroke="#141414" stroke-width="2.0" stroke-linecap="round" fill="none"/><path d="M1469.3 1457.6L1554.7 1457.6" stroke="#222" stroke-width="1.6" fill="none"/><rect x="1508.5" y="1322.4" width="7" height="13.4" fill="#333"/><path d="M1656.5 1458.1l-1.3-2.5-3.8-2.6-5.6-2.5-6.4-2.6-6.3-2.5-5.4-2.6-4.1-2.5-2.5-2.5-1.1-2.6.1-2.5 1.1-2.6 1.9-2.5 2.3-2.6 2.7-2.5 2.8-2.5 2.7-2.6 2.6-2.5 2.2-2.6 1.7-2.5 1.1-2.5.4-2.6-.1-2.5-.2-2.6-.5-2.5-.5-2.6-.8-2.5-.9-2.5-1-2.6-1.1-2.5-1.2-2.6-1.3-2.5-1.4-2.6-1.4-2.5-1.4-2.5-1.5-2.6-1.4-2.5-1.4-2.6-1.3-2.5-1.3-2.6-1.2-2.5-1.2-2.5-1.1-2.6-1-2.5-1-2.6-.8-2.5-.8-2.6-.7-2.5-.7-2.5-.5-2.6-.5-2.5-.4-2.6-.4-2.5-.4-2.5-.2-2.6-.3-2.5-.2-2.6-1.8 0-.2 2.6-.3 2.5-.2 2.6-.4 2.5-.4 2.5-.4 2.6-.5 2.5-.5 2.6-.7 2.5-.7 2.5-.8 2.6-.8 2.5-1 2.6-1 2.5-1.1 2.6-1.2 2.5-1.2 2.5-1.3 2.6-1.3 2.5-1.4 2.6-1.4 2.5-1.5 2.6-1.4 2.5-1.4 2.5-1.4 2.6-1.3 2.5-1.2 2.6-1.1 2.5-1 2.6-.9 2.5-.8 2.5-.5 2.6-.5 2.5-.2 2.6-.1 2.5.4 2.6 1.1 2.5 1.7 2.5 2.2 2.6 2.6 2.5 2.7 2.6 2.8 2.5 2.7 2.5 2.3 2.6 1.9 2.5 1.1 2.6.1 2.5-1.1 2.6-2.5 2.5-4.1 2.5-5.4 2.6-6.3 2.5-6.4 2.6-5.6 2.5-3.8 2.6-1.3 2.5z" fill="#E8212A" stroke="#1d1d2b" stroke-width="0.8"/><path d="M1620.3 1320.8h0m-34.4 3.9h0m16.2 2.5h0m31.5-3.1h0m-64.7 8.8h0m18.1 1.2h0m30-4.1h0m13 4.5h0m7.9-.4h0m.8-2.8h0m5 3h0m-66.4 4.9h0m6.6-.7h0m1.2-1.6h0m13-1.6h0m2.6 2.8h0m20.5-2.8h0m7.4 2.2h0m10.8-.1h0m2.5-.4h0m2.3.4h0m-71.1 5h0m18.7 2h0m2.9.5h0m5.9-1.8h0m1.5 2.1h0m11 1.3h0m14.3-4.3h0m2.2 4.2h0m4.8-1.5h0m18.8 1.3h0m-85.5 4.4h0m22.7-2.1h0m13.4.7h0m6.3-.3h0m12.5 1.9h0m16.6-2.6h0m3.5 2.3h0m.7-3.3h0m1.3.6h0m.1 1.8h0m8.1-1.1h0m.1.3h0m0 3.2h0m-79.2 6.7h0m8.7.3h0m3.1-4.4h0m2.7-.9h0m6.2 4h0m2.5 1.1h0m12.1-2.2h0m.6.8h0m14.5-.2h0m.9-2.7h0m3.7 2.3h0m7.9 1.8h0m4.3-3.4h0m.9-1.9h0m-74.7 11.1h0m14.6-1.2h0m2.2 1.4h0m7.4-1.2h0m6.3-3.3h0m3.1-.5h0m6.8 1.9h0m5 2.9h0m2-.9h0m6.2-.7h0m11.1-1.2h0m2.5 2.9h0m4.2-1.4h0m2.7.2h0m3.3-2.8h0m2.1-1.3h0m-75.9 6.5h0m5.5 2.7h0m1 2.4h0m1.5-.5h0m4.8-1.5h0m1.3 1.1h0m.2-1.9h0m1.2-1.3h0m4.1 4.1h0m1.3-2.1h0m.2-2h0m4 .8h0m7-.7h0m7.7 3.2h0m1.2-2.1h0m5 2.5h0m6-4.1h0m1.7 2.2h0m11.7 1.9h0m2.7-1.9h0m1.2 1.1h0m6.5 0h0m1.6-4.5h0m3.6 4.6h0m-80.8 1.9h0m.9 3.9h0m.5-4.2h0m3.9 4.2h0m11.1.3h0m4.2-.4h0m2.5-.8h0m7.8-1.3h0m2.9.9h0m2.4-1h0m5.2-2.1h0m.3.8h0m13.5 3.9h0m3.6.4h0m.5-.9h0m.7 1h0m.4-2h0m2.3-1.3h0m2.1-1.4h0m4.8 2.8h0m.3 1.5h0m1.3-1.9h0m.4 1.2h0m.6-2.2h0m.1-.1h0m1.4.1h0m.5 2.8h0m-71.4 7.2h0m1.7-1.8h0m6.1-3.7h0m1.1 2.3h0m.7-.3h0m12.9 2.7h0m2.8-.1h0m2.7-1h0m.3-.3h0m6 0h0m.5 1.4h0m3.8-2.8h0m4.4-1.8h0m0 3.7h0m.6-3.7h0m5.5.3h0m8.8 4.6h0m2.9-1.7h0m2.7.1h0m1.1-.3h0m14.9.2h0m-77.8 2.4h0m1 5.4h0m6.1-1.5h0m6.6-3h0m1.3 4.4h0m2.9-1.6h0m1.4.4h0m3.9-1.6h0m4.9 3h0m.5-1h0m5.9.2h0m4.2-4.1h0m1.8-.7h0m.3 4.1h0m3-2.5h0m7.1-.6h0m.1.8h0m3.6-1.1h0m0 .8h0m0-1.4h0m.8 2.9h0m.8-.2h0m3.1 1.5h0m.2-.9h0m5.4-2.9h0m3.7 2.9h0m3.1-1.4h0m2.8-.8h0m-81.8 8.5h0m8.6 1h0m4.9-1.2h0m1.9 1.1h0m15.8-3.3h0m3.7 2.8h0m3.3-2.5h0m2.1 3.6h0m1.2-.9h0m1.8-.4h0m5.2-3.1h0m2.5 4.2h0m3-1.5h0m.3-2.6h0m10 2.2h0m5.3.8h0m2.6-2.6h0m5.2.9h0m1.4 1.8h0m.7 1.2h0m.6-4.7h0m1.6 4.6h0m1.1-.7h0m2.1-.5h0m-85.1 4.4h0m5.1 1.8h0m.6-2.2h0m.7 2.7h0m.3.5h0m.7-2.6h0m2.1.1h0m.4-2.2h0m.6 1.8h0m1.3.1h0m2 1.3h0m.7-2.8h0m.4.4h0m0 2.2h0m.6-.9h0m.5.9h0m.2.9h0m1.5.5h0m.3-.7h0m3.8.6h0m.1-1.1h0m4-1.2h0m3.2 3.2h0m1.4-4.3h0m2.5 2h0m.1-.2h0m1.6.7h0m3.4-1.8h0m2.1-1.4h0m4.4 0h0m1-.2h0m.8 1.9h0m2.9-1.2h0m.7-1.1h0m3.4 1.1h0m1.6.6h0m.8 2.2h0m1.2 1.9h0m2.2-4.2h0m2.2 2.5h0m6.8-2.8h0m1.9.2h0m1.3 3.1h0m1.1-.5h0m0-.2h0m2.7-.1h0m2.6-2.1h0m4.9-1.5h0m1.4.6h0m-83.4 9.1h0m1.2 2h0m2.1-4.1h0m.2 2.9h0m.5-2.2h0m1.7 2.5h0m2.9-5h0m1.2.2h0m5.4-.2h0m1.7.2h0m.1 3.3h0m.7-1.7h0m2.9 1.8h0m1.3-2.6h0m.8.8h0m.3 3.5h0m1-1.1h0m1.1-1.5h0m2.3-.1h0m.1.7h0m4-2.2h0m1 .2h0m2 2.2h0m1.1-.1h0m.2 2h0m.8-1.4h0m0-4.1h0m1.6 1.7h0m.1-1h0m2.1 3.1h0m3.2-3.8h0m6.5 5.4h0m2.1 0h0m.2-2.3h0m.3 2.5h0m1.4 0h0m1.8-2h0m1.2.1h0m.3-3.7h0m1.4 2.3h0m1 1.1h0m.6 2.4h0m0-1.1h0m1.6-.6h0m.4-3.2h0m3-.7h0m.9 5.5h0m.1-5.6h0m3.6 5.4h0m.6-2.5h0m2.8 1h0m2.5.7h0m2.2 1.3h0m.2 0h0m-77.5 5.3h0m.6-1.8h0m.2-1.8h0m1 4h0m.9-1.4h0m.4 1.1h0m1.2-3.4h0m1.2-1.2h0m.7 5h0m1-5.1h0m3.9 3h0m.1-1.5h0m3-1.8h0m1.4-.3h0m.6 5.8h0m1.3-.1h0m3.7-2.4h0m1.8 2.2h0m.2-3.2h0m2.4 2.1h0m.8-1.7h0m1.9.7h0m2.9-1.9h0m1.9 2.8h0m1.4-1.3h0m1.8.9h0m2.4-1.9h0m.2 1.8h0m1.5-1.4h0m1.6-.4h0m1.5-.7h0m4.3.5h0m3.1 1.3h0m.3-2h0m1.4-.3h0m2.3 3.5h0m.3.1h0m.5-2.2h0m3.1 1.7h0m0-3.3h0m.3 3.8h0m.5-3.1h0m2.4 4.2h0m.4-4.5h0m4.1 4.6h0m1.3-5.3h0m1.9 5.2h0m1.8-.1h0m.2-3.9h0m.1 1.7h0m.7-2.1h0m.1.5h0m.1 3.4h0m.1.8h0m3.5-3h0m.7-2h0m1.6.3h0m0 1.8h0m3.8.4h0m.2 1.7h0m1.9-.2h0m-84.8 5.6h0m.1 1h0m2.2-1.7h0m.3-3.5h0m0 1.3h0m.7 4.4h0m2.2-3.6h0m.1 2.7h0m2-3.6h0m.1 0h0m.9 3.1h0m.7-.5h0m2.5-.5h0m.3-2.2h0m.8-.4h0m.1.9h0m.4-1.7h0m3 3.7h0m2.1-2.3h0m.1-.6h0m.2 4.5h0m.2-3.6h0m.1 3h0m.5-2.9h0m3-1.7h0m.2 5.7h0m.1-4.5h0m1-.7h0m.5 4.5h0m0 0h0m3.9.1h0m1.2-4.2h0m3 .4h0m.6 3.2h0m.6-1.8h0m1.5 0h0m1.2-1.7h0m.2 4.1h0m2.8-3.5h0m2.7 3.9h0m3-5.3h0m.1 4.7h0m3.2-4.3h0m.7 1h0m1.2-1.4h0m.4 3h0m3.5-2.3h0m.8 1.4h0m.7-.7h0m.7-1.1h0m2.8.6h0m.6 2.6h0m5.1-3h0m.5.7h0m.4.2h0m.1.8h0m1.7-.8h0m3.4 2.1h0m4.9-1.4h0m.9-.8h0m1.8 3.4h0m1.5-2.7h0m.1 3h0m3.4-2.9h0m-83 6.3h0m4.7 1.8h0m.7-3.5h0m3.6 1.5h0m1.9 2.6h0m1.7-2.8h0m.1 1.6h0m2.6-1.3h0m.1 2.2h0m1.6-4.2h0m1.6.3h0m3 3.7h0m1.8-2.8h0m3.7-1.6h0m1.2 2.2h0m.7-1.2h0m.7-.7h0m3.5 4.5h0m0 .5h0m11.5-.7h0m.4-1.8h0m1.2-1.9h0m2.8 1.3h0m7.3.1h0m2.2-2h0m1.6 3.2h0m2.2.9h0m.1-2.2h0m3 .4h0m1.6.2h0m.3-2.8h0m2.6 4.7h0m.5-4.5h0m2.5 1.7h0m.7 3.2h0m1.3-3.9h0m2 .8h0m.7 3.4h0m3-3.7h0m2.6-.4h0m.2-1.2h0m-85.4 10.2h0m.2-4h0m3.8-.3h0m6.4 2.5h0m13.6 2.1h0m.3-3.3h0m.5 2.2h0m3.3-2.8h0m3.9 3.7h0m10.6-4.4h0m1 4.2h0m.7-2.4h0m1.2.6h0m4.2 2h0m.3-4.5h0m2.5 1.1h0m11.5 4.5h0m.1-4.5h0m4.3-1h0m-64.3 9.7h0m3.7-3.8h0m6.3 2.4h0m7.6-2.1h0m2.3 1.8h0m2.6 2.3h0m4.2-2.3h0m4-1.4h0m1.4 1.6h0m5-1.3h0m2.3 1.6h0m2.7 1.7h0m7-.7h0m1.9-.1h0m2.8-1h0m7.2-.8h0m8.3-1.6h0m2.6.6h0m4.5.5h0m.8 4.1h0m-77.9 2.7h0m14.5-.4h0m9-.5h0m1.4 3.9h0m.3-2.9h0m1.1-1.1h0m29.2 2.2h0m12.8-2.7h0m2.7 0h0m8.7 1.5h0m-55.1 6h0m7.7-2.1h0" stroke="#141414" stroke-width="2.0" stroke-linecap="round" fill="none"/><path d="M1567.2 1457.6L1654 1457.6" stroke="#222" stroke-width="1.6" fill="none"/><rect x="1608.1" y="1309" width="5" height="11.7" fill="#333"/><path d="M1450.6 1303L1450.6 1467" stroke="#000" stroke-width="1.4" fill="none"/><path d="M1449.9 1466.3L1672.6 1466.3" stroke="#000" stroke-width="1.4" fill="none"/><path d="M1178.3 1674L1182.3 1674" stroke="#222" stroke-width="1" fill="none"/><text x="1177.1" y="1680.9" font-size="19.3" text-anchor="end">0</text><path d="M1178.3 1623L1182.3 1623" stroke="#222" stroke-width="1" fill="none"/><text x="1177.1" y="1629.9" font-size="19.3" text-anchor="end">1</text><path d="M1178.3 1572L1182.3 1572" stroke="#222" stroke-width="1" fill="none"/><text x="1177.1" y="1578.9" font-size="19.3" text-anchor="end">2</text><path d="M1178.3 1521L1182.3 1521" stroke="#222" stroke-width="1" fill="none"/><text x="1177.1" y="1527.9" font-size="19.3" text-anchor="end">3</text><text x="1304.3" y="1513.5" font-size="22.2" text-anchor="middle">Cd226****</text><text x="1158.5" y="1600.4" font-size="18.7" text-anchor="middle" transform="rotate(-90 1158.5 1600.4)">Expression Level</text><path d="M1286.5 1674l-1.8-2.6-5.2-2.5-7.2-2.5-7.9-2.6-7.1-2.6-5.5-2.5-3.9-2.5-2.4-2.6-1.2-2.6-.6-2.5 0-2.5.1-2.6.2-2.6.3-2.5.3-2.5.2-2.6.3-2.6.3-2.5.3-2.5.2-2.6.3-2.6.1-2.5.2-2.5.1-2.6.1-2.6 0-2.5 0-2.5-.1-2.6-.2-2.6-.2-2.5-.3-2.5-.3-2.6-.3-2.6-.4-2.5-.4-2.5-.3-2.6-.4-2.6-.3-2.5-.3-2.5-.3-2.6-.3-2.6-.2-2.5-2 0-.2 2.5-.3 2.6-.3 2.6-.3 2.5-.3 2.5-.4 2.6-.3 2.6-.4 2.5-.4 2.5-.3 2.6-.3 2.6-.3 2.5-.2 2.5-.2 2.6-.1 2.6 0 2.5 0 2.5.1 2.6.1 2.6.2 2.5.1 2.5.3 2.6.2 2.6.3 2.5.3 2.5.3 2.6.2 2.6.3 2.5.3 2.5.2 2.6.1 2.6 0 2.5-.6 2.5-1.2 2.6-2.4 2.6-3.9 2.5-5.5 2.5-7.1 2.6-7.9 2.6-7.2 2.5-5.2 2.5-1.8 2.6z" fill="#1A62EE" stroke="#1d1d2b" stroke-width="0.8"/><path d="M1237.6 1567.8h0m43.8-.5h0m-44.9 5.3h0m.8 2.2h0m7.9 0h0m6-.3h0m-24.1.6h0m19.1.2h0m1.3 1h0m3.2 4.1h0m2.1-3.3h0m1.5 2.1h0m19.2-.1h0m-70.1 3.9h0m13.9 1.9h0m.4-3.8h0m4.4 2.7h0m10.7 1.5h0m2.6-4h0m4.9 2.5h0m2.1.1h0m16.6 2.7h0m1.2-2.6h0m9.9 2.6h0m3.7-.1h0m-63.4 1.8h0m1.2 4.2h0m.1-4.6h0m6 4.2h0m6.6-4.4h0m16.7 2.5h0m21.1 1h0m1.6-1.2h0m1.3 2.3h0m7-1.7h0m8.4-3.2h0m-76 9.1h0m1.1-2.4h0m5.6.1h0m24.8 3.1h0m15.5-1.2h0m9.3-2.8h0m4.9 4h0m1.8-2.1h0m5.3 1.7h0m-73.5 3.8h0m4.8 2h0m1.7.3h0m10.1-.6h0m2 .5h0m11.4-3.6h0m.2 1.9h0m10.4 1.2h0m9.1-1.2h0m1.2 3.2h0m8.9-5.2h0m4.5 3.2h0m.6-.2h0m2.5.9h0m1.1 1.6h0m8.1-5h0m-32.3 10.5h0m11.5-2.4h0m2.8 3h0m2.9-.8h0m2.4 0h0m2.4.6h0m9.7-1.9h0m2.4-2.9h0m-78 9.2h0m6.9-1.5h0m2.2.7h0m1-3h0m20.2 2.2h0m3.3-1.8h0m3 5.3h0m7.2-5.6h0m1 1.7h0m5.6.9h0m3.4 2h0m9.3-4.3h0m4.4 2h0m2.2 1.7h0m8.8 1h0m1 .6h0m-77.3 3.9h0m1.4-.6h0m4.5 1.7h0m.4-4h0m.9-.7h0m5.9 5.7h0m10.2-2.2h0m7.6-2.7h0m3.3 0h0m31.9 2.1h0m6.4-1.4h0m.1-.5h0m2.8 1.3h0m-71.1 7.3h0m7.8-.8h0m15.3-1.3h0m20.5-1.2h0m14.6.4h0m8.8.2h0m2 1h0m-59.4 5.9h0m.4 2.2h0m2.8-1.5h0m9.5 1.1h0m34.6-.4h0m2.5-3.3h0m18 2.7h0m-81.8 4.1h0m3.6-.3h0m19.3.4h0m41.8 4.1h0m3.7.1h0m9.9-3.2h0m.1-1.2h0m-77.1 6.1h0m25.4-.5h0m13.5 1.8h0m1.1 2.6h0m36.6-1.6h0m-29.5 8.3h0m10.8.1h0m-54.4.9h0m1.1 1.3h0m.1-.4h0m46.7 1h0m25.4.2h0m-41.3 4.2h0m2.4 3.7h0m23.1-3.1h0m5.9 9.5h0m.4-3.5h0m0 2.4h0" stroke="#141414" stroke-width="2.0" stroke-linecap="round" fill="none"/><path d="M1198.8 1673.5L1284 1673.5" stroke="#222" stroke-width="1.6" fill="none"/><path d="M1384.5 1674l-1.4-2.5-4.1-2.5-5.9-2.5-6.8-2.5-6.8-2.5-6-2.5-4.8-2.5-3.4-2.6-2.3-2.5-1.3-2.5-.6-2.5-.1-2.5.2-2.5.4-2.5.6-2.5.8-2.5.8-2.5 1-2.5 1.1-2.5 1.1-2.5 1.1-2.5 1.1-2.5 1-2.6.9-2.5.7-2.5.5-2.5.3-2.5 0-2.5-.1-2.5-.1-2.5-.2-2.5-.3-2.5-.3-2.5-.4-2.5-.4-2.5-.5-2.5-.5-2.6-.5-2.5-.6-2.5-.6-2.5-.5-2.5-.6-2.5-.6-2.5-.6-2.5-.5-2.5-.6-2.5-.5-2.5-.5-2.5-.4-2.5-.5-2.5-.4-2.5-.3-2.6-.4-2.5-.3-2.5-.3-2.5-.2-2.5-.2-2.5-.2-2.5-.2-2.5-2 0-.2 2.5-.2 2.5-.2 2.5-.2 2.5-.3 2.5-.3 2.5-.4 2.5-.3 2.6-.4 2.5-.5 2.5-.4 2.5-.5 2.5-.5 2.5-.6 2.5-.5 2.5-.6 2.5-.6 2.5-.6 2.5-.5 2.5-.6 2.5-.6 2.5-.5 2.5-.5 2.6-.5 2.5-.4 2.5-.4 2.5-.3 2.5-.3 2.5-.2 2.5-.1 2.5-.1 2.5 0 2.5.3 2.5.5 2.5.7 2.5.9 2.5 1 2.6 1.1 2.5 1.1 2.5 1.1 2.5 1.1 2.5 1 2.5.8 2.5.8 2.5.6 2.5.4 2.5.2 2.5-.1 2.5-.6 2.5-1.3 2.5-2.3 2.5-3.4 2.6-4.8 2.5-6 2.5-6.8 2.5-6.8 2.5-5.9 2.5-4.1 2.5-1.4 2.5z" fill="#E8212A" stroke="#1d1d2b" stroke-width="0.8"/><path d="M1298.2 1528.9h0m1.6 0h0m50.2 4h0m-40.3 3.3h0m15.1-1.5h0m.9.4h0m34.6 3.4h0m12.9-3.1h0m.2-1.2h0m-75 10.7h0m1.7-2.9h0m10.6-1.5h0m2.3.5h0m1.8 1.5h0m25.4 1.1h0m5.1-.3h0m26.5-2.6h0m-66.9 5.9h0m9.4-1.5h0m3.9 4.9h0m5.6-2.1h0m6.8 3.1h0m13.7-1.1h0m10.2-3.6h0m4.7.9h0m.5-.9h0m5.8-.6h0m2.2-.2h0m4.9 5.3h0m1.7-1.9h0m-50.1 3.3h0m.9 3h0m7.1-2.2h0m9.2 1.5h0m13.2.8h0m13-.7h0m-69 4.8h0m8.8-.2h0m19.4-2h0m2.9 5.4h0m8-.9h0m7.1-1.6h0m2.9.5h0m19.4-1.4h0m.2 2.6h0m.7-2.7h0m2.7 3.8h0m4.4-1.7h0m.6-3.1h0m2.3 1.4h0m0 2.7h0m-80.4 1.9h0m.8 4.8h0m3.7-1.4h0m1.4 1.4h0m1.6-3.7h0m3.3 3h0m6.8.3h0m2.5-4.4h0m7.9-.9h0m22.4 4.1h0m7.3-3.2h0m3.9 3.3h0m6.3-3.1h0m3.5-.1h0m2.6 3.2h0m.5 1h0m1.2 0h0m0-3.5h0m8.2 3.4h0m-81.1 3.8h0m1.2-1h0m6.7-.1h0m13.2-.4h0m6.2.8h0m5.7 3.2h0m1 .4h0m20.4-4.8h0m1 1.4h0m4.8-1.4h0m8.2 3.8h0m6.3-2.9h0m4.8-2.1h0m-75.3 6.1h0m2.6 5.2h0m12.7-1.5h0m2.6-.3h0m2.6 1.8h0m11.1-.1h0m.4-1.1h0m.7-2h0m.5.8h0m4.5.1h0m10-2.9h0m2.8 2.2h0m.1.5h0m4.4 2.8h0m7.3-5.2h0m2.8 3.3h0m11-1.2h0m-81 8h0m3.8-.7h0m1.3-1.7h0m1.7 0h0m6-.6h0m8.9 2.1h0m2.1-1.7h0m.1.5h0m9.7 1.9h0m.8 1.4h0m.2-1.5h0m2-4h0m2.4 2.6h0m4.7-.2h0m7.9-.6h0m13 1h0m8.4 1.2h0m5.8-.1h0m-81.6 5.4h0m3.8-1.3h0m4.1.3h0m4.1.4h0m5.1.6h0m12.2-1.3h0m11.5.6h0m.7-2.6h0m3.6.9h0m1.3 2.2h0m5.6-1.4h0m1.2 1.8h0m1.4-2.2h0m13.4-.9h0m11 5.3h0m4.2-5.6h0m1.4 2h0m-85 4.2h0m19 4.2h0m.3-3h0m2.8.9h0m6.8-.2h0m3.5.3h0m3.8 1.3h0m9.5 1.2h0m14.6-4.5h0m6.1 3.2h0m1.1-1.1h0m14.8 2.3h0m2.2-2.8h0m-82.3 7.1h0m13.3 1.9h0m3.9-1.3h0m1-2.9h0m.8 4.1h0m.6-4.2h0m.9 4.2h0m1.7-2.6h0m19.7 2.9h0m13.6-2.3h0m.4-1.8h0m1.2.8h0m2.7-.7h0m7.5 2.8h0m7.9-3.9h0m2.8 2.7h0m-78.1 6.3h0m1-.1h0m7.2 1.1h0m7.1-.5h0m4.4-.8h0m3.6.1h0m.4-2.9h0m2.3 3.6h0m1.1-.3h0m1.1 1.7h0m2.1-2.2h0m7.8-1.1h0m6.2.1h0m.3-.2h0m1.7 2h0m5.7.8h0m.1.1h0m.5-1.9h0m7.3.9h0m3 1.2h0m2.4-4.1h0m2 4.2h0m0-4.8h0m.2.2h0m1.5 3h0m.5-1.9h0m1.5 3.4h0m1.2-1.3h0m2-1.9h0m3.8 1.5h0m.2-2.2h0m.5 3.1h0m4.2-4.2h0m-82.9 7h0m3.2-.8h0m.6 4h0m.6-3.1h0m4.1-.4h0m2.6 3.2h0m2.1-2.2h0m4.2 1.5h0m5.2-1.5h0m1.1 2.6h0m.5-3.6h0m4.7-.3h0m3.6.8h0m3.1-.1h0m1.1 2.5h0m4-1.2h0m4.1 1.1h0m4.6 1.6h0m.7-3.2h0m2.5 1.7h0m.5-2.8h0m.8-.4h0m3.3.8h0m2.2 4.1h0m3.6-4.8h0m2.4.6h0m.8 2.2h0m6.4-1.3h0m5.2 0h0m3.7 3.1h0m-78 1.3h0m11.2 5.1h0m1.1-1.3h0m.6-3.3h0m1 0h0m4.3 2.4h0m5.7-2.2h0m.4 3.5h0m.6-.2h0m1.1-3.3h0m4.9 2.6h0m3.5-.6h0m3.3-3h0m8.6 2.6h0m.9-1.7h0m4.7 4h0m5.7-1h0m8.1.8h0m.7-3.8h0m13.5-.4h0m-83.6 6.6h0m.5 2.4h0m1.5-.7h0m3.8-2h0m6.9 4.2h0m7.1-2.6h0m.2-.4h0m2.6-.7h0m3.6-1.1h0m6.5 4.6h0m.7-4.1h0m13 2.2h0m4.8.4h0m1.9-.3h0m4.9-1h0m6.3 2.6h0m1-4.1h0m5.2.7h0m1.9 1.3h0m5.5-1.1h0m1.6-1.2h0m-79.8 8.6h0m13.8-1.7h0m.5 1.5h0m9.2 2h0m.7-.9h0m19.9 0h0m6.2-.3h0m7 .2h0m1.2-3.2h0m3.6 5.5h0m.6-4.6h0m3.1 2.4h0m.5-2.1h0m-59.4 8.8h0m1.2-3.4h0m12.6.4h0m5 4.2h0m.2-2.2h0m18.3 1.5h0m.2-3.6h0m3.9 1.8h0m3 .1h0m5.7-.7h0m3.9 1.1h0m.6-1.6h0m2.5.1h0m15.3-.3h0m1.7-1.5h0m-70.4 6.9h0m19.6 2.7h0m1.6 1h0m14.6-3.4h0m8.7 1.7h0m2.9-2.7h0m4.8.2h0m14.3 1.1h0m-76.1 9.9h0m4.3-4.2h0m1.6-.3h0m36.1 1.1h0m1.8 1.7h0m10.7-.1h0m11-3h0m-58.2 10.1h0" stroke="#141414" stroke-width="2.0" stroke-linecap="round" fill="none"/><path d="M1296.4 1673.5L1382.2 1673.5" stroke="#222" stroke-width="1.6" fill="none"/><rect x="1337.3" y="1526.1" width="4" height="7.6" fill="#333"/><path d="M1182.3 1520.6L1182.3 1682.3" stroke="#000" stroke-width="1.4" fill="none"/><path d="M1181.6 1681.6L1400.5 1681.6" stroke="#000" stroke-width="1.4" fill="none"/><path d="M1442.7 1672.9L1446.7 1672.9" stroke="#222" stroke-width="1" fill="none"/><text x="1441.5" y="1679.8" font-size="19.3" text-anchor="end">0</text><path d="M1442.7 1624.9L1446.7 1624.9" stroke="#222" stroke-width="1" fill="none"/><text x="1441.5" y="1631.8" font-size="19.3" text-anchor="end">1</text><path d="M1442.7 1576.9L1446.7 1576.9" stroke="#222" stroke-width="1" fill="none"/><text x="1441.5" y="1583.8" font-size="19.3" text-anchor="end">2</text><path d="M1442.7 1528.9L1446.7 1528.9" stroke="#222" stroke-width="1" fill="none"/><text x="1441.5" y="1535.8" font-size="19.3" text-anchor="end">3</text><text x="1570.6" y="1513.9" font-size="22.2" text-anchor="middle">Cd160****</text><text x="1425.5" y="1599.6" font-size="18.7" text-anchor="middle" transform="rotate(-90 1425.5 1599.6)">Expression Level</text><path d="M1504.5 1672.6L1504.5 1668.9L1533.8 1671.7L1551.8 1672.6Z" fill="#1A62EE"/><path d="M1462 1672.3L1551.8 1672.3" stroke="#1b1b2a" stroke-width="2.0" fill="none"/><path d="M1504.5 1672.9L1504.5 1540.9" stroke="#1b1b2a" stroke-width="1.1" fill="none"/><path d="M1467.8 1555.9h0m30.8.7h0m19 .2h0m2.3-.9h0m16.1-.1h0m-59.2 4.4h0m3.8-1.1h0m7-1.1h0m5 2.7h0m12.6-.6h0m14.2 1.7h0m-31.5 4h0m11.8 2h0m18.8-1.7h0m1.6-2.7h0m2.2 0h0m23.1 1.4h0m-52.9 8.3h0m55.1-3.8h0m-73.8 6.5h0m38.9.6h0m5.8 2.4h0m10.1-3.1h0m3.4.5h0m6.9 3.5h0m6.5.6h0m-34.6 1.3h0m2.1.4h0m1.1 2.7h0m13.1 1.4h0m.5-.4h0m.7-1.3h0m18.1-1.3h0m-81.7 4.9h0m1.8 1.8h0m18.7 1.2h0m23.9-1h0m3 0h0m6 0h0m.1.2h0m9.8-3.1h0m3.4 3.5h0m17.7-.4h0m-65.3 2.9h0m8.4 2.8h0m1.3-2.4h0m12.1-.2h0m4.7 2.1h0m14.8 3.6h0m13.1-.2h0m2.8-2.8h0m2.3 1h0m-62.5 5.5h0m9.3-1.5h0m19.8.9h0m33.7-1.4h0m-36.5 8.5h0m10.4 1h0m10.3-3.9h0m-25 5.8h0m6.9 2.7h0m-43.7 7.3h0m45.1-2.7h0m1.6 3.7h0m10.2-4h0m4.5.6h0m15.3 2.9h0m-76 4.4h0m5.4-1.1h0m9.2 1.9h0m10.4-.2h0m55.3 1h0m-60.1 4.5h0m5.3-1.4h0m25.4-1.3h0m-8.2 10.6h0m25.2 1h0m-69.8 7.3h0m3 .2h0m1.9-.6h0m2 4h0m23.7.1h0m17-5.3h0m17.2 1.5h0m-62.2 4.4h0m7.5 5h0m.8-.7h0m25.9.4h0m2.9-4.2h0m37.2 1.9h0" stroke="#141414" stroke-width="2.0" stroke-linecap="round" fill="none"/><path d="M1504 1617.7L1508.5 1617.7" stroke="#222" stroke-width="1.0" fill="none"/><path d="M1504 1621.3L1508.5 1621.3" stroke="#222" stroke-width="1.0" fill="none"/><path d="M1504 1658.4L1508.5 1658.4" stroke="#222" stroke-width="1.0" fill="none"/><path d="M1504 1654.4L1508.5 1654.4" stroke="#222" stroke-width="1.0" fill="none"/><path d="M1504 1579.3L1508.5 1579.3" stroke="#222" stroke-width="1.0" fill="none"/><path d="M1504 1600.6L1508.5 1600.6" stroke="#222" stroke-width="1.0" fill="none"/><path d="M1504 1574.2L1508.5 1574.2" stroke="#222" stroke-width="1.0" fill="none"/><path d="M1504 1601.6L1508.5 1601.6" stroke="#222" stroke-width="1.0" fill="none"/><path d="M1504 1568.6L1508.5 1568.6" stroke="#222" stroke-width="1.0" fill="none"/><path d="M1504 1666.8L1508.5 1666.8" stroke="#222" stroke-width="1.0" fill="none"/><path d="M1504 1664.5L1508.5 1664.5" stroke="#222" stroke-width="1.0" fill="none"/><path d="M1504 1663.6L1508.5 1663.6" stroke="#222" stroke-width="1.0" fill="none"/><path d="M1504 1634.5L1508.5 1634.5" stroke="#222" stroke-width="1.0" fill="none"/><path d="M1504 1665L1508.5 1665" stroke="#222" stroke-width="1.0" fill="none"/><path d="M1504 1559.6L1508.5 1559.6" stroke="#222" stroke-width="1.0" fill="none"/><path d="M1504 1618L1508.5 1618" stroke="#222" stroke-width="1.0" fill="none"/><path d="M1504 1575.8L1508.5 1575.8" stroke="#222" stroke-width="1.0" fill="none"/><path d="M1504 1566.8L1508.5 1566.8" stroke="#222" stroke-width="1.0" fill="none"/><path d="M1504 1575.1L1508.5 1575.1" stroke="#222" stroke-width="1.0" fill="none"/><path d="M1504 1618.2L1508.5 1618.2" stroke="#222" stroke-width="1.0" fill="none"/><path d="M1504 1602.5L1508.5 1602.5" stroke="#222" stroke-width="1.0" fill="none"/><path d="M1504 1560L1508.5 1560" stroke="#222" stroke-width="1.0" fill="none"/><path d="M1504 1639.2L1508.5 1639.2" stroke="#222" stroke-width="1.0" fill="none"/><path d="M1504 1603.1L1508.5 1603.1" stroke="#222" stroke-width="1.0" fill="none"/><path d="M1504 1575.2L1508.5 1575.2" stroke="#222" stroke-width="1.0" fill="none"/><rect x="1503.2" y="1598.5" width="3.2" height="60" fill="#222"/><path d="M1649.9 1672.9l-1.4-2.5-3.8-2.5-5.7-2.6-6.5-2.5-6.7-2.5-5.9-2.5-4.8-2.6-3.6-2.5-2.4-2.5-1.5-2.5-.7-2.6-.2-2.5.2-2.5.4-2.5.6-2.6.8-2.5.8-2.5.9-2.5 1-2.6.9-2.5.9-2.5.7-2.5.5-2.6.3-2.5.1-2.5 0-2.5-.1-2.6-.1-2.5-.2-2.5-.1-2.5-.3-2.5-.2-2.6-.3-2.5-.3-2.5-.3-2.5-.4-2.6-.3-2.5-.4-2.5-.4-2.5-.3-2.6-.4-2.5-.4-2.5-.4-2.5-.3-2.6-.4-2.5-.3-2.5-.4-2.5-.3-2.6-.3-2.5-.3-2.5-.2-2.5-.3-2.6-.2-2.5-.2-2.5-.2-2.5-.2-2.6-.2-2.5-.1-2.5-2 0-.1 2.5-.2 2.5-.2 2.6-.2 2.5-.2 2.5-.2 2.5-.3 2.6-.2 2.5-.3 2.5-.3 2.5-.3 2.6-.4 2.5-.3 2.5-.4 2.5-.3 2.6-.4 2.5-.4 2.5-.4 2.5-.3 2.6-.4 2.5-.4 2.5-.3 2.5-.4 2.6-.3 2.5-.3 2.5-.3 2.5-.2 2.6-.3 2.5-.1 2.5-.2 2.5-.1 2.5-.1 2.6 0 2.5.1 2.5.3 2.5.5 2.6.7 2.5.9 2.5.9 2.5 1 2.6.9 2.5.8 2.5.8 2.5.6 2.6.4 2.5.2 2.5-.2 2.5-.7 2.6-1.5 2.5-2.4 2.5-3.6 2.5-4.8 2.6-5.9 2.5-6.7 2.5-6.5 2.5-5.7 2.6-3.8 2.5-1.4 2.5z" fill="#E8212A" stroke="#1d1d2b" stroke-width="0.8"/><path d="M1563.7 1528.5h0m17.3 2h0m2.4 2.3h0m20.2-1.2h0m2.7-2.9h0m7.5.5h0m21 2.3h0m-54.5 5.4h0m16.8-.1h0m28.5-1.6h0m8.7-2.2h0m.5.4h0m5.3 2.4h0m-55.3 7.6h0m16.4-4.3h0m5.6 1.4h0m3.9-.1h0m23.3-.4h0m4.6 4.6h0m3.8-1.9h0m-78.5 5.5h0m5-2.8h0m.6 5.6h0m2.3-2.2h0m17-.8h0m8.3-2.9h0m13.4 3.6h0m10.3.3h0m2.2.2h0m0-1.2h0m3.2-1.1h0m-55.5 8.8h0m13-1.7h0m42.1 1.4h0m4.1-3.5h0m13.6-.2h0m4 4.6h0m-73.6 3h0m14 3.6h0m7.5-4.1h0m13.3.5h0m11.6.2h0m21.4 2.5h0m2 .4h0m-62.8 6.5h0m31.8-3.1h0m0 2.9h0m3.8-3h0m.6 2.3h0m2.4-3.9h0m8.2 2.7h0m.1-1.8h0m9.3 1h0m2.2-1.9h0m.6 3.3h0m-72.5 3.3h0m11.1 1h0m1.3 1.5h0m24.7-1.4h0m1.5 3h0m.1-3.6h0m5 .4h0m1.7 0h0m5.5-1.5h0m14.7 4.8h0m.1-4.6h0m6-.7h0m-75.8 8.5h0m15.6 1.3h0m5.9-4.2h0m2.2 4.1h0m18.8-2.2h0m14.2-.9h0m2.5-1.1h0m.9 0h0m1.3 1.1h0m2.6 4.5h0m-61.5.9h0m12.1 5.2h0m1.7-4.1h0m3.9-1.4h0m4.2 2h0m4.4 1.4h0m21.4-.3h0m12.4 1.7h0m10.5-1.5h0m6.7-3.1h0m2.3 3.1h0m-81.6 6.9h0m8.1-2.4h0m10.5 3.5h0m2.1-.3h0m2.8.5h0m14.5-1.3h0m.6.1h0m13.7-2.8h0m.2.6h0m6.3-2.2h0m6.4.9h0m7.4 4.7h0m2.6-5.3h0m-66.2 9.4h0m4 .8h0m29.3-3.3h0m.8-.3h0m8.4 3.1h0m1.9.7h0m2.4-2.9h0m2.5.5h0m2.2-1.9h0m8.5 3.5h0m6.7-2.6h0m3.5-.3h0m-71 8.4h0m14.3-.6h0m16.7-.8h0m8.9 1.8h0m3.9-.6h0m2.9-3.3h0m15.4 3.5h0m9-.8h0m3.2 2h0m.2 1.1h0m-75.5 3.6h0m5.9 1.4h0m25.1-3.7h0m.4 1.8h0m6.1-2.5h0m19.2 5.1h0m11.3-5.6h0m4.2 0h0m-78 11.1h0m.9-.9h0m3.7-3h0m2-.1h0m2.4 1h0m1.1-1h0m2.6.5h0m3.6 3.8h0m6.6-2.9h0m2.2.1h0m6.7-.2h0m2.5 1.8h0m3.4-3.2h0m5.6 1.3h0m2.7-2.1h0m2.3 5.1h0m1.5-3.1h0m7.3 2.8h0m.1 0h0m1.4-4.3h0m.2 2.1h0m11.9-1.2h0m-67.3 7.2h0m0-2.4h0m2.2 2.4h0m.9 0h0m.3.5h0m3.5-.3h0m8.2 1.8h0m4.7-.6h0m.7-2.1h0m4.3 3.9h0m1.8-2.9h0m1.1-2.2h0m.9 1.4h0m2.8-.4h0m9 3.1h0m.8-5h0m1 2.2h0m5.8 2.9h0m2.6-2.6h0m.6 2.2h0m1.5.8h0m1-2.3h0m1.5-.8h0m2.8-2.1h0m1.7 1.5h0m4.7.7h0m1-.9h0m.8.9h0m4.4-.1h0m7.3 1h0m-74 3.8h0m4.6-1h0m2.4 1.3h0m.3.9h0m2.3 3.4h0m2.9-3.1h0m1.9-2.3h0m7.9.4h0m1.7 2.3h0m.8 1.5h0m1.2.5h0m4.4-4.5h0m3.1 4.4h0m7.8-1.8h0m3.4-1.8h0m1.3.6h0m1.7.4h0m1-.8h0m5.5-1.1h0m.6.6h0m.9.8h0m4.6-.5h0m3-1.1h0m2.2 1.5h0m5.3 2h0m-80.8 4.7h0m2.6 2.2h0m24.4-1.4h0m1.7-2.8h0m3.8 1.6h0m.8-1.5h0m12.7 2.7h0m2.7.8h0m.1.2h0m9.8-.8h0m1.8-1.5h0m.6.8h0m5.5.7h0m0 .2h0m1.9-2.5h0m1-.3h0m5 4.2h0m3.4-2.9h0m-61.2 6.5h0m10.6-2.5h0m2.9 1.8h0m7-.4h0m.3-1.1h0m1.4.9h0m2.8 1.4h0m3.5-2.7h0m7.2 4.4h0m8.7-4.4h0m4.2 3.5h0m12.5-.1h0m6.5 0h0m-57.4 3.1h0m8.5 4.1h0m10.1.8h0m3.7-4h0m26.2 3.1h0m.4-4.4h0m5.8.7h0m-21.6 9.1h0m1.8-3.5h0m10.6 3h0m12.3.9h0m-64.4 4.6h0m1-1.4h0m6.2-1h0" stroke="#141414" stroke-width="2.0" stroke-linecap="round" fill="none"/><path d="M1562.3 1672.4L1647.7 1672.4" stroke="#222" stroke-width="1.6" fill="none"/><rect x="1602.5" y="1524.1" width="5" height="7.2" fill="#333"/><rect x="1603.5" y="1603.3" width="3" height="14.4" fill="#333"/><path d="M1446.7 1517.1L1446.7 1678.8" stroke="#000" stroke-width="1.4" fill="none"/><path d="M1446 1678.1L1664.4 1678.1" stroke="#000" stroke-width="1.4" fill="none"/><path d="M1706.8 1669L1710.8 1669" stroke="#222" stroke-width="1" fill="none"/><text x="1705.6" y="1675.9" font-size="19.3" text-anchor="end">0</text><path d="M1706.8 1635.4L1710.8 1635.4" stroke="#222" stroke-width="1" fill="none"/><text x="1705.6" y="1642.3" font-size="19.3" text-anchor="end">1</text><path d="M1706.8 1601.8L1710.8 1601.8" stroke="#222" stroke-width="1" fill="none"/><text x="1705.6" y="1608.7" font-size="19.3" text-anchor="end">2</text><path d="M1706.8 1568.2L1710.8 1568.2" stroke="#222" stroke-width="1" fill="none"/><text x="1705.6" y="1575.1" font-size="19.3" text-anchor="end">3</text><path d="M1706.8 1534.6L1710.8 1534.6" stroke="#222" stroke-width="1" fill="none"/><text x="1705.6" y="1541.5" font-size="19.3" text-anchor="end">4</text><text x="1825.2" y="1513.9" font-size="22.2" text-anchor="middle">Ifng****</text><text x="1686.5" y="1599.6" font-size="18.7" text-anchor="middle" transform="rotate(-90 1686.5 1599.6)">Expression Level</text><path d="M1816.7 1669l-2-2.5-5.5-2.6-7.6-2.5-8-2.5-7-2.6-5.2-2.5-3.3-2.5-1.6-2.6-.6-2.5.1-2.5.5-2.6.7-2.5.8-2.6.7-2.5.7-2.5.7-2.6.5-2.5.4-2.5.2-2.6.1-2.5 0-2.5-.1-2.6-.1-2.5-.1-2.5-.1-2.6-.2-2.5-.2-2.5-.2-2.6-.3-2.5-.2-2.5-.3-2.6-.3-2.5-.3-2.5-.4-2.6-.3-2.5-.3-2.6-.4-2.5-.3-2.5-.4-2.6-.3-2.5-.3-2.5-.3-2.6-.4-2.5-.3-2.5-.3-2.6-.2-2.5-.3-2.5-.3-2.6-.2-2.5-.2-2.5-.2-2.6-.2-2.5-.2-2.5-.2-2.6-.1-2.5-.2-2.5-.1-2.6-2 0-.1 2.6-.2 2.5-.1 2.5-.2 2.6-.2 2.5-.2 2.5-.2 2.6-.2 2.5-.2 2.5-.3 2.6-.3 2.5-.2 2.5-.3 2.6-.3 2.5-.4 2.5-.3 2.6-.3 2.5-.3 2.5-.4 2.6-.3 2.5-.4 2.5-.3 2.6-.3 2.5-.4 2.6-.3 2.5-.3 2.5-.3 2.6-.2 2.5-.3 2.5-.2 2.6-.2 2.5-.2 2.5-.1 2.6-.1 2.5-.1 2.5-.1 2.6 0 2.5.1 2.5.2 2.6.4 2.5.5 2.5.7 2.6.7 2.5.7 2.5.8 2.6.7 2.5.5 2.6.1 2.5-.6 2.5-1.6 2.6-3.3 2.5-5.2 2.5-7 2.6-8 2.5-7.6 2.5-5.5 2.6-2 2.5z" fill="#1A62EE" stroke="#1d1d2b" stroke-width="0.8"/><path d="M1747.1 1526.5h0m-10.4 11.4h0m29.5-3.3h0m7.6 4h0m5.9-2.5h0m22.8-1.2h0m-58.7 5.5h0m1.6 3.5h0m52.1.9h0m-59 4.9h0m1.5 1.1h0m2.9-4h0m10.3 1h0m16.4.3h0m27.5-2.4h0m-38.5 11.2h0m12.4-3.7h0m31 2.7h0m-72.2 4.1h0m35.8-.2h0m8.1.9h0m22.8-2h0m-38.8 7.8h0m11.5-3h0m1.5.9h0m4.6 1.3h0m13.4-.4h0m4.3 2.2h0m4.5-.6h0m7.3-1.9h0m-66.6 4.4h0m4.5 2.7h0m10-1.4h0m5.9 2.5h0m8.6-1.4h0m4.8 2.8h0m6.7.2h0m1.7-1.6h0m25.8.5h0m-77.2 2.2h0m17.1 3.8h0m.7-2.1h0m10.8.1h0m10.7 2h0m.8-1.2h0m-35 6.5h0m13.8-.7h0m.2-1.5h0m6.3-1.5h0m1.1 4h0m4.9-2.9h0m5.5 3.7h0m2.7-2.1h0m8.2-2.8h0m11.2 3.6h0m2.9-3.6h0m5.8 2.9h0m9.8-2.7h0m2.5 3.5h0m2.5-3.1h0m-70.2 9.8h0m2.6-3.8h0m4.8 4.8h0m1.7-1.9h0m5 1.8h0m.7-.8h0m7.9-3.7h0m1.8.5h0m.1 3.2h0m42.6-4.4h0m-72 10.4h0m6.2-.7h0m.2-4h0m17.5 1.9h0m7.6 1.4h0m4.9-1.3h0m23.8 1.1h0m.1-1.1h0m4.5.1h0m1.3 2.1h0m-65.9 7.7h0m14.2-4.9h0m8.9 3.8h0m2.5-1.7h0m12.8-.6h0m14 .5h0m1.2-2.9h0m1.1 2.9h0m14.4-.6h0m6.5 1.4h0m.5-.9h0m.7 1.2h0m-83.4 3.7h0m2 3.5h0m54.9-3.8h0m2.2-1.4h0m10.3 1.8h0m2.2-1.3h0m.6-.1h0m4.4 1.6h0m5.7.4h0m1.3-2.5h0m-65 8.9h0m15.4 0h0m4.1 2.3h0m12.5-2h0m.1-.8h0m4.5-1.3h0m13.6-.7h0m2.1 4.3h0m-68 1.9h0m.6 2.4h0m7.9-2.3h0m6.7 4.8h0m6.8-2.3h0m1.1-2.2h0m2.3 3h0m8.4.4h0m2.5 0h0m4.5-.8h0m.6-1.4h0m7.9.7h0m1.7 1.8h0m9.1-4h0m.2 1.7h0m2.3 2.4h0m1.6-.5h0m7.3-1.9h0m.7-.6h0m8.9 0h0m-75.8 6.4h0m2.8-1.6h0m1.7 3.9h0m3.3-.6h0m5.9-2h0m1.9-1.5h0m4.6 2h0m1.5-2.1h0m9.7 2.8h0m.5-2.9h0m4.1 4.5h0m2 .4h0m2.9.7h0m1.9-5.2h0m.4-.4h0m1.6 1.7h0m1.4 1.1h0m1.2 2.3h0m5-4h0m.1 4.4h0m.5-2.6h0m4.9-2.7h0m5.9 2.6h0m2.3 1.1h0m2.2-.4h0m.3 1.2h0m6-3.9h0m.5 1.9h0m-78.6 9h0m3.5-.4h0m4-5.3h0m0 1h0m.2 3h0m1.8-3.7h0m3.4-.4h0m4.4 3.3h0m1.3 2.5h0m1.7-1.2h0m4.5.1h0m1-3.1h0m7-.2h0m2.1 4h0m.5-4.9h0m1 4.3h0m1.8-1h0m8.5.1h0m5.5-2.1h0m15 1.1h0m1.7-2.1h0m7.4 4.2h0m-77.9 1.9h0m.1-.4h0m2.2 3h0m2 1h0m3.9.4h0m.7-.4h0m.9-.7h0m6.2-3.8h0m.7.2h0m2.4.4h0m4.4-.2h0m11-.4h0m19 .5h0m12.4 2.9h0m6.5 1.9h0m1.7-2.6h0m-78.3 6.9h0m1.6-1.2h0m9.3 1h0m14.9 1.3h0m1.1.2h0m.9.3h0m6.3-1.9h0m5.9.6h0m.6-1.9h0m2.5-1.5h0m5.9-.4h0m20 5.1h0m10.3-4.6h0m1.6 3.8h0m.1 1.1h0m.9-1.9h0m.2-.2h0m-76.8 8.1h0m8-1.1h0m.4.2h0m.1-1.2h0m22.2-2.1h0m3.7 1.3h0m32.1 1.8h0m8.5-.4h0m.6 1.2h0m.2-1.2h0m1 .9h0m-77.2 6.2h0m3.4.6h0m.7-4.7h0m10.3.7h0m2.7-.7h0m7 .9h0m7.4 2.6h0m3.7-2.8h0m5.6-1.3h0m1.2-.4h0m2 1.2h0m5.3 2.4h0m0-2.8h0m4.9.1h0m16.9 4.5h0m-42.3 8.2h0m10.5-1.2h0" stroke="#141414" stroke-width="2.0" stroke-linecap="round" fill="none"/><path d="M1728.8 1668.5L1814.2 1668.5" stroke="#222" stroke-width="1.6" fill="none"/><rect x="1768.5" y="1551.4" width="6" height="13.4" fill="#333"/><rect x="1768.5" y="1524.5" width="6" height="6.7" fill="#333"/><path d="M1917.6 1669l-1.3-2.5-3.7-2.5-5.4-2.5-6.3-2.5-6.4-2.5-5.7-2.5-4.4-2.5-3.2-2.5-1.8-2.5-.7-2.5.2-2.6.9-2.5 1.3-2.5 1.6-2.5 1.7-2.5 1.6-2.5 1.6-2.5 1.3-2.5 1-2.5.6-2.5.1-2.5-.1-2.5-.1-2.5-.3-2.5-.3-2.5-.4-2.5-.5-2.5-.6-2.5-.6-2.5-.7-2.5-.7-2.5-.8-2.6-.8-2.5-.8-2.5-.8-2.5-.8-2.5-.8-2.5-.8-2.5-.7-2.5-.7-2.5-.7-2.5-.7-2.5-.6-2.5-.6-2.5-.6-2.5-.5-2.5-.4-2.5-.5-2.5-.3-2.5-.4-2.5-.3-2.5-.3-2.5-.2-2.6-.2-2.5-.2-2.5-2 0-.2 2.5-.2 2.5-.2 2.6-.3 2.5-.3 2.5-.4 2.5-.3 2.5-.5 2.5-.4 2.5-.5 2.5-.6 2.5-.6 2.5-.6 2.5-.7 2.5-.7 2.5-.7 2.5-.7 2.5-.8 2.5-.8 2.5-.8 2.5-.8 2.5-.8 2.5-.8 2.5-.8 2.6-.7 2.5-.7 2.5-.6 2.5-.6 2.5-.5 2.5-.4 2.5-.3 2.5-.3 2.5-.1 2.5-.1 2.5.1 2.5.6 2.5 1 2.5 1.3 2.5 1.6 2.5 1.6 2.5 1.7 2.5 1.6 2.5 1.3 2.5.9 2.5.2 2.6-.7 2.5-1.8 2.5-3.2 2.5-4.4 2.5-5.7 2.5-6.4 2.5-6.3 2.5-5.4 2.5-3.7 2.5-1.3 2.5z" fill="#E8212A" stroke="#1d1d2b" stroke-width="0.8"/><path d="M1835.6 1537.7h0m11-2.2h0m26.7-2h0m2.2 2.2h0m9.9-1.2h0m.7 1.7h0m6.1-1.5h0m19 4h0m1.2-1h0m-72.7 4.9h0m15.2 1.6h0m9.6-4.8h0m2.1 1h0m12.8 1.5h0m12 1.6h0m1.5-1.4h0m14.3 1.4h0m-71.9 4.4h0m25.4.4h0m20.9 1.1h0m9.9-1.5h0m9.5-.8h0m5.4 3.4h0m2.4-4.4h0m5.3 2.9h0m-74.8 6.3h0m3.3-.1h0m.5-3.5h0m2.3 3.3h0m1.1-3h0m4.2 2.8h0m10.3-2.8h0m10.7 3.9h0m4-2h0m6.6-.6h0m10.5 3.5h0m4 0h0m4.3-.8h0m-60.7 4.8h0m14.4 1.8h0m6.7-2.2h0m.6 1.2h0m7.1.7h0m21.3-2.9h0m.4-2.3h0m2.7 3.7h0m12.6-1h0m1.1-1.2h0m-24.7 5.9h0m.5-.1h0m4.5 2.8h0m2-4h0m10.4 2h0m2.1.3h0m6.1 2.6h0m-79.3 1.7h0m0 2.5h0m2.7 1.3h0m.5-2.9h0m3.4 2.9h0m16.3-2.8h0m1 3.3h0m4.3-4.9h0m7 1.2h0m3.9 3.2h0m4.5 1h0m11.5-4.4h0m4.7 3.7h0m.5-4.3h0m.9 2.7h0m1.1 1.2h0m.2-3.6h0m.4 2.1h0m3.6.2h0m.3-1.4h0m15.4 3.8h0m-82.3 4.5h0m9.6-.3h0m7.2-1.4h0m.2.5h0m2.7 1.1h0m5.8-3.2h0m9.7 1.8h0m20.4-1.9h0m10.4 5.1h0m5.2-.3h0m.6-1.2h0m7-2h0m.4.8h0m4-2.7h0m-81.5 11.3h0m9.7-4.5h0m7.3 4.3h0m2.5-2.6h0m4.7-2.8h0m10.6 2h0m4.5-.3h0m13.3 2.6h0m19.2-3.5h0m7.7 1.8h0m-81.3 7.8h0m8.6-3.8h0m.8 4.7h0m3.4-1.9h0m10.8-2.6h0m4 1.9h0m.4.2h0m1.3-.5h0m5.8 2.4h0m1.5.1h0m.2.8h0m13.4-1.1h0m11.5-1.9h0m7.4.5h0m9.1-2.3h0m3.8-.7h0m1.2 3.6h0m1.2-2.6h0m1.1 2.2h0m-74.7 6.6h0m1.5 1.1h0m3.1.3h0m1.6-2.3h0m4.8-2.8h0m1.7 5.5h0m3.2-3.9h0m6.2 3.9h0m4.1-1.3h0m12.3-3.4h0m7 .7h0m.1 0h0m4.5-1.1h0m4.8-.2h0m2.6 5.1h0m.6-5.5h0m5 5h0m5 .4h0m-71.2 5.5h0m3-1.6h0m5.7 1.3h0m8.6-.4h0m.2-2.2h0m6.9 2.3h0m8.7-2.8h0m7.5.9h0m6.9 2.5h0m8.8-4.5h0m13.4 1.2h0m-76.5 7h0m3.8-.9h0m3.7.8h0m4.5-.4h0m6.1 1.2h0m.8 1.2h0m1-4.5h0m3.4 4.1h0m1.2-3.6h0m2.4-.3h0m.6 2.1h0m1.9.5h0m10.8-2.3h0m.5.6h0m2.8 1h0m2.5.1h0m6.5 3.2h0m7.7 0h0m9.9-2.6h0m3.3 1.6h0m10.5.1h0m-82.5 3.2h0m5.7 1.4h0m5.8.1h0m4 .2h0m4.1 1.6h0m.4-1.4h0m2.6-2.9h0m3.6.7h0m5.8.2h0m8 1.6h0m.2-2.2h0m1.8 3.1h0m4.7-.1h0m1.8-3.6h0m2.2 3.9h0m9-3.7h0m1.5.6h0m17.3-.5h0m.7 3.5h0m3.9.9h0m-84.5 3.3h0m1.8 2.8h0m1.5-3.8h0m1.4.9h0m5 .3h0m2.7 1.4h0m0-3.6h0m1.1 1.4h0m2.9 2.2h0m3.6-.6h0m3.3-1.8h0m1.4 3.8h0m.4-5h0m.3 3.3h0m.9 1.9h0m.3-4.8h0m2.6-.4h0m.3 4.8h0m5.2-4.8h0m.4 1.5h0m2.3-1h0m2.3-.9h0m2.8 2.5h0m2.3 1.7h0m5.4-3.2h0m5.6 2.2h0m1-2.8h0m.3 4.5h0m.5-4.9h0m.9 4.2h0m1-3.9h0m.7 1.4h0m.2 2.4h0m3.8-4.1h0m2.2 1.4h0m3.9 1.6h0m4.4 1.1h0m1-.8h0m.3-1.7h0m.5-1.4h0m.1 5.5h0m2.5-5.8h0m.4 5.6h0m.6-1.1h0m3.4-.3h0m.4-1.1h0m1.4-3.1h0m-78.3 8.7h0m2.6 2h0m.2-2.5h0m3.2 3h0m2.1-3.2h0m.3.2h0m.4 1.3h0m.4 1.5h0m4.8-4.5h0m2.1-.4h0m1-.1h0m.2 1.5h0m2.4 1.7h0m.2.6h0m.6-1.2h0m4.2-2.3h0m.5 2.7h0m3.2-2.2h0m3 4.1h0m.7-1.1h0m2.2-1.5h0m1.1-2.2h0m3.1 3.1h0m2.1 1.6h0m1.2.5h0m1.1-2.5h0m1.1-2.4h0m1 .9h0m3.8 1.1h0m.6.6h0m.7 2.7h0m.9-3.8h0m.1 1.8h0m1.3-.6h0m.5 2.7h0m.5-4.7h0m.3-.1h0m12.8-.3h0m.3 4h0m.2-2.7h0m3.1 3.4h0m.8-4.4h0m.1.2h0m2.3-.9h0m.1 2.8h0m.3-1.8h0m.1 2.4h0m.5 0h0m-81.1 7h0m.5 1.1h0m.9.1h0m.3-2.2h0m.2-2.4h0m4.8 4.4h0m.6-5.1h0m2.6 3.3h0m2.6 2h0m6.6-4h0m3.4 3.2h0m.3-2.3h0m1.1-2.6h0m.9 4.6h0m.2-3.7h0m7.8.2h0m1.8.7h0m2.3.3h0m1 .6h0m2.1-1.8h0m2.2 1.7h0m5.1-1.3h0m.8 2.7h0m1.4-4.1h0m4.4 3.6h0m4.1-.7h0m3-1.9h0m8.9 3h0m1.7-.2h0m.3-3.7h0m.7 2.8h0m1.5-.6h0m3.2 1.5h0m.2-3.5h0m1.1 4.1h0m.5-3.8h0m1 1.3h0m5-.5h0m.3 1.1h0m-77.1 7.4h0m.4 1.5h0m1.3-1.3h0m2.2-1.7h0m2.6-.7h0m10.6 1.1h0m1.5-1.8h0m10.3.9h0m1.9 3h0m1.9-5h0m2.4 5.4h0m3.1-3.1h0m12.8.2h0m1.3-2.3h0m6.8.1h0m.3 1.2h0m4.7.9h0m7.4 1.4h0m1.9-2.6h0m-82.5 6.6h0m6.9-.8h0m1.1 4.8h0m6.5-1.6h0m13.1 1.5h0m7.1-.8h0m.4-.3h0m6.9-3.7h0m13 1.8h0m6.3-.6h0m5 1.1h0m2 .2h0m.1-3.2h0m.3 5.6h0m11.1-2h0m-79.9 2.3h0m2.8-.1h0m.5.7h0m5.8.5h0m6.8-.6h0m1.7 1.3h0m3 1h0m1.9.2h0m1.8 1.6h0m1.9-4.1h0m7 0h0m4.8.9h0m15.9-.8h0m20.4 1.9h0m1.2 1.4h0m1.2 1.5h0m.3-4.2h0m-76 5.1h0m4.9 4h0m29-2.1h0m16.2-.2h0m13.2 1.7h0m3.6-2.1h0m2.9 3.4h0m1.3-1.3h0m7.3-1.7h0m-68.1 4.3h0m18 .6h0m1.4-.3h0m53.6 2.4h0" stroke="#141414" stroke-width="2.0" stroke-linecap="round" fill="none"/><path d="M1828.4 1668.5L1915.2 1668.5" stroke="#222" stroke-width="1.6" fill="none"/><path d="M1710.8 1517.1L1710.8 1678.8" stroke="#000" stroke-width="1.4" fill="none"/><path d="M1710.1 1678.1L1929.6 1678.1" stroke="#000" stroke-width="1.4" fill="none"/><text x="1270.5" y="1790" font-size="28" font-weight="bold">j</text><text x="1343.7" y="1793.1" font-size="26.8">CD8 T cell chemokine receptor genes</text><rect x="1572.8" y="1846" width="30.3" height="11.7" fill="#1A62EE"/><rect x="1572.8" y="1872" width="30.3" height="11.7" fill="#E8212A"/><text x="1609.6" y="1856.9" font-size="23.1">Ctrl groups</text><text x="1609.6" y="1887.2" font-size="23.1">MICB-vax (+dox)</text><text x="1577.1" y="1922.7" font-size="22.7">****P&lt;0.0001</text><path d="M1303.7 2002.8L1307.7 2002.8" stroke="#222" stroke-width="1" fill="none"/><text x="1302.5" y="2009.7" font-size="19.3" text-anchor="end">0</text><path d="M1303.7 1945.1L1307.7 1945.1" stroke="#222" stroke-width="1" fill="none"/><text x="1302.5" y="1952" font-size="19.3" text-anchor="end">1</text><path d="M1303.7 1887.4L1307.7 1887.4" stroke="#222" stroke-width="1" fill="none"/><text x="1302.5" y="1894.3" font-size="19.3" text-anchor="end">2</text><text x="1428.9" y="1832.9" font-size="22.2" text-anchor="middle">Cxcr3****</text><text x="1284.5" y="1925.6" font-size="22.1" text-anchor="middle" transform="rotate(-90 1284.5 1925.6)">Expression Level</text><path d="M1369.2 2002.5L1369.2 1998.8L1399.2 2001.6L1418.5 2002.5Z" fill="#1A62EE"/><path d="M1321.9 2002.2L1418.5 2002.2" stroke="#1b1b2a" stroke-width="2.0" fill="none"/><path d="M1369.2 2002.8L1369.2 1847" stroke="#1b1b2a" stroke-width="1.1" fill="none"/><path d="M1327 1860.2h0m14.5 1.4h0m12.4-.7h0m3.3-.5h0m7.8-1.7h0m1.4 2.2h0m48.1-.8h0m-59.5 7.1h0m21.3-.1h0m30.8.2h0m-76 5.3h0m24.9 1.4h0m4.8-.2h0m10.5-1.8h0m11.3-2.4h0m19.7 1.3h0m-33.6 5.8h0m9.4.8h0m25.4.5h0m-65.8 4h0m62.3 2.8h0m13.2 1.9h0m-86.6 2.7h0m34.6-1.3h0m1.1 1h0m1.6-2h0m-37.9 10.5h0m28.9-4.4h0m29.6 2.8h0m10-1.8h0m11.3 1.5h0m1.8 1.5h0m-72.6 7.6h0m65.9 1.8h0m5.6 1.6h0m-12.6 12.8h0m19.6-.9h0m-80 4.4h0m14.2.7h0m17.4 1.3h0m12.1 2.4h0m8-4.1h0m26 2.7h0m-85.4 4.6h0m22.7-.7h0m3.7-1.8h0m3.9 1.2h0m1.7 1.7h0m14 .8h0m20.8.6h0m10.4.6h0m6.5-4.2h0m-67.2 5.7h0m1.7 1.3h0m26.1-1h0m-45.1 8h0m26.9-1.9h0m49.9-.2h0m-69.4 7.8h0m24.4-.6h0m55.8 2.5h0m-65.3 1.3h0m24.2 10.7h0m8.6 0h0m3.4 1h0m8.7-5.8h0m20.4.8h0m1.3-.8h0m-76.5 8.2h0m8.6-.5h0m1.6-.6h0m10.8 4.5h0m26.7-1.1h0m6 6.5h0m2.3-4h0m12.2 2.2h0m-64.5 3h0m13.4.9h0m-20.9 5.9h0m29.8-.1h0" stroke="#141414" stroke-width="2.0" stroke-linecap="round" fill="none"/><path d="M1368.7 1955.4L1373.2 1955.4" stroke="#222" stroke-width="1.0" fill="none"/><path d="M1368.7 1946.5L1373.2 1946.5" stroke="#222" stroke-width="1.0" fill="none"/><path d="M1368.7 1961.9L1373.2 1961.9" stroke="#222" stroke-width="1.0" fill="none"/><path d="M1368.7 1855.7L1373.2 1855.7" stroke="#222" stroke-width="1.0" fill="none"/><path d="M1368.7 1940L1373.2 1940" stroke="#222" stroke-width="1.0" fill="none"/><path d="M1368.7 1960.1L1373.2 1960.1" stroke="#222" stroke-width="1.0" fill="none"/><path d="M1368.7 1861.2L1373.2 1861.2" stroke="#222" stroke-width="1.0" fill="none"/><path d="M1368.7 1949.2L1373.2 1949.2" stroke="#222" stroke-width="1.0" fill="none"/><path d="M1368.7 1913.7L1373.2 1913.7" stroke="#222" stroke-width="1.0" fill="none"/><path d="M1368.7 1971.2L1373.2 1971.2" stroke="#222" stroke-width="1.0" fill="none"/><path d="M1525.4 2002.8l-.5-2.5-1.7-2.5-2.7-2.5-3.5-2.5-4-2.5-4.4-2.5-4.5-2.5-4.3-2.6-4-2.5-3.6-2.5-3-2.5-2.5-2.5-1.9-2.5-1.4-2.5-.9-2.5-.6-2.5-.1-2.5.1-2.5.3-2.5.5-2.5.7-2.5.7-2.5.8-2.6.7-2.5.8-2.5.7-2.5.6-2.5.5-2.5.4-2.5.2-2.5.1-2.5 0-2.5-.1-2.5-.2-2.5-.2-2.5-.3-2.5-.3-2.5-.4-2.6-.4-2.5-.4-2.5-.5-2.5-.5-2.5-.5-2.5-.6-2.5-.5-2.5-.5-2.5-.5-2.5-.5-2.5-.5-2.5-.5-2.5-.4-2.5-.5-2.5-.4-2.6-.3-2.5-.4-2.5-.3-2.5-.2-2.5-.3-2.5-.2-2.5-.2-2.5-.2-2.5-2 0-.2 2.5-.2 2.5-.2 2.5-.3 2.5-.2 2.5-.3 2.5-.4 2.5-.3 2.5-.4 2.6-.5 2.5-.4 2.5-.5 2.5-.5 2.5-.5 2.5-.5 2.5-.5 2.5-.5 2.5-.6 2.5-.5 2.5-.5 2.5-.5 2.5-.4 2.5-.4 2.5-.4 2.6-.3 2.5-.3 2.5-.2 2.5-.2 2.5-.1 2.5 0 2.5.1 2.5.2 2.5.4 2.5.5 2.5.6 2.5.7 2.5.8 2.5.7 2.5.8 2.6.7 2.5.7 2.5.5 2.5.3 2.5.1 2.5-.1 2.5-.6 2.5-.9 2.5-1.4 2.5-1.9 2.5-2.5 2.5-3 2.5-3.6 2.5-4 2.5-4.3 2.6-4.5 2.5-4.4 2.5-4 2.5-3.5 2.5-2.7 2.5-1.7 2.5-.5 2.5z" fill="#E8212A" stroke="#1d1d2b" stroke-width="0.8"/><path d="M1436.9 1850.7h0m57.3.2h0m-57.6 2.5h0m21.2-.4h0m8.7-.8h0m11.1 2.4h0m.6-2.6h0m24.6 3.2h0m-56.4 7.1h0m20.3-2.7h0m10.1 2.1h0m4.5 1.3h0m15.5-.7h0m.7.5h0m22.1-.1h0m-72.4 1.1h0m.2 3.5h0m14.1-.8h0m6.6 1h0m.8 0h0m22.1-.3h0m2.1-.5h0m4.9 1.9h0m15.8-5.5h0m2.3 4.8h0m-78.6 1.5h0m17.1-.2h0m8.6 3.3h0m7.6-3h0m5.9 4.4h0m14.8-2.2h0m-38.7 4h0m14.6 4.1h0m6.2-3.5h0m6.1 2.8h0m3.4.2h0m19.3-1.7h0m10 2.1h0m2.3-4h0m3.4 3.8h0m-80.8 4.6h0m31.6-.5h0m6.5 2.9h0m6.2-5.4h0m22.7 1.8h0m-68.9 4.4h0m11.1 2.9h0m7.9-1.5h0m6.5-.3h0m2.2-1.2h0m1.8 4.2h0m12.4-1.5h0m6.3-2.7h0m0 .3h0m.6 4.8h0m4.5-1.4h0m3.7-3.6h0m7.3 3.5h0m15.9-.7h0m5.2 2.8h0m-89.3 2.5h0m22.8 2.3h0m3.7-4.4h0m.3 4h0m5.6-1.8h0m4.7-2.2h0m1.9 3.8h0m10-3.8h0m4.1 5.5h0m11.2-3.2h0m.4-2.1h0m.4 4.8h0m5.3-1.8h0m1.5.1h0m-71.5 7.8h0m1.4-4.6h0m2.1 3.7h0m10.7-1.4h0m4.7-2.1h0m7.3 4.2h0m6.1-.5h0m10.6-.6h0m15 .7h0m10.4-2.3h0m2.5 2h0m9-.3h0m-80.1 3.7h0m2.1 1h0m.4 1.2h0m1.7.9h0m6.8-3.4h0m.9 1.7h0m1-.5h0m5.3-.4h0m.1-1.8h0m10.1 3.6h0m.4-2.4h0m4.4 2.8h0m12.4-3.7h0m2.9 5h0m12.4-4.6h0m4.8.6h0m2.3.6h0m1.2.2h0m2.8 2.9h0m.5-1.9h0m-71 5.8h0m7-1.9h0m11.1 3.3h0m1.5-1.4h0m2.7 1.4h0m9.9-.3h0m.6.6h0m3-2.2h0m9.2.8h0m6.5 1.3h0m6.2-4.9h0m5.3 1.6h0m8.9 1.7h0m11.7 1.5h0m.4-1.3h0m-85 7.4h0m23.5-3.3h0m1.4 4h0m3.2-2.6h0m1.7 2.5h0m.8-1.5h0m1-2.4h0m3.2-1.7h0m8.6 2.4h0m2.2 1.6h0m1.2.1h0m3.9 1h0m10-2.9h0m6.1 2.6h0m1.6-1h0m.1.5h0m10.2-.9h0m5.9-3.1h0m.3 3.9h0m3.5-.7h0m-81 6.7h0m4.9.4h0m18.5-1.6h0m.9.5h0m.4 1.5h0m3.4-4.5h0m4.5 4h0m.1.2h0m2.4-.9h0m.9-2.8h0m1.3 1.2h0m3.8.9h0m.6 1.1h0m7.9-.3h0m2.9-.6h0m4.2-1.4h0m13.5-.7h0m1.5.6h0m3.1 2.8h0m5.8-.3h0m1.9-2.4h0m-89.1 5.1h0m.9 1.8h0m.1-1.1h0m1.3 1.9h0m3.2.1h0m1.1-3h0m2.7 5.1h0m10.6-3.3h0m.5-.3h0m1.7 1.3h0m6.7-.7h0m3.7-.9h0m3.8 0h0m2.8-1h0m1 3.6h0m3.2-1.4h0m2.7 1.5h0m.5 1h0m10.4-1.6h0m4.4.6h0m1.1-.9h0m1.1-1.5h0m3.4 2.5h0m3.5 1.2h0m1.1-5.1h0m6.7 1h0m2.1 2.6h0m8.8-2.3h0m-88.7 5.3h0m1.8-.8h0m.6.4h0m6.7 4.7h0m3.4-2.9h0m.2-.1h0m6.9-2.4h0m1.7 2.1h0m7.3-.3h0m2.6 0h0m1.7 2.8h0m17.6-3.9h0m3.5 3.6h0m9.5-1.1h0m8.7 2.2h0m2.5-.5h0m6.9-2.9h0m3.1-1.5h0m4.3 4.8h0m-78.1 2.6h0m6.2 2.1h0m14.9-4.4h0m10.7.8h0m2.2 4.5h0m11.7-5.2h0m1 .3h0m9.1 5h0m.3-.6h0m13.2-2.9h0m-81.2 6.6h0m1.6-1h0m9.6 3.9h0m8.7-5.1h0m.7 1.2h0m2.8 2.9h0m1.2-.4h0m2.6.9h0m6.3.3h0m.2-.7h0m12.8-1.9h0m38.6-.3h0m-85.1 8h0m4.4-1.4h0m.5-.2h0m5.4 1h0m4.8 2h0m1.9-1.3h0m.6 1.3h0m7.2-4.5h0m7.8 2h0m7.3 1.6h0m7.1-3h0m.5 3.7h0m4.6-1.1h0m3.2-3.1h0m.9-.2h0m.2 4.8h0m4.7-.9h0m2.6.5h0m2.9-.9h0m6.3 0h0m2.2-3.5h0m3.6 4h0m2-4.3h0m.2 3.9h0m-73.8 3.5h0m4.7-.3h0m7.3.2h0m26.3 3.3h0m1-2.2h0m3-2.9h0m13.8 3.3h0m16.3.8h0m5.4-.6h0m1.9-3.5h0m-86.7 11.6h0m9.2-3.9h0m15.2-2h0m39.2 3.4h0m14.7-1.1h0m3.4-.7h0m6.1-1.6h0m-79.2 6.7h0m11-.6h0m5.3 5.5h0m7-4.7h0m8.7.5h0m.8 3.3h0m27.4-3.8h0m17.4-.1h0m-85.8 7.3h0m9.1-1.7h0m.8.3h0m4.1 4.3h0m26.5.8h0m32.1-5h0m-55.1 6.2h0m17.6 2.9h0m51.6-.6h0m-25.5 5.3h0" stroke="#141414" stroke-width="2.0" stroke-linecap="round" fill="none"/><path d="M1431.2 2002.3L1523 2002.3" stroke="#222" stroke-width="1.6" fill="none"/><path d="M1307.7 1838.5L1307.7 2011.2" stroke="#000" stroke-width="1.4" fill="none"/><path d="M1307 2010.5L1543.3 2010.5" stroke="#000" stroke-width="1.4" fill="none"/><path d="M1303.7 2214L1307.7 2214" stroke="#222" stroke-width="1" fill="none"/><text x="1302.5" y="2220.9" font-size="19.3" text-anchor="end">0</text><path d="M1303.7 2161.6L1307.7 2161.6" stroke="#222" stroke-width="1" fill="none"/><text x="1302.5" y="2168.5" font-size="19.3" text-anchor="end">1</text><path d="M1303.7 2109.2L1307.7 2109.2" stroke="#222" stroke-width="1" fill="none"/><text x="1302.5" y="2116.1" font-size="19.3" text-anchor="end">2</text><path d="M1303.7 2056.8L1307.7 2056.8" stroke="#222" stroke-width="1" fill="none"/><text x="1302.5" y="2063.7" font-size="19.3" text-anchor="end">3</text><text x="1429.2" y="2042.1" font-size="22.2" text-anchor="middle">Cxcr4****</text><text x="1284.5" y="2132" font-size="22.1" text-anchor="middle" transform="rotate(-90 1284.5 2132)">Expression Level</text><path d="M1418.9 2214l-4-2.5-10.2-2.5-12-2.5-9.9-2.6-6.3-2.5-3.2-2.5-1.2-2.5-.3-2.5 0-2.5.1-2.6.2-2.5.1-2.5.2-2.5.2-2.5.1-2.5.2-2.5.2-2.6.1-2.5.2-2.5.1-2.5.1-2.5.1-2.5.1-2.5.1-2.6.1-2.5 0-2.5 0-2.5 0-2.5 0-2.5 0-2.6-.1-2.5 0-2.5-.1-2.5 0-2.5-.1-2.5-.1-2.5-.1-2.6-.1-2.5-.1-2.5-.1-2.5-.1-2.5-.1-2.5-.1-2.6-.1-2.5-.1-2.5-.1-2.5-.2-2.5-.1-2.5-.1-2.5-.1-2.6-3.4 0-.1 2.6-.1 2.5-.1 2.5-.2 2.5-.1 2.5-.1 2.5-.1 2.5-.1 2.6-.1 2.5-.1 2.5-.1 2.5-.1 2.5-.1 2.5-.1 2.6-.1 2.5-.1 2.5 0 2.5-.1 2.5 0 2.5-.1 2.5 0 2.6 0 2.5 0 2.5 0 2.5 0 2.5.1 2.5.1 2.6.1 2.5.1 2.5.1 2.5.1 2.5.2 2.5.1 2.5.2 2.6.2 2.5.1 2.5.2 2.5.2 2.5.1 2.5.2 2.5.1 2.6 0 2.5-.3 2.5-1.2 2.5-3.2 2.5-6.3 2.5-9.9 2.6-12 2.5-10.2 2.5-4 2.5z" fill="#1A62EE" stroke="#1d1d2b" stroke-width="0.8"/><path d="M1339.3 2088.9h0m35.5 5.6h0m4.8 1.8h0m10.1-4.2h0m16.6 4.5h0m-58.6.8h0m4.2 3h0m11.8-1.5h0m29.8.3h0m12 .7h0m-50.3 6.2h0m20.9-.1h0m10.1 2h0m3.5.3h0m-11.1 2.8h0m.4.7h0m11.8-2.5h0m16.9 4.4h0m.7-2.2h0m.4 2.7h0m-78.4 1.5h0m3.3 1.3h0m18.4 3.7h0m26.7-3h0m25.5 3h0m6.8-5.6h0m-69.1 11.5h0m1.2.4h0m9.2-4.3h0m1.9 3.9h0m4-2.6h0m39.4.8h0m-47.4 3.7h0m6.6-1.3h0m7.8 3.9h0m16.6.5h0m9.6-1.6h0m-65.1 3.3h0m9.2 5.6h0m19.6-2.6h0m24.8-.3h0m.3.5h0m-47.1 6.8h0m1 1.5h0m75-3.8h0m-81.6 9.6h0m29.4-5.5h0m15.9 2.6h0m7.8-.9h0m29.2 1.3h0m5.3-3h0m.7 3.7h0m-80.2 7.1h0m5.7 1.9h0m7.8.6h0m7.2 1h0m11.4.6h0m41.8 2.9h0m-76.8 4.1h0m9.4-1.6h0m4.3.1h0m4 1.3h0m9 2h0m11.4-3.5h0m17.7 1.9h0m10.5 1.5h0m10.9-5.6h0m2 .2h0m3.2 5.4h0m-63.6 2.1h0m27.2.7h0m35.5-1.6h0m-61.9 5.8h0m5.1.2h0m4 4.5h0m23.7-1.5h0m12.2-.8h0m-15.2 4.1h0m2.8 4.7h0m7.5-5h0m11.8 1.1h0m.3-2h0m4.5 4.2h0m4.2-2.5h0m-66.7 7.6h0m4.1 2.1h0m13.2-2h0m31.9 2.1h0m19-2.6h0m-84.8 3.6h0m26.3 0h0m55.2 3.5h0m-18.5 3.7h0m-61.8 7.1h0m38.1.1h0m19.3 1.8h0" stroke="#141414" stroke-width="2.0" stroke-linecap="round" fill="none"/><path d="M1324.7 2213.5L1416.1 2213.5" stroke="#222" stroke-width="1.6" fill="none"/><rect x="1368.4" y="2093.5" width="4" height="7.9" fill="#333"/><path d="M1526.9 2214l-1.3-2.5-3.6-2.6-5.6-2.5-6.6-2.5-6.8-2.6-6.3-2.5-5.4-2.5-4.3-2.6-3-2.5-2.1-2.6-1.2-2.5-.6-2.5-.2-2.6 0-2.5.3-2.5.3-2.6.5-2.5.5-2.5.5-2.6.6-2.5.6-2.5.6-2.6.5-2.5.6-2.6.5-2.5.4-2.5.3-2.6.3-2.5.1-2.5.1-2.6 0-2.5-.1-2.5-.1-2.6-.1-2.5-.2-2.5-.1-2.6-.3-2.5-.2-2.5-.3-2.6-.3-2.5-.3-2.6-.3-2.5-.3-2.5-.4-2.6-.3-2.5-.3-2.5-.4-2.6-.3-2.5-.3-2.5-.4-2.6-.3-2.5-.3-2.5-.3-2.6-.2-2.5-.3-2.6-.2-2.5-.2-2.5-.2-2.6-.2-2.5-.2-2.5-.2-2.6-.1-2.5-2 0-.1 2.5-.2 2.6-.2 2.5-.2 2.5-.2 2.6-.2 2.5-.2 2.5-.3 2.6-.2 2.5-.3 2.6-.3 2.5-.3 2.5-.4 2.6-.3 2.5-.3 2.5-.4 2.6-.3 2.5-.3 2.5-.4 2.6-.3 2.5-.3 2.5-.3 2.6-.3 2.5-.3 2.6-.2 2.5-.3 2.5-.1 2.6-.2 2.5-.1 2.5-.1 2.6-.1 2.5 0 2.5.1 2.6.1 2.5.3 2.5.3 2.6.4 2.5.5 2.5.6 2.6.5 2.5.6 2.6.6 2.5.6 2.5.5 2.6.5 2.5.5 2.5.3 2.6.3 2.5 0 2.5-.2 2.6-.6 2.5-1.2 2.5-2.1 2.6-3 2.5-4.3 2.6-5.4 2.5-6.3 2.5-6.8 2.6-6.6 2.5-5.6 2.5-3.6 2.6-1.3 2.5z" fill="#E8212A" stroke="#1d1d2b" stroke-width="0.8"/><path d="M1450 2057.3h0m23.2.8h0m36.5 2.1h0m-72.5 1.6h0m12.6 1.8h0m52.3 1.7h0m-62.2 6.3h0m41.6.9h0m6.2-3.4h0m14.1 1.3h0m13.7-1.2h0m-76.1 7.4h0m20 2.3h0m4.9-5.1h0m3.6 3.6h0m6.1-1.7h0m6-1.4h0m31.6 3h0m-65.2 5.7h0m10.5 1.2h0m7.3-3.2h0m8.1-.9h0m25.9 4.4h0m-62.4 1.4h0m1.9 1.2h0m33.2-.4h0m27.1 3.4h0m1.6-3.6h0m3.1 2.5h0m2.8 1.1h0m2.3-.9h0m1-1.3h0m7.8 2h0m3.6-.9h0m3.7-3.9h0m-64.3 6.8h0m36 .3h0m7.3-.9h0m2.3.8h0m.5-.6h0m8.5 2.1h0m5.3-.5h0m3.9-.5h0m-77.7 5.1h0m4.3 1.7h0m1.3 2.1h0m5.2-1.4h0m2.8 2.8h0m4.8-4.6h0m6.8-1.3h0m14.9 1.6h0m5.2 2.4h0m22.9.8h0m7.1-3.3h0m-81 9.3h0m5.5.8h0m5.8-2.7h0m4.2 2.4h0m12.4 0h0m10.2-3.4h0m4.6-.1h0m.8 3.6h0m9.9-1h0m23.2.3h0m-77 6.4h0m31-.8h0m8.4-3.1h0m.1 2.9h0m4.1 1.9h0m8.5-2h0m5.9 1.9h0m6.3-3.1h0m13.9 3h0m-73.7 2.8h0m12.6.8h0m1.1 1.8h0m1.2-4h0m7.8-.1h0m.4 2.4h0m6.3.1h0m2.9 2h0m1.6-4.2h0m27.3 3.7h0m4.4-.5h0m4.8-3.7h0m-58.6 5.9h0m2.9 4.5h0m22.6-.1h0m6.1-2.5h0m1.1 1.7h0m23.2.4h0m4.1-1h0m1-1.3h0m1.8.4h0m4.9 2.1h0m-83.9 5h0m3.3-2.4h0m1.7-.4h0m.6 4.7h0m.4-4.1h0m3.5-1.3h0m1.3 4.6h0m.3-3.2h0m.8 3.5h0m31.2-1.3h0m17-3.1h0m11.3 2h0m7-.3h0m1.6 2h0m-87.8 3.3h0m5.9-.2h0m.5-1.4h0m10.5 3.9h0m1.2 1.2h0m6.9-4.7h0m2.7-.8h0m17.2 1.3h0m6.3.5h0m10-.9h0m5.5.2h0m2.3 3.8h0m-69.4 3.1h0m0-.5h0m1.4-.1h0m4 1.6h0m3.2-.4h0m4.5-1h0m2.6-.7h0m6.8.5h0m6.1.1h0m8.4 2.3h0m2.1-1.6h0m2.9.5h0m12.7-1.6h0m3 4.1h0m5.4-4.7h0m6.3 1.7h0m3.5-1.8h0m1.2 1.2h0m0 1.7h0m3.3.6h0m1.6-2.2h0m.3 1h0m1.5.2h0m3-2.2h0m-71.8 7.3h0m4.8-.7h0m1.2 1.6h0m1.8 2.7h0m8.9-2.7h0m12.5.8h0m10.1.3h0m4 .6h0m3.7-2.8h0m5.5 2.4h0m8.1-1.6h0m2.1-.6h0m.1 3.8h0m4-3.7h0m.3 2.9h0m9.8-4.7h0m3.7 2.9h0m-72 6.7h0m.8-1.2h0m.6 2.6h0m3.2-1h0m6.8.9h0m2.9-4.5h0m1.2.4h0m1.8 2h0m4.4 1.6h0m2-2.2h0m.1-2.4h0m1.3 3h0m7.5-1.8h0m9.5 0h0m.8-1h0m9.4 2.5h0m5 .1h0m.6-2.1h0m6 4.2h0m-82.5 4h0m.8-.5h0m5 .9h0m2.2 0h0m1.7 0h0m6.2 1.2h0m4.7-2.9h0m2.6.8h0m5.7 1.5h0m3.9-2.2h0m4.1-.9h0m3.5 1.6h0m8.6.8h0m11.5 2.5h0m1.4-1.7h0m1.5-.2h0m5.9-.2h0m.2-2.4h0m10.1-.2h0m4.6 2h0m0-2h0m2.8 3.9h0m-77.5 4h0m11.9-1.8h0m5.8 3.6h0m4.6.8h0m1.1-4.5h0m2.3.7h0m15.4-.1h0m.4-.6h0m1.2-1h0m5.1 3.3h0m1.4-3.3h0m3.4 4.5h0m4.4.3h0m5.9.7h0m1.1-3.7h0m2.9 1h0m-64.2 5.8h0m17.1-1.8h0m3.4.4h0m22.6 3.1h0m7.1-4.2h0m.5 1.8h0m2.3-1.6h0m1.6 2h0m1.3 1.9h0m.5-2.9h0m8.5-1.4h0m2.4.6h0m1 1h0m8.5.1h0m.5.8h0m-89.2 6.1h0m20.1.9h0m10.9-.5h0m18.8-.3h0m2.2-1.4h0m8.4-1.1h0m2.8 4.4h0m11.9-2.1h0m6.7-1.2h0m-78.4 9.4h0m24.6-1.2h0m48.9.7h0m-67.5 4.4h0m-7.6 6.2h0m32.4-2.1h0m36.6 4.5h0m-44.4 3.3h0" stroke="#141414" stroke-width="2.0" stroke-linecap="round" fill="none"/><path d="M1431.4 2213.5L1524.5 2213.5" stroke="#222" stroke-width="1.6" fill="none"/><path d="M1307.7 2048.5L1307.7 2222.4" stroke="#000" stroke-width="1.4" fill="none"/><path d="M1307 2221.7L1543.3 2221.7" stroke="#000" stroke-width="1.4" fill="none"/><path d="M1587.9 2210.4L1591.9 2210.4" stroke="#222" stroke-width="1" fill="none"/><text x="1586.7" y="2217.3" font-size="19.3" text-anchor="end">0</text><path d="M1587.9 2163.2L1591.9 2163.2" stroke="#222" stroke-width="1" fill="none"/><text x="1586.7" y="2170.1" font-size="19.3" text-anchor="end">1</text><path d="M1587.9 2116L1591.9 2116" stroke="#222" stroke-width="1" fill="none"/><text x="1586.7" y="2122.9" font-size="19.3" text-anchor="end">2</text><path d="M1587.9 2068.8L1591.9 2068.8" stroke="#222" stroke-width="1" fill="none"/><text x="1586.7" y="2075.7" font-size="19.3" text-anchor="end">3</text><text x="1715.5" y="2042.1" font-size="22.2" text-anchor="middle">Cxcr6****</text><text x="1567" y="2133.3" font-size="22.1" text-anchor="middle" transform="rotate(-90 1567 2133.3)">Expression Level</text><path d="M1704.9 2210.4l-.8-2.5-2.5-2.5-3.8-2.5-4.8-2.6-5.4-2.5-5.4-2.5-5-2.5-4.4-2.5-3.7-2.5-2.7-2.5-1.9-2.6-1.1-2.5-.5-2.5 0-2.5.4-2.5.7-2.5.9-2.6.9-2.5 1-2.5 1-2.5 1-2.5.9-2.5.8-2.5.6-2.6.5-2.5.4-2.5.1-2.5 0-2.5-.1-2.5-.2-2.5-.2-2.6-.3-2.5-.4-2.5-.4-2.5-.5-2.5-.5-2.5-.5-2.5-.6-2.6-.6-2.5-.7-2.5-.7-2.5-.6-2.5-.7-2.5-.7-2.5-.6-2.6-.7-2.5-.6-2.5-.6-2.5-.6-2.5-.6-2.5-.5-2.6-.5-2.5-.5-2.5-.4-2.5-.4-2.5-.4-2.5-.3-2.5-.3-2.6-.3-2.5-.3-2.5-.2-2.5-3 0-.2 2.5-.3 2.5-.3 2.5-.3 2.6-.3 2.5-.4 2.5-.4 2.5-.4 2.5-.5 2.5-.5 2.5-.5 2.6-.6 2.5-.6 2.5-.6 2.5-.6 2.5-.7 2.5-.6 2.6-.7 2.5-.7 2.5-.6 2.5-.7 2.5-.7 2.5-.6 2.5-.6 2.6-.5 2.5-.5 2.5-.5 2.5-.4 2.5-.4 2.5-.3 2.5-.2 2.6-.2 2.5-.1 2.5 0 2.5.1 2.5.4 2.5.5 2.5.6 2.6.8 2.5.9 2.5 1 2.5 1 2.5 1 2.5.9 2.5.9 2.6.7 2.5.4 2.5 0 2.5-.5 2.5-1.1 2.5-1.9 2.6-2.7 2.5-3.7 2.5-4.4 2.5-5 2.5-5.4 2.5-5.4 2.5-4.8 2.6-3.8 2.5-2.5 2.5-.8 2.5z" fill="#1A62EE" stroke="#1d1d2b" stroke-width="0.8"/><path d="M1636.5 2060.1h0m60.4-2h0m-65.1 3.1h0m45.2 1.3h0m15.5 3.8h0m8.3-1.6h0m-64.9 8h0m43.9-.2h0m3.4-1.5h0m8.6.7h0m-80.5 3.6h0m4.8 3h0m3.5-1h0m3.2-1h0m32.3-.4h0m-45.4 7.3h0m9.6-1.6h0m6.8 2.9h0m22.3-1.8h0m18.4 1.6h0m31.1-.8h0m-87.8 5.1h0m10.2-2.3h0m1.2 3.2h0m15.1-4.3h0m2.1 5h0m4.5-4.7h0m.9 2.2h0m3.3-2.5h0m12.5 1.9h0m2 2.7h0m9.7-3.8h0m17.8 3h0m-65.5 4.1h0m8.2-.1h0m35.8 2.8h0m-53.6 4.9h0m4.6-1.8h0m38.1.6h0m9.9 1.6h0m.3 1.9h0m12-2.7h0m7.7.5h0m3.1 2h0m-68.5 5.5h0m15.2-2.9h0m5.3-2.1h0m9.7 4.3h0m1.5 1.1h0m16.5-1.8h0m6.9-2.1h0m11.3-1.5h0m4.1 1.2h0m.3-1.3h0m4.5 1.1h0m-86.3 5h0m1.4 3.2h0m2.5 2.2h0m4.4.2h0m5.9-2.8h0m1.7 1.7h0m34 1h0m28.9-4.1h0m6 1.8h0m1.1.9h0m5.4.3h0m-82.3 2.8h0m7.5 2.9h0m.6-.8h0m24.2-1.3h0m1.2 1.3h0m7.5-.9h0m1.9-2.1h0m3.9 2.4h0m16.4.5h0m4.6-2.3h0m.8 2.3h0m-73.9 3.1h0m.3 4.1h0m5.5-2.3h0m21.9.9h0m4.3-.8h0m7.3-.3h0m3.9 2.6h0m7.8-.3h0m2.2-2.1h0m1 1.4h0m.2-1.5h0m8.2 2.6h0m2.3-1h0m6.9-.7h0m13.9.9h0m-82 4.7h0m5.3.4h0m6.4-2.1h0m10.1 2.5h0m1.2.6h0m2.3.4h0m1.5-2.8h0m8.3 2.2h0m2.5-2h0m3.1 3.1h0m11.1-1.1h0m30.2-2.7h0m-82.7 8.6h0m7.7-2.7h0m0 1.9h0m2.8 2.6h0m5.7-3.2h0m7.7-.8h0m7.1 4.1h0m.3-5h0m20.2-.2h0m1.7 4.4h0m0-4.2h0m8 4.3h0m1.8-1.6h0m4.5 1.7h0m5.4-3h0m1.2-.2h0m4.8 0h0m1.1-.5h0m.7 3.2h0m-87.7 5.7h0m1.1-2.7h0m6.1-.6h0m9.3-.6h0m2.8 4.3h0m2.1-1.8h0m5-1h0m4 3.3h0m5-.5h0m.7-2.7h0m8.9 3.2h0m2.3-3.9h0m2.6 2h0m6.2 1.3h0m24.7-4.1h0m.4 1.7h0m.9 2.5h0m4.2-.3h0m.2-2.9h0m2.5 2.9h0m-83.1 6.7h0m7.5-.3h0m5.5 0h0m2.1.3h0m18.3-1.1h0m14.8 1.5h0m4.9-3.1h0m.6.4h0m2.3-2.5h0m1 .2h0m1.3 2.7h0m2.1-1.4h0m1.3-.5h0m.8 4.3h0m1.5-4.9h0m7.1 1.2h0m11.6 3.6h0m2.1.2h0m-84.4 1.5h0m.5 4.5h0m14.2-1.2h0m1.8.2h0m0-3.2h0m10.4-1.2h0m3.8 4.6h0m7.9-4.8h0m7.5 3.8h0m1.2-3.9h0m7.9 2.5h0m6.3 3.2h0m5.7-3.9h0m2.9-.5h0m3.6 2.4h0m1.3-1.3h0m.9-.9h0m-84.1 9.9h0m2.6-2.6h0m21.1 3.1h0m5-4.6h0m11.4 3.9h0m.5-1.2h0m7.2-3.1h0m.8 0h0m5.8 2.4h0m8.1-.3h0m.4-.3h0m2.2.3h0m3.1-1.4h0m1.1.5h0m.5-2.1h0m5.7 4.5h0m1-1.1h0m4.6 1.7h0m9.7.1h0m-88.9 4.3h0m3.3 2h0m4.5-4.5h0m1.3 1.7h0m5.9-2.4h0m13.6.3h0m3.7-.4h0m3.9 1.5h0m8.5-1.7h0m7.4 4.2h0m2.9.9h0m4.4-4.7h0m14.6 3h0m6.8-1.9h0m2 3.5h0m-84.2 3.6h0m4.7.5h0m13.2-3.1h0m4.4 0h0m4.8.5h0m1.8 3.2h0m11.7-.3h0m15.4-2.3h0m10.1 2.9h0m1.6.2h0m11.8-3.8h0m11.2 1.5h0m.8 1.1h0m-81 3.6h0m1.3.1h0m12.7 4.1h0m2.2-3.5h0m10.3 3.3h0m3.1-2.3h0m31.4 2.5h0m19.6.3h0m-79 2.9h0m1.8 1.3h0m2.2-1.4h0m11.3 1.4h0m.8.8h0m15.5-3.3h0m5.9 4.1h0m7.1-1h0m28.3.2h0m-67.5 3h0m30-.8h0m13 3.7h0m-55.3 4.9h0m.4-.7h0m17.9-1.2h0m1.1 2.6h0m20 .1h0m27.6 3.6h0" stroke="#141414" stroke-width="2.0" stroke-linecap="round" fill="none"/><path d="M1608.1 2209.9L1702.1 2209.9" stroke="#222" stroke-width="1.6" fill="none"/><path d="M1810.8 2210.4l-1-2.5-3-2.5-4.6-2.6-5.6-2.5-6-2.5-5.9-2.5-5.3-2.5-4.5-2.6-3.5-2.5-2.5-2.5-1.7-2.5-.9-2.5-.4-2.6 0-2.5.4-2.5.7-2.5.9-2.5 1.1-2.6 1.3-2.5 1.5-2.5 1.5-2.5 1.7-2.5 1.7-2.6 1.8-2.5 1.7-2.5 1.6-2.5 1.5-2.5 1.3-2.6 1.1-2.5.7-2.5.5-2.5.1-2.5-.1-2.6-.2-2.5-.2-2.5-.4-2.5-.5-2.5-.6-2.6-.6-2.5-.7-2.5-.8-2.5-.9-2.5-.9-2.6-.9-2.5-1-2.5-1-2.5-.9-2.5-1-2.6-1-2.5-.9-2.5-1-2.5-.9-2.5-.8-2.6-.9-2.5-.7-2.5-.8-2.5-.7-2.5-.6-2.6-.6-2.5-9.4 0-.6 2.5-.6 2.6-.7 2.5-.8 2.5-.7 2.5-.9 2.5-.8 2.6-.9 2.5-1 2.5-.9 2.5-1 2.5-1 2.6-.9 2.5-1 2.5-1 2.5-.9 2.5-.9 2.6-.9 2.5-.8 2.5-.7 2.5-.6 2.5-.6 2.6-.5 2.5-.4 2.5-.2 2.5-.2 2.5-.1 2.6.1 2.5.5 2.5.7 2.5 1.1 2.5 1.3 2.6 1.5 2.5 1.6 2.5 1.7 2.5 1.8 2.5 1.7 2.6 1.7 2.5 1.5 2.5 1.5 2.5 1.3 2.5 1.1 2.6.9 2.5.7 2.5.4 2.5 0 2.5-.4 2.6-.9 2.5-1.7 2.5-2.5 2.5-3.5 2.5-4.5 2.6-5.3 2.5-5.9 2.5-6 2.5-5.6 2.5-4.6 2.6-3 2.5-1 2.5z" fill="#E8212A" stroke="#1d1d2b" stroke-width="0.8"/><path d="M1736.8 2066.8h0m.4-2.7h0m1.8.8h0m24.1-.1h0m6.6.6h0m29.3.3h0m-70.4 5.1h0m6.3-2.9h0m4.5 3.3h0m6.4.7h0m29.2.4h0m5.1-1.5h0m.9-.5h0m1-.6h0m.9 2.1h0m5.3-3h0m16.9 3.5h0m-86.1 5.8h0m5.3 0h0m4.5-1.5h0m1.3 1.7h0m23.8-3.7h0m14.8 2.5h0m6.8-2.2h0m4.4-.5h0m17.9-.5h0m-58.5 7.2h0m.1 3.4h0m10.7-1.6h0m1.2-1.9h0m1.3 1h0m14.2 2.1h0m13.1-1.3h0m6.8-.7h0m18.1 1.1h0m2.3.3h0m-86.7 6.4h0m7.1-3.8h0m8.9.2h0m1.4.5h0m.3.1h0m5.2 3.7h0m1.8-5h0m.5.2h0m.6 3.3h0m1.3-2.1h0m16.6-.2h0m9.7.2h0m7.9-.3h0m19.1 2.9h0m.8-.1h0m-84.4 4.4h0m4.6-1.3h0m11.2 2.4h0m9.7-2.7h0m1.5-.4h0m2.1-.7h0m2.2 3.5h0m6.6-.6h0m4 .4h0m.5 2.2h0m1.4-3.9h0m2.5 3.2h0m.1-2h0m.5 2.2h0m.4.1h0m7.8-4.8h0m21.8.5h0m.2 3.5h0m2.3 1.1h0m6.6-2.2h0m1.1-2.8h0m-84.7 7.3h0m13.5-.4h0m4-.6h0m4.6 4.1h0m6.6-1.5h0m5.6 2.1h0m4.3-3.6h0m6.3.9h0m.6-2h0m1.5 3.4h0m4.2-4.3h0m5.9 1.2h0m6.9 3h0m6.3.5h0m5.5.6h0m4.5-5.1h0m-76.6 8.5h0m1.2 2.2h0m2.3-2h0m.7 2.6h0m2.3.1h0m2.3-1.1h0m.8-1.2h0m.8 1.7h0m7.2-2.1h0m6.9 1.7h0m2.4.8h0m1-4.8h0m.2 3.4h0m7.6-.4h0m14-2.4h0m.8 1.8h0m3.8 1h0m5.1-3h0m2.2 2.8h0m.1-3.7h0m2.9.4h0m1.6 3.9h0m3.1-.1h0m4.5-.8h0m4 .6h0m1.2-.4h0m1.1 2.2h0m.4-3.4h0m2.3 3h0m-87.4 3h0m2.1.3h0m1.7 2h0m1.5-2.9h0m.4 3.3h0m.9-3.6h0m6.8 2.7h0m1.5-3.1h0m10.8 2.9h0m.9 0h0m1.4-1.6h0m1.6-2.5h0m.9 5.3h0m0 .3h0m1-1.8h0m2.2 1.5h0m.7.4h0m.6-4.5h0m2.1 2.3h0m1.5.6h0m1.8-2.2h0m6.4.6h0m3.8 3.2h0m7.4-1.5h0m.3-2.9h0m1 3.9h0m4.1.1h0m7.8.2h0m14-4.7h0m3 3.6h0m1.3-1.8h0m-90.7 6.7h0m7.4 1.7h0m.5 0h0m12.7-.9h0m5.8.4h0m15.6-1.1h0m9.6-2.2h0m1.5-.5h0m5.6.2h0m.3 2.1h0m1.9-2.8h0m6.7 2.4h0m0 2.8h0m.8-3.1h0m5.2-2h0m10.1 4.7h0m3.9.5h0m1.9-2.2h0m-89.4 3.5h0m1.4.1h0m8 2.6h0m3.2-.7h0m15.6 1.3h0m3.5.9h0m.2.1h0m2.3-4.1h0m1.3 4.3h0m5.2-1.1h0m7.7.1h0m.9-.7h0m13.6 1.1h0m.1-3.6h0m4.9 1.2h0m0-2.2h0m3.4 3.5h0m9.4 1.4h0m.4-3.9h0m1.2 2.4h0m3.9-.8h0m-84.7 4h0m7 3.1h0m6.7-.6h0m1.5-.6h0m3.9 1.8h0m2.4 1.5h0m.4-.4h0m.4-2.2h0m.5-1.1h0m1.1 3.7h0m7.7-5.5h0m.1.3h0m.2-.4h0m.5 1h0m.3.6h0m1.5 1.8h0m8.3 1.2h0m2.3-.5h0m0-3.8h0m.9 5.1h0m.3-3.6h0m1.1.3h0m3.3-1.6h0m.4 2.1h0m12 2h0m1.8.7h0m.2-2.4h0m.5-1.2h0m.8.3h0m.9 1.7h0m6.1.6h0m2.8-3h0m2.1 1.9h0m1.3-.8h0m1.2 2.1h0m.6-1.8h0m2.8.1h0m.3-2.2h0m.4 2.4h0m.3 2.5h0m3.4-5.5h0m.7 2.5h0m-85.9 3.8h0m.2 2.8h0m.6-2.7h0m.6 2.7h0m1-2h0m2.2-.3h0m.6 2.2h0m5.9-2.7h0m3.6 2h0m.1 2.1h0m4.5-.9h0m.2-3.4h0m1.8 5.1h0m4.6-1.5h0m3.2-2.9h0m2.8 2.7h0m1.6 1h0m.3-2.5h0m.2 1.7h0m2.3-2.1h0m0 1h0m.2.6h0m2 .3h0m2.4-2.9h0m2.2.3h0m.4 3.8h0m1.2-2.8h0m.8 3.6h0m2.7-1.6h0m.1 1.7h0m5.3-2.8h0m4.8-.7h0m3.5 1.3h0m3.5-.4h0m2.6 1.2h0m2.3-3h0m1.5.4h0m1.1-1.3h0m.4 2.8h0m2.8-1.6h0m1.3-1.1h0m.6 2.7h0m.3-1.8h0m.7-.8h0m1.2 1.9h0m.9-1h0m3-1.2h0m.4 4.9h0m1.5-4.6h0m-88.5 7.8h0m4.3-2h0m8.8 4.4h0m10.5-4.4h0m.6 5h0m5.2-2.8h0m5.6-1.9h0m2.8 3.5h0m3.1.1h0m7.5 1h0m2.6-.7h0m4.1-2.7h0m0 3.3h0m1.2.5h0m1.7-2.4h0m8.6-2.5h0m2.5 1.3h0m2.2 2.1h0m.3-1.4h0m.7-2.4h0m.3 1h0m1.3.8h0m.3 1.1h0m1.9 1.4h0m5.5.4h0m.2-2.8h0m.9-.5h0m.1.5h0m5.1-1.8h0m-80.3 8.7h0m.3-.5h0m9.6-2.2h0m3.6 4.7h0m1.3-3.6h0m8.5.7h0m.2-1.7h0m2.8 2.3h0m.4 1h0m1.5 0h0m5.1-1.4h0m2.8-.6h0m3.1-.9h0m.8 1.4h0m.6-2.2h0m1 .1h0m4.6 5h0m1.4-1.7h0m5-2h0m4.8.8h0m2.6-1.1h0m5.5 0h0m1.5 1.8h0m1.1-2.9h0m4.3-.1h0m1.8 1.9h0m.4-.8h0m3.9 3.8h0m2.3-3.2h0m-90.9 8.3h0m8.4-2.3h0m4.2 3.6h0m5.4-4.8h0m6.4-.7h0m.8 5.2h0m.1-4.7h0m.7-.1h0m1 4.3h0m1.8.8h0m3.5-.3h0m.1-3.7h0m0-.5h0m1.2-.8h0m1.2 1.9h0m2.9-2.1h0m.9 3.7h0m1.1-2h0m2.4-.1h0m2.6 0h0m2.1.9h0m1.3.5h0m1.4-.9h0m5.2 3.3h0m4.2-1.7h0m1.4-2.2h0m6.3 1.8h0m2.4-2.1h0m9.4-.8h0m4 2.6h0m2.2-1.1h0m.5 3.9h0m1.1-2.8h0m-82.3 6.7h0m16.1-.4h0m1.4 2.2h0m0-2.8h0m.3-1h0m.3-1h0m7.2 3h0m1.4-.7h0m28.8-.4h0m4.6-1.8h0m3.4 3.3h0m1.7-.2h0m20.7-4h0m.9 3.5h0m-73.1 5.5h0m43.2-.8h0m1.7 1h0m10.6 2.2h0m2.4-3.7h0m-74.7 7.1h0m.4 1.7h0m14.6-.1h0m12.2-3.6h0m6.5 2.5h0m13.6-1.3h0m9.7-1.8h0m7.6 3.6h0m-56 4.3h0m30.5-.1h0m7.2 1.2h0m16.3.8h0m4.8-1.3h0m-50.8 9.2h0m7.8 1h0m45.4 4.5h0" stroke="#141414" stroke-width="2.0" stroke-linecap="round" fill="none"/><path d="M1717 2209.9L1808.4 2209.9" stroke="#222" stroke-width="1.6" fill="none"/><path d="M1591.9 2048.5L1591.9 2218.8" stroke="#000" stroke-width="1.4" fill="none"/><path d="M1591.2 2218.1L1826 2218.1" stroke="#000" stroke-width="1.4" fill="none"/><text x="9.5" y="1267.3" font-size="28" font-weight="bold">e</text><rect x="67.4" y="1286.8" width="470.2" height="523.9" fill="#EBEBEB"/><path d="M133.8 1286.8L133.8 1810.7" stroke="#fff" stroke-width="0.9" fill="none"/><path d="M220.4 1286.8L220.4 1810.7" stroke="#fff" stroke-width="0.9" fill="none"/><path d="M307 1286.8L307 1810.7" stroke="#fff" stroke-width="0.9" fill="none"/><path d="M393.5 1286.8L393.5 1810.7" stroke="#fff" stroke-width="0.9" fill="none"/><path d="M480.1 1286.8L480.1 1810.7" stroke="#fff" stroke-width="0.9" fill="none"/><path d="M90.5 1286.8L90.5 1810.7" stroke="#fff" stroke-width="1.8" fill="none"/><path d="M177.1 1286.8L177.1 1810.7" stroke="#fff" stroke-width="1.8" fill="none"/><path d="M263.7 1286.8L263.7 1810.7" stroke="#fff" stroke-width="1.8" fill="none"/><path d="M350.2 1286.8L350.2 1810.7" stroke="#fff" stroke-width="1.8" fill="none"/><path d="M436.8 1286.8L436.8 1810.7" stroke="#fff" stroke-width="1.8" fill="none"/><path d="M523.4 1286.8L523.4 1810.7" stroke="#fff" stroke-width="1.8" fill="none"/><path d="M67.4 1431.5L537.6 1431.5" stroke="#fff" stroke-width="0.9" fill="none"/><path d="M67.4 1611L537.6 1611" stroke="#fff" stroke-width="0.9" fill="none"/><path d="M67.4 1790.5L537.6 1790.5" stroke="#fff" stroke-width="0.9" fill="none"/><path d="M67.4 1341.7L537.6 1341.7" stroke="#fff" stroke-width="1.8" fill="none"/><path d="M67.4 1521.2L537.6 1521.2" stroke="#fff" stroke-width="1.8" fill="none"/><path d="M67.4 1700.7L537.6 1700.7" stroke="#fff" stroke-width="1.8" fill="none"/><path d="M142.5 1484h0m3.1 1.6h0m3.6-.1h0m4.4 2.3h0m4.5 1.7h0m2.4.4h0m-.8-1.8h0m1.7.9h0m1.3 1.8h0m2.6-1.1h0m1.7.1h0m.4 1.4h0m1.9.6h0m1.1-1.4h0m.8 1.1h0m1 1.3h0m1.6-2h0m.2.4h0m1.2 1h0m.9 1h0m.9-1.5h0m-.8 1.5h0m1.6.1h0m.8-.6h0m1.5 0h0m.4.3h0m1.3-.6h0m.6 1.3h0m1.3.9h0m.5.3h0m1.6-1.1h0m.8.2h0m1.3-.5h0m1.6.9h0m-.4-.4h0m1.7.7h0m2.2.5h0m1.4 0h0m.3 1.8h0m1.6.1h0m-.6-1.8h0m1.7.8h0m-.4-.4h0m1.1.6h0m1.4 1.7h0m-.2-.3h0m1.5.3h0m1.4.3h0m-.8-.2h0m1.9-.6h0m-.5 1h0m1.8.2h0m1 .1h0m-.5.6h0m2.5-1.1h0m.4 1.5h0m.2-1.1h0m1.1 1.1h0m.5 0h0m1.8-.5h0m.8-.3h0m.2 1.7h0m.5-1h0m.7.4h0m1 .3h0m.6.6h0m.8-.5h0m1.3 1.6h0m.6-1.4h0m1.8 1.1h0m-.3 1.1h0m1-.6h0m1 .7h0m1.1-.3h0m1.7.4h0m0-.7h0m1.4.7h0m1.2-.7h0m-.3 0h0m2.3.6h0m.8.9h0m1.3.6h0m.7-1h0m1.1.8h0m-.6 1.3h0m1.3-.2h0m.5-.3h0m1.8.2h0m1.6-.1h0m1.1-.1h0m1 .5h0m.5 1.7h0m.9 0h0m-.1.5h0m.9-.5h0m2.4.4h0m.8-.1h0m1.4-.6h0m.9 1.4h0m-.4-.5h0m1.4-.5h0m1.8 1.8h0m.8-1.6h0m.9 2.1h0m1 .2h0m1.4-.3h0m.5-.7h0m1.1.3h0m0 .2h0m1.1-.5h0m.7.8h0m1.1-.4h0m1.9 1.9h0m.2 0h0m2-1.4h0m.4 1.5h0m.2.8h0m2.1-.6h0m.4.8h0m0 .2h0m1.6-1.1h0m.4.7h0m.6.7h0m1.4.3h0m1.8-.1h0m-.7-1h0m1.8 1.6h0m.9-1.1h0m1.2.4h0m.4.1h0m1.5.5h0m-.6.2h0m1.4-1h0m1 .4h0m1.7 0h0m.2-.3h0m.4 1.5h0m1.2.2h0m1 0h0m.4.8h0m1.6-1.9h0m1.2.5h0m.1 1.2h0m1.8-1h0m-.2.9h0m1.6 0h0m.9 1.3h0m-.3-1.2h0m2.2 1h0m1.2-.9h0m-.3.9h0m1.9.4h0m.4-1.4h0m1.2.4h0m-.3-.4h0m1.5.9h0m1.2.3h0m.9.5h0m.3.5h0m1.8.1h0m.7-.4h0m1.4.3h0m-.1.6h0m.8-1.2h0m2.1.5h0m-.3 1.1h0m1.7-1.8h0m.4.8h0m.8 1h0m.9-1.3h0m2 1.2h0m.3.8h0m1.2 0h0m.3-1h0m1 .4h0m1.3-.4h0m.9 1.7h0m1.3-1.9h0m.4 1.5h0m.2.9h0m2.2-.8h0m.4.2h0m.7 0h0m1.2-.4h0m.8-.5h0m1.2.5h0m.3 0h0m1.8.8h0m.6.2h0m.9-.2h0m.4 1h0m1.7-1.2h0m-.1.6h0m2.1 0h0m-.1.4h0m1.4.6h0m.6-.4h0m2.1.9h0m-.5-.4h0m.8 1.2h0m1.1 0h0m.9-1.4h0m1.1.3h0m.9.3h0m1-.5h0m1.3 1.5h0m.2-1.1h0m.6.2h0m1.7 1.1h0m1.7.6h0m-.5-1.1h0m.9-.3h0m.6 1.2h0m2.6 1.1h0m-.7-1.4h0m1.5 1.5h0m.4-.8h0m2.4.9h0m-.4-.4h0m1.9-.7h0m1.2 1.3h0m.1-.6h0m.4 1.4h0m1.2-.5h0m1.8.2h0m1.2-.6h0m.7 0h0m1 1.4h0m.6.1h0m1.3-1.4h0m.2.6h0m1.8 1.5h0m.1.3h0m.9-.9h0m2.2-.1h0m1-.4h0m-.1 1.9h0m1.7-1.4h0m.7 1h0m.1 1.1h0m1 .2h0m2.2-.5h0m.4-.7h0m1.2 1.7h0m.2-.9h0m1.9 1.3h0m1.2.1h0m.9-1h0m1.4-.7h0m.7.1h0m-.2.3h0m1.6 1.8h0m1.6-.2h0m.2-.6h0m1.1.3h0m1 .8h0m.2.8h0m1.1.1h0m.7-1.8h0m2.7.9h0m-.1 1.2h0m.4-.2h0m2.3-.1h0m-.6-.6h0m2.5.3h0m.6 1.1h0m1.1.2h0m.4.5h0m1.3-1.1h0m-.3 1h0m1.8.3h0m.4.9h0m1.4-1.1h0m.2-.4h0m1 1.3h0m1.1.5h0m.7.2h0m2.1-.2h0m.5-.7h0m.2.4h0m.8 1.4h0m.7.2h0m1.5-1.4h0m.3.5h0m.8 1.3h0m1.1-.8h0m.7-.2h0m0 .3h0m2 1.1h0m-.6-.2h0m2 .1h0m1.1-.5h0m-.7.3h0m.5 1.2h0m1.5-.3h0m.8-.1h0m.4.7h0m1.6.6h0m.1-1h0m.7 1.3h0m.2-2h0m1 2h0m0-.9h0m2.3.9h0m.8.7h0m2.3.2h0m1.3-.9h0m.5 1h0m.9.4h0m2.3 1h0m-.2.3h0m1.8-.7h0m.5.1h0m1.2 1.7h0m.7-.6h0m.7 1.8h0m.9-.9h0m.8.5h0m1.8 1.2h0m.4.4h0m.2-.2h0m.9-.6h0m.7.2h0m1.1.3h0m.9 1.6h0m-.6-.5h0m1.8.9h0m.6-1h0m.8.6h0m-.6 1.7h0m1.4-.9h0m.1.7h0m1.5-.4h0m.4 1.2h0m1.3.3h0m-.6.7h0m.5-.8h0m2.1 1.4h0m-.3-.4h0m.4.7h0m1.2 1.5h0m.8-.8h0m1 .2h0m7.8 4.1h0m.2-.5h0m1.4 2.1h0m.7-.9h0m2.3.1h0m4.2 2.3h0" stroke="#FFF300" stroke-width="5.8" stroke-linecap="round" fill="none"/><path d="M122.6 1475.7h0m6.1 3h0m.6 1.1h0m3.6 1.2h0m1.8 0h0m3.6 1.4h0m2.8.2h0m-.4-.2h0m2.2 1.5h0m1.9 1.5h0m2.8-.4h0m2.6.7h0m.6 1.3h0m2 .9h0m-.1-.3h0m2.5.9h0m1.5-.3h0m6.2 1.8h0m2.6 1.4h0m2.7-1.4h0m1.5 1.3h0m295.2 60.4h0m2-.2h0m3 2h0m-.2-.6h0m1.5.7h0m2.1 2h0m5.1 1.4h0m4.2 1.9h0m2.7 3.1h0m2.4 1.5h0m.2-1.2h0m7.2 8.1h0" stroke="#FDE209" stroke-width="5.8" stroke-linecap="round" fill="none"/><path d="M117.8 1471.9h0m.6.9h0m1.9 1.3h0m.7-.1h0m6.1 3.6h0m4.2 1.3h0m.1 1.7h0m.2.2h0m2 .4h0m.9-1.2h0m1.1 2.7h0m1.6-.9h0m1.8.8h0m5.9 1.1h0m3.1 2.5h0m1.3.2h0m7.2 1.1h0m2.8 1h0m2.8 1.7h0m9 .5h0m296.4 62h0m1.4 1h0m7.1 4h0m2-1.1h0m3.4 3.1h0m.5-1.2h0m1.6 1.7h0m1.1 1.1h0m4.1 1.5h0m1.1.4h0m-.4.4h0m11.8 16.8h0" stroke="#FBCA12" stroke-width="5.8" stroke-linecap="round" fill="none"/><path d="M102.7 1459.5h0m2.1 4.8h0m2.7 1h0m3 2.5h0m.1 1.8h0m.6.2h0m2-.2h0m.7-.1h0m2 2.3h0m.2-.3h0m-.1 1h0m3.8 1h0m1.9 2.5h0m2 .8h0m1.2 1.1h0m.8.4h0m2.6.9h0m.4.1h0m10.1 2.4h0m341 76.8h0m6.1 3.8h0m1-.2h0m4.4 3.8h0m.8.2h0m-.4 1.2h0m1.2-1.3h0m-.1.8h0m1.5 2.6h0m.7-.5h0m1.9 2.2h0m.6 1.6h0m.4 2h0m1 .7h0m.7-.4h0m-.5 2.5h0m1.3 1.1h0m1.9 1.5h0m4.5 10.5h0m-.9.7h0" stroke="#F8AB18" stroke-width="5.8" stroke-linecap="round" fill="none"/><path d="M99.4 1452h0m2.9 6.8h0m4.2 4.5h0m.1 1.2h0m1.2 1.2h0m1.3 1.8h0m1.2-.3h0m1.9 1.9h0m1.9 2.7h0m380.2 96.6h0m3.5 4h0m2 5.5h0m3.5 5.6h0m.4-.3h0m-1.1.5h0m1.9 2.5h0m.1.7h0m0 2.6h0" stroke="#F68B19" stroke-width="5.8" stroke-linecap="round" fill="none"/><path d="M94 1434.6h0m.9 4.3h0m-.4.6h0m1.8 5.8h0m-.2.5h0m.1.8h0m1.9 1.6h0m.6 2.8h0m-.3-.9h0m1 3.6h0m.8 2.1h0m.5 2.1h0m1.2 1.6h0m.1.3h0m2.5 2.3h0m.2 1h0m0-.5h0m394.8 114.5h0m3.2 4h0m1.6 5.8h0m.2.4h0m2.1 3.9h0m.3 1.8h0m.1.9h0m-.1 1.8h0m.4 4h0m2-.7h0m-.9 2.2h0m0 3.1h0m1.6 1.9h0m1.2 6.4h0m-.7 2.9h0" stroke="#F36A19" stroke-width="5.8" stroke-linecap="round" fill="none"/><path d="M92.2 1418.7h0m-1.3 1.9h0m2.3 3.9h0m2.3 15.2h0m.2.6h0m-.1.4h0m-.6 2.3h0m1.7 1.1h0m.3 1.2h0m-.3 2.7h0m3.4 8.4h0m2.5 4.3h0m398.7 117.7h0m3.8 10h0m1 4.4h0m.6 2.8h0m1.8 1.8h0m-1.1 1h0m2.8 8h0m-1 1h0m1.2 1.6h0m.1.8h0m-.7.6h0m2 3h0m-.1 7.6h0m.8 2.5h0m-.3 2.1h0m.6.5h0m.3.8h0m0 3.1h0m-.7.3h0m1 2.4h0m.3 1.5h0m.1 7h0m.1 3.7h0" stroke="#EF511A" stroke-width="5.8" stroke-linecap="round" fill="none"/><path d="M90.8 1418.4h0m1 3.2h0m-.6-.9h0m.9 3.7h0m.8 1.1h0m-1.1 1.8h0m.8 1.8h0m1.4 1.8h0m-.5 1h0m-.5.1h0m.6.7h0m-.5 1.2h0m.4 1.4h0m1.9 1.4h0m-.1 6.8h0m3.5 9.5h0m.7 1.7h0m409.9 147.1h0m.1.4h0m-.3 1.6h0m1.4 8.1h0m.1 2.3h0m.9 2.9h0m.1 1.7h0m.7.4h0m-.1 1.3h0m-.3 1.7h0m.1 2h0m1.4 5.9h0m.2 2.4h0m.3-1h0m-1 3.2h0m1.5 4h0m-.7 1.8h0m.8 1h0m-1 1.7h0m1.1 3.7h0m.6 2.8h0" stroke="#EC3A1C" stroke-width="5.8" stroke-linecap="round" fill="none"/><path d="M89.8 1372.5h0m-.3.8h0m.9-.1h0m-.4-.3h0m-1.1 2.6h0m.5-1h0m1.1 2h0m-1.3-.1h0m.2.8h0m-.3 1.6h0m.6.7h0m-.2.4h0m-.2 2.7h0m1.3.4h0m-1 .2h0m0 1.5h0m-.1 1h0m.4 1h0m.8 1.7h0m-.2 1h0m.1 1.7h0m-.4-.8h0m.4 1.6h0m.5.2h0m.2.7h0m-.5 1.9h0m-.4 1.9h0m.7-.7h0m-.4 1.9h0m-.8-.1h0m1.1 2.3h0m-.2.3h0m.1.7h0m.7 2.5h0m-.7-1.1h0m-.1 2.8h0m-.1-.6h0m-.3 2.3h0m.9.1h0m0 2h0m.7 1.1h0m-1 .9h0m1 1h0m-.3.3h0m-.4 1.5h0m.3.6h0m-.7-.6h0m.1 1.9h0m.6-.1h0m1.1 7.8h0m-.5 3.6h0m.5 1.2h0m-.3.3h0m418.3 182h0m1.2 11.8h0m.5 5.9h0m1.5 9.2h0m-.2-.9h0m.7 6.4h0m-.4 3.3h0m1.3.4h0m-1 1.3h0m1.2 1.1h0m-.3.3h0m-.2 1.2h0" stroke="#E8231E" stroke-width="5.8" stroke-linecap="round" fill="none"/><path d="M516 1671h0m0 9h0m0 3h0m0 29h0m0 10.5h0" stroke="#FDE209" stroke-width="5.4" stroke-linecap="round" fill="none"/><path d="M89.6 1306.3h0m0 12.4h0m0 10.6h0m0 10.2h0m.3 4h0m-.3 3.5h0m.4 12.5h0m426 295.5h0m0 8h0m0 11h0m0 3h0m0 9h0m0 7.7h0m0 10.3h0m0 4h0m0 8h0m0 3h0m0 11.8h0m0 3.2h0m0 3.4h0m0 10.7h0m0 22.3h0" stroke="#E8231E" stroke-width="5.4" stroke-linecap="round" fill="none"/><text x="94" y="1312.5" font-size="18">Cxcr6</text><text x="94.9" y="1334.7" font-size="18">AW112010</text><text x="100.2" y="1353.3" font-size="18">Ms4a4b</text><text x="88.7" y="1364" font-size="18" text-anchor="end">Fosb</text><text x="109.1" y="1386.1" font-size="18">Tnfsf11</text><text x="87.8" y="1402.1" font-size="18" text-anchor="end">Tnf</text><text x="94.9" y="1402.1" font-size="18">Ifng</text><text x="125.1" y="1412.7" font-size="18">Cd40lg</text><text x="118" y="1432.2" font-size="18">Tbx21</text><text x="92.2" y="1444.7" font-size="18" text-anchor="end">Irf1</text><text x="114.4" y="1448.2" font-size="18">Klrk1</text><text x="84.3" y="1464.2" font-size="18" text-anchor="end">Cd69</text><text x="136.6" y="1466.8" font-size="18">Il7r</text><text x="68.3" y="1491.7" font-size="18">Nkg7</text><text x="476.4" y="1580.8" font-size="18" text-anchor="end">Ifngr1</text><text x="496.2" y="1601.4" font-size="18" text-anchor="end">Xbp1</text><text x="503.6" y="1623.6" font-size="18" text-anchor="end">Sell</text><text x="506.9" y="1652.5" font-size="18" text-anchor="end">S1pr1</text><text x="509.4" y="1709.4" font-size="18" text-anchor="end">Ifitm1</text><text x="509.4" y="1735.7" font-size="18" text-anchor="end">Ifitm3</text><text x="509.4" y="1753.9" font-size="18" text-anchor="end">Ccl6</text><text x="512.7" y="1778.6" font-size="18" text-anchor="end">Ccr7</text><path d="M90.5 1339.1L100.2 1346.2" stroke="#111" stroke-width="1.0" fill="none"/><path d="M91.4 1387.9L104.7 1382.6" stroke="#111" stroke-width="1.0" fill="none"/><path d="M92.2 1421.6L122.4 1411.8" stroke="#111" stroke-width="1.0" fill="none"/><path d="M95.8 1432.2L115.3 1427.8" stroke="#111" stroke-width="1.0" fill="none"/><path d="M98.5 1442L111.8 1441.1" stroke="#111" stroke-width="1.0" fill="none"/><path d="M84.3 1458.8L98.5 1445.5" stroke="#111" stroke-width="1.0" fill="none"/><path d="M106.4 1465L132.2 1460.6" stroke="#111" stroke-width="1.0" fill="none"/><path d="M91.4 1478.4L99.3 1451.7" stroke="#111" stroke-width="1.0" fill="none"/><path d="M478.9 1572.5L488.8 1565.1" stroke="#111" stroke-width="1.0" fill="none"/><path d="M500.3 1597.3L510.2 1593.1" stroke="#111" stroke-width="1.0" fill="none"/><path d="M506.1 1620L514.4 1618.7" stroke="#111" stroke-width="1.0" fill="none"/><path d="M508.6 1647.2L514.4 1646.4" stroke="#111" stroke-width="1.0" fill="none"/><path d="M90.5 1810.7L90.5 1814.7" stroke="#444" stroke-width="1" fill="none"/><text x="90.5" y="1838" font-size="23" text-anchor="middle">0</text><path d="M177.1 1810.7L177.1 1814.7" stroke="#444" stroke-width="1" fill="none"/><text x="177.1" y="1838" font-size="23" text-anchor="middle">1000</text><path d="M263.7 1810.7L263.7 1814.7" stroke="#444" stroke-width="1" fill="none"/><text x="263.7" y="1838" font-size="23" text-anchor="middle">2000</text><path d="M350.2 1810.7L350.2 1814.7" stroke="#444" stroke-width="1" fill="none"/><text x="350.2" y="1838" font-size="23" text-anchor="middle">3000</text><path d="M436.8 1810.7L436.8 1814.7" stroke="#444" stroke-width="1" fill="none"/><text x="436.8" y="1838" font-size="23" text-anchor="middle">4000</text><path d="M523.4 1810.7L523.4 1814.7" stroke="#444" stroke-width="1" fill="none"/><text x="523.4" y="1838" font-size="23" text-anchor="middle">5000</text><text x="61.5" y="1345.2" font-size="21.5" text-anchor="end">1</text><text x="61.5" y="1524.7" font-size="21.5" text-anchor="end">0</text><text x="61.5" y="1704.2" font-size="21.5" text-anchor="end">-1</text><text x="315.9" y="1863" font-size="22.7" text-anchor="middle">ranking</text><text x="17.5" y="1557.8" font-size="22" text-anchor="middle" transform="rotate(-90 17.5 1557.8)">avg_logFC</text><text x="59.2" y="1270.8" font-size="26.72">DE genes in tumor infiltrating CD4 T cells</text><rect x="595.9" y="1286.8" width="496.5" height="532.3" fill="#EBEBEB"/><path d="M687.3 1286.8L687.3 1819.1" stroke="#fff" stroke-width="0.9" fill="none"/><path d="M824.3 1286.8L824.3 1819.1" stroke="#fff" stroke-width="0.9" fill="none"/><path d="M961.3 1286.8L961.3 1819.1" stroke="#fff" stroke-width="0.9" fill="none"/><path d="M618.8 1286.8L618.8 1819.1" stroke="#fff" stroke-width="1.8" fill="none"/><path d="M755.8 1286.8L755.8 1819.1" stroke="#fff" stroke-width="1.8" fill="none"/><path d="M892.8 1286.8L892.8 1819.1" stroke="#fff" stroke-width="1.8" fill="none"/><path d="M1029.8 1286.8L1029.8 1819.1" stroke="#fff" stroke-width="1.8" fill="none"/><path d="M595.9 1309.6L1092.4 1309.6" stroke="#fff" stroke-width="0.9" fill="none"/><path d="M595.9 1447.5L1092.4 1447.5" stroke="#fff" stroke-width="0.9" fill="none"/><path d="M595.9 1585.4L1092.4 1585.4" stroke="#fff" stroke-width="0.9" fill="none"/><path d="M595.9 1723.2L1092.4 1723.2" stroke="#fff" stroke-width="0.9" fill="none"/><path d="M595.9 1378.5L1092.4 1378.5" stroke="#fff" stroke-width="1.8" fill="none"/><path d="M595.9 1516.4L1092.4 1516.4" stroke="#fff" stroke-width="1.8" fill="none"/><path d="M595.9 1654.3L1092.4 1654.3" stroke="#fff" stroke-width="1.8" fill="none"/><path d="M595.9 1792.2L1092.4 1792.2" stroke="#fff" stroke-width="1.8" fill="none"/><path d="M643.7 1491.6h0m10 4.8h0m1.9-.6h0m2.9 1h0m3.8 1.1h0m2.3 1h0m.7-1.4h0m0 .5h0m2.7 1.3h0m.1-.6h0m1.2.2h0m1.7-.6h0m-.1 1.4h0m1.1.6h0m.8-.3h0m2.2.1h0m3.1 1.4h0m.9-1.2h0m1.6 1.5h0m1.4-.9h0m-.5.3h0m2.3 1.4h0m1 .2h0m1 .2h0m.2 0h0m.9.4h0m.2-1.1h0m1.3 1.3h0m.8-.3h0m2.7.6h0m.7-1h0m.6-.1h0m1.1.2h0m.8 1.2h0m1.9-.3h0m1.2.8h0m.9.6h0m1.8.4h0m.7.1h0m.4.2h0m-.3-.9h0m1.3 1.4h0m1.4-.2h0m0 .1h0m1.2-.3h0m0 .8h0m.5-.8h0m1.9.6h0m.3-.8h0m.7 1.3h0m1.9.4h0m-.1-.7h0m.4-.5h0m.7 1h0m1.3-.9h0m1 .8h0m.2 1.3h0m1-.7h0m2.4-.9h0m-.5 1.7h0m2-.2h0m.8.2h0m.9-.8h0m.9 1.6h0m-.1-.3h0m.6-.5h0m2.6.6h0m-.5.6h0m1.7 0h0m1.1-1.1h0m0 .7h0m.5-.2h0m2.1.2h0m.3.2h0m1.9-.1h0m1 1.4h0m-.3-.5h0m1.4.4h0m1.3.3h0m-.2.1h0m1.3-.2h0m.7 1.1h0m.9-1.8h0m1 .1h0m.8 2.1h0m1.8-.8h0m1.8-1h0m.5.9h0m1 .5h0m1.2.7h0m1.1-1h0m1 .9h0m-.7 1h0m1.5-1.4h0m1 1.1h0m1.1-.6h0m1.7.1h0m-.1.8h0m1.9-.9h0m1-.2h0m.9 1.3h0m.4.2h0m.8-.9h0m.5-.2h0m1 1.8h0m.6.4h0m1.6-1.1h0m.9.3h0m1.4-.6h0m.8.9h0m.3.7h0m-.2.2h0m1-1.1h0m1-.2h0m.8 1.5h0m2-.9h0m1.2.1h0m.4-.8h0m.2 1.1h0m.7.8h0m1.3.4h0m.4-.8h0m2-.1h0m.2-.3h0m.6-.1h0m1.7 1.4h0m-.2.4h0m1.5-1.8h0m.7.1h0m1.9 1.4h0m-.3-1.1h0m.9 1.1h0m1.6.9h0m1.5-1.8h0m.3 1.2h0m.6-1.1h0m.8.4h0m1.1.3h0m1.6.5h0m2.6.6h0m.6-.4h0m1.2.4h0m4.4.2h0m1 1.1h0m2.9-1.2h0m2.4-.3h0m.4 1h0m.6-.1h0m2.6.4h0m.2.7h0m3.2.7h0m.8.1h0m2.9 0h0m2.7 0h0m1.4-.7h0m1.5-.2h0m1.1.8h0m.9 1h0m4.6 0h0m19.3 0h0m2.8 1.3h0m4.7 1h0" stroke="#FFF300" stroke-width="5.8" stroke-linecap="round" fill="none"/><path d="M646.8 1491.7h0m3 1.1h0m1.6 1.8h0m1.3-.1h0m2.9 1.3h0m.8 1h0m1.7-1.2h0m2.2 1.6h0m5.7.5h0m-.1.3h0m9.8 1.5h0m1 1.9h0m.9.5h0m112.9 15.6h0m.2-.5h0m5.3.5h0m.5.5h0m0 .2h0m.7-.8h0m2.2-.4h0m3 2.3h0m1.1-.2h0m1.5-1.3h0m2.4 2.2h0m3.5-.5h0m.8.6h0m2.2-.9h0m2.2 1.3h0m1.5-.5h0m1-1.2h0m3.8 1.2h0m2.1.2h0m1.4-.6h0m1.2 1.5h0m2.2-1.1h0m1.3.9h0m2.7-.5h0m1.2 1.3h0m0 .5h0m2.4-1.1h0m-.7.6h0m2.6.4h0m1-.6h0m0-.3h0m1.1-.2h0m2.1 1.1h0m1.3-.3h0m1-.2h0m1.8 1.3h0m2.8-.9h0m3.1 1.3h0m1.4.1h0m5.2.4h0m6.7-1.4h0m1.2.9h0m2-.1h0m1.6 1.5h0m.8-1.2h0m13 1.9h0" stroke="#FDE209" stroke-width="5.8" stroke-linecap="round" fill="none"/><path d="M637.9 1487.7h0m.9-.1h0m2 .9h0m4.9 3.4h0m2.6.8h0m1.6 1h0m.7 0h0m.5.4h0m3.1 1.6h0m2 .4h0m5.4 2.4h0m6.8-.2h0m4.4 2.1h0m.7.7h0m151 19.6h0m5.7-.6h0m.9 1.8h0m1.5-.8h0m6.1.7h0m4.3-.7h0m3.7.9h0m5.3.4h0m0-.4h0m4.1 1.3h0m1.6.1h0m-.1 0h0m1.6-.4h0m4.1.9h0m1.8-.4h0m-.8.5h0m2.9-.3h0m.8.7h0m2.9-1h0m1.8.6h0m1.6.9h0m.4 0h0m2.1-1.8h0m1.3 1.5h0m1.3-.3h0m-.5-.3h0m2.6.1h0m1.3-.6h0m2.6 1.3h0m2.1.9h0m1.5-1.4h0m1 .2h0m.3 1.2h0m2.1.5h0m.5-.4h0m2.7.7h0m.4-.9h0m1.9-.5h0m1.2-.3h0m3.5 1.1h0m3.1-.3h0m2.7 0h0m3.3.3h0m2.8.1h0m2.1 1.2h0m27 1.3h0" stroke="#FBCA12" stroke-width="5.8" stroke-linecap="round" fill="none"/><path d="M634.2 1483.9h0m.8.2h0m.7 2.2h0m3.1 1h0m1.5.7h0m0 .5h0m2.2 2.2h0m.8-.4h0m.7 1.1h0m2-.1h0m203.7 30.6h0m11.5 1.8h0m-.1.3h0m.6-1.9h0m14.7 2.2h0m5.7.2h0m2-.8h0m2.1 1.8h0m1.5-1.4h0m7 1.4h0m3.1-.5h0m2 1.2h0m1.9.5h0m2-1.1h0m.9.3h0m3.6.2h0m1.2.4h0m1.7-.1h0m.9-.9h0m3.3.7h0m2.8.5h0m.8 1.1h0m1.4.4h0m1.2-1.2h0m0 .2h0m1 1.1h0m.3-.3h0m4.5-1.1h0m3.6 1.8h0m-.6-1.7h0m1.1 1.1h0m4 .8h0m5.4.4h0m-.2-.4h0m8.1-.1h0m5.3 1.3h0m6.1.9h0m9.8.8h0m6.1-.1h0m18.5 3.4h0" stroke="#F8AB18" stroke-width="5.8" stroke-linecap="round" fill="none"/><path d="M627 1470.8h0m4 8.3h0m2.8 4.9h0m3.5 2h0m254.6 39.6h0m8.9-.4h0m5.6.9h0m7.1-.4h0m4.1 1.9h0m7 0h0m4 1.2h0m1.2-.1h0m3.6.4h0m.6-1.2h0m2.1-.3h0m-.5.5h0m2.6.8h0m-.1-1.2h0m1.8.9h0m2.3 1.4h0m1.3-.2h0m.5-1.4h0m.3.8h0m1.9-.3h0m.3.9h0m2.3-1.4h0m.4 1.9h0m2.1 0h0m-.1-.9h0m1.7 0h0m4.4.2h0m.1.9h0m1.7-.3h0m2.2 0h0m1.1-.1h0m.9.2h0m3.2.3h0m.6.3h0m1.6 1.1h0m2.7-.9h0m1.6.1h0m3.6.7h0m7.3 1.6h0m2.3.3h0m.3-1.6h0m1.5 2.1h0m3.9-1.6h0m5.3 2.6h0m3.5.9h0m3.8 1.2h0m16.2 2.6h0m8.8 3.7h0" stroke="#F68B19" stroke-width="5.8" stroke-linecap="round" fill="none"/><path d="M624.8 1465.5h0m1 .7h0m-.9 2.4h0m1.7.8h0m.5 5.6h0m.7 2.6h0m2.5 1.2h0m.5.3h0m.7 2.1h0m1.1.9h0m1.8 2.6h0m291.5 43h0m.2.6h0m28.9.7h0m1.5 2.1h0m7.5-1.4h0m1.2 2.1h0m1.8-1.6h0m3.6.7h0m1.5 1.4h0m3-1.4h0m4 1.5h0m.3-.7h0m1.6 1.5h0m1-.7h0m.1-.1h0m2.4.7h0m3.2.7h0m2 .4h0m-.1 0h0m5.7.5h0m.7-1.2h0m.9.2h0m1.1 1.9h0m3.6.6h0m.7-1.5h0m.3 1.1h0m3.5.8h0m2.2-.4h0m.7.5h0m.6.3h0m1.4 1h0m2.3 1.4h0m.7-1.2h0m2.1 2.2h0m5.8.6h0m8.5 2.8h0m2.3.7h0m2.6.8h0m14.1 7.5h0" stroke="#F36A19" stroke-width="5.8" stroke-linecap="round" fill="none"/><path d="M621.5 1450.4h0m0 1.2h0m.9 4.1h0m1.1 2.2h0m.3 3.6h0m.8 2.6h0m-.2.8h0m.5 4.3h0m2.2 3.5h0m0-.3h0m1.2 1.4h0m0 1.1h0m.4 3.2h0m3.2 3.5h0m316.1 47.5h0m28.8 3.6h0m.4-1.2h0m6.3.2h0m8.6 2.6h0m1.1.7h0m-.6-.9h0m5.6 1h0m2.1.4h0m9.5 1h0m2.1 2.2h0m4.2-.1h0m.9 1.2h0m1.6-.7h0m2 1.1h0m.5.5h0m2.9.1h0m.3.7h0m.7 1.2h0m1.9.9h0m1.9-.2h0m.4.2h0m3.3.9h0m2.3 1h0m.5 0h0m1.9 2h0m5.2 1.9h0m4.9 1.8h0m5.3 3.8h0m3.8 3.3h0m.9 1.8h0" stroke="#EF511A" stroke-width="5.8" stroke-linecap="round" fill="none"/><path d="M622.2 1449.8h0m-.1 2h0m1.1 2.6h0m0 1.7h0m.3 1h0m.2 3.8h0m.9-.4h0m-.2 1.7h0m1.1 3.2h0m.1 4.1h0m378.1 65.6h0m16.1 4.1h0m6.1 4.6h0m-.2-1.7h0m5.4 3.2h0m1.8 0h0m4.1 2.3h0m2.5 1h0m.2-1.1h0m.6 1.2h0m2.6 1.3h0m2.1-.5h0m.2.7h0m.4 1.3h0m2.8 2h0m.6.2h0m2.2-.8h0m.8 1.4h0m1.6 2.5h0m.9.8h0m1.5 0h0m3.2 2.3h0m.6 2.8h0m2.2.5h0" stroke="#EC3A1C" stroke-width="5.8" stroke-linecap="round" fill="none"/><path d="M620 1397.5h0m-1.1.5h0m.3-.1h0m1-.4h0m-1.1 1.2h0m1.1 2.2h0m-.7-.9h0m.7 1.3h0m-.4 2.3h0m.3.3h0m-.3.7h0m-.1.9h0m.4 2h0m-1.2-.4h0m1.1 2.4h0m-.1.2h0m-.6 1.5h0m-.3.2h0m1.4 1.7h0m-.4.3h0m-.9 2.5h0m.1.3h0m.9.8h0m-.4 1.3h0m.4-.1h0m-.4 2.2h0m.5.1h0m-.1 1.3h0m-.8.4h0m1.3 2.1h0m-.8.5h0m-.1.2h0m.1 1.7h0m.3.4h0m.7 1.8h0m-1.3 1.4h0m.2 1h0m.6.6h0m-.1 1.7h0m-.1-.7h0m.5 2.2h0m-.5.4h0m.9 0h0m.3 1.3h0m-.6.6h0m.5 1.5h0m-.6.1h0m.7.6h0m-.9.8h0m1.2 3h0m0 1.2h0m-.6.7h0m.4-.7h0m-.4.8h0m.1.6h0m.1 2.2h0m-.4-.1h0m1 4.1h0m.9 5.7h0m419.1 90.5h0m2.7 3h0m2.8.5h0m3.2 2.4h0m2.9 2.4h0m3.6 3.8h0m2.6-.1h0m-.1.6h0m2 2.7h0m.9 1.5h0m.4 1h0m.1-.5h0m1.4.2h0m.2.8h0m.2 1.7h0m-.1 1h0m1.1.6h0m-.1.1h0m.3 1h0m.2.4h0m1 1.5h0m-1 2h0m.8 1h0m.1-.1h0m-.4-.3h0m.7 1.5h0m1.2.8h0m-.4 1.8h0m-.3-.5h0m-.4.5h0m1.1 2h0m.4 1.3h0m-.8.3h0m.1 1.3h0m.2.1h0m.8 1.7h0m.2.7h0m.1-.1h0m.7 2.5h0m-.6 1h0m-.3.8h0m.3 1.7h0m0 1.2h0m.6.7h0m0 .5h0m.8 1.1h0m-1.4 0h0m1.4.5h0m.1 1.5h0m-1.2 1h0m0 2.1h0m-.2 1.2h0m1.6.4h0m-.3-.3h0m-.4 2.3h0m-.7 1.3h0m.2 1.6h0m-.3.8h0m1.1.1h0m-.4 1.9h0m-.1.2h0m.4 1.3h0m.5.7h0m-.6 2.1h0m-.9-.1h0m.8.6h0m.2 2.9h0m-.5-1h0m1.3 2.6h0m0 .2h0m-1.5-.3h0m.4 2.1h0m-.4.4h0m1.3.9h0m-.3 1.4h0m-.8-1h0m1.3 1.2h0m-.7.7h0" stroke="#E8231E" stroke-width="5.8" stroke-linecap="round" fill="none"/><path d="M619.5 1310.2h0m0 44.8h0m.3 30.8h0m451.9 255h0m0 15.7h0m0 10.7h0m0 6.7h0m0 3.1h0m0 3.5h0m0 3.5h0m0 3.1h0m0 9.1h0m0 3.3h0m0 3.5h0m0 3.5h0m0 2.5h0m0 3h0m0 9.9h0m0 16.5h0m0 32.3h0" stroke="#E8231E" stroke-width="5.4" stroke-linecap="round" fill="none"/><text x="625.2" y="1316.6" font-size="18">Trbv13-1</text><text x="624.3" y="1358.6" font-size="18">Irf1</text><text x="623.4" y="1388.4" font-size="18">Cd69</text><text x="619.8" y="1409.2" font-size="18" text-anchor="end">Cxcr3</text><text x="625.2" y="1409.2" font-size="18">Cd160</text><text x="642" y="1425.1" font-size="18">Cd226</text><text x="618" y="1452.6" font-size="18" text-anchor="end">Cxcr6</text><text x="637.2" y="1447.3" font-size="18">Cxcr4</text><text x="667.7" y="1462.4" font-size="18">Cd28</text><text x="622" y="1472.1" font-size="18" text-anchor="end">Il7r</text><text x="632.2" y="1474.8" font-size="18">Ifi203</text><text x="670.4" y="1491.7" font-size="18">Ifng</text><text x="632.2" y="1495.2" font-size="18" text-anchor="end">Gzmk</text><text x="618.9" y="1524.5" font-size="18">Nkg7</text><text x="1042.7" y="1533.1" font-size="18">Havcr2</text><text x="1027.8" y="1567.9" font-size="18" text-anchor="end">Sell</text><text x="1056.8" y="1584.5" font-size="18" text-anchor="end">Klrg1</text><text x="1060.9" y="1603.5" font-size="18" text-anchor="end">Ifngr1</text><text x="1065.1" y="1635.8" font-size="18" text-anchor="end">Ccr7</text><text x="1060.1" y="1673" font-size="18" text-anchor="end">Ifitm3</text><text x="1059.3" y="1692.9" font-size="18" text-anchor="end">Gzmb</text><text x="1070" y="1717.8" font-size="18" text-anchor="end">Gzma</text><text x="1065.1" y="1742.6" font-size="18" text-anchor="end">Fcer1g</text><text x="1068.4" y="1776.5" font-size="18" text-anchor="end">Lyz2</text><path d="M607.4 1411L621.6 1446.4" stroke="#111" stroke-width="1.0" fill="none"/><path d="M631.4 1411.8L623.4 1432.2" stroke="#111" stroke-width="1.0" fill="none"/><path d="M640.2 1421.6L623.4 1448.2" stroke="#111" stroke-width="1.0" fill="none"/><path d="M635.8 1445.5L624.3 1450.9" stroke="#111" stroke-width="1.0" fill="none"/><path d="M663.3 1455.6L625.2 1457.1" stroke="#111" stroke-width="1.0" fill="none"/><path d="M665.1 1485.5L628.7 1476.6" stroke="#111" stroke-width="1.0" fill="none"/><path d="M620.6 1479.8L626.8 1472.4" stroke="#111" stroke-width="1.0" fill="none"/><path d="M633.1 1512.1L639.3 1488.1" stroke="#111" stroke-width="1.0" fill="none"/><path d="M1052.7 1538.1L1044.4 1550.5" stroke="#111" stroke-width="1.0" fill="none"/><path d="M1012.9 1555.5L1021.2 1543" stroke="#111" stroke-width="1.0" fill="none"/><path d="M1059.3 1568L1065 1564.6" stroke="#111" stroke-width="1.0" fill="none"/><path d="M1063.4 1593.4L1067.5 1591.7" stroke="#111" stroke-width="1.0" fill="none"/><path d="M1065.9 1631.6L1071.7 1639.1" stroke="#111" stroke-width="1.0" fill="none"/><path d="M1064.2 1669.8L1070 1673" stroke="#111" stroke-width="1.0" fill="none"/><path d="M1059.3 1689.6L1071.7 1697" stroke="#111" stroke-width="1.0" fill="none"/><path d="M618.8 1819.1L618.8 1823.1" stroke="#444" stroke-width="1" fill="none"/><text x="618.8" y="1843.6" font-size="23" text-anchor="middle">0</text><path d="M755.8 1819.1L755.8 1823.1" stroke="#444" stroke-width="1" fill="none"/><text x="755.8" y="1843.6" font-size="23" text-anchor="middle">2000</text><path d="M892.8 1819.1L892.8 1823.1" stroke="#444" stroke-width="1" fill="none"/><text x="892.8" y="1843.6" font-size="23" text-anchor="middle">4000</text><path d="M1029.8 1819.1L1029.8 1823.1" stroke="#444" stroke-width="1" fill="none"/><text x="1029.8" y="1843.6" font-size="23" text-anchor="middle">6000</text><path d="M591.4 1378.5L595.9 1378.5" stroke="#444" stroke-width="1" fill="none"/><text x="590" y="1386" font-size="21.5" text-anchor="end">1</text><path d="M591.4 1516.4L595.9 1516.4" stroke="#444" stroke-width="1" fill="none"/><text x="590" y="1523.9" font-size="21.5" text-anchor="end">0</text><path d="M591.4 1654.3L595.9 1654.3" stroke="#444" stroke-width="1" fill="none"/><text x="590" y="1661.8" font-size="21.5" text-anchor="end">-1</text><path d="M591.4 1792.2L595.9 1792.2" stroke="#444" stroke-width="1" fill="none"/><text x="590" y="1799.7" font-size="21.5" text-anchor="end">-2</text><text x="856.3" y="1864.5" font-size="22.7" text-anchor="middle">ranking</text><text x="572" y="1559.4" font-size="22" text-anchor="middle" transform="rotate(-90 572 1559.4)">avg_logFC</text><text x="598.3" y="1270.8" font-size="26.72">DE genes in tumor infiltrating CD8 T cells</text><rect x="74.9" y="1934.8" width="470.5" height="535" fill="#EBEBEB"/><path d="M142.8 1934.8L142.8 2469.8" stroke="#fff" stroke-width="0.9" fill="none"/><path d="M235 1934.8L235 2469.8" stroke="#fff" stroke-width="0.9" fill="none"/><path d="M327.2 1934.8L327.2 2469.8" stroke="#fff" stroke-width="0.9" fill="none"/><path d="M419.4 1934.8L419.4 2469.8" stroke="#fff" stroke-width="0.9" fill="none"/><path d="M511.6 1934.8L511.6 2469.8" stroke="#fff" stroke-width="0.9" fill="none"/><path d="M96.7 1934.8L96.7 2469.8" stroke="#fff" stroke-width="1.8" fill="none"/><path d="M188.9 1934.8L188.9 2469.8" stroke="#fff" stroke-width="1.8" fill="none"/><path d="M281.1 1934.8L281.1 2469.8" stroke="#fff" stroke-width="1.8" fill="none"/><path d="M373.3 1934.8L373.3 2469.8" stroke="#fff" stroke-width="1.8" fill="none"/><path d="M465.5 1934.8L465.5 2469.8" stroke="#fff" stroke-width="1.8" fill="none"/><path d="M74.9 2006L545.4 2006" stroke="#fff" stroke-width="0.9" fill="none"/><path d="M74.9 2103.3L545.4 2103.3" stroke="#fff" stroke-width="0.9" fill="none"/><path d="M74.9 2200.7L545.4 2200.7" stroke="#fff" stroke-width="0.9" fill="none"/><path d="M74.9 2297.9L545.4 2297.9" stroke="#fff" stroke-width="0.9" fill="none"/><path d="M74.9 2395.2L545.4 2395.2" stroke="#fff" stroke-width="0.9" fill="none"/><path d="M74.9 1957.4L545.4 1957.4" stroke="#fff" stroke-width="1.8" fill="none"/><path d="M74.9 2054.7L545.4 2054.7" stroke="#fff" stroke-width="1.8" fill="none"/><path d="M74.9 2152L545.4 2152" stroke="#fff" stroke-width="1.8" fill="none"/><path d="M74.9 2249.3L545.4 2249.3" stroke="#fff" stroke-width="1.8" fill="none"/><path d="M74.9 2346.6L545.4 2346.6" stroke="#fff" stroke-width="1.8" fill="none"/><path d="M74.9 2443.9L545.4 2443.9" stroke="#fff" stroke-width="1.8" fill="none"/><path d="M117.3 2111.7h0m11 5.4h0m3-.4h0m1.4 1.2h0m1.2.4h0m1.6-.2h0m2.4 1.5h0m.6-.6h0m.3 1.3h0m2.2-.1h0m3.4.2h0m.9 1.1h0m1.9.5h0m.5-1.2h0m1.1 1.8h0m-.4-1.1h0m2.1 1.3h0m.3 1.1h0m1.4-.2h0m1.6-1.3h0m-.7 1.4h0m2 .8h0m.3 0h0m.9 0h0m1.5-.1h0m1.4-.4h0m.7 1.2h0m.5-.7h0m.5 2h0m.4-.1h0m2 .3h0m1.2-1.2h0m-.1 0h0m.9 1.7h0m.7.3h0m1.5-.7h0m.1 1.6h0m.6-1.2h0m1.3 0h0m1 1.1h0m0 .9h0m.9.7h0m1.3-1h0m-.4.4h0m2.2 1.2h0m-.4-1.5h0m.4 2.1h0m1.8.4h0m.8-.4h0m.1-.2h0m.9-.3h0m1.6.2h0m.2 1.4h0m.9 1h0m1.4-1.5h0m.9.2h0m1.4 1.4h0m1.5.9h0m1.5.4h0m.6-.1h0m1.5.2h0m0 .4h0m.2-.4h0m2.4.8h0m.6-1.4h0m.8.2h0m-.5 1.4h0m.6 0h0m1.3-.8h0m1.5 1.4h0m.3-.9h0m.9.6h0m.5.8h0m1-.2h0m.8-.4h0m1.6-.4h0m1.1 1.7h0m-.6-.6h0m.9 1.1h0m1.8-1.2h0m-.1 1.6h0m1.8.3h0m.5-.3h0m1.1-.3h0m1.2-.1h0m1.8.4h0m-.4.1h0m.7.4h0m2.7.1h0m.7 0h0m0 1h0m2-.5h0m.7.8h0m.1-.5h0m1.4-.2h0m1.6-.4h0m0 1.1h0m1.4 0h0m.2-.1h0m2-.2h0m.9.7h0m1.1 1h0m1.2-1.2h0m.6 2.1h0m.4-.3h0m2.1.5h0m.9-1.5h0m.1 1.3h0m.8.8h0m2-.6h0m.8-.3h0m.9-.5h0m-.2 1.5h0m1.9-1.1h0m-.1 1.2h0m1.6-.5h0m.9.7h0m.3.8h0m1.1-1.4h0m.3 1.2h0m1 .6h0m.5-.4h0m2-.9h0m.9.6h0m.8.1h0m.3.1h0m1.5.4h0m.1-.2h0m1.8 1.3h0m.3.2h0m2.2 1.1h0m-.5.2h0m1.4-1.5h0m1.6-.3h0m-.3 1.9h0m1.2-.1h0m.3-1.1h0m2 1.4h0m-.3-1h0m2 1.8h0m.7-.9h0m-.4 1h0m1.4 0h0m0-.4h0m1.7-.6h0m.5 1.2h0m1 .6h0m-.1-1.1h0m2.1 1.5h0m.1-1.2h0m1.7.8h0m.5.3h0m.7.4h0m1.1.1h0m1.3.4h0m-.1-1.1h0m.9 1h0m.5-.2h0m2.5.8h0m-.6-.7h0m2.7-.2h0m.5 1.5h0m1.3.8h0m1.3-.3h0m-.1-.7h0m1.7-.4h0m.8.8h0m.3.6h0m1 .3h0m.1-.5h0m.3.2h0m2.3-.3h0m.3-.2h0m0 1.9h0m1.8-1.5h0m1.3.1h0m1 .3h0m1.1 1.7h0m-.1-.6h0m1.6.6h0m-.2-.1h0m1-.8h0m1 2h0m1.6-.9h0m.4.4h0m2 .9h0m-.4-1.2h0m1.2-.2h0m1 1.3h0m1.1-.2h0m1.8.8h0m.7-1h0m1.4.2h0m0 1.3h0m1.4-1.2h0m1.1.4h0m.6.1h0m.7 1.3h0m2.2.5h0m.8-1h0m.7 1.2h0m-.2-1.7h0m1.5.3h0m1.3 1.9h0m.5-.9h0m1.1 1h0m.7.3h0m1.5.2h0m1.1-1h0m1.1 1.1h0m1-1.6h0m-.1 1h0m1.1-.5h0m1.1.8h0m1.8 1h0m.2 0h0m1.1-1.4h0m.9 1.4h0m.4-.7h0m1.4.8h0m.8.9h0m.7.4h0m1.3-1.7h0m0 1h0m1.5-.4h0m-.5.3h0m.9.4h0m1 1.1h0m.7-1.1h0m.7 1.3h0m1.6-.5h0m.5-1h0m1.6.9h0m1.3 1.4h0m1.4-.1h0m.7.1h0m1.8-.3h0m-.2.1h0m.7 1.1h0m2-.6h0m.1.9h0m1.1.2h0m-.1-1.1h0m1.9 0h0m.2 0h0m1.3.7h0m0 1h0m1.7-1.7h0m-.1 2.2h0m.7-.4h0m1.1-.8h0m1.4-.1h0m1.1.1h0m.7 1.5h0m1.1-1.5h0m.5.9h0m.7.7h0m.7.6h0m.6-1h0m1.7 1.7h0m-.7-.7h0m1.1-.9h0m2.3 1.9h0m1 0h0m.3.3h0m1.2-.8h0m0 .3h0m2.3.6h0m-.5 1h0m1.9-.1h0m.8-.4h0m.7-.2h0m.5.6h0m1.4.8h0m-.8-1.6h0m1.4.3h0m1.9 1.5h0m-.5-1.5h0m2 .5h0m.2 1.1h0m.1.2h0m1.9-.5h0m1.2.8h0m.9.3h0m-.1.6h0m2 .5h0m-.4-.7h0m1.8.8h0m1-.9h0m.7.5h0m.2.7h0m1-.7h0m1-.2h0m1.5 0h0m1 .5h0m1.6.3h0m-.6 1.2h0m1.1-.1h0m.7-.7h0m1.6.4h0m.9.2h0m1.8 0h0m-.1 1.1h0m.9-1.1h0m.8 1.2h0m1.5 1.3h0m1.3-.5h0m0-1.1h0m2.2.2h0m.3 2.1h0m1.6-1.1h0m-.2 1.3h0m.7-1.5h0m.7.6h0m2.2.5h0m0 .4h0m1.7-.7h0m1 1.8h0m-.6-.3h0m1.3-.9h0m1.1 2h0m1.7-1h0m.7 1.2h0m1 .7h0m1.2.1h0m1.2-1.4h0m-.8.4h0m1 1.2h0m1.3.1h0m1.4-.5h0m.9-.5h0m.6 1.6h0m1.4-.2h0m.7-.8h0m1.7.9h0m.4 1h0m1.8.6h0m.4.4h0m1.7.3h0m3.2.9h0m-.5-.8h0m1.9 0h0m2 1.7h0m0-1.1h0m1.6.6h0m.1.5h0m2.3-.8h0m4 2.6h0m5.4-.3h0m2.7.6h0m-.1.5h0m1.2.7h0m2.1.3h0m4.5.6h0m6.6 2.6h0m7.2 2.3h0m5.4 2.8h0m2.2 1.2h0m2.5 2.3h0" stroke="#FFF300" stroke-width="5.8" stroke-linecap="round" fill="none"/><path d="M117.7 2111.7h0m2.4 1.8h0m.9-.5h0m.8-.1h0m-.4 1h0m2.5.7h0m1.8-.2h0m.9 0h0m1 2.3h0m.9-1.7h0m1.6 2.6h0m1.1-1.6h0m4.5 1.4h0m.5 1.7h0m1 0h0m2.2.1h0m2.3.8h0m1.5-.1h0m1.7 1.7h0m293.7 60.4h0m.9.7h0m1.5.6h0m2.8.3h0m7.5.4h0m1.3.9h0m.1-.6h0m2.9 1.4h0m.3.4h0m1.5.5h0m1 .1h0m1 .3h0m2-.1h0m4.2 1.2h0m1.3.4h0m.6.8h0m.8 1.2h0m2.7-.3h0m.5-.5h0m.7 1.3h0m1.4.5h0m3.6.4h0m1.3 1.8h0m4.3-.2h0m3 1.6h0m0-.7h0m1.1.3h0m-.4.8h0m1.6.7h0m1-.8h0m1.2 1h0m1.9 1.3h0m1 .1h0m3.4 2.5h0m1.2 1.1h0" stroke="#FDE209" stroke-width="5.8" stroke-linecap="round" fill="none"/><path d="M109.6 2101.7h0m.9 2.5h0m.2.7h0m2.4 1.9h0m.2 1.7h0m1.7-.4h0m.2.1h0m.8 2.3h0m3.8 1.2h0m2.4 1.6h0m-.1 1.2h0m1.3.7h0m329.6 70.5h0m6.9 1.4h0m3.3.3h0m12.3 4.3h0m.3-.4h0m1.9.6h0m2.4 2h0m1.1-1.1h0m.1 1.5h0m1.4-.6h0m9.3 5h0m6 2.5h0m.6.6h0m2.1.4h0m-.1-.5h0m1 1.8h0m1.3.2h0m-.2-.7h0m2.8 2.8h0m1.7 1.5h0m1.1-1.1h0m.7.7h0m-.3 2.1h0m1 .8h0" stroke="#FBCA12" stroke-width="5.8" stroke-linecap="round" fill="none"/><path d="M107.4 2096.6h0m.2 2.4h0m.2 1h0m1.4.7h0m1.2 2.6h0m1.6 3.6h0m4.1 2.7h0m374.1 86.9h0m7.4 4.3h0m6.3 3.8h0m1.9 1.7h0m0-.9h0m2 3h0m2.3 2.7h0m1.8-.4h0m.7.1h0m.2 3.7h0m2.8 4.3h0" stroke="#F8AB18" stroke-width="5.8" stroke-linecap="round" fill="none"/><path d="M102 2087.2h0m2.1 5.1h0m1 1.4h0m.8 1.6h0m.8.7h0m.1.7h0m1.4 4.6h0m3.9 3.7h0m400.2 106.8h0m.4 1.8h0m1.1 1.6h0m0 1h0m3.3 4.3h0m-.1 1.6h0m1.9 4.6h0m-1.3.8h0" stroke="#F68B19" stroke-width="5.8" stroke-linecap="round" fill="none"/><path d="M100.2 2083.8h0m.5.7h0m1.8 4.1h0m.9 1.3h0m.4 1.2h0m.1 1h0m1.7 3.5h0m3.4 4.7h0m405.4 116.5h0m-.1.1h0m.7 2.5h0m1.7 1h0m-.6 0h0m1.7 3.4h0m-.5-.1h0m-.1.7h0m1.9 4.6h0m0 .9h0m0 2.1h0m.3 8.7h0m1.3-.4h0m.2 2.7h0" stroke="#F36A19" stroke-width="5.8" stroke-linecap="round" fill="none"/><path d="M98.9 2072.7h0m-.3 4.2h0m.9 1.8h0m-.6.7h0m2.7 4.2h0m-.7 1.6h0m1.1.5h0m415.8 136.5h0m1.6 7.9h0m-.1 2.2h0m1 .6h0m-1 1.3h0m1.2.9h0m.4 11.5h0m.3 1h0m-.4 3.9h0" stroke="#EF511A" stroke-width="5.8" stroke-linecap="round" fill="none"/><path d="M96.8 2065.8h0m1.3 1.2h0m.1.3h0m-1.2 1.4h0m1.6 1.8h0m-.2.4h0m0 0h0m-.7 1.8h0m.6 1.6h0m2.1 6.7h0m-.7.8h0m.3.4h0m3.5 6.8h0m414.9 141.6h0m2.2 5.2h0m-1.3 2h0m.5 1.4h0m.5-.4h0m-.7 4.5h0m1 3.6h0m.3 8h0m-.1 2.4h0" stroke="#EC3A1C" stroke-width="5.8" stroke-linecap="round" fill="none"/><path d="M95.4 2019.1h0m.9.4h0m-.8.3h0m1.2 1.5h0m-.2 1h0m-.4-.9h0m-.2 2.5h0m.9.4h0m.3-.3h0m-1.6 1.3h0m.3 2.1h0m.8.3h0m-.2 1.5h0m0 .2h0m.1 1.2h0m-.2 1.6h0m-.3.5h0m.5 1.8h0m-1 .8h0m1.2.9h0m.4.7h0m-.6 1.2h0m0 2.1h0m.2.5h0m.4-.4h0m-.3 1.1h0m.2 2.7h0m-.9.1h0m.7 2.2h0m-1.2.6h0m.1.6h0m.4 0h0m.3 1.6h0m0 2.1h0m.3-.7h0m-.2 1.5h0m.9.2h0m-.7 1.1h0m.3 0h0m-1.3 1h0m1.3 2.4h0m-1.1 1.5h0m1.3.7h0m-1.4.5h0m.4 1.6h0m-.1.8h0m.1.9h0m1.1.8h0m-.8-.8h0m-.1 1.5h0m-.3 1.2h0m1.8 9.4h0m1 1.8h0m422.2 165.8h0m.3 2.3h0m.1 3.2h0m-1.1 2h0m.7 1.9h0m.2.3h0m-1 .9h0m0 1.6h0m1.1 3.2h0m-.8.5h0m.5 1.7h0m0-.8h0m-.1 1h0m.3 1.5h0m-.3 1.7h0m1.1 2.2h0m-1.1.8h0m1.2.7h0m.2 1.3h0m-.1 1.3h0m.5-.1h0m-.4.4h0m.2.5h0m-.2 2.1h0m-.9 1.2h0m1.3-.8h0m-.1 1.9h0m-.6 0h0" stroke="#E8231E" stroke-width="5.8" stroke-linecap="round" fill="none"/><path d="M522.2 2305.3h0m0 3.2h0" stroke="#F68B19" stroke-width="5.4" stroke-linecap="round" fill="none"/><path d="M96.2 1958.7h0m0 19.2h0m0 16h0m426 289h0m0 14.4h0m0 3.2h0m0 16h0m0 3h0m0 3.3h0m.8 84.7h0" stroke="#E8231E" stroke-width="5.4" stroke-linecap="round" fill="none"/><text x="95" y="1982.7" font-size="18" text-anchor="end">Irf1</text><text x="99.8" y="2021" font-size="18">Xcl1</text><text x="101.4" y="2037" font-size="18">Jund</text><text x="96.7" y="2045.6" font-size="18" text-anchor="end">Ifi47</text><text x="102.4" y="2054.6" font-size="18">Il7r</text><text x="134.3" y="2058.4" font-size="18">Fcer1g</text><text x="89.6" y="2081.7" font-size="18" text-anchor="end">Ifi208</text><text x="113.3" y="2076.3" font-size="18">Cd44</text><text x="112.6" y="2098.6" font-size="18">Cd28</text><text x="106.9" y="2113.6" font-size="18" text-anchor="end">Cd69</text><text x="134.3" y="2112" font-size="18">Cxcr6</text><text x="89.6" y="2134.4" font-size="18">Cd27</text><text x="517.6" y="2245.6" font-size="18" text-anchor="end">Klrg1</text><text x="516.6" y="2271.1" font-size="18" text-anchor="end">Ifngr1</text><text x="510.3" y="2294.1" font-size="18" text-anchor="end">Sh2d2a</text><text x="520.8" y="2313.3" font-size="18" text-anchor="end">Ccr7</text><text x="520.8" y="2334" font-size="18" text-anchor="end">H2-Eb1</text><text x="515" y="2412.3" font-size="18" text-anchor="end">Gzma</text><path d="M98.2 2065.7L130.2 2053" stroke="#111" stroke-width="1.0" fill="none"/><path d="M88.5 2076.5L98.7 2070.7" stroke="#111" stroke-width="1.0" fill="none"/><path d="M104.6 2092.9L114.2 2078.5" stroke="#111" stroke-width="1.0" fill="none"/><path d="M93.5 2099.3L101.4 2083.3" stroke="#111" stroke-width="1.0" fill="none"/><path d="M115.8 2106.6L133.4 2105" stroke="#111" stroke-width="1.0" fill="none"/><path d="M108.8 2121.6L105.6 2096" stroke="#111" stroke-width="1.0" fill="none"/><path d="M85.5 2047.5L96.7 2064.1" stroke="#111" stroke-width="1.0" fill="none"/><path d="M511.9 2289.4L521.5 2283.9" stroke="#111" stroke-width="1.0" fill="none"/><path d="M96.7 2469.8L96.7 2473.8" stroke="#444" stroke-width="1" fill="none"/><text x="96.7" y="2491" font-size="23" text-anchor="middle">0</text><path d="M188.9 2469.8L188.9 2473.8" stroke="#444" stroke-width="1" fill="none"/><text x="188.9" y="2491" font-size="23" text-anchor="middle">1000</text><path d="M281.1 2469.8L281.1 2473.8" stroke="#444" stroke-width="1" fill="none"/><text x="281.1" y="2491" font-size="23" text-anchor="middle">2000</text><path d="M373.3 2469.8L373.3 2473.8" stroke="#444" stroke-width="1" fill="none"/><text x="373.3" y="2491" font-size="23" text-anchor="middle">3000</text><path d="M465.5 2469.8L465.5 2473.8" stroke="#444" stroke-width="1" fill="none"/><text x="465.5" y="2491" font-size="23" text-anchor="middle">4000</text><path d="M70.4 1957.4L74.9 1957.4" stroke="#444" stroke-width="1" fill="none"/><text x="66.3" y="1964.9" font-size="21.5" text-anchor="end">1.0</text><path d="M70.4 2054.7L74.9 2054.7" stroke="#444" stroke-width="1" fill="none"/><text x="66.3" y="2062.2" font-size="21.5" text-anchor="end">0.5</text><path d="M70.4 2152L74.9 2152" stroke="#444" stroke-width="1" fill="none"/><text x="66.3" y="2159.5" font-size="21.5" text-anchor="end">0.0</text><path d="M70.4 2249.3L74.9 2249.3" stroke="#444" stroke-width="1" fill="none"/><text x="66.3" y="2256.8" font-size="21.5" text-anchor="end">-0.5</text><path d="M70.4 2346.6L74.9 2346.6" stroke="#444" stroke-width="1" fill="none"/><text x="66.3" y="2354.1" font-size="21.5" text-anchor="end">-1.0</text><path d="M70.4 2443.9L74.9 2443.9" stroke="#444" stroke-width="1" fill="none"/><text x="66.3" y="2451.4" font-size="21.5" text-anchor="end">-1.5</text><text x="316.3" y="2515.5" font-size="22.7" text-anchor="middle">ranking</text><text x="17.5" y="2207.8" font-size="22" text-anchor="middle" transform="rotate(-90 17.5 2207.8)">avg_logFC</text><text x="74.5" y="1921.3" font-size="26.72">DE genes in tumor infiltrating dn T cells</text><text x="567" y="1916.8" font-size="28" font-weight="bold">f</text><rect x="618.7" y="1934.3" width="470.9" height="531.8" fill="#EBEBEB"/><path d="M683.5 1934.3L683.5 2466.1" stroke="#fff" stroke-width="0.9" fill="none"/><path d="M766.9 1934.3L766.9 2466.1" stroke="#fff" stroke-width="0.9" fill="none"/><path d="M850.1 1934.3L850.1 2466.1" stroke="#fff" stroke-width="0.9" fill="none"/><path d="M933.5 1934.3L933.5 2466.1" stroke="#fff" stroke-width="0.9" fill="none"/><path d="M1016.8 1934.3L1016.8 2466.1" stroke="#fff" stroke-width="0.9" fill="none"/><path d="M641.9 1934.3L641.9 2466.1" stroke="#fff" stroke-width="1.8" fill="none"/><path d="M725.2 1934.3L725.2 2466.1" stroke="#fff" stroke-width="1.8" fill="none"/><path d="M808.5 1934.3L808.5 2466.1" stroke="#fff" stroke-width="1.8" fill="none"/><path d="M891.8 1934.3L891.8 2466.1" stroke="#fff" stroke-width="1.8" fill="none"/><path d="M975.1 1934.3L975.1 2466.1" stroke="#fff" stroke-width="1.8" fill="none"/><path d="M1058.4 1934.3L1058.4 2466.1" stroke="#fff" stroke-width="1.8" fill="none"/><path d="M618.7 2008.8L1089.6 2008.8" stroke="#fff" stroke-width="0.9" fill="none"/><path d="M618.7 2105L1089.6 2105" stroke="#fff" stroke-width="0.9" fill="none"/><path d="M618.7 2201.2L1089.6 2201.2" stroke="#fff" stroke-width="0.9" fill="none"/><path d="M618.7 2297.4L1089.6 2297.4" stroke="#fff" stroke-width="0.9" fill="none"/><path d="M618.7 2393.6L1089.6 2393.6" stroke="#fff" stroke-width="0.9" fill="none"/><path d="M618.7 1960.7L1089.6 1960.7" stroke="#fff" stroke-width="1.8" fill="none"/><path d="M618.7 2056.9L1089.6 2056.9" stroke="#fff" stroke-width="1.8" fill="none"/><path d="M618.7 2153.1L1089.6 2153.1" stroke="#fff" stroke-width="1.8" fill="none"/><path d="M618.7 2249.3L1089.6 2249.3" stroke="#fff" stroke-width="1.8" fill="none"/><path d="M618.7 2345.5L1089.6 2345.5" stroke="#fff" stroke-width="1.8" fill="none"/><path d="M618.7 2441.7L1089.6 2441.7" stroke="#fff" stroke-width="1.8" fill="none"/><path d="M649.1 2092.9h0m8.4 15.4h0m2.1 1.9h0m.7 1.4h0m.7 1.3h0m4.2 2.7h0m.4 0h0m.2.2h0m2 0h0m.3.6h0m2.4 1.2h0m.8 1.5h0m1-.9h0m1.8 1.7h0m0 .5h0m.7-1h0m0 .3h0m.8 1.3h0m2 .9h0m-.5-.4h0m1.8-.2h0m.7.7h0m-.8-.3h0m1 1.1h0m.3 0h0m1.5-.4h0m1.1 1.1h0m.8-1.1h0m.9.6h0m1.2 1.8h0m.3-.1h0m.6-1h0m.5 1.3h0m1.1.6h0m1.3.6h0m1.8-1.5h0m1.3 1.4h0m.9-.4h0m2.1 1.9h0m.6 0h0m1.4-.4h0m.8-.6h0m1.2.4h0m.7 1.2h0m-.3-1h0m1.7.1h0m.6 1.3h0m1.1.5h0m.2 0h0m0-.1h0m.7.2h0m1.8-.5h0m.4-.2h0m.8-.1h0m1.5 2h0m-.1-1.6h0m.3 1.2h0m1.1-.3h0m1.6.1h0m.7.2h0m.8 1.5h0m1.1-.1h0m.9-.6h0m.2.3h0m1.7-.1h0m1.3 1.5h0m1 .1h0m-.6-1.1h0m1.5 1.6h0m1.3-.2h0m.7-.3h0m1.1.5h0m1 .5h0m.1-.5h0m2.4-.5h0m.5 1.2h0m-.1-.3h0m2.6-.5h0m1.1 2h0m.3-1.1h0m.8 1.3h0m1.7-.6h0m.9-.7h0m.7 1.5h0m-.2-1.4h0m2.2 1.7h0m.9.4h0m1.5.6h0m-.3-.7h0m1.6 1.1h0m.9-1.8h0m.9 0h0m1.6 2.1h0m.2-1.3h0m1.9.5h0m.2 1.1h0m.1.7h0m2.1-.4h0m1.1-.9h0m-.5 1.3h0m1.5-.8h0m1.3 1.4h0m.1.2h0m1.1.3h0m1.8-1.3h0m.4.4h0m.6-.6h0m1.5 1.8h0m1.2-.7h0m-.2-.3h0m.6.3h0m2.3.1h0m1.1-.5h0m0 .9h0m.3.5h0m.9.7h0m2.1-.7h0m-.1-.6h0m1.7 2.2h0m-.2-1.3h0m2 .5h0m1.3.2h0m.2 1.2h0m.3-.2h0m.6-1.4h0m1.1.5h0m.8.8h0m2.3 1h0m.2-1.8h0m1.5.3h0m.4.7h0m.6.8h0m.2-.7h0m2.6-.6h0m-.1 1.5h0m1.8-1.3h0m.1 1.8h0m.9 0h0m0-1.2h0m1.1 1.8h0m1.9-.1h0m-.2-1.2h0m1.1-.1h0m1.3 1.7h0m1.1-1.1h0m.8 1.3h0m1-1.2h0m1.3 1.2h0m0 .1h0m.8-.7h0m1.7 1.2h0m-.2-.9h0m2.1.4h0m.6 1.2h0m.1-1.4h0m1.7.1h0m.4 1.1h0m1.3-.4h0m.3 1.4h0m2.3-.6h0m.5.5h0m-.2.2h0m1.4 0h0m1.7-.2h0m.9-1.2h0m.3.4h0m.7 0h0m0 .7h0m.9.7h0m2.2-1.1h0m1.4.7h0m.5 1.4h0m.4-1.3h0m.3 1.3h0m1.8-.9h0m1 1.5h0m-.5-.4h0m1.6-1.3h0m1.6.4h0m.4.5h0m.1 1.2h0m1.4-1.3h0m1.9 1.3h0m.9-.6h0m.8.6h0m-.1.7h0m2.2 0h0m.6.6h0m0-.4h0m1 .2h0m1.5.4h0m.4.2h0m.7-1.4h0m1.7.8h0m.8-.9h0m0 .4h0m1.3.3h0m0 1h0m1.2.3h0m1.4-.2h0m1.5-.2h0m.7-.3h0m-.1 1.3h0m1.2.4h0m1.7-1.7h0m1.2 1h0m-.3 1.1h0m1.1.1h0m.3-1.5h0m1.6 0h0m.7.9h0m.9 1h0m.7 0h0m1.3-.3h0m.8-.1h0m.5.3h0m1.1.3h0m.4-1h0m1.1.3h0m2.3 1h0m-.2.1h0m1.2-.3h0m1.2.9h0m.1-.8h0m2.1.1h0m.6 1.8h0m.3-.4h0m1-.4h0m.1.7h0m2.3-1.1h0m-.3.5h0m2 1.5h0m.8-.5h0m-.4-.1h0m2.7.4h0m.8-.4h0m.7-.1h0m-.1-.3h0m1.1.7h0m1.5-.2h0m-.1-.1h0m1.5.5h0m.3.7h0m1.4-.2h0m.9 1h0m1.3-.2h0m1.3.5h0m.1-.1h0m.3.5h0m.7-.9h0m2 1.4h0m.1-1.4h0m1.1 1h0m.8.8h0m.6-1.4h0m2.4 0h0m.5 1.1h0m-.2 1.1h0m2.3-.5h0m0 0h0m1.2-.1h0m.5 1.1h0m1.4-1.1h0m.7-.1h0m.4.1h0m1.4.6h0m1.4-.4h0m0 .6h0m1.9-.3h0m.9.9h0m-.4-.2h0m.7-.4h0m2 .9h0m1.3 1.5h0m0-.5h0m.4.6h0m1.8-1h0m.5-.6h0m1.2 2.3h0m.7-.4h0m1.4-.6h0m.5.9h0m.4-1.1h0m.5 1h0m1.1-.6h0m.8.6h0m.7.6h0m2.2-1h0m.8.9h0m-.4 1.1h0m2.5-.5h0m-.5 1.1h0m1.1-1.8h0m1.7 1h0m.1 1.2h0m.4-.5h0m1.4-1h0m.7.2h0m.8.6h0m1.5.5h0m.5-.2h0m.6-.2h0m1.8.3h0m.3 1.9h0m2.2.2h0m-.5-.4h0m2.2-.9h0m-.6 1.9h0m2.5-.3h0m1-.6h0m-.2.5h0m2.2-.2h0m-.3.2h0m.7.7h0m2.4-.7h0m.7 1.1h0m.9.3h0m.8-.8h0m.2 1.2h0m.6-.4h0m2 .7h0m.6.9h0m2 .1h0m-.3-.2h0m1.2-.4h0m.6 1.3h0m2.1-1.6h0m.1 1.5h0m1.5-1.2h0m.5 1h0m.2-.7h0m1.2 1.4h0m1.4.5h0m.5-.6h0m1.8-.5h0m1.4 1.9h0m-.6-.5h0m1.3-.1h0m1 .1h0m2.1.8h0m.9-.9h0m.4 1.4h0m.7-1h0m.8.3h0m.4 1h0m2.2-.4h0m-.7 1.2h0m2.4 0h0m0-.5h0m.9-.3h0m1.5.6h0m.6-.7h0m-.2 1.6h0m.6.8h0m1.4-1.8h0m.1.6h0m2-.3h0m1.2 1.7h0m.3-.1h0m.1-.5h0m.4.4h0m1.9 0h0m.4-.1h0m.2-.4h0m1 2.1h0m.5-.6h0m2.8 0h0m.9-.4h0m-.1 1.2h0m1.9-.1h0m1.7 0h0m.3-.2h0m2 1.8h0m.3 0h0m-.1.8h0m1.1-1.5h0m1.5-.2h0m1.2 1.8h0m.6.5h0m1.2-.4h0m.3.1h0m1 .9h0m.4-.8h0m1.3-.2h0m0 .6h0m2.1 1.1h0m.5-.9h0m-.2.4h0m1.6-.7h0m.2 1.2h0m1.4.3h0m.1.1h0m-.2-.1h0m1.1.5h0m1.9 1.2h0m-.6-.8h0m1.6-.3h0m1.2.1h0m-.4 1.8h0m.9-.3h0m1.1-.2h0m2.1.4h0m.4 1.6h0m.9 0h0m1.3.9h0m1 .8h0m1.6-.6h0m1.8.8h0m.3.4h0m1 .2h0m1.4.5h0m.5-.3h0m3.6 4h0m.2 0h0" stroke="#FFF300" stroke-width="5.8" stroke-linecap="round" fill="none"/><path d="M652.1 2096.3h0m3.8 7.6h0m.2 1.1h0m1.4 2.7h0m1.1 1.1h0m1.1 1.8h0m2.4 2h0m1.1 1.5h0m-.5.4h0m2.1-.6h0m.5 1.8h0m6.3 3.8h0m348.9 66.7h0m5.5 3.5h0m4.5 2.2h0m1.4.6h0m.8.8h0m-.2.1h0m3 1.1h0m2.9 2.6h0m.4.5h0m.1-1h0m.7 1.5h0m1.9-.3h0m1.1 2h0m1 1.6h0m1.4-.3h0m0 1.3h0m.4.6h0" stroke="#FDE209" stroke-width="5.8" stroke-linecap="round" fill="none"/><path d="M647.7 2087.1h0m.6 2h0m1.1.3h0m.7 4.6h0m.4 1.8h0m1.3 2.8h0m.7 1.6h0m.6.3h0m1.7.9h0m.2 2.3h0m.2 0h0m.7 2.9h0m3.1 3h0m9.2 7.5h0m368.8 77.6h0m.8.6h0m4.1 5.2h0m1.4.3h0m3.6 3.1h0m.6 1h0m-.5.2h0m1.4 1.1h0m0 .3h0m.6.8h0m1.8 1.4h0m-.4 2.4h0m2.6 1.6h0m-.8-.2h0m1.3 1.8h0m1.6 2.2h0m-.5.5h0" stroke="#FBCA12" stroke-width="5.8" stroke-linecap="round" fill="none"/><path d="M644.8 2070h0m-.1 2h0m1.7 7.2h0m0 2.7h0m.3 1.3h0m.9 2.2h0m.2 1.9h0m.2.9h0m.7 3.3h0m.1 1.2h0m.7 1.9h0m1.7.4h0m-.3 3.4h0m1.5.6h0m384.1 95.7h0m11.6 13.3h0m2 1.1h0m1.6 1.5h0m.3 1.6h0m1.1.9h0m2.7 3.4h0m-.4 2.4h0m1.3 1.4h0m4 7.5h0" stroke="#F8AB18" stroke-width="5.8" stroke-linecap="round" fill="none"/><path d="M644.9 2065h0m1.4 7.9h0m-1.6.7h0m1 1h0m0 0h0m1.1 2.4h0m0 1.1h0m.3 2.1h0m-.5 1.6h0m-.4 1.7h0m410.7 135.6h0m1.3 2.7h0m1 .7h0m-.2.5h0m.3 1.1h0m1.1 1.2h0m-.3 3.6h0m1.8.5h0m.5 2.7h0m.9 2.6h0" stroke="#F68B19" stroke-width="5.8" stroke-linecap="round" fill="none"/><path d="M644.1 2063.1h0m1.2 1.7h0m-.8 3h0m.8.6h0m-.5 1.3h0m1.8 5.6h0m.2 2.7h0m1.2 8.5h0m409.4 134.1h0m1.4 2.8h0m.4 2.4h0m1.7 5.3h0m1.2.7h0m-.2.6h0m.5 1.9h0m.4.6h0m1.1 2.7h0m-.5 1.2h0m.6 2.3h0m.9 3.2h0" stroke="#F36A19" stroke-width="5.8" stroke-linecap="round" fill="none"/><path d="M643.9 2054.8h0m.1.3h0m-.4 2.4h0m.5 1.3h0m.5 1.1h0m0 .9h0m-.9 1.7h0m1 4.7h0m415.7 160.9h0m3.4 10h0m.1 2.3h0m.5.1h0m2.4 15.4h0m.4 1.8h0" stroke="#EF511A" stroke-width="5.8" stroke-linecap="round" fill="none"/><path d="M643.7 2049.5h0m-.1 2h0m.4 2.1h0m-.4 1h0m-.4 2.9h0m.3-.9h0m.6 2.1h0m420.4 181.2h0m1.4 2.5h0m-.5 2.4h0m-.2 1.1h0m1.7 1.9h0m0 1.4h0m-.8.8h0m1 1.5h0m0 .2h0m.4.5h0m-.6 2.2h0m-.6-.1h0m1.6.4h0m-.9 2.7h0m.7 3.9h0m-.7 1.1h0m.8-.5h0m1 4.1h0m-.5 2.2h0m.3 1.7h0" stroke="#EC3A1C" stroke-width="5.8" stroke-linecap="round" fill="none"/><path d="M643.2 2012.1h0m-.8-.6h0m-.3.5h0m1.2.1h0m-1.3 1.8h0m-.3-.1h0m.9 0h0m-.1 2.2h0m.1.2h0m-.3 1.8h0m.7 1.2h0m0-.6h0m.3 1.6h0m.2 1.8h0m-1.4 1.3h0m.1-.9h0m.4 3h0m-.5-.7h0m1.6 1.5h0m-1.6 1.8h0m1.3.3h0m.3 2.2h0m-.3.7h0m-.6 1.7h0m-.2-.5h0m-.3 1.9h0m.7.7h0m.3 1.4h0m0 .5h0m-1.1 1.9h0m.8.9h0m-.4 1.1h0m1.1.5h0m-1.4 1.2h0m.1 1h0m1.1-.5h0m-.3 1.9h0m-.8.7h0m1 .4h0m.1 1.9h0m-.2.5h0m-.3 4.1h0m-.1.4h0m423.2 194.3h0m0 1.9h0m.9 11.2h0m.9 3.6h0m-.4 1.5h0m.6-.8h0m1.3 3.8h0m-1.6 3.2h0m.2-.8h0m.7 1.4h0m-.1.8h0m1.1 1h0m-.3 1.7h0m-1 .7h0m.4.1h0m1 1.5h0m-.7.8h0m-.5-.2h0m1.8 2.1h0m-.7 1.7h0m.8.2h0m-.4 2.5h0m-.5.3h0m.6.3h0m.7 1.8h0m-1.3-.6h0m-.2 2h0m.3-1h0m.5 1.4h0" stroke="#E8231E" stroke-width="5.8" stroke-linecap="round" fill="none"/><path d="M643 2050h0m427.7 352.3h0" stroke="#FFF300" stroke-width="5.4" stroke-linecap="round" fill="none"/><path d="M644.6 2065h0" stroke="#FDE209" stroke-width="5.4" stroke-linecap="round" fill="none"/><path d="M641.9 1960.4h0m0 15.4h0m0 20.8h0m0 2.9h0m0 2.9h0m428.3 300h0m0 2.1h0m0 2.2h0m0 11.6h0m0 7.2h0m0 3h0m0 2.8h0m0 2.9h0m0 5.8h0m.5 104.3h0" stroke="#E8231E" stroke-width="5.4" stroke-linecap="round" fill="none"/><text x="651.4" y="1964.8" font-size="18">Fos</text><text x="648.5" y="1982.2" font-size="18">Jun</text><text x="651.4" y="2001" font-size="18">Cd69</text><text x="659.8" y="2025.6" font-size="18">Ccl3</text><text x="652.9" y="2044.5" font-size="18">Cd28</text><text x="662.2" y="2063.3" font-size="18">Irf1</text><text x="658.7" y="2081.3" font-size="18">Ifi208</text><text x="646.2" y="2090.2" font-size="18" text-anchor="end">Ifi209</text><text x="654.3" y="2097.5" font-size="18">Ccl4</text><text x="691.1" y="2102.4" font-size="18">Cd160</text><text x="647.7" y="2106.2" font-size="18" text-anchor="end">Itgax</text><text x="665" y="2131.4" font-size="18" text-anchor="end">Cxcr3</text><text x="662.2" y="2145.9" font-size="18">Xcl1</text><text x="1064.9" y="2247.3" font-size="18" text-anchor="end">Xbp1</text><text x="1067.8" y="2264.7" font-size="18" text-anchor="end">H2-Aa</text><text x="1069.3" y="2292.2" font-size="18" text-anchor="end">Gm45716</text><text x="1075.1" y="2302.4" font-size="18">Dusp2</text><text x="1053.3" y="2311" font-size="18" text-anchor="end">Sh2d2a</text><text x="1054.8" y="2331.3" font-size="18" text-anchor="end">Serpinb9</text><text x="1075.7" y="2327" font-size="18">Gzmb</text><text x="1075.1" y="2347.3" font-size="18">Stat3</text><text x="1050.5" y="2356" font-size="18" text-anchor="end">Hist1h1e</text><text x="1053.3" y="2380.6" font-size="18" text-anchor="end">Irf8</text><text x="1067.8" y="2408.1" font-size="18" text-anchor="end">Gzmc</text><text x="1067.8" y="2450.1" font-size="18" text-anchor="end">Cd74</text><path d="M642.5 1999L647.7 1995" stroke="#111" stroke-width="1.0" fill="none"/><path d="M642.5 2028.5L655.8 2022.7" stroke="#111" stroke-width="1.0" fill="none"/><path d="M644.8 2066.2L657.8 2059" stroke="#111" stroke-width="1.0" fill="none"/><path d="M646.2 2083.6L654.9 2076.3" stroke="#111" stroke-width="1.0" fill="none"/><path d="M659.3 2106.8L689.7 2095.2" stroke="#111" stroke-width="1.0" fill="none"/><path d="M649.1 2115.5L650.6 2101" stroke="#111" stroke-width="1.0" fill="none"/><path d="M669.4 2127L659.3 2106.8" stroke="#111" stroke-width="1.0" fill="none"/><path d="M1053.3 2305.3L1069.3 2304.7" stroke="#111" stroke-width="1.0" fill="none"/><path d="M1054.8 2325.7L1069.3 2318.4" stroke="#111" stroke-width="1.0" fill="none"/><path d="M1050.5 2345.8L1069.3 2328.4" stroke="#111" stroke-width="1.0" fill="none"/><path d="M1053.3 2364.7L1070.7 2329.9" stroke="#111" stroke-width="1.0" fill="none"/><path d="M1070.7 2319L1074.5 2316" stroke="#111" stroke-width="1.0" fill="none"/><path d="M641.9 2466.1L641.9 2470.1" stroke="#444" stroke-width="1" fill="none"/><text x="641.9" y="2490.6" font-size="23" text-anchor="middle">0</text><path d="M725.2 2466.1L725.2 2470.1" stroke="#444" stroke-width="1" fill="none"/><text x="725.2" y="2490.6" font-size="23" text-anchor="middle">1000</text><path d="M808.5 2466.1L808.5 2470.1" stroke="#444" stroke-width="1" fill="none"/><text x="808.5" y="2490.6" font-size="23" text-anchor="middle">2000</text><path d="M891.8 2466.1L891.8 2470.1" stroke="#444" stroke-width="1" fill="none"/><text x="891.8" y="2490.6" font-size="23" text-anchor="middle">3000</text><path d="M975.1 2466.1L975.1 2470.1" stroke="#444" stroke-width="1" fill="none"/><text x="975.1" y="2490.6" font-size="23" text-anchor="middle">4000</text><path d="M1058.4 2466.1L1058.4 2470.1" stroke="#444" stroke-width="1" fill="none"/><text x="1058.4" y="2490.6" font-size="23" text-anchor="middle">5000</text><text x="614.2" y="1968.2" font-size="21.5" text-anchor="end">1.0</text><text x="614.2" y="2064.4" font-size="21.5" text-anchor="end">0.5</text><text x="614.2" y="2160.6" font-size="21.5" text-anchor="end">0.0</text><text x="614.2" y="2256.8" font-size="21.5" text-anchor="end">-0.5</text><text x="614.2" y="2353" font-size="21.5" text-anchor="end">-1.0</text><text x="614.2" y="2449.2" font-size="21.5" text-anchor="end">-1.5</text><text x="860" y="2514" font-size="22.7" text-anchor="middle">ranking</text><text x="574.5" y="2205.7" font-size="22" text-anchor="middle" transform="rotate(-90 574.5 2205.7)">avg_logFC</text><text x="630.6" y="1920.7" font-size="26.72">DE genes in tumor infiltrating NK cells</text><defs><linearGradient id="pv" x1="0" y1="1" x2="0" y2="0"><stop offset="0" stop-color="#FF2212"/><stop offset="0.25" stop-color="#FF6A05"/><stop offset="0.5" stop-color="#FF9D00"/><stop offset="0.75" stop-color="#FFCB00"/><stop offset="1" stop-color="#FFFF00"/></linearGradient></defs><rect x="1120.1" y="1965.6" width="23.6" height="163" fill="url(#pv)"/><path d="M1120.1 2006L1124.5 2006" stroke="#fff" stroke-width="0.8" fill="none"/><path d="M1139.3 2006L1143.7 2006" stroke="#fff" stroke-width="0.8" fill="none"/><path d="M1120.1 2049.7L1124.5 2049.7" stroke="#fff" stroke-width="0.8" fill="none"/><path d="M1139.3 2049.7L1143.7 2049.7" stroke="#fff" stroke-width="0.8" fill="none"/><path d="M1120.1 2092.5L1124.5 2092.5" stroke="#fff" stroke-width="0.8" fill="none"/><path d="M1139.3 2092.5L1143.7 2092.5" stroke="#fff" stroke-width="0.8" fill="none"/><text x="1123" y="1949.2" font-size="22.6">p val</text><text x="1149.4" y="1980" font-size="22.7">0.020</text><text x="1149.4" y="2012.7" font-size="22.7">0.015</text><text x="1149.4" y="2055" font-size="22.7">0.010</text><text x="1149.4" y="2097.8" font-size="22.7">0.005</text><text x="1149.4" y="2134.3" font-size="22.7">0.000</text></svg></body></html>
